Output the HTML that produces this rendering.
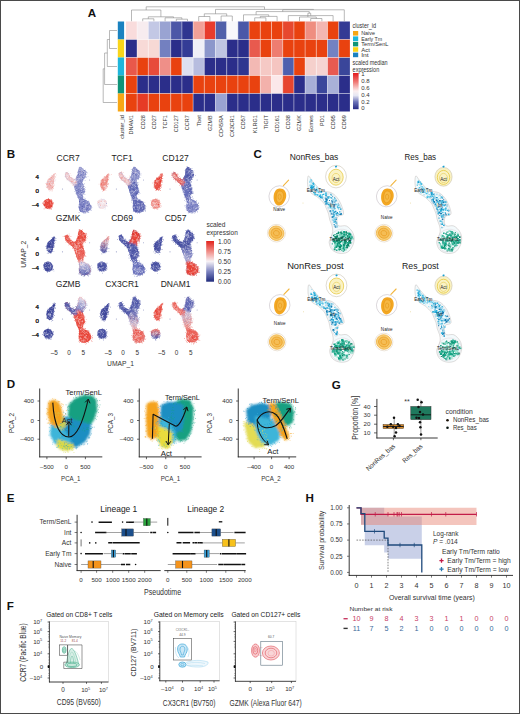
<!DOCTYPE html>
<html><head><meta charset="utf-8"><style>html,body{margin:0;padding:0;background:#fff;overflow:hidden}svg{display:block}</style></head>
<body><svg width="520" height="714" viewBox="0 0 520 714" font-family='"Liberation Sans", sans-serif'>
<rect x="0" y="0" width="520" height="714" fill="#fff"/>
<rect x="117.80" y="21.50" width="6.30" height="18.00" fill="#1a82c0"/>
<rect x="117.80" y="39.50" width="6.30" height="18.00" fill="#f9d51a"/>
<rect x="117.80" y="57.50" width="6.30" height="18.00" fill="#1fb6db"/>
<rect x="117.80" y="75.50" width="6.30" height="18.00" fill="#0f9478"/>
<rect x="117.80" y="93.50" width="6.30" height="18.00" fill="#f7a614"/>
<rect x="125.90" y="21.50" width="11.20" height="18.00" fill="#f9dcdc"/>
<rect x="137.10" y="21.50" width="11.20" height="18.00" fill="#f7ecef"/>
<rect x="148.30" y="21.50" width="11.20" height="18.00" fill="#c3c8e5"/>
<rect x="159.50" y="21.50" width="11.20" height="18.00" fill="#99a3d2"/>
<rect x="170.70" y="21.50" width="11.20" height="18.00" fill="#4c57a7"/>
<rect x="181.90" y="21.50" width="11.20" height="18.00" fill="#2f3590"/>
<rect x="193.10" y="21.50" width="11.20" height="18.00" fill="#f2a097"/>
<rect x="204.30" y="21.50" width="11.20" height="18.00" fill="#e83c2c"/>
<rect x="215.50" y="21.50" width="11.20" height="18.00" fill="#5060aa"/>
<rect x="226.70" y="21.50" width="11.20" height="18.00" fill="#f8f8fb"/>
<rect x="237.90" y="21.50" width="11.20" height="18.00" fill="#4a58a8"/>
<rect x="249.10" y="21.50" width="11.20" height="18.00" fill="#e9420f"/>
<rect x="260.30" y="21.50" width="11.20" height="18.00" fill="#e9420f"/>
<rect x="271.50" y="21.50" width="11.20" height="18.00" fill="#e9420f"/>
<rect x="282.70" y="21.50" width="11.20" height="18.00" fill="#e7482e"/>
<rect x="293.90" y="21.50" width="11.20" height="18.00" fill="#e9420f"/>
<rect x="305.10" y="21.50" width="11.20" height="18.00" fill="#ef8e80"/>
<rect x="316.30" y="21.50" width="11.20" height="18.00" fill="#f3b6b1"/>
<rect x="327.50" y="21.50" width="11.20" height="18.00" fill="#e9420f"/>
<rect x="338.70" y="21.50" width="11.20" height="18.00" fill="#333a94"/>
<rect x="125.90" y="39.50" width="11.20" height="18.00" fill="#2b2e8a"/>
<rect x="137.10" y="39.50" width="11.20" height="18.00" fill="#f8dad7"/>
<rect x="148.30" y="39.50" width="11.20" height="18.00" fill="#f7d9d5"/>
<rect x="159.50" y="39.50" width="11.20" height="18.00" fill="#7380c0"/>
<rect x="170.70" y="39.50" width="11.20" height="18.00" fill="#2b2e8a"/>
<rect x="181.90" y="39.50" width="11.20" height="18.00" fill="#343c96"/>
<rect x="193.10" y="39.50" width="11.20" height="18.00" fill="#f0f0f7"/>
<rect x="204.30" y="39.50" width="11.20" height="18.00" fill="#8c97cb"/>
<rect x="215.50" y="39.50" width="11.20" height="18.00" fill="#bfc5e2"/>
<rect x="226.70" y="39.50" width="11.20" height="18.00" fill="#2b2e8a"/>
<rect x="237.90" y="39.50" width="11.20" height="18.00" fill="#2b2e8a"/>
<rect x="249.10" y="39.50" width="11.20" height="18.00" fill="#e85a4e"/>
<rect x="260.30" y="39.50" width="11.20" height="18.00" fill="#e9420f"/>
<rect x="271.50" y="39.50" width="11.20" height="18.00" fill="#ee7d70"/>
<rect x="282.70" y="39.50" width="11.20" height="18.00" fill="#e9420f"/>
<rect x="293.90" y="39.50" width="11.20" height="18.00" fill="#e9420f"/>
<rect x="305.10" y="39.50" width="11.20" height="18.00" fill="#e9420f"/>
<rect x="316.30" y="39.50" width="11.20" height="18.00" fill="#e9420f"/>
<rect x="327.50" y="39.50" width="11.20" height="18.00" fill="#7282c2"/>
<rect x="338.70" y="39.50" width="11.20" height="18.00" fill="#e9420f"/>
<rect x="125.90" y="57.50" width="11.20" height="18.00" fill="#e9584a"/>
<rect x="137.10" y="57.50" width="11.20" height="18.00" fill="#e9420f"/>
<rect x="148.30" y="57.50" width="11.20" height="18.00" fill="#e74b3b"/>
<rect x="159.50" y="57.50" width="11.20" height="18.00" fill="#ef8f88"/>
<rect x="170.70" y="57.50" width="11.20" height="18.00" fill="#e9420f"/>
<rect x="181.90" y="57.50" width="11.20" height="18.00" fill="#dde0f0"/>
<rect x="193.10" y="57.50" width="11.20" height="18.00" fill="#b7bddf"/>
<rect x="204.30" y="57.50" width="11.20" height="18.00" fill="#2b2e8a"/>
<rect x="215.50" y="57.50" width="11.20" height="18.00" fill="#2b2e8a"/>
<rect x="226.70" y="57.50" width="11.20" height="18.00" fill="#2b2e8a"/>
<rect x="237.90" y="57.50" width="11.20" height="18.00" fill="#2e3690"/>
<rect x="249.10" y="57.50" width="11.20" height="18.00" fill="#f3b9b4"/>
<rect x="260.30" y="57.50" width="11.20" height="18.00" fill="#f5c9c5"/>
<rect x="271.50" y="57.50" width="11.20" height="18.00" fill="#f5c5c1"/>
<rect x="282.70" y="57.50" width="11.20" height="18.00" fill="#4f5fae"/>
<rect x="293.90" y="57.50" width="11.20" height="18.00" fill="#e9420f"/>
<rect x="305.10" y="57.50" width="11.20" height="18.00" fill="#f5d0cc"/>
<rect x="316.30" y="57.50" width="11.20" height="18.00" fill="#f6d4d2"/>
<rect x="327.50" y="57.50" width="11.20" height="18.00" fill="#e85a50"/>
<rect x="338.70" y="57.50" width="11.20" height="18.00" fill="#3a469a"/>
<rect x="125.90" y="75.50" width="11.20" height="18.00" fill="#e9420f"/>
<rect x="137.10" y="75.50" width="11.20" height="18.00" fill="#2b2e8a"/>
<rect x="148.30" y="75.50" width="11.20" height="18.00" fill="#2b2e8a"/>
<rect x="159.50" y="75.50" width="11.20" height="18.00" fill="#2b2e8a"/>
<rect x="170.70" y="75.50" width="11.20" height="18.00" fill="#2b2e8a"/>
<rect x="181.90" y="75.50" width="11.20" height="18.00" fill="#2b2e8a"/>
<rect x="193.10" y="75.50" width="11.20" height="18.00" fill="#e9420f"/>
<rect x="204.30" y="75.50" width="11.20" height="18.00" fill="#e9420f"/>
<rect x="215.50" y="75.50" width="11.20" height="18.00" fill="#e9420f"/>
<rect x="226.70" y="75.50" width="11.20" height="18.00" fill="#e9420f"/>
<rect x="237.90" y="75.50" width="11.20" height="18.00" fill="#e9420f"/>
<rect x="249.10" y="75.50" width="11.20" height="18.00" fill="#e9420f"/>
<rect x="260.30" y="75.50" width="11.20" height="18.00" fill="#f3b1ab"/>
<rect x="271.50" y="75.50" width="11.20" height="18.00" fill="#fbe8ea"/>
<rect x="282.70" y="75.50" width="11.20" height="18.00" fill="#e7452f"/>
<rect x="293.90" y="75.50" width="11.20" height="18.00" fill="#2b2e8a"/>
<rect x="305.10" y="75.50" width="11.20" height="18.00" fill="#a7afd7"/>
<rect x="316.30" y="75.50" width="11.20" height="18.00" fill="#3b479b"/>
<rect x="327.50" y="75.50" width="11.20" height="18.00" fill="#a9b1d8"/>
<rect x="338.70" y="75.50" width="11.20" height="18.00" fill="#2b2e8a"/>
<rect x="125.90" y="93.50" width="11.20" height="18.00" fill="#e9420f"/>
<rect x="137.10" y="93.50" width="11.20" height="18.00" fill="#e63b25"/>
<rect x="148.30" y="93.50" width="11.20" height="18.00" fill="#e9420f"/>
<rect x="159.50" y="93.50" width="11.20" height="18.00" fill="#e9420f"/>
<rect x="170.70" y="93.50" width="11.20" height="18.00" fill="#e9420f"/>
<rect x="181.90" y="93.50" width="11.20" height="18.00" fill="#e9420f"/>
<rect x="193.10" y="93.50" width="11.20" height="18.00" fill="#2b2e8a"/>
<rect x="204.30" y="93.50" width="11.20" height="18.00" fill="#2b2e8a"/>
<rect x="215.50" y="93.50" width="11.20" height="18.00" fill="#9aa3d2"/>
<rect x="226.70" y="93.50" width="11.20" height="18.00" fill="#2b2e8a"/>
<rect x="237.90" y="93.50" width="11.20" height="18.00" fill="#2b2e8a"/>
<rect x="249.10" y="93.50" width="11.20" height="18.00" fill="#2b2e8a"/>
<rect x="260.30" y="93.50" width="11.20" height="18.00" fill="#2b2e8a"/>
<rect x="271.50" y="93.50" width="11.20" height="18.00" fill="#2b2e8a"/>
<rect x="282.70" y="93.50" width="11.20" height="18.00" fill="#2b2e8a"/>
<rect x="293.90" y="93.50" width="11.20" height="18.00" fill="#2b2e8a"/>
<rect x="305.10" y="93.50" width="11.20" height="18.00" fill="#2b2e8a"/>
<rect x="316.30" y="93.50" width="11.20" height="18.00" fill="#2b2e8a"/>
<rect x="327.50" y="93.50" width="11.20" height="18.00" fill="#2b2e8a"/>
<rect x="338.70" y="93.50" width="11.20" height="18.00" fill="#2b2e8a"/>
<line x1="137.10" y1="21.50" x2="137.10" y2="111.50" stroke="#ffffff" stroke-width="0.7" stroke-opacity="0.6"/>
<line x1="148.30" y1="21.50" x2="148.30" y2="111.50" stroke="#ffffff" stroke-width="0.7" stroke-opacity="0.6"/>
<line x1="159.50" y1="21.50" x2="159.50" y2="111.50" stroke="#ffffff" stroke-width="0.7" stroke-opacity="0.6"/>
<line x1="170.70" y1="21.50" x2="170.70" y2="111.50" stroke="#ffffff" stroke-width="0.7" stroke-opacity="0.6"/>
<line x1="181.90" y1="21.50" x2="181.90" y2="111.50" stroke="#ffffff" stroke-width="0.7" stroke-opacity="0.6"/>
<line x1="193.10" y1="21.50" x2="193.10" y2="111.50" stroke="#ffffff" stroke-width="0.7" stroke-opacity="0.6"/>
<line x1="204.30" y1="21.50" x2="204.30" y2="111.50" stroke="#ffffff" stroke-width="0.7" stroke-opacity="0.6"/>
<line x1="215.50" y1="21.50" x2="215.50" y2="111.50" stroke="#ffffff" stroke-width="0.7" stroke-opacity="0.6"/>
<line x1="226.70" y1="21.50" x2="226.70" y2="111.50" stroke="#ffffff" stroke-width="0.7" stroke-opacity="0.6"/>
<line x1="237.90" y1="21.50" x2="237.90" y2="111.50" stroke="#ffffff" stroke-width="0.7" stroke-opacity="0.6"/>
<line x1="249.10" y1="21.50" x2="249.10" y2="111.50" stroke="#ffffff" stroke-width="0.7" stroke-opacity="0.6"/>
<line x1="260.30" y1="21.50" x2="260.30" y2="111.50" stroke="#ffffff" stroke-width="0.7" stroke-opacity="0.6"/>
<line x1="271.50" y1="21.50" x2="271.50" y2="111.50" stroke="#ffffff" stroke-width="0.7" stroke-opacity="0.6"/>
<line x1="282.70" y1="21.50" x2="282.70" y2="111.50" stroke="#ffffff" stroke-width="0.7" stroke-opacity="0.6"/>
<line x1="293.90" y1="21.50" x2="293.90" y2="111.50" stroke="#ffffff" stroke-width="0.7" stroke-opacity="0.6"/>
<line x1="305.10" y1="21.50" x2="305.10" y2="111.50" stroke="#ffffff" stroke-width="0.7" stroke-opacity="0.6"/>
<line x1="316.30" y1="21.50" x2="316.30" y2="111.50" stroke="#ffffff" stroke-width="0.7" stroke-opacity="0.6"/>
<line x1="327.50" y1="21.50" x2="327.50" y2="111.50" stroke="#ffffff" stroke-width="0.7" stroke-opacity="0.6"/>
<line x1="338.70" y1="21.50" x2="338.70" y2="111.50" stroke="#ffffff" stroke-width="0.7" stroke-opacity="0.6"/>
<line x1="125.90" y1="39.50" x2="349.90" y2="39.50" stroke="#ffffff" stroke-width="0.7" stroke-opacity="0.6"/>
<line x1="125.90" y1="57.50" x2="349.90" y2="57.50" stroke="#ffffff" stroke-width="0.7" stroke-opacity="0.6"/>
<line x1="125.90" y1="75.50" x2="349.90" y2="75.50" stroke="#ffffff" stroke-width="0.7" stroke-opacity="0.6"/>
<line x1="125.90" y1="93.50" x2="349.90" y2="93.50" stroke="#ffffff" stroke-width="0.7" stroke-opacity="0.6"/>
<text x="123.70" y="115.20" font-size="5.5" text-anchor="end" fill="#333" transform="rotate(-90 123.7 115.2)">cluster_id</text>
<text x="133.50" y="115.20" font-size="5.5" text-anchor="end" fill="#333" transform="rotate(-90 133.5 115.2)">DNAM1</text>
<text x="144.70" y="115.20" font-size="5.5" text-anchor="end" fill="#333" transform="rotate(-90 144.7 115.2)">CD28</text>
<text x="155.90" y="115.20" font-size="5.5" text-anchor="end" fill="#333" transform="rotate(-90 155.9 115.2)">CD27</text>
<text x="167.10" y="115.20" font-size="5.5" text-anchor="end" fill="#333" transform="rotate(-90 167.1 115.2)">TCF1</text>
<text x="178.30" y="115.20" font-size="5.5" text-anchor="end" fill="#333" transform="rotate(-90 178.3 115.2)">CD127</text>
<text x="189.50" y="115.20" font-size="5.5" text-anchor="end" fill="#333" transform="rotate(-90 189.5 115.2)">CCR7</text>
<text x="200.70" y="115.20" font-size="5.5" text-anchor="end" fill="#333" transform="rotate(-90 200.7 115.2)">Tbet</text>
<text x="211.90" y="115.20" font-size="5.5" text-anchor="end" fill="#333" transform="rotate(-90 211.9 115.2)">GZMB</text>
<text x="223.10" y="115.20" font-size="5.5" text-anchor="end" fill="#333" transform="rotate(-90 223.1 115.2)">CD45RA</text>
<text x="234.30" y="115.20" font-size="5.5" text-anchor="end" fill="#333" transform="rotate(-90 234.3 115.2)">CX3CR1</text>
<text x="245.50" y="115.20" font-size="5.5" text-anchor="end" fill="#333" transform="rotate(-90 245.5 115.2)">CD57</text>
<text x="256.70" y="115.20" font-size="5.5" text-anchor="end" fill="#333" transform="rotate(-90 256.7 115.2)">KLRG1</text>
<text x="267.90" y="115.20" font-size="5.5" text-anchor="end" fill="#333" transform="rotate(-90 267.9 115.2)">TIGIT</text>
<text x="279.10" y="115.20" font-size="5.5" text-anchor="end" fill="#333" transform="rotate(-90 279.1 115.2)">CD161</text>
<text x="290.30" y="115.20" font-size="5.5" text-anchor="end" fill="#333" transform="rotate(-90 290.29999999999995 115.2)">CD38</text>
<text x="301.50" y="115.20" font-size="5.5" text-anchor="end" fill="#333" transform="rotate(-90 301.5 115.2)">GZMK</text>
<text x="312.70" y="115.20" font-size="5.5" text-anchor="end" fill="#333" transform="rotate(-90 312.7 115.2)">Eomes</text>
<text x="323.90" y="115.20" font-size="5.5" text-anchor="end" fill="#333" transform="rotate(-90 323.9 115.2)">PD1</text>
<text x="335.10" y="115.20" font-size="5.5" text-anchor="end" fill="#333" transform="rotate(-90 335.1 115.2)">CD95</text>
<text x="346.30" y="115.20" font-size="5.5" text-anchor="end" fill="#333" transform="rotate(-90 346.29999999999995 115.2)">CD69</text>
<path d="M117,30.5 H109.5 V48.5 H117 M109.5,39.5 H107.3 V66.5 H117 M107.3,53.0 H104.6 V84.5 H117 M104.6,68.8 H103.2 V102.5 H117" stroke="#8a8a8a" stroke-width="0.6" fill="none"/>
<path d="M142.7,21.2 V18.8 H153.9 V21.2" stroke="#8a8a8a" stroke-width="0.6" fill="none"/>
<path d="M176.3,21.2 V19.2 H187.5 V21.2" stroke="#8a8a8a" stroke-width="0.6" fill="none"/>
<path d="M165.1,21.2 V17.8 H181.9 V19.2" stroke="#8a8a8a" stroke-width="0.6" fill="none"/>
<path d="M148.3,18.8 V16.8 H173.5 V17.8" stroke="#8a8a8a" stroke-width="0.6" fill="none"/>
<path d="M131.5,21.2 V10.0 H160.9 V16.8" stroke="#8a8a8a" stroke-width="0.6" fill="none"/>
<path d="M198.7,21.2 V16.5 H209.9 V21.2" stroke="#8a8a8a" stroke-width="0.6" fill="none"/>
<path d="M221.1,21.2 V16.0 H232.3 V21.2" stroke="#8a8a8a" stroke-width="0.6" fill="none"/>
<path d="M204.3,16.5 V13.8 H226.7 V16.0" stroke="#8a8a8a" stroke-width="0.6" fill="none"/>
<path d="M254.7,21.2 V17.8 H265.9 V21.2" stroke="#8a8a8a" stroke-width="0.6" fill="none"/>
<path d="M260.3,17.8 V16.4 H277.1 V21.2" stroke="#8a8a8a" stroke-width="0.6" fill="none"/>
<path d="M243.5,21.2 V14.8 H268.7 V16.4" stroke="#8a8a8a" stroke-width="0.6" fill="none"/>
<path d="M310.7,21.2 V18.5 H321.9 V21.2" stroke="#8a8a8a" stroke-width="0.6" fill="none"/>
<path d="M299.5,21.2 V17.0 H316.3 V18.5" stroke="#8a8a8a" stroke-width="0.6" fill="none"/>
<path d="M288.3,21.2 V15.6 H333.1 V21.2" stroke="#8a8a8a" stroke-width="0.6" fill="none"/>
<path d="M307.9,17.0 V13.2 H310.7 V15.6" stroke="#8a8a8a" stroke-width="0.6" fill="none"/>
<path d="M256.1,14.8 V11.6 H309.3 V13.2" stroke="#8a8a8a" stroke-width="0.6" fill="none"/>
<path d="M282.7,11.6 V9.8 H344.3 V21.2" stroke="#8a8a8a" stroke-width="0.6" fill="none"/>
<path d="M215.5,13.8 V9.4 H313.5 V9.8" stroke="#8a8a8a" stroke-width="0.6" fill="none"/>
<path d="M146.2,10.0 V6.8 H264.5 V9.4" stroke="#8a8a8a" stroke-width="0.6" fill="none"/>
<text x="352.60" y="28.20" font-size="6.4" fill="#333" textLength="23.5" lengthAdjust="spacingAndGlyphs">cluster_id</text>
<rect x="353.00" y="31.00" width="5.20" height="4.60" fill="#f7a614"/>
<text x="361.20" y="35.30" font-size="6.0" fill="#333" textLength="13.8" lengthAdjust="spacingAndGlyphs">Naive</text>
<rect x="353.00" y="36.40" width="5.20" height="4.60" fill="#1fb6db"/>
<text x="361.20" y="40.70" font-size="6.0" fill="#333" textLength="21.0" lengthAdjust="spacingAndGlyphs">Early Tm</text>
<rect x="353.00" y="41.80" width="5.20" height="4.60" fill="#0f9478"/>
<text x="361.20" y="46.10" font-size="6.0" fill="#333" textLength="27.2" lengthAdjust="spacingAndGlyphs">Term/SenL</text>
<rect x="353.00" y="47.20" width="5.20" height="4.60" fill="#f9d51a"/>
<text x="361.20" y="51.50" font-size="6.0" fill="#333" textLength="8.6" lengthAdjust="spacingAndGlyphs">Act</text>
<rect x="353.00" y="52.60" width="5.20" height="4.60" fill="#1a82c0"/>
<text x="361.20" y="56.90" font-size="6.0" fill="#333" textLength="7.5" lengthAdjust="spacingAndGlyphs">Int</text>
<text x="352.60" y="65.20" font-size="6.4" fill="#333" textLength="35" lengthAdjust="spacingAndGlyphs">scaled median</text>
<text x="352.60" y="71.80" font-size="6.4" fill="#333" textLength="26.6" lengthAdjust="spacingAndGlyphs">expression</text>
<defs><linearGradient id="hmg" x1="0" y1="0" x2="0" y2="1"><stop offset="0" stop-color="#e31a1c"/><stop offset="0.25" stop-color="#f07a76"/><stop offset="0.5" stop-color="#fbeff0"/><stop offset="0.62" stop-color="#e6e7f3"/><stop offset="0.8" stop-color="#6c73b8"/><stop offset="1" stop-color="#262a85"/></linearGradient></defs>
<rect x="353.00" y="73.00" width="5.60" height="36.20" fill="url(#hmg)"/>
<text x="361.20" y="76.40" font-size="6.0" fill="#333">1</text>
<text x="361.20" y="83.20" font-size="6.0" fill="#333">0.8</text>
<text x="361.20" y="90.00" font-size="6.0" fill="#333">0.6</text>
<text x="361.20" y="96.80" font-size="6.0" fill="#333">0.4</text>
<text x="361.20" y="103.60" font-size="6.0" fill="#333">0.2</text>
<text x="361.20" y="110.40" font-size="6.0" fill="#333">0</text>
<defs><filter id="bb" x="-20%" y="-20%" width="140%" height="140%"><feGaussianBlur stdDeviation="0.9"/></filter><clipPath id="mclip"><polygon points="-3.8,-17.8 -1.5,-19.0 0.2,-17.3 1.4,-14.4 3.7,-12.6 6.4,-11.4 9.0,-16.3 9.7,-21.6 11.2,-24.2 12.9,-23.6 14.7,-21.3 17.0,-20.1 17.6,-16.1 16.4,-12.6 14.7,-11.5 14.1,-8.6 14.7,-5.7 15.8,-2.3 16.4,1.8 15.2,2.9 14.1,4.7 14.7,8.1 17.6,9.3 20.4,11.0 22.2,14.5 22.2,18.5 19.9,20.8 16.4,22.0 12.9,21.4 10.6,19.7 10.1,16.2 10.6,11.6 10.1,8.1 8.3,4.7 7.2,1.2 6.0,-2.3 4.9,-5.7 2.6,-8.0 -0.3,-10.3 -2.6,-12.6 -3.8,-15.0"/></clipPath></defs>
<g transform="translate(68.6,190.8)"><polygon points="-13.6,-17.3 -14.2,-12.6 -15.0,-8.6 -15.7,-4.0 -17.1,-1.1 -19.4,-0.5 -21.7,-3.4 -22.3,-6.9 -21.4,-10.3 -19.4,-12.6 -17.1,-14.4 -15.0,-16.7" fill="#f1b7b6" stroke="none" stroke-width="0.5"/><polygon points="-24.0,9.3 -20.5,7.9 -17.1,9.3 -15.7,12.7 -16.5,16.2 -19.4,17.9 -22.8,17.4 -24.9,14.5 -25.1,11.0" fill="#e8483d" stroke="none" stroke-width="0.5"/><g clip-path="url(#mclip)"><polygon points="-3.8,-17.8 -1.5,-19.0 0.2,-17.3 1.4,-14.4 3.7,-12.6 6.4,-11.4 9.0,-16.3 9.7,-21.6 11.2,-24.2 12.9,-23.6 14.7,-21.3 17.0,-20.1 17.6,-16.1 16.4,-12.6 14.7,-11.5 14.1,-8.6 14.7,-5.7 15.8,-2.3 16.4,1.8 15.2,2.9 14.1,4.7 14.7,8.1 17.6,9.3 20.4,11.0 22.2,14.5 22.2,18.5 19.9,20.8 16.4,22.0 12.9,21.4 10.6,19.7 10.1,16.2 10.6,11.6 10.1,8.1 8.3,4.7 7.2,1.2 6.0,-2.3 4.9,-5.7 2.6,-8.0 -0.3,-10.3 -2.6,-12.6 -3.8,-15.0" fill="#858bc8" stroke="none" stroke-width="0.5"/><g filter="url(#bb)"><polygon points="-3.8,-17.8 -1.5,-19.0 0.2,-17.3 1.4,-14.4 3.7,-12.6 6.4,-11.4 8.9,-10.3 7.9,-4.8 4.9,-5.7 2.6,-8.0 -0.3,-10.3 -2.6,-12.6 -3.8,-15.0" fill="#f2ccce" stroke="#f2ccce" stroke-width="1.2"/><polygon points="6.4,-11.4 9.0,-16.3 9.7,-21.6 11.2,-24.2 12.9,-23.6 14.7,-21.3 17.0,-20.1 17.6,-16.1 16.4,-12.6 14.7,-11.5 14.1,-8.6 8.9,-10.3" fill="#9094cc" stroke="#9094cc" stroke-width="1.2"/><polygon points="8.9,-10.3 14.1,-8.6 14.7,-5.7 15.8,-2.3 16.4,1.8 15.2,2.9 14.1,4.7 14.7,8.1 10.4,8.7 10.1,8.1 8.3,4.7 7.2,1.2 6.0,-2.3 4.9,-5.7 7.9,-4.8" fill="#858bc8" stroke="#858bc8" stroke-width="1.2"/><polygon points="14.7,8.1 17.6,9.3 20.4,11.0 22.2,14.5 22.2,18.5 19.9,20.8 16.4,22.0 12.9,21.4 10.6,19.7 10.1,16.2 10.6,11.6 10.4,8.7" fill="#7b81c4" stroke="#7b81c4" stroke-width="1.2"/></g></g><path d="M-17.6 -11.3h.65v.65h-.65zM-14.7 -15.7h.65v.65h-.65zM-16.6 -11.2h.65v.65h-.65zM-19.3 -2.0h.65v.65h-.65zM-16.8 -5.7h.65v.65h-.65zM-19.0 -10.7h.65v.65h-.65zM-19.5 -11.3h.65v.65h-.65zM-20.3 -3.0h.65v.65h-.65zM-15.2 -12.0h.65v.65h-.65zM-20.7 -8.6h.65v.65h-.65zM-18.9 -0.9h.65v.65h-.65zM-18.6 -2.2h.65v.65h-.65zM-17.6 -8.5h.65v.65h-.65zM-14.6 -15.4h.65v.65h-.65zM-18.7 -1.5h.65v.65h-.65zM-21.6 -8.4h.65v.65h-.65zM-18.2 -1.1h.65v.65h-.65zM-15.6 -13.3h.65v.65h-.65zM-16.0 -13.8h.65v.65h-.65zM-16.8 -6.3h.65v.65h-.65zM-20.9 10.3h.65v.65h-.65zM-17.0 13.0h.65v.65h-.65zM-16.2 12.7h.65v.65h-.65zM-17.7 16.7h.65v.65h-.65zM-21.2 10.4h.65v.65h-.65zM-24.7 11.1h.65v.65h-.65zM-20.7 13.9h.65v.65h-.65zM-18.6 12.0h.65v.65h-.65zM-17.9 13.0h.65v.65h-.65zM-24.1 11.7h.65v.65h-.65zM-18.7 11.5h.65v.65h-.65zM-21.8 17.3h.65v.65h-.65zM-21.3 16.4h.65v.65h-.65zM-23.6 15.7h.65v.65h-.65zM-24.7 12.9h.65v.65h-.65zM-17.9 9.5h.65v.65h-.65zM-1.4 -13.9h.65v.65h-.65zM3.9 -9.6h.65v.65h-.65zM-0.1 -16.5h.65v.65h-.65zM4.2 -6.9h.65v.65h-.65zM-1.4 -13.4h.65v.65h-.65zM3.4 -7.9h.65v.65h-.65zM4.2 -12.1h.65v.65h-.65zM5.0 -5.8h.65v.65h-.65zM3.7 -9.4h.65v.65h-.65zM-2.6 -16.1h.65v.65h-.65zM4.3 -12.3h.65v.65h-.65zM7.7 -7.6h.65v.65h-.65zM5.2 -9.8h.65v.65h-.65zM6.1 -9.6h.65v.65h-.65zM-2.0 -12.8h.65v.65h-.65zM5.4 -6.6h.65v.65h-.65zM0.1 -11.6h.65v.65h-.65zM0.2 -16.7h.65v.65h-.65zM5.5 -9.9h.65v.65h-.65zM15.8 -14.1h.65v.65h-.65zM10.5 -20.5h.65v.65h-.65zM14.8 -20.1h.65v.65h-.65zM16.1 -14.2h.65v.65h-.65zM13.9 -20.6h.65v.65h-.65zM15.4 -19.0h.65v.65h-.65zM11.2 -10.0h.65v.65h-.65zM10.3 -16.8h.65v.65h-.65zM16.8 -15.6h.65v.65h-.65zM13.8 -9.1h.65v.65h-.65zM11.7 -17.9h.65v.65h-.65zM13.8 -21.2h.65v.65h-.65zM8.8 -12.5h.65v.65h-.65zM13.6 -12.9h.65v.65h-.65zM13.9 -11.1h.65v.65h-.65zM17.1 -19.0h.65v.65h-.65zM12.2 -22.3h.65v.65h-.65zM13.2 -19.0h.65v.65h-.65zM13.2 -18.1h.65v.65h-.65zM14.2 -19.8h.65v.65h-.65zM9.8 -20.5h.65v.65h-.65zM11.7 -14.2h.65v.65h-.65zM11.9 -20.2h.65v.65h-.65zM13.4 -12.9h.65v.65h-.65zM10.9 -12.7h.65v.65h-.65zM12.9 -12.3h.65v.65h-.65zM14.5 7.5h.65v.65h-.65zM16.0 1.6h.65v.65h-.65zM7.7 -1.5h.65v.65h-.65zM15.0 1.4h.65v.65h-.65zM12.1 -1.4h.65v.65h-.65zM14.1 -7.7h.65v.65h-.65zM13.6 -8.7h.65v.65h-.65zM14.8 -0.5h.65v.65h-.65zM10.7 -7.1h.65v.65h-.65zM14.1 -4.4h.65v.65h-.65zM12.2 -5.9h.65v.65h-.65zM9.3 3.6h.65v.65h-.65zM8.0 0.4h.65v.65h-.65zM11.1 -3.1h.65v.65h-.65zM14.8 -3.8h.65v.65h-.65zM12.7 -4.0h.65v.65h-.65zM11.8 -3.5h.65v.65h-.65zM15.1 1.4h.65v.65h-.65zM10.8 7.8h.65v.65h-.65zM12.4 0.1h.65v.65h-.65zM12.8 -6.1h.65v.65h-.65zM5.8 -5.1h.65v.65h-.65zM13.2 -1.9h.65v.65h-.65zM8.4 -1.4h.65v.65h-.65zM12.6 -5.8h.65v.65h-.65zM12.2 5.5h.65v.65h-.65zM11.0 -5.8h.65v.65h-.65zM13.9 -8.6h.65v.65h-.65zM14.8 -3.0h.65v.65h-.65zM14.1 -8.1h.65v.65h-.65zM8.6 4.5h.65v.65h-.65zM20.6 16.3h.65v.65h-.65zM21.1 16.7h.65v.65h-.65zM21.4 16.4h.65v.65h-.65zM17.2 12.5h.65v.65h-.65zM14.4 11.2h.65v.65h-.65zM10.4 14.8h.65v.65h-.65zM13.1 18.1h.65v.65h-.65zM18.0 21.4h.65v.65h-.65zM12.5 18.9h.65v.65h-.65zM14.4 9.8h.65v.65h-.65zM13.8 21.1h.65v.65h-.65zM17.8 10.9h.65v.65h-.65zM13.3 12.5h.65v.65h-.65zM19.9 20.5h.65v.65h-.65zM19.0 20.8h.65v.65h-.65zM20.0 17.9h.65v.65h-.65zM16.2 11.0h.65v.65h-.65zM17.6 13.2h.65v.65h-.65zM20.9 15.2h.65v.65h-.65zM16.5 19.8h.65v.65h-.65zM20.6 19.8h.65v.65h-.65zM16.4 14.3h.65v.65h-.65zM11.1 10.8h.65v.65h-.65zM21.0 19.6h.65v.65h-.65zM15.5 21.6h.65v.65h-.65zM15.3 17.2h.65v.65h-.65z" fill="#ffffff" fill-opacity="0.8"/><path d="M-17.2 -10.8h.65v.65h-.65zM-16.0 -13.5h.65v.65h-.65zM-15.3 -7.6h.65v.65h-.65zM-20.1 -11.0h.65v.65h-.65zM-14.3 -12.9h.65v.65h-.65zM-18.3 -9.2h.65v.65h-.65zM-17.8 -11.8h.65v.65h-.65zM-20.0 -9.6h.65v.65h-.65zM-15.6 -13.4h.65v.65h-.65zM-20.9 -4.6h.65v.65h-.65zM-23.2 10.2h.65v.65h-.65zM3.3 -9.7h.65v.65h-.65zM0.7 -14.7h.65v.65h-.65zM7.3 -9.4h.65v.65h-.65z" fill="#f09e9a"/><path d="M-14.8 -14.6h.65v.65h-.65zM-20.9 -5.7h.65v.65h-.65zM-17.7 -2.1h.65v.65h-.65zM-18.1 -7.3h.65v.65h-.65zM-18.5 -1.0h.65v.65h-.65zM-19.4 -8.0h.65v.65h-.65zM-16.5 -8.4h.65v.65h-.65zM-21.2 -9.4h.65v.65h-.65zM-21.8 -7.8h.65v.65h-.65zM-17.6 -9.3h.65v.65h-.65zM-21.4 -5.0h.65v.65h-.65zM-17.9 -5.5h.65v.65h-.65zM-20.6 -7.4h.65v.65h-.65zM0.8 -11.8h.65v.65h-.65zM-2.9 -17.6h.65v.65h-.65zM4.6 -10.9h.65v.65h-.65zM2.6 -9.7h.65v.65h-.65zM6.0 -8.9h.65v.65h-.65zM3.3 -12.9h.65v.65h-.65zM-2.9 -16.4h.65v.65h-.65zM6.9 -9.8h.65v.65h-.65zM1.2 -13.5h.65v.65h-.65zM6.6 -8.9h.65v.65h-.65zM7.8 -7.7h.65v.65h-.65zM0.5 -15.5h.65v.65h-.65zM12.8 -19.9h.65v.65h-.65zM14.3 -4.7h.65v.65h-.65z" fill="#f1b9b8"/><path d="M-19.8 -7.4h.65v.65h-.65zM-15.4 -15.2h.65v.65h-.65zM-17.0 -7.5h.65v.65h-.65zM-14.9 -15.3h.65v.65h-.65zM-17.1 -13.2h.65v.65h-.65zM-14.7 -15.0h.65v.65h-.65zM-15.0 -16.4h.65v.65h-.65zM-15.4 -12.7h.65v.65h-.65zM-19.5 -2.9h.65v.65h-.65zM-15.5 -6.1h.65v.65h-.65zM5.8 -7.6h.65v.65h-.65zM-0.7 -11.8h.65v.65h-.65zM1.6 -11.7h.65v.65h-.65zM0.6 -16.1h.65v.65h-.65zM-1.3 -18.0h.65v.65h-.65zM-3.0 -18.1h.65v.65h-.65zM1.3 -12.9h.65v.65h-.65zM2.0 -11.4h.65v.65h-.65zM6.6 -8.3h.65v.65h-.65zM-2.9 -16.4h.65v.65h-.65zM-3.6 -15.4h.65v.65h-.65zM19.1 15.4h.65v.65h-.65z" fill="#f2d4d6"/><path d="M-18.2 -5.9h.65v.65h-.65zM-19.2 -7.7h.65v.65h-.65zM-16.4 -3.5h.65v.65h-.65zM-22.9 14.8h.65v.65h-.65zM-18.5 10.6h.65v.65h-.65zM-21.3 11.9h.65v.65h-.65zM-22.8 10.1h.65v.65h-.65zM-21.3 14.2h.65v.65h-.65zM-2.3 -18.1h.65v.65h-.65z" fill="#ec6f66"/><path d="M-19.0 -2.2h.65v.65h-.65zM-20.3 -11.3h.65v.65h-.65zM-15.1 -11.9h.65v.65h-.65zM-17.9 -7.8h.65v.65h-.65zM-16.3 -3.8h.65v.65h-.65zM-19.6 -6.7h.65v.65h-.65zM-17.5 -13.5h.65v.65h-.65zM-19.8 -11.5h.65v.65h-.65zM-24.4 12.6h.65v.65h-.65zM-22.2 10.9h.65v.65h-.65zM-24.6 12.6h.65v.65h-.65zM3.0 -9.8h.65v.65h-.65zM6.6 -8.9h.65v.65h-.65zM-1.5 -17.6h.65v.65h-.65z" fill="#ee847c"/><path d="M-19.4 -9.7h.65v.65h-.65zM-18.4 -11.8h.65v.65h-.65zM-14.8 -10.1h.65v.65h-.65zM-21.4 -4.9h.65v.65h-.65zM-21.5 -8.5h.65v.65h-.65zM7.0 -7.0h.65v.65h-.65zM16.1 -19.9h.65v.65h-.65zM13.1 -14.1h.65v.65h-.65zM13.9 -18.6h.65v.65h-.65zM7.3 -11.2h.65v.65h-.65zM15.8 -20.0h.65v.65h-.65zM12.7 -11.4h.65v.65h-.65zM11.3 -23.2h.65v.65h-.65zM16.2 -19.2h.65v.65h-.65zM12.9 -22.5h.65v.65h-.65zM12.2 -17.3h.65v.65h-.65zM10.6 -17.7h.65v.65h-.65zM10.9 -2.1h.65v.65h-.65zM10.8 -3.2h.65v.65h-.65zM15.4 -2.0h.65v.65h-.65zM15.1 -0.8h.65v.65h-.65zM6.6 -4.8h.65v.65h-.65zM15.6 -2.4h.65v.65h-.65zM13.2 -5.9h.65v.65h-.65zM12.4 -7.3h.65v.65h-.65zM10.8 -1.9h.65v.65h-.65zM11.3 4.5h.65v.65h-.65zM11.5 -8.7h.65v.65h-.65zM14.1 6.1h.65v.65h-.65zM11.5 1.8h.65v.65h-.65zM6.4 -4.9h.65v.65h-.65zM11.7 -2.5h.65v.65h-.65zM11.5 -2.9h.65v.65h-.65zM14.6 9.7h.65v.65h-.65zM16.8 13.6h.65v.65h-.65zM18.1 13.6h.65v.65h-.65zM18.0 12.0h.65v.65h-.65zM12.4 16.1h.65v.65h-.65zM11.9 17.8h.65v.65h-.65zM16.3 13.7h.65v.65h-.65zM12.1 9.3h.65v.65h-.65zM12.4 9.6h.65v.65h-.65zM11.5 11.3h.65v.65h-.65zM11.9 18.3h.65v.65h-.65zM19.0 13.1h.65v.65h-.65zM10.7 18.9h.65v.65h-.65zM16.9 15.2h.65v.65h-.65zM17.4 10.2h.65v.65h-.65z" fill="#b2b3da"/><path d="M-17.8 -7.9h.65v.65h-.65zM-17.4 -6.6h.65v.65h-.65zM-15.5 -8.8h.65v.65h-.65zM-0.1 -10.9h.65v.65h-.65zM3.9 -11.1h.65v.65h-.65zM6.2 -7.6h.65v.65h-.65zM8.0 -7.5h.65v.65h-.65zM-0.8 -15.2h.65v.65h-.65zM3.6 -8.1h.65v.65h-.65zM7.4 -9.1h.65v.65h-.65zM1.5 -12.6h.65v.65h-.65zM4.7 -7.6h.65v.65h-.65zM12.9 -17.4h.65v.65h-.65zM8.7 -14.6h.65v.65h-.65zM11.5 -23.3h.65v.65h-.65zM15.5 -17.6h.65v.65h-.65zM12.8 -14.0h.65v.65h-.65zM10.9 -22.2h.65v.65h-.65zM11.5 -0.9h.65v.65h-.65zM11.0 -8.9h.65v.65h-.65zM10.0 -3.1h.65v.65h-.65zM16.8 19.6h.65v.65h-.65zM14.1 9.5h.65v.65h-.65zM13.1 18.8h.65v.65h-.65zM19.0 19.6h.65v.65h-.65z" fill="#f4eef4"/><path d="M-16.8 -8.8h.65v.65h-.65zM-18.0 -11.0h.65v.65h-.65zM-3.0 -13.5h.65v.65h-.65zM0.2 -15.9h.65v.65h-.65zM4.4 -8.9h.65v.65h-.65zM-1.8 -12.0h.65v.65h-.65zM-1.1 -16.6h.65v.65h-.65zM3.1 -8.6h.65v.65h-.65zM17.2 -17.3h.65v.65h-.65zM9.7 -12.5h.65v.65h-.65zM11.0 -18.3h.65v.65h-.65zM16.1 -19.2h.65v.65h-.65zM14.3 -14.7h.65v.65h-.65zM12.9 -20.2h.65v.65h-.65zM14.7 -15.5h.65v.65h-.65zM12.3 -21.7h.65v.65h-.65zM15.9 -19.2h.65v.65h-.65zM7.3 -12.8h.65v.65h-.65zM10.9 4.0h.65v.65h-.65zM6.9 -2.3h.65v.65h-.65zM6.3 -3.8h.65v.65h-.65zM6.0 -5.3h.65v.65h-.65zM12.3 -1.8h.65v.65h-.65zM10.2 4.6h.65v.65h-.65zM10.4 2.2h.65v.65h-.65zM12.9 -1.9h.65v.65h-.65zM13.3 -2.3h.65v.65h-.65zM12.9 10.4h.65v.65h-.65zM17.1 15.5h.65v.65h-.65zM17.0 19.1h.65v.65h-.65zM16.3 17.1h.65v.65h-.65zM19.8 11.2h.65v.65h-.65zM11.0 12.8h.65v.65h-.65zM19.0 14.8h.65v.65h-.65z" fill="#d3d0e7"/><path d="M-24.1 10.1h.65v.65h-.65zM-20.8 16.5h.65v.65h-.65zM-17.1 14.4h.65v.65h-.65zM-17.9 12.3h.65v.65h-.65zM-22.5 13.5h.65v.65h-.65zM-24.4 12.9h.65v.65h-.65zM-21.6 9.8h.65v.65h-.65zM-18.9 17.2h.65v.65h-.65zM-17.0 9.9h.65v.65h-.65zM-16.5 12.3h.65v.65h-.65z" fill="#e8453a"/><path d="M-19.5 8.9h.65v.65h-.65zM-20.9 10.7h.65v.65h-.65zM-21.8 11.7h.65v.65h-.65zM-22.5 15.6h.65v.65h-.65zM-20.4 9.8h.65v.65h-.65zM-21.7 11.1h.65v.65h-.65zM-20.2 14.9h.65v.65h-.65zM-18.9 10.7h.65v.65h-.65zM-25.0 13.2h.65v.65h-.65zM-23.2 10.1h.65v.65h-.65zM-23.7 9.8h.65v.65h-.65zM-21.5 17.4h.65v.65h-.65zM-23.5 11.3h.65v.65h-.65zM-17.0 12.1h.65v.65h-.65zM-22.1 10.3h.65v.65h-.65zM-23.2 12.6h.65v.65h-.65zM-17.2 15.6h.65v.65h-.65zM-19.8 10.9h.65v.65h-.65zM-16.3 13.8h.65v.65h-.65zM-20.3 9.9h.65v.65h-.65zM-24.6 14.0h.65v.65h-.65z" fill="#e63024"/><path d="M-23.1 10.3h.65v.65h-.65zM-17.6 12.4h.65v.65h-.65zM-22.1 12.0h.65v.65h-.65zM-23.0 15.7h.65v.65h-.65zM-18.1 10.8h.65v.65h-.65zM-23.0 12.1h.65v.65h-.65zM-17.8 16.8h.65v.65h-.65zM-22.6 13.6h.65v.65h-.65z" fill="#ea5a50"/><path d="M7.3 -8.9h.65v.65h-.65zM13.7 -11.0h.65v.65h-.65zM10.2 -10.5h.65v.65h-.65zM12.1 -16.7h.65v.65h-.65zM13.6 -19.1h.65v.65h-.65zM13.3 -13.7h.65v.65h-.65zM13.1 -11.1h.65v.65h-.65zM11.6 -21.3h.65v.65h-.65zM11.8 -15.3h.65v.65h-.65zM14.6 -13.9h.65v.65h-.65zM11.8 -22.0h.65v.65h-.65zM12.2 -15.9h.65v.65h-.65zM13.2 -15.1h.65v.65h-.65zM11.9 -16.4h.65v.65h-.65zM13.9 -1.3h.65v.65h-.65zM11.6 -2.5h.65v.65h-.65zM11.0 5.6h.65v.65h-.65zM11.6 -2.6h.65v.65h-.65zM14.8 1.5h.65v.65h-.65zM10.5 5.1h.65v.65h-.65zM12.0 -6.6h.65v.65h-.65zM13.4 -5.2h.65v.65h-.65zM8.8 -2.6h.65v.65h-.65zM14.4 -6.7h.65v.65h-.65zM13.1 -2.9h.65v.65h-.65zM12.5 1.8h.65v.65h-.65zM8.4 -7.2h.65v.65h-.65zM11.5 -3.9h.65v.65h-.65zM11.3 -8.6h.65v.65h-.65zM11.6 -8.6h.65v.65h-.65zM15.3 0.2h.65v.65h-.65zM16.9 11.9h.65v.65h-.65zM14.0 9.6h.65v.65h-.65zM13.9 8.9h.65v.65h-.65zM15.1 15.6h.65v.65h-.65zM19.8 12.2h.65v.65h-.65zM15.8 17.4h.65v.65h-.65zM18.6 16.5h.65v.65h-.65zM17.2 20.8h.65v.65h-.65zM11.5 18.6h.65v.65h-.65zM10.7 12.6h.65v.65h-.65zM16.0 9.6h.65v.65h-.65zM11.5 17.8h.65v.65h-.65zM13.8 11.2h.65v.65h-.65zM13.4 13.7h.65v.65h-.65zM15.7 14.5h.65v.65h-.65zM11.4 12.5h.65v.65h-.65z" fill="#9196cd"/><path d="M11.6 -19.9h.65v.65h-.65zM12.0 -15.7h.65v.65h-.65zM11.2 -17.7h.65v.65h-.65zM13.9 -11.5h.65v.65h-.65zM13.4 -14.3h.65v.65h-.65zM16.6 -17.1h.65v.65h-.65zM14.1 -18.2h.65v.65h-.65zM8.1 -10.8h.65v.65h-.65zM12.4 -5.5h.65v.65h-.65zM12.5 -8.5h.65v.65h-.65zM6.0 -5.0h.65v.65h-.65zM15.0 0.9h.65v.65h-.65zM11.3 -5.5h.65v.65h-.65zM10.7 -6.3h.65v.65h-.65zM11.2 -5.4h.65v.65h-.65zM15.1 -4.4h.65v.65h-.65zM8.9 -0.8h.65v.65h-.65zM13.2 5.4h.65v.65h-.65zM9.5 -6.8h.65v.65h-.65zM11.5 -4.2h.65v.65h-.65zM9.8 -7.1h.65v.65h-.65zM11.7 -9.3h.65v.65h-.65zM9.7 -5.2h.65v.65h-.65zM10.8 -2.4h.65v.65h-.65zM12.9 1.4h.65v.65h-.65zM11.8 -9.3h.65v.65h-.65zM11.8 -6.6h.65v.65h-.65zM18.4 11.6h.65v.65h-.65zM15.4 16.1h.65v.65h-.65zM13.5 12.2h.65v.65h-.65zM14.1 19.6h.65v.65h-.65zM13.0 14.1h.65v.65h-.65zM21.2 18.5h.65v.65h-.65zM19.0 13.5h.65v.65h-.65zM13.8 17.0h.65v.65h-.65zM12.5 16.7h.65v.65h-.65zM15.1 19.5h.65v.65h-.65zM13.9 8.6h.65v.65h-.65zM13.2 11.5h.65v.65h-.65zM17.0 12.4h.65v.65h-.65z" fill="#7078c0"/><path d="M9.5 -16.7h.65v.65h-.65zM13.4 -13.3h.65v.65h-.65zM11.0 -19.4h.65v.65h-.65zM11.7 -10.2h.65v.65h-.65zM11.7 -0.8h.65v.65h-.65zM8.8 1.1h.65v.65h-.65zM10.6 -7.7h.65v.65h-.65zM11.8 13.0h.65v.65h-.65zM17.9 13.0h.65v.65h-.65zM14.0 21.4h.65v.65h-.65zM19.8 14.0h.65v.65h-.65zM12.1 18.6h.65v.65h-.65zM18.7 17.4h.65v.65h-.65zM13.8 17.3h.65v.65h-.65zM19.0 13.4h.65v.65h-.65zM11.8 19.9h.65v.65h-.65zM20.3 12.8h.65v.65h-.65zM16.1 21.1h.65v.65h-.65zM16.9 19.1h.65v.65h-.65z" fill="#5058a7"/><path d="M13.3 -11.7h.65v.65h-.65zM11.6 -15.3h.65v.65h-.65zM9.2 -16.3h.65v.65h-.65zM8.4 -13.6h.65v.65h-.65zM7.6 -11.4h.65v.65h-.65zM12.3 -16.8h.65v.65h-.65zM8.0 -13.0h.65v.65h-.65zM16.2 -14.2h.65v.65h-.65zM10.0 -20.8h.65v.65h-.65zM7.5 -2.4h.65v.65h-.65zM14.2 8.0h.65v.65h-.65zM13.3 -1.6h.65v.65h-.65zM11.4 -1.0h.65v.65h-.65zM6.3 -4.1h.65v.65h-.65zM13.5 -5.0h.65v.65h-.65zM10.9 2.9h.65v.65h-.65zM10.5 -2.0h.65v.65h-.65zM15.8 0.9h.65v.65h-.65zM9.2 2.4h.65v.65h-.65zM6.8 -4.8h.65v.65h-.65zM7.5 -2.1h.65v.65h-.65zM11.3 -3.4h.65v.65h-.65zM11.4 7.6h.65v.65h-.65zM11.5 15.1h.65v.65h-.65zM11.9 19.9h.65v.65h-.65zM11.6 20.3h.65v.65h-.65zM22.0 17.8h.65v.65h-.65zM13.8 18.8h.65v.65h-.65zM14.0 8.4h.65v.65h-.65zM13.9 15.0h.65v.65h-.65zM10.2 16.8h.65v.65h-.65zM16.9 17.4h.65v.65h-.65zM12.9 18.2h.65v.65h-.65zM10.3 15.1h.65v.65h-.65zM14.6 13.3h.65v.65h-.65zM16.4 11.1h.65v.65h-.65zM14.4 8.2h.65v.65h-.65zM21.3 14.1h.65v.65h-.65zM16.3 20.0h.65v.65h-.65zM10.2 15.6h.65v.65h-.65zM15.7 14.9h.65v.65h-.65zM13.7 15.5h.65v.65h-.65zM16.1 17.7h.65v.65h-.65z" fill="#6068b4"/><path d="M14.4 -15.9h.65v.65h-.65zM13.3 -19.6h.65v.65h-.65zM15.4 -20.9h.65v.65h-.65zM14.6 -18.4h.65v.65h-.65zM10.9 8.4h.65v.65h-.65zM9.1 -1.8h.65v.65h-.65zM9.4 0.4h.65v.65h-.65zM12.3 1.3h.65v.65h-.65zM14.7 -4.8h.65v.65h-.65zM13.1 4.0h.65v.65h-.65zM14.5 18.6h.65v.65h-.65zM14.8 10.5h.65v.65h-.65zM10.3 16.0h.65v.65h-.65zM17.9 18.7h.65v.65h-.65zM18.7 14.3h.65v.65h-.65z" fill="#40489a"/><path d="M10.6 10.2h.65v.65h-.65zM13.2 15.4h.65v.65h-.65z" fill="#30388e"/><path d="M-13.5 -14.6h.6v.6h-.6zM-15.7 -9.2h.6v.6h-.6zM-15.4 -3.1h.6v.6h-.6zM-15.4 -4.7h.6v.6h-.6zM-22.4 -3.8h.6v.6h-.6zM-21.3 -11.1h.6v.6h-.6zM-13.4 -17.9h.6v.6h-.6zM-17.9 8.3h.6v.6h-.6zM-16.9 10.4h.6v.6h-.6zM2.8 -13.4h.6v.6h-.6z" fill="#ee847c" fill-opacity="0.85"/><path d="M-12.5 -16.1h.6v.6h-.6zM-13.4 -13.8h.6v.6h-.6zM-14.2 -16.7h.6v.6h-.6zM-13.8 -10.9h.6v.6h-.6zM-14.4 -6.0h.6v.6h-.6zM-14.7 -7.1h.6v.6h-.6zM-16.1 -3.9h.6v.6h-.6zM-20.6 -1.2h.6v.6h-.6zM-19.4 -1.8h.6v.6h-.6zM-21.6 -4.5h.6v.6h-.6zM-20.9 -2.6h.6v.6h-.6zM-22.3 -3.6h.6v.6h-.6zM-21.9 -6.3h.6v.6h-.6zM-21.5 -8.0h.6v.6h-.6zM-20.2 -12.9h.6v.6h-.6zM-18.9 -12.7h.6v.6h-.6zM-16.1 -14.7h.6v.6h-.6zM-14.3 -15.3h.6v.6h-.6zM-17.1 -15.4h.6v.6h-.6zM-15.2 -16.1h.6v.6h-.6zM-0.1 -17.0h.6v.6h-.6zM-2.1 -18.5h.6v.6h-.6zM-1.4 -18.8h.6v.6h-.6zM1.2 -17.5h.6v.6h-.6zM2.2 -15.4h.6v.6h-.6zM3.7 -13.0h.6v.6h-.6zM4.2 -11.6h.6v.6h-.6zM5.3 -12.1h.6v.6h-.6zM4.1 -12.4h.6v.6h-.6zM7.1 -13.1h.6v.6h-.6zM4.6 -5.3h.6v.6h-.6zM5.1 -5.1h.6v.6h-.6zM4.0 -5.9h.6v.6h-.6zM3.2 -7.1h.6v.6h-.6zM3.8 -8.3h.6v.6h-.6zM-1.0 -11.3h.6v.6h-.6zM-3.2 -16.1h.6v.6h-.6z" fill="#f1b9b8" fill-opacity="0.85"/><path d="M-14.6 -13.2h.6v.6h-.6zM-13.1 -13.4h.6v.6h-.6zM-15.5 -8.9h.6v.6h-.6zM-14.9 -5.4h.6v.6h-.6zM-16.3 -2.4h.6v.6h-.6zM-19.3 -0.0h.6v.6h-.6zM-21.4 -5.2h.6v.6h-.6zM-22.9 -4.3h.6v.6h-.6zM-16.3 -13.8h.6v.6h-.6zM-18.9 -14.7h.6v.6h-.6zM-17.2 -15.5h.6v.6h-.6zM-3.3 -17.7h.6v.6h-.6zM2.0 -13.8h.6v.6h-.6zM3.3 -12.8h.6v.6h-.6zM7.2 -13.8h.6v.6h-.6zM3.8 -5.3h.6v.6h-.6zM3.3 -6.8h.6v.6h-.6zM2.8 -7.5h.6v.6h-.6zM2.2 -8.3h.6v.6h-.6zM3.0 -7.8h.6v.6h-.6zM1.8 -7.6h.6v.6h-.6zM-1.8 -10.7h.6v.6h-.6zM-2.5 -13.4h.6v.6h-.6zM-2.6 -14.7h.6v.6h-.6zM-2.7 -13.2h.6v.6h-.6zM-4.2 -14.6h.6v.6h-.6zM-2.6 -17.3h.6v.6h-.6z" fill="#f2d4d6" fill-opacity="0.85"/><path d="M-13.7 -17.2h.6v.6h-.6zM-15.0 -9.8h.6v.6h-.6zM-15.3 -2.8h.6v.6h-.6zM-16.8 -2.7h.6v.6h-.6zM-16.4 -1.7h.6v.6h-.6zM-16.2 -0.2h.6v.6h-.6zM-17.8 -0.2h.6v.6h-.6zM-20.0 -1.6h.6v.6h-.6zM-23.2 -7.6h.6v.6h-.6zM-14.9 -17.1h.6v.6h-.6zM0.3 -14.0h.6v.6h-.6zM0.6 -15.6h.6v.6h-.6zM-1.9 -11.3h.6v.6h-.6zM-2.0 -12.6h.6v.6h-.6z" fill="#f09e9a" fill-opacity="0.85"/><path d="M-13.1 -11.4h.6v.6h-.6zM-21.6 -5.7h.6v.6h-.6zM-22.3 -8.6h.6v.6h-.6zM-2.8 -18.6h.6v.6h-.6zM9.9 -17.4h.6v.6h-.6zM9.7 -23.2h.6v.6h-.6zM8.8 -17.7h.6v.6h-.6zM15.6 -10.3h.6v.6h-.6zM14.7 -6.0h.6v.6h-.6zM16.9 0.5h.6v.6h-.6zM18.5 10.9h.6v.6h-.6zM18.2 21.5h.6v.6h-.6zM5.5 -5.4h.6v.6h-.6zM-2.5 -15.4h.6v.6h-.6zM-3.4 -15.5h.6v.6h-.6z" fill="#d3d0e7" fill-opacity="0.85"/><path d="M-13.4 -10.0h.6v.6h-.6zM-20.5 -11.0h.6v.6h-.6zM-14.6 -16.9h.6v.6h-.6zM-0.6 -19.7h.6v.6h-.6zM-3.5 -18.0h.6v.6h-.6zM0.7 -15.3h.6v.6h-.6zM4.0 -12.8h.6v.6h-.6zM6.5 -11.7h.6v.6h-.6zM6.5 -12.5h.6v.6h-.6zM12.2 -24.8h.6v.6h-.6zM14.6 -22.5h.6v.6h-.6zM17.4 -15.8h.6v.6h-.6zM1.0 -8.9h.6v.6h-.6zM-0.2 -9.9h.6v.6h-.6zM-0.7 -10.9h.6v.6h-.6z" fill="#f4eef4" fill-opacity="0.85"/><path d="M-15.2 -8.2h.6v.6h-.6zM-15.5 -5.1h.6v.6h-.6zM-23.8 10.3h.6v.6h-.6zM-23.7 14.8h.6v.6h-.6zM-24.2 10.1h.6v.6h-.6z" fill="#ec6f66" fill-opacity="0.85"/><path d="M-22.0 -7.0h.6v.6h-.6zM-23.6 9.4h.6v.6h-.6zM-20.4 7.7h.6v.6h-.6zM-20.2 7.6h.6v.6h-.6zM-16.0 12.1h.6v.6h-.6zM-16.8 15.5h.6v.6h-.6zM-15.2 12.0h.6v.6h-.6zM-16.6 16.2h.6v.6h-.6zM-18.3 16.7h.6v.6h-.6zM-19.8 18.1h.6v.6h-.6zM-21.4 17.7h.6v.6h-.6zM-25.9 12.0h.6v.6h-.6zM-24.5 10.0h.6v.6h-.6z" fill="#ea5a50" fill-opacity="0.85"/><path d="M-20.5 7.6h.6v.6h-.6zM-17.4 9.8h.6v.6h-.6zM-17.5 8.6h.6v.6h-.6zM-15.5 12.9h.6v.6h-.6zM-15.8 11.3h.6v.6h-.6zM-16.8 9.9h.6v.6h-.6zM-17.0 15.4h.6v.6h-.6zM-17.5 13.2h.6v.6h-.6zM-18.1 17.6h.6v.6h-.6zM-17.8 18.3h.6v.6h-.6zM-22.7 16.2h.6v.6h-.6zM-22.0 17.0h.6v.6h-.6zM-21.3 17.7h.6v.6h-.6zM-24.8 17.8h.6v.6h-.6zM-22.6 16.4h.6v.6h-.6zM-25.9 11.6h.6v.6h-.6zM-26.0 12.5h.6v.6h-.6z" fill="#e63024" fill-opacity="0.85"/><path d="M-21.1 8.1h.6v.6h-.6zM-22.5 8.6h.6v.6h-.6zM-18.8 9.1h.6v.6h-.6zM-17.5 17.4h.6v.6h-.6zM-19.0 17.7h.6v.6h-.6zM-23.6 16.9h.6v.6h-.6zM-23.8 16.6h.6v.6h-.6zM-22.9 16.8h.6v.6h-.6zM-25.2 13.6h.6v.6h-.6zM-24.2 10.2h.6v.6h-.6z" fill="#e8453a" fill-opacity="0.85"/><path d="M8.1 -15.2h.6v.6h-.6zM18.1 -18.5h.6v.6h-.6zM17.5 -19.0h.6v.6h-.6zM17.6 -19.2h.6v.6h-.6zM17.4 -14.0h.6v.6h-.6zM16.6 -16.8h.6v.6h-.6zM14.8 -5.6h.6v.6h-.6zM14.6 -3.7h.6v.6h-.6zM14.0 -1.2h.6v.6h-.6zM16.2 3.2h.6v.6h-.6zM15.2 10.2h.6v.6h-.6zM15.9 8.0h.6v.6h-.6zM22.6 15.0h.6v.6h-.6zM21.4 15.1h.6v.6h-.6zM21.7 16.1h.6v.6h-.6zM22.3 16.0h.6v.6h-.6zM19.0 21.0h.6v.6h-.6zM14.7 21.7h.6v.6h-.6zM10.6 15.6h.6v.6h-.6zM10.8 15.0h.6v.6h-.6zM9.6 6.8h.6v.6h-.6zM7.7 2.6h.6v.6h-.6zM7.9 -0.7h.6v.6h-.6z" fill="#6068b4" fill-opacity="0.85"/><path d="M8.4 -14.4h.6v.6h-.6zM7.6 -14.7h.6v.6h-.6zM8.9 -18.9h.6v.6h-.6zM9.0 -19.7h.6v.6h-.6zM10.2 -21.6h.6v.6h-.6zM14.0 -22.3h.6v.6h-.6zM16.3 -20.1h.6v.6h-.6zM14.6 -21.4h.6v.6h-.6zM17.6 -16.7h.6v.6h-.6zM19.1 -14.9h.6v.6h-.6zM16.1 -15.1h.6v.6h-.6zM16.6 -10.6h.6v.6h-.6zM16.6 -13.9h.6v.6h-.6zM13.7 -10.7h.6v.6h-.6zM14.4 -11.9h.6v.6h-.6zM14.8 -6.6h.6v.6h-.6zM15.7 -7.2h.6v.6h-.6zM16.6 -3.8h.6v.6h-.6zM14.1 8.4h.6v.6h-.6zM14.4 5.6h.6v.6h-.6zM14.9 9.5h.6v.6h-.6zM18.1 10.2h.6v.6h-.6zM22.1 15.3h.6v.6h-.6zM20.2 11.8h.6v.6h-.6zM20.3 12.6h.6v.6h-.6zM22.6 16.9h.6v.6h-.6zM22.1 17.7h.6v.6h-.6zM22.6 19.3h.6v.6h-.6zM21.6 19.7h.6v.6h-.6zM19.1 21.5h.6v.6h-.6zM9.9 21.1h.6v.6h-.6zM13.1 21.2h.6v.6h-.6zM10.4 18.2h.6v.6h-.6zM11.3 17.9h.6v.6h-.6zM10.2 15.9h.6v.6h-.6zM11.0 12.3h.6v.6h-.6zM12.1 11.6h.6v.6h-.6zM11.9 7.8h.6v.6h-.6zM10.1 4.3h.6v.6h-.6zM6.6 2.7h.6v.6h-.6zM8.3 4.0h.6v.6h-.6zM9.3 2.9h.6v.6h-.6zM7.1 1.2h.6v.6h-.6zM7.2 0.1h.6v.6h-.6zM6.0 -1.7h.6v.6h-.6zM6.5 -3.8h.6v.6h-.6z" fill="#9196cd" fill-opacity="0.85"/><path d="M7.9 -14.3h.6v.6h-.6zM9.6 -21.4h.6v.6h-.6zM10.6 -23.2h.6v.6h-.6zM12.6 -23.8h.6v.6h-.6zM14.6 -22.0h.6v.6h-.6zM18.3 -17.9h.6v.6h-.6zM14.6 -11.3h.6v.6h-.6zM15.3 -7.6h.6v.6h-.6zM16.5 -0.1h.6v.6h-.6zM15.5 -1.4h.6v.6h-.6zM15.0 2.3h.6v.6h-.6zM13.8 4.9h.6v.6h-.6zM15.1 6.3h.6v.6h-.6zM15.8 8.4h.6v.6h-.6zM15.8 8.6h.6v.6h-.6zM17.4 9.2h.6v.6h-.6zM21.8 17.6h.6v.6h-.6zM20.9 19.6h.6v.6h-.6zM11.2 8.8h.6v.6h-.6zM9.5 6.8h.6v.6h-.6z" fill="#b2b3da" fill-opacity="0.85"/><path d="M8.7 -18.7h.6v.6h-.6zM9.7 -17.2h.6v.6h-.6zM11.6 -23.7h.6v.6h-.6zM10.4 -23.1h.6v.6h-.6zM13.0 -22.7h.6v.6h-.6zM16.7 -21.1h.6v.6h-.6zM14.9 -20.4h.6v.6h-.6zM16.5 -20.0h.6v.6h-.6zM14.2 -10.3h.6v.6h-.6zM15.4 -4.6h.6v.6h-.6zM16.6 -1.8h.6v.6h-.6zM15.4 3.2h.6v.6h-.6zM13.8 4.3h.6v.6h-.6zM16.3 7.8h.6v.6h-.6zM20.1 10.4h.6v.6h-.6zM19.5 10.0h.6v.6h-.6zM19.9 12.4h.6v.6h-.6zM22.8 14.9h.6v.6h-.6zM23.0 16.5h.6v.6h-.6zM19.8 19.6h.6v.6h-.6zM16.9 22.1h.6v.6h-.6zM19.9 21.3h.6v.6h-.6zM14.6 22.2h.6v.6h-.6zM15.4 22.7h.6v.6h-.6zM16.8 22.0h.6v.6h-.6zM14.6 21.9h.6v.6h-.6zM10.7 21.1h.6v.6h-.6zM12.0 20.6h.6v.6h-.6zM10.2 16.3h.6v.6h-.6zM11.8 19.8h.6v.6h-.6zM10.8 13.8h.6v.6h-.6zM10.2 15.4h.6v.6h-.6zM10.0 13.1h.6v.6h-.6zM10.1 14.7h.6v.6h-.6zM11.4 7.9h.6v.6h-.6zM11.1 11.3h.6v.6h-.6zM8.9 4.3h.6v.6h-.6zM8.7 4.6h.6v.6h-.6zM8.8 6.3h.6v.6h-.6zM7.3 3.7h.6v.6h-.6zM5.7 0.1h.6v.6h-.6z" fill="#7078c0" fill-opacity="0.85"/><path d="M15.1 -2.7h.6v.6h-.6z" fill="#5058a7" fill-opacity="0.85"/><path d="M14.9 2.0h.6v.6h-.6zM14.4 3.0h.6v.6h-.6z" fill="#40489a" fill-opacity="0.85"/><path d="M-21.3 -8.8L-22.3 -8.0L-23.5 -8.3L-24.1 -7.2M-18.9 -9.2L-18.6 -7.9L-18.0 -6.8L-16.9 -6.1M-19.5 -9.3L-19.7 -10.6L-20.7 -11.4L-21.4 -10.2M-21.4 -9.6L-21.5 -10.9L-21.7 -12.2L-21.6 -13.5M-23.9 12.6L-24.9 11.8L-25.7 10.7L-26.4 9.7M-21.0 8.8L-20.4 9.9L-21.6 10.3L-22.5 9.4M-24.6 10.8L-24.2 9.6L-23.4 8.5L-22.2 7.9M-1.7 -16.5L-1.3 -17.8L-1.7 -19.0L-1.7 -20.3M-2.2 -15.6L-1.0 -15.2L0.0 -14.4L1.1 -13.6M8.3 -10.4L9.6 -10.3L10.2 -11.4L11.1 -12.4M7.6 -11.5L6.9 -10.4L5.7 -9.9L6.9 -9.5M8.1 -10.9L7.0 -10.1L5.7 -10.0L5.2 -11.2M10.2 -21.3L8.9 -21.5L8.5 -20.3L8.3 -19.0M15.0 -14.7L16.0 -15.6L17.3 -15.6L18.5 -15.8M9.4 -18.5L9.0 -17.3L7.9 -16.5L6.7 -16.2M15.4 -2.5L14.9 -3.7L15.7 -4.7L15.5 -6.0M13.3 4.0L13.7 2.8L15.0 2.8L15.6 1.6M8.8 5.3L7.5 5.2L6.7 4.2L5.5 4.6M12.7 2.1L13.4 3.2L14.7 3.5L15.8 3.0M13.9 4.6L15.0 3.8L16.1 3.2L17.4 3.6M14.1 -6.0L14.0 -4.7L13.2 -3.6L12.2 -2.8M15.0 19.3L16.1 19.9L17.4 20.1L17.8 21.3M20.9 14.6L21.9 13.8L22.2 12.5L23.2 11.7M11.4 16.3L11.1 15.0L9.9 14.5L8.6 14.1M15.1 20.3L14.7 19.1L15.2 17.9L14.2 17.1M17.2 14.1L18.5 13.8L19.6 13.1L20.8 12.6M16.4 19.5L16.3 18.2L16.7 17.0L17.1 15.7" fill="none" stroke="#fff" stroke-width="0.45" stroke-opacity="0.75"/><circle cx="-6.1" cy="-1.8" r="0.6" fill="#9aa0c8"/><circle cx="21.0" cy="-10.8" r="0.5" fill="#9aa0c8"/></g>
<text x="68.10" y="160.50" font-size="8.5" text-anchor="middle" fill="#222">CCR7</text>
<text x="38.90" y="178.60" font-size="6.2" text-anchor="end" fill="#333">4</text>
<text x="38.90" y="193.00" font-size="6.2" text-anchor="end" fill="#333">0</text>
<text x="38.90" y="207.40" font-size="6.2" text-anchor="end" fill="#333">–4</text>
<g transform="translate(122.5,190.8)"><polygon points="-13.6,-17.3 -14.2,-12.6 -15.0,-8.6 -15.7,-4.0 -17.1,-1.1 -19.4,-0.5 -21.7,-3.4 -22.3,-6.9 -21.4,-10.3 -19.4,-12.6 -17.1,-14.4 -15.0,-16.7" fill="#ef918a" stroke="none" stroke-width="0.5"/><polygon points="-24.0,9.3 -20.5,7.9 -17.1,9.3 -15.7,12.7 -16.5,16.2 -19.4,17.9 -22.8,17.4 -24.9,14.5 -25.1,11.0" fill="#f4e6ea" stroke="none" stroke-width="0.5"/><g clip-path="url(#mclip)"><polygon points="-3.8,-17.8 -1.5,-19.0 0.2,-17.3 1.4,-14.4 3.7,-12.6 6.4,-11.4 9.0,-16.3 9.7,-21.6 11.2,-24.2 12.9,-23.6 14.7,-21.3 17.0,-20.1 17.6,-16.1 16.4,-12.6 14.7,-11.5 14.1,-8.6 14.7,-5.7 15.8,-2.3 16.4,1.8 15.2,2.9 14.1,4.7 14.7,8.1 17.6,9.3 20.4,11.0 22.2,14.5 22.2,18.5 19.9,20.8 16.4,22.0 12.9,21.4 10.6,19.7 10.1,16.2 10.6,11.6 10.1,8.1 8.3,4.7 7.2,1.2 6.0,-2.3 4.9,-5.7 2.6,-8.0 -0.3,-10.3 -2.6,-12.6 -3.8,-15.0" fill="#6870ba" stroke="none" stroke-width="0.5"/><g filter="url(#bb)"><polygon points="-3.8,-17.8 -1.5,-19.0 0.2,-17.3 1.4,-14.4 3.7,-12.6 6.4,-11.4 8.9,-10.3 7.9,-4.8 4.9,-5.7 2.6,-8.0 -0.3,-10.3 -2.6,-12.6 -3.8,-15.0" fill="#f2c4c4" stroke="#f2c4c4" stroke-width="1.2"/><polygon points="6.4,-11.4 9.0,-16.3 9.7,-21.6 11.2,-24.2 12.9,-23.6 14.7,-21.3 17.0,-20.1 17.6,-16.1 16.4,-12.6 14.7,-11.5 14.1,-8.6 8.9,-10.3" fill="#8a90ca" stroke="#8a90ca" stroke-width="1.2"/><polygon points="8.9,-10.3 14.1,-8.6 14.7,-5.7 15.8,-2.3 16.4,1.8 15.2,2.9 14.1,4.7 14.7,8.1 10.4,8.7 10.1,8.1 8.3,4.7 7.2,1.2 6.0,-2.3 4.9,-5.7 7.9,-4.8" fill="#6870ba" stroke="#6870ba" stroke-width="1.2"/><polygon points="14.7,8.1 17.6,9.3 20.4,11.0 22.2,14.5 22.2,18.5 19.9,20.8 16.4,22.0 12.9,21.4 10.6,19.7 10.1,16.2 10.6,11.6 10.4,8.7" fill="#636bb6" stroke="#636bb6" stroke-width="1.2"/></g></g><path d="M-19.1 -5.1h.65v.65h-.65zM-15.9 -13.0h.65v.65h-.65zM-18.4 -2.4h.65v.65h-.65zM-15.5 -13.7h.65v.65h-.65zM-23.1 9.0h.65v.65h-.65zM-19.7 9.5h.65v.65h-.65zM-20.4 12.0h.65v.65h-.65zM-17.4 13.1h.65v.65h-.65zM-19.0 15.1h.65v.65h-.65zM-17.2 9.9h.65v.65h-.65zM-19.5 13.7h.65v.65h-.65zM-17.3 16.4h.65v.65h-.65zM-17.7 12.2h.65v.65h-.65zM-24.7 11.4h.65v.65h-.65zM-20.3 10.5h.65v.65h-.65zM3.5 -8.0h.65v.65h-.65zM0.6 -16.4h.65v.65h-.65zM-3.1 -15.4h.65v.65h-.65zM7.6 -7.5h.65v.65h-.65zM-1.8 -12.3h.65v.65h-.65zM-0.9 -18.3h.65v.65h-.65zM3.4 -12.5h.65v.65h-.65zM-0.6 -17.2h.65v.65h-.65zM-1.8 -12.9h.65v.65h-.65zM2.6 -8.5h.65v.65h-.65zM5.3 -8.2h.65v.65h-.65zM7.2 -6.1h.65v.65h-.65zM-3.0 -14.5h.65v.65h-.65zM9.8 -14.9h.65v.65h-.65zM11.3 -16.9h.65v.65h-.65zM10.9 -21.5h.65v.65h-.65zM15.2 -15.2h.65v.65h-.65zM11.1 -9.7h.65v.65h-.65zM12.9 -4.8h.65v.65h-.65zM11.0 8.5h.65v.65h-.65zM10.1 5.2h.65v.65h-.65zM8.6 -3.9h.65v.65h-.65z" fill="#f4eef4"/><path d="M-19.6 -4.7h.65v.65h-.65zM-19.3 -1.3h.65v.65h-.65zM-21.5 -6.5h.65v.65h-.65zM-15.8 -4.4h.65v.65h-.65zM-19.8 -8.8h.65v.65h-.65zM-15.7 -11.5h.65v.65h-.65zM-19.1 -6.9h.65v.65h-.65zM-16.9 -5.8h.65v.65h-.65zM-15.0 -10.4h.65v.65h-.65zM-19.5 -1.1h.65v.65h-.65zM-16.1 -7.9h.65v.65h-.65zM-24.5 11.6h.65v.65h-.65zM-21.7 9.9h.65v.65h-.65zM-22.1 14.2h.65v.65h-.65zM-1.6 -12.8h.65v.65h-.65zM6.4 -9.9h.65v.65h-.65z" fill="#ee847c"/><path d="M-17.3 -3.6h.65v.65h-.65zM-17.8 -9.5h.65v.65h-.65zM-13.7 -17.0h.65v.65h-.65zM-19.6 -4.1h.65v.65h-.65zM-20.9 -7.2h.65v.65h-.65zM-17.6 -12.9h.65v.65h-.65zM-14.9 -15.3h.65v.65h-.65zM-15.9 -6.6h.65v.65h-.65zM-17.7 -5.6h.65v.65h-.65zM-19.7 -4.3h.65v.65h-.65zM-18.5 -4.8h.65v.65h-.65zM-21.7 -4.4h.65v.65h-.65zM-15.6 -15.5h.65v.65h-.65zM-17.9 -11.8h.65v.65h-.65zM-15.4 -7.3h.65v.65h-.65zM-18.8 -1.7h.65v.65h-.65zM-18.9 -5.3h.65v.65h-.65zM-16.7 -6.1h.65v.65h-.65zM-15.7 -8.0h.65v.65h-.65zM-23.2 15.8h.65v.65h-.65zM-22.1 15.9h.65v.65h-.65zM-19.3 9.3h.65v.65h-.65zM-18.2 12.1h.65v.65h-.65zM-16.7 14.6h.65v.65h-.65zM-20.3 11.1h.65v.65h-.65zM-21.1 14.7h.65v.65h-.65zM-22.9 14.8h.65v.65h-.65zM-21.5 15.0h.65v.65h-.65zM-20.4 12.8h.65v.65h-.65zM-17.1 12.6h.65v.65h-.65zM-18.1 16.3h.65v.65h-.65zM-18.2 16.5h.65v.65h-.65zM-21.9 15.8h.65v.65h-.65zM-21.0 11.8h.65v.65h-.65zM-21.6 11.5h.65v.65h-.65zM-22.4 12.0h.65v.65h-.65zM-19.5 11.5h.65v.65h-.65zM-24.7 12.5h.65v.65h-.65zM0.6 -13.4h.65v.65h-.65zM4.8 -9.4h.65v.65h-.65zM7.0 -9.5h.65v.65h-.65zM6.0 -6.8h.65v.65h-.65zM1.2 -11.5h.65v.65h-.65zM4.0 -10.0h.65v.65h-.65zM3.5 -11.3h.65v.65h-.65zM3.6 -9.6h.65v.65h-.65zM4.5 -9.0h.65v.65h-.65zM-3.7 -15.8h.65v.65h-.65zM5.3 -7.6h.65v.65h-.65zM-2.6 -15.0h.65v.65h-.65zM0.9 -12.9h.65v.65h-.65zM3.7 -8.7h.65v.65h-.65zM6.9 -10.2h.65v.65h-.65zM6.9 -11.0h.65v.65h-.65zM-1.5 -14.4h.65v.65h-.65zM-1.2 -15.7h.65v.65h-.65zM4.2 -7.1h.65v.65h-.65zM15.6 -14.2h.65v.65h-.65zM10.9 -10.5h.65v.65h-.65zM9.0 -14.4h.65v.65h-.65zM12.5 -18.5h.65v.65h-.65zM13.8 -11.4h.65v.65h-.65zM12.8 -20.2h.65v.65h-.65zM7.3 -11.7h.65v.65h-.65zM14.0 -10.1h.65v.65h-.65zM14.7 -11.6h.65v.65h-.65zM12.8 -10.3h.65v.65h-.65zM13.7 -18.7h.65v.65h-.65zM12.6 -18.3h.65v.65h-.65zM14.9 -13.6h.65v.65h-.65zM7.9 -12.5h.65v.65h-.65zM9.9 -19.4h.65v.65h-.65zM8.1 -12.9h.65v.65h-.65zM8.0 -11.4h.65v.65h-.65zM9.7 -13.3h.65v.65h-.65zM9.5 -15.6h.65v.65h-.65zM13.0 -22.6h.65v.65h-.65zM9.6 -5.5h.65v.65h-.65zM8.5 -4.6h.65v.65h-.65zM13.6 4.4h.65v.65h-.65zM9.7 -3.4h.65v.65h-.65zM10.2 -4.4h.65v.65h-.65zM13.2 5.2h.65v.65h-.65zM13.4 -1.6h.65v.65h-.65zM9.9 7.4h.65v.65h-.65zM11.0 2.9h.65v.65h-.65zM9.8 -9.5h.65v.65h-.65zM13.2 7.0h.65v.65h-.65zM8.7 -7.1h.65v.65h-.65zM12.6 -0.6h.65v.65h-.65zM11.9 4.9h.65v.65h-.65zM6.4 -2.8h.65v.65h-.65zM14.0 -0.1h.65v.65h-.65zM9.5 -0.0h.65v.65h-.65zM9.5 0.4h.65v.65h-.65zM14.2 -7.8h.65v.65h-.65zM10.5 6.3h.65v.65h-.65zM14.7 -1.0h.65v.65h-.65zM11.6 8.0h.65v.65h-.65zM8.7 -8.0h.65v.65h-.65zM11.1 0.7h.65v.65h-.65zM6.7 -2.6h.65v.65h-.65zM11.9 -3.5h.65v.65h-.65zM9.8 -6.1h.65v.65h-.65zM11.4 -4.3h.65v.65h-.65zM12.2 18.4h.65v.65h-.65zM12.9 13.3h.65v.65h-.65zM17.1 17.7h.65v.65h-.65zM14.6 9.0h.65v.65h-.65zM11.8 11.2h.65v.65h-.65zM10.5 12.8h.65v.65h-.65zM17.0 16.6h.65v.65h-.65zM19.6 10.8h.65v.65h-.65zM16.6 12.2h.65v.65h-.65zM14.7 9.5h.65v.65h-.65zM17.6 20.5h.65v.65h-.65zM15.4 12.4h.65v.65h-.65zM17.5 9.3h.65v.65h-.65zM11.2 16.7h.65v.65h-.65zM11.0 10.9h.65v.65h-.65zM20.4 14.6h.65v.65h-.65zM16.3 15.5h.65v.65h-.65zM18.5 12.6h.65v.65h-.65zM16.3 14.7h.65v.65h-.65zM10.9 16.2h.65v.65h-.65zM15.1 18.3h.65v.65h-.65zM19.8 12.1h.65v.65h-.65zM18.9 14.9h.65v.65h-.65zM14.3 17.9h.65v.65h-.65zM19.9 17.3h.65v.65h-.65zM12.1 17.1h.65v.65h-.65z" fill="#ffffff" fill-opacity="0.8"/><path d="M-18.7 -7.1h.65v.65h-.65zM-20.9 -7.4h.65v.65h-.65zM-16.2 -15.3h.65v.65h-.65zM-19.3 -2.6h.65v.65h-.65zM-18.6 -10.9h.65v.65h-.65zM-16.9 -11.8h.65v.65h-.65zM-17.6 -2.5h.65v.65h-.65zM-18.2 -9.0h.65v.65h-.65zM-20.1 -6.6h.65v.65h-.65zM-21.8 -4.5h.65v.65h-.65zM-24.8 11.0h.65v.65h-.65zM-18.2 10.4h.65v.65h-.65zM-16.5 14.4h.65v.65h-.65zM-16.7 11.0h.65v.65h-.65zM-18.6 14.1h.65v.65h-.65zM2.3 -10.1h.65v.65h-.65zM3.2 -10.1h.65v.65h-.65zM-1.3 -16.3h.65v.65h-.65zM-1.9 -13.3h.65v.65h-.65zM-1.3 -18.3h.65v.65h-.65zM-1.7 -12.5h.65v.65h-.65zM4.6 -9.0h.65v.65h-.65zM-0.1 -13.9h.65v.65h-.65zM5.5 -7.1h.65v.65h-.65zM-0.7 -13.5h.65v.65h-.65z" fill="#f09e9a"/><path d="M-21.2 -7.0h.65v.65h-.65zM-18.8 -6.8h.65v.65h-.65zM-16.6 -9.3h.65v.65h-.65zM-15.7 -6.2h.65v.65h-.65zM-20.8 -6.1h.65v.65h-.65zM-15.1 -13.4h.65v.65h-.65zM-21.5 -7.4h.65v.65h-.65zM-21.7 10.6h.65v.65h-.65zM3.3 -8.3h.65v.65h-.65z" fill="#ec6f66"/><path d="M-18.9 -11.5h.65v.65h-.65zM-19.3 -1.8h.65v.65h-.65zM-19.1 -11.4h.65v.65h-.65zM-18.5 -3.7h.65v.65h-.65zM-17.2 -1.6h.65v.65h-.65zM-18.3 -5.0h.65v.65h-.65zM-19.3 -0.8h.65v.65h-.65zM-16.3 -11.4h.65v.65h-.65zM-14.7 -16.1h.65v.65h-.65zM-20.3 -2.1h.65v.65h-.65zM-17.0 10.0h.65v.65h-.65zM-22.4 13.0h.65v.65h-.65zM-22.0 17.1h.65v.65h-.65zM-23.3 10.4h.65v.65h-.65zM5.1 -9.2h.65v.65h-.65zM5.2 -11.4h.65v.65h-.65zM3.3 -10.2h.65v.65h-.65zM2.0 -13.9h.65v.65h-.65zM1.7 -12.9h.65v.65h-.65zM-1.0 -11.0h.65v.65h-.65zM-0.2 -11.2h.65v.65h-.65zM1.3 -10.4h.65v.65h-.65zM1.0 -13.1h.65v.65h-.65zM3.7 -11.8h.65v.65h-.65zM5.1 -5.9h.65v.65h-.65z" fill="#f1b9b8"/><path d="M-18.6 -12.5h.65v.65h-.65zM-17.1 -5.7h.65v.65h-.65zM-13.8 -16.3h.65v.65h-.65zM-17.2 -3.3h.65v.65h-.65zM-21.3 -8.8h.65v.65h-.65zM-23.3 11.8h.65v.65h-.65zM-18.6 12.9h.65v.65h-.65zM-20.9 11.3h.65v.65h-.65zM-20.1 14.8h.65v.65h-.65zM-17.9 12.8h.65v.65h-.65zM-18.9 14.0h.65v.65h-.65zM-21.8 16.9h.65v.65h-.65zM-2.7 -17.1h.65v.65h-.65zM6.1 -8.1h.65v.65h-.65zM4.4 -6.6h.65v.65h-.65zM0.1 -10.4h.65v.65h-.65zM1.1 -11.9h.65v.65h-.65zM5.2 -10.6h.65v.65h-.65zM-0.2 -15.5h.65v.65h-.65zM13.0 -18.4h.65v.65h-.65z" fill="#f2d4d6"/><path d="M-19.7 -9.3h.65v.65h-.65zM-15.6 -4.9h.65v.65h-.65zM-19.1 -5.5h.65v.65h-.65zM-21.4 -7.3h.65v.65h-.65z" fill="#e8453a"/><path d="M-17.3 -4.8h.65v.65h-.65zM-17.8 15.3h.65v.65h-.65zM-20.6 8.7h.65v.65h-.65zM-19.5 15.4h.65v.65h-.65zM-20.6 11.1h.65v.65h-.65zM-22.8 15.9h.65v.65h-.65zM-17.4 14.6h.65v.65h-.65zM-22.8 12.8h.65v.65h-.65zM-21.8 15.8h.65v.65h-.65zM-17.5 16.7h.65v.65h-.65zM-24.5 14.7h.65v.65h-.65zM4.5 -9.5h.65v.65h-.65zM4.6 -6.8h.65v.65h-.65zM16.2 -13.1h.65v.65h-.65zM12.8 -9.5h.65v.65h-.65zM14.5 -15.9h.65v.65h-.65zM13.7 -10.8h.65v.65h-.65zM8.8 -13.1h.65v.65h-.65zM9.8 -20.1h.65v.65h-.65zM11.8 -18.4h.65v.65h-.65zM16.9 -18.5h.65v.65h-.65zM9.6 -16.1h.65v.65h-.65zM13.0 -17.3h.65v.65h-.65zM16.0 -19.7h.65v.65h-.65zM8.7 -10.6h.65v.65h-.65zM12.2 -20.3h.65v.65h-.65zM15.8 -16.9h.65v.65h-.65zM12.8 -1.3h.65v.65h-.65zM9.8 -6.0h.65v.65h-.65zM10.0 0.5h.65v.65h-.65zM10.0 -9.3h.65v.65h-.65zM14.3 12.4h.65v.65h-.65z" fill="#d3d0e7"/><path d="M-19.8 -11.1h.65v.65h-.65zM-15.4 -15.2h.65v.65h-.65z" fill="#ea5a50"/><path d="M-19.2 -1.3h.65v.65h-.65z" fill="#e63024"/><path d="M-18.6 16.6h.65v.65h-.65zM-23.9 13.0h.65v.65h-.65zM-1.8 -18.0h.65v.65h-.65zM10.0 -20.7h.65v.65h-.65zM12.0 -11.9h.65v.65h-.65zM10.4 -10.9h.65v.65h-.65zM12.8 -21.3h.65v.65h-.65zM14.9 -14.3h.65v.65h-.65zM11.4 -12.8h.65v.65h-.65zM8.8 -15.8h.65v.65h-.65zM13.5 -10.3h.65v.65h-.65zM10.0 -18.1h.65v.65h-.65zM9.6 -9.7h.65v.65h-.65zM11.3 1.1h.65v.65h-.65zM10.9 0.5h.65v.65h-.65zM14.2 -7.7h.65v.65h-.65zM13.1 -2.7h.65v.65h-.65zM12.4 5.4h.65v.65h-.65zM12.1 -7.1h.65v.65h-.65zM8.7 1.2h.65v.65h-.65zM11.2 3.9h.65v.65h-.65zM9.8 2.3h.65v.65h-.65zM9.6 -8.6h.65v.65h-.65zM9.8 -8.3h.65v.65h-.65zM15.1 15.7h.65v.65h-.65zM11.3 10.6h.65v.65h-.65zM16.6 16.3h.65v.65h-.65zM11.3 15.1h.65v.65h-.65zM12.4 11.4h.65v.65h-.65zM10.3 15.9h.65v.65h-.65z" fill="#b2b3da"/><path d="M-16.5 12.2h.65v.65h-.65zM13.8 -16.3h.65v.65h-.65zM16.7 -13.6h.65v.65h-.65zM15.2 -14.4h.65v.65h-.65zM11.5 -15.5h.65v.65h-.65zM10.6 -19.0h.65v.65h-.65zM9.6 -13.0h.65v.65h-.65zM7.3 -11.3h.65v.65h-.65zM10.6 -19.9h.65v.65h-.65zM15.8 -14.8h.65v.65h-.65zM8.7 -13.0h.65v.65h-.65zM10.1 -12.5h.65v.65h-.65zM15.4 -12.2h.65v.65h-.65zM7.1 -11.6h.65v.65h-.65zM11.4 -3.6h.65v.65h-.65zM11.8 -3.5h.65v.65h-.65zM13.6 -8.4h.65v.65h-.65zM15.8 -2.3h.65v.65h-.65zM11.3 -4.3h.65v.65h-.65zM11.0 0.3h.65v.65h-.65zM8.6 3.5h.65v.65h-.65zM11.1 8.4h.65v.65h-.65zM7.7 0.4h.65v.65h-.65zM12.6 -9.0h.65v.65h-.65zM12.0 -2.3h.65v.65h-.65zM12.3 4.0h.65v.65h-.65zM6.9 -3.9h.65v.65h-.65zM8.1 1.4h.65v.65h-.65zM13.6 3.2h.65v.65h-.65zM12.8 1.8h.65v.65h-.65zM10.9 -6.2h.65v.65h-.65zM14.1 7.8h.65v.65h-.65zM14.9 16.1h.65v.65h-.65zM19.0 18.5h.65v.65h-.65zM12.6 21.1h.65v.65h-.65zM12.2 19.9h.65v.65h-.65zM18.1 11.8h.65v.65h-.65zM14.4 11.7h.65v.65h-.65zM10.5 13.8h.65v.65h-.65zM21.1 16.2h.65v.65h-.65zM10.8 18.8h.65v.65h-.65zM12.8 8.6h.65v.65h-.65zM14.4 19.4h.65v.65h-.65zM21.8 15.9h.65v.65h-.65zM20.6 16.6h.65v.65h-.65zM14.0 9.7h.65v.65h-.65zM14.3 11.7h.65v.65h-.65zM16.5 20.6h.65v.65h-.65z" fill="#7078c0"/><path d="M-23.7 16.0h.65v.65h-.65zM16.2 -15.0h.65v.65h-.65zM13.2 -22.9h.65v.65h-.65zM10.7 -15.6h.65v.65h-.65zM7.0 -11.9h.65v.65h-.65zM14.3 -13.3h.65v.65h-.65zM11.0 -21.9h.65v.65h-.65zM11.9 -17.3h.65v.65h-.65zM8.7 -11.7h.65v.65h-.65zM12.5 -15.8h.65v.65h-.65zM14.3 -18.4h.65v.65h-.65zM11.3 -20.9h.65v.65h-.65zM15.5 -12.7h.65v.65h-.65zM9.0 -13.6h.65v.65h-.65zM12.4 -14.8h.65v.65h-.65zM8.9 -15.1h.65v.65h-.65zM9.6 -16.0h.65v.65h-.65zM16.5 -13.4h.65v.65h-.65zM14.5 -12.6h.65v.65h-.65zM11.2 -14.8h.65v.65h-.65zM10.6 -1.0h.65v.65h-.65zM6.4 -3.9h.65v.65h-.65zM8.4 -2.0h.65v.65h-.65zM6.5 -4.7h.65v.65h-.65zM7.0 -4.2h.65v.65h-.65zM13.2 -1.6h.65v.65h-.65zM8.7 5.1h.65v.65h-.65zM13.3 5.2h.65v.65h-.65zM13.8 6.9h.65v.65h-.65zM14.5 -4.7h.65v.65h-.65zM5.9 -3.9h.65v.65h-.65zM8.1 2.7h.65v.65h-.65zM13.6 2.6h.65v.65h-.65zM12.8 -3.4h.65v.65h-.65zM10.3 -1.4h.65v.65h-.65zM12.3 -6.8h.65v.65h-.65zM17.3 15.5h.65v.65h-.65zM14.8 13.3h.65v.65h-.65zM21.3 14.3h.65v.65h-.65zM10.5 13.4h.65v.65h-.65zM11.0 19.5h.65v.65h-.65zM14.2 10.5h.65v.65h-.65zM18.1 19.7h.65v.65h-.65zM18.2 9.9h.65v.65h-.65zM18.6 14.9h.65v.65h-.65zM17.0 18.7h.65v.65h-.65z" fill="#9196cd"/><path d="M9.6 -16.5h.65v.65h-.65zM12.8 -16.8h.65v.65h-.65zM11.8 -0.9h.65v.65h-.65zM11.6 -8.3h.65v.65h-.65zM13.9 -2.7h.65v.65h-.65zM13.1 -8.7h.65v.65h-.65zM9.2 0.2h.65v.65h-.65zM11.5 -4.4h.65v.65h-.65zM9.9 -4.7h.65v.65h-.65zM7.5 -3.5h.65v.65h-.65zM12.3 -1.8h.65v.65h-.65zM8.8 1.6h.65v.65h-.65zM15.0 18.7h.65v.65h-.65zM13.2 17.2h.65v.65h-.65zM19.9 10.8h.65v.65h-.65zM16.0 13.9h.65v.65h-.65zM11.8 14.2h.65v.65h-.65zM13.2 12.8h.65v.65h-.65zM11.0 10.7h.65v.65h-.65zM11.5 14.8h.65v.65h-.65zM12.7 9.6h.65v.65h-.65zM17.2 14.4h.65v.65h-.65zM17.7 19.1h.65v.65h-.65zM15.3 16.2h.65v.65h-.65zM18.0 10.2h.65v.65h-.65zM16.3 12.2h.65v.65h-.65zM19.7 15.0h.65v.65h-.65zM17.4 17.4h.65v.65h-.65zM16.7 21.6h.65v.65h-.65zM20.8 16.1h.65v.65h-.65zM13.3 19.7h.65v.65h-.65zM22.1 17.3h.65v.65h-.65z" fill="#5058a7"/><path d="M11.7 -14.1h.65v.65h-.65zM10.1 2.2h.65v.65h-.65zM13.8 2.2h.65v.65h-.65zM13.1 -3.4h.65v.65h-.65zM20.8 18.6h.65v.65h-.65zM17.2 17.1h.65v.65h-.65zM20.4 20.1h.65v.65h-.65zM16.7 18.3h.65v.65h-.65zM13.0 17.6h.65v.65h-.65zM14.2 19.8h.65v.65h-.65zM17.2 11.1h.65v.65h-.65z" fill="#30388e"/><path d="M9.3 -11.8h.65v.65h-.65zM13.7 -10.1h.65v.65h-.65zM13.1 -15.7h.65v.65h-.65zM14.1 -15.9h.65v.65h-.65zM15.5 -15.6h.65v.65h-.65zM15.1 -13.1h.65v.65h-.65zM14.0 -21.6h.65v.65h-.65zM13.5 -2.9h.65v.65h-.65zM15.7 -0.5h.65v.65h-.65zM8.6 2.9h.65v.65h-.65zM11.0 5.7h.65v.65h-.65zM13.0 -5.2h.65v.65h-.65zM5.4 -4.2h.65v.65h-.65zM10.2 5.5h.65v.65h-.65zM11.0 7.3h.65v.65h-.65zM9.4 -1.2h.65v.65h-.65zM11.9 -4.8h.65v.65h-.65zM7.8 -0.4h.65v.65h-.65zM6.4 -2.8h.65v.65h-.65zM10.4 4.1h.65v.65h-.65zM9.3 -0.3h.65v.65h-.65zM9.6 4.7h.65v.65h-.65zM7.2 -4.3h.65v.65h-.65zM10.9 4.6h.65v.65h-.65zM11.8 11.5h.65v.65h-.65zM16.7 14.8h.65v.65h-.65zM12.7 12.4h.65v.65h-.65zM17.0 9.3h.65v.65h-.65zM16.5 20.4h.65v.65h-.65zM22.0 14.3h.65v.65h-.65zM17.4 20.0h.65v.65h-.65zM21.4 14.7h.65v.65h-.65zM21.8 18.4h.65v.65h-.65zM16.6 12.2h.65v.65h-.65zM14.7 14.3h.65v.65h-.65zM16.7 9.0h.65v.65h-.65zM11.2 19.5h.65v.65h-.65zM12.8 19.5h.65v.65h-.65zM15.7 15.3h.65v.65h-.65zM16.7 10.0h.65v.65h-.65zM13.9 9.8h.65v.65h-.65zM18.1 21.2h.65v.65h-.65zM16.7 21.1h.65v.65h-.65zM13.8 17.5h.65v.65h-.65zM11.6 14.8h.65v.65h-.65zM16.0 20.6h.65v.65h-.65zM17.8 14.8h.65v.65h-.65zM16.4 10.3h.65v.65h-.65zM19.6 20.2h.65v.65h-.65zM12.5 17.6h.65v.65h-.65zM16.3 9.1h.65v.65h-.65z" fill="#6068b4"/><path d="M10.5 -17.8h.65v.65h-.65zM9.6 -5.9h.65v.65h-.65zM12.0 -8.7h.65v.65h-.65zM10.8 -1.3h.65v.65h-.65zM8.9 -5.4h.65v.65h-.65zM10.5 5.2h.65v.65h-.65zM10.3 -1.5h.65v.65h-.65zM8.4 -4.5h.65v.65h-.65zM17.0 13.5h.65v.65h-.65zM11.0 10.9h.65v.65h-.65zM17.7 17.7h.65v.65h-.65zM14.1 10.5h.65v.65h-.65zM12.4 16.4h.65v.65h-.65zM13.0 17.1h.65v.65h-.65zM13.0 11.5h.65v.65h-.65zM13.1 20.1h.65v.65h-.65z" fill="#40489a"/><path d="M-13.1 -13.0h.6v.6h-.6zM-20.8 -9.5h.6v.6h-.6zM-15.4 -15.6h.6v.6h-.6zM-15.6 -16.9h.6v.6h-.6zM-24.3 9.4h.6v.6h-.6zM-21.2 8.1h.6v.6h-.6zM-19.1 9.2h.6v.6h-.6zM-16.3 11.6h.6v.6h-.6zM-16.9 9.9h.6v.6h-.6zM-16.0 15.4h.6v.6h-.6zM-18.9 16.7h.6v.6h-.6zM-18.3 16.7h.6v.6h-.6zM-20.5 17.7h.6v.6h-.6zM-23.4 17.4h.6v.6h-.6zM-25.0 12.9h.6v.6h-.6zM-2.6 -17.1h.6v.6h-.6zM-2.1 -18.3h.6v.6h-.6zM0.7 -15.5h.6v.6h-.6zM3.2 -13.6h.6v.6h-.6zM3.1 -12.9h.6v.6h-.6zM6.4 -12.6h.6v.6h-.6zM5.0 -11.7h.6v.6h-.6zM5.1 -13.5h.6v.6h-.6zM10.4 -19.0h.6v.6h-.6zM5.4 -6.2h.6v.6h-.6zM3.3 -8.3h.6v.6h-.6zM-2.8 -10.8h.6v.6h-.6zM-2.1 -12.1h.6v.6h-.6z" fill="#f2d4d6" fill-opacity="0.85"/><path d="M-15.3 -14.3h.6v.6h-.6zM-11.5 -16.4h.6v.6h-.6zM-15.1 -9.3h.6v.6h-.6zM-15.1 -8.1h.6v.6h-.6zM-14.4 -11.3h.6v.6h-.6zM-15.3 -11.6h.6v.6h-.6zM-15.0 -6.5h.6v.6h-.6zM-16.9 -0.8h.6v.6h-.6zM-17.0 -2.2h.6v.6h-.6zM-18.5 -1.1h.6v.6h-.6zM-20.2 -3.5h.6v.6h-.6zM-22.1 -6.1h.6v.6h-.6zM-21.4 -8.5h.6v.6h-.6zM-14.6 -17.0h.6v.6h-.6zM-1.2 -19.8h.6v.6h-.6zM5.3 -11.0h.6v.6h-.6zM4.9 -5.8h.6v.6h-.6z" fill="#ee847c" fill-opacity="0.85"/><path d="M-14.9 -13.9h.6v.6h-.6zM-14.4 -11.5h.6v.6h-.6zM-14.8 -7.4h.6v.6h-.6zM-20.0 0.2h.6v.6h-.6zM-18.3 -0.3h.6v.6h-.6zM-21.5 -2.0h.6v.6h-.6zM-19.3 -0.3h.6v.6h-.6zM-22.5 -6.1h.6v.6h-.6zM-18.0 -13.3h.6v.6h-.6zM-15.0 -16.0h.6v.6h-.6zM0.3 -18.9h.6v.6h-.6zM7.0 -13.9h.6v.6h-.6z" fill="#ec6f66" fill-opacity="0.85"/><path d="M-13.0 -16.7h.6v.6h-.6zM-13.0 -17.1h.6v.6h-.6zM-14.0 -10.9h.6v.6h-.6zM-14.6 -6.2h.6v.6h-.6zM-17.2 -2.3h.6v.6h-.6zM-21.6 -2.7h.6v.6h-.6zM-22.2 -5.1h.6v.6h-.6zM-22.4 -7.4h.6v.6h-.6zM-23.8 -7.0h.6v.6h-.6zM-21.0 -9.7h.6v.6h-.6zM-18.2 -14.7h.6v.6h-.6zM-14.5 -16.2h.6v.6h-.6zM-23.3 9.2h.6v.6h-.6zM-17.9 9.6h.6v.6h-.6zM-17.7 9.3h.6v.6h-.6zM-17.9 16.7h.6v.6h-.6zM-20.8 17.0h.6v.6h-.6zM-19.8 17.4h.6v.6h-.6zM-24.9 10.5h.6v.6h-.6zM-1.7 -18.3h.6v.6h-.6zM0.1 -15.4h.6v.6h-.6zM1.2 -15.7h.6v.6h-.6zM1.4 -14.1h.6v.6h-.6zM3.3 -6.7h.6v.6h-.6zM-0.9 -11.2h.6v.6h-.6zM-1.2 -11.8h.6v.6h-.6zM-1.2 -14.1h.6v.6h-.6zM-2.4 -13.5h.6v.6h-.6zM-3.2 -14.4h.6v.6h-.6z" fill="#f1b9b8" fill-opacity="0.85"/><path d="M-13.0 -15.3h.6v.6h-.6zM-14.6 -7.0h.6v.6h-.6zM-16.5 -4.3h.6v.6h-.6zM-14.5 -7.7h.6v.6h-.6zM-16.4 -4.9h.6v.6h-.6zM-15.6 -3.8h.6v.6h-.6zM-16.3 -2.5h.6v.6h-.6zM-19.8 -0.3h.6v.6h-.6zM-21.6 -5.8h.6v.6h-.6zM-21.7 -5.0h.6v.6h-.6zM-22.1 -10.2h.6v.6h-.6zM-20.8 -10.8h.6v.6h-.6zM-21.5 -11.9h.6v.6h-.6zM-19.7 -13.0h.6v.6h-.6zM-15.2 -16.9h.6v.6h-.6zM3.2 -12.4h.6v.6h-.6zM7.2 -11.3h.6v.6h-.6zM6.9 -15.0h.6v.6h-.6zM3.8 -7.2h.6v.6h-.6zM1.8 -8.7h.6v.6h-.6zM1.9 -9.1h.6v.6h-.6zM-1.3 -13.5h.6v.6h-.6zM-3.7 -15.4h.6v.6h-.6zM-4.1 -17.8h.6v.6h-.6zM-3.9 -16.2h.6v.6h-.6zM-3.5 -17.7h.6v.6h-.6z" fill="#f09e9a" fill-opacity="0.85"/><path d="M-20.6 -11.8h.6v.6h-.6zM-18.6 -14.2h.6v.6h-.6z" fill="#ea5a50" fill-opacity="0.85"/><path d="M-21.7 7.6h.6v.6h-.6zM-20.1 8.1h.6v.6h-.6zM-18.2 8.5h.6v.6h-.6zM-16.2 10.8h.6v.6h-.6zM-16.4 14.7h.6v.6h-.6zM-15.1 15.7h.6v.6h-.6zM-22.6 16.6h.6v.6h-.6zM-23.4 15.7h.6v.6h-.6zM-23.3 16.5h.6v.6h-.6zM-23.8 13.8h.6v.6h-.6zM-23.2 11.2h.6v.6h-.6zM1.0 -14.6h.6v.6h-.6zM2.6 -14.2h.6v.6h-.6zM7.8 -12.0h.6v.6h-.6zM18.4 -17.3h.6v.6h-.6zM3.3 -7.2h.6v.6h-.6z" fill="#d3d0e7" fill-opacity="0.85"/><path d="M-21.2 7.1h.6v.6h-.6zM-19.0 7.8h.6v.6h-.6zM-16.5 11.6h.6v.6h-.6zM-15.5 15.4h.6v.6h-.6zM-15.4 14.3h.6v.6h-.6zM-20.1 17.3h.6v.6h-.6zM-19.6 17.9h.6v.6h-.6zM-21.6 17.5h.6v.6h-.6zM-23.3 14.0h.6v.6h-.6zM-25.4 11.8h.6v.6h-.6zM-24.7 13.7h.6v.6h-.6zM-25.4 10.0h.6v.6h-.6zM-2.7 -17.8h.6v.6h-.6zM-0.6 -18.1h.6v.6h-.6zM1.7 -14.2h.6v.6h-.6zM8.5 -16.3h.6v.6h-.6zM6.7 -12.6h.6v.6h-.6zM11.2 -23.8h.6v.6h-.6zM3.5 -7.6h.6v.6h-.6zM1.5 -8.3h.6v.6h-.6zM0.7 -9.2h.6v.6h-.6zM-0.5 -11.7h.6v.6h-.6z" fill="#f4eef4" fill-opacity="0.85"/><path d="M-19.0 8.6h.6v.6h-.6zM-25.4 12.7h.6v.6h-.6zM9.3 -16.7h.6v.6h-.6zM10.1 -21.6h.6v.6h-.6zM13.2 -20.8h.6v.6h-.6zM13.9 -22.5h.6v.6h-.6zM16.0 -21.0h.6v.6h-.6zM16.7 -20.1h.6v.6h-.6zM18.2 -15.9h.6v.6h-.6zM18.2 -17.0h.6v.6h-.6zM14.3 -12.3h.6v.6h-.6zM13.0 -9.1h.6v.6h-.6zM14.5 6.1h.6v.6h-.6zM20.0 12.5h.6v.6h-.6z" fill="#b2b3da" fill-opacity="0.85"/><path d="M-17.8 17.9h.6v.6h-.6zM9.5 -20.5h.6v.6h-.6zM8.9 -17.4h.6v.6h-.6zM10.3 -22.1h.6v.6h-.6zM14.4 -22.0h.6v.6h-.6zM17.8 -17.8h.6v.6h-.6zM17.3 -16.5h.6v.6h-.6zM16.5 -19.8h.6v.6h-.6zM17.6 -13.6h.6v.6h-.6zM15.9 -11.7h.6v.6h-.6zM16.0 -8.9h.6v.6h-.6zM14.4 -11.5h.6v.6h-.6zM14.5 -6.1h.6v.6h-.6zM16.2 -1.0h.6v.6h-.6zM16.2 -1.0h.6v.6h-.6zM15.5 -0.3h.6v.6h-.6zM15.8 1.8h.6v.6h-.6zM16.4 0.1h.6v.6h-.6zM15.6 1.6h.6v.6h-.6zM13.5 4.1h.6v.6h-.6zM14.4 8.9h.6v.6h-.6zM14.6 8.2h.6v.6h-.6zM16.0 8.0h.6v.6h-.6zM20.8 11.1h.6v.6h-.6zM22.1 17.6h.6v.6h-.6zM22.2 19.7h.6v.6h-.6zM21.1 19.3h.6v.6h-.6zM10.9 19.1h.6v.6h-.6zM11.8 11.9h.6v.6h-.6zM8.3 1.3h.6v.6h-.6zM7.7 1.7h.6v.6h-.6zM7.6 3.1h.6v.6h-.6zM5.6 -2.3h.6v.6h-.6zM8.6 0.7h.6v.6h-.6z" fill="#9196cd" fill-opacity="0.85"/><path d="M9.0 -15.1h.6v.6h-.6zM9.9 -18.9h.6v.6h-.6zM14.1 -21.1h.6v.6h-.6zM13.4 -21.9h.6v.6h-.6zM14.5 -20.5h.6v.6h-.6zM15.0 -8.1h.6v.6h-.6zM15.1 -7.1h.6v.6h-.6zM15.3 -3.4h.6v.6h-.6zM15.1 -5.9h.6v.6h-.6zM15.5 -6.9h.6v.6h-.6zM16.8 1.3h.6v.6h-.6zM17.2 2.1h.6v.6h-.6zM13.7 3.2h.6v.6h-.6zM16.0 3.1h.6v.6h-.6zM14.5 7.8h.6v.6h-.6zM14.8 7.2h.6v.6h-.6zM19.4 10.3h.6v.6h-.6zM17.2 8.8h.6v.6h-.6zM20.7 11.0h.6v.6h-.6zM17.9 11.7h.6v.6h-.6zM22.1 11.2h.6v.6h-.6zM21.8 13.2h.6v.6h-.6zM21.1 13.6h.6v.6h-.6zM16.9 22.6h.6v.6h-.6zM17.0 20.6h.6v.6h-.6zM15.9 21.2h.6v.6h-.6zM12.7 21.7h.6v.6h-.6zM14.3 21.6h.6v.6h-.6zM13.8 21.6h.6v.6h-.6zM13.2 20.6h.6v.6h-.6zM10.8 16.1h.6v.6h-.6zM10.2 16.6h.6v.6h-.6zM10.6 18.5h.6v.6h-.6zM10.1 12.7h.6v.6h-.6zM11.1 11.7h.6v.6h-.6zM9.1 11.0h.6v.6h-.6zM8.3 5.9h.6v.6h-.6zM7.5 4.2h.6v.6h-.6zM9.4 7.5h.6v.6h-.6zM5.9 -5.3h.6v.6h-.6z" fill="#6068b4" fill-opacity="0.85"/><path d="M8.5 -16.6h.6v.6h-.6zM8.9 -19.6h.6v.6h-.6zM9.9 -20.5h.6v.6h-.6zM12.8 -23.7h.6v.6h-.6zM12.0 -24.0h.6v.6h-.6zM15.2 -20.4h.6v.6h-.6zM17.0 -19.0h.6v.6h-.6zM17.0 -15.4h.6v.6h-.6zM16.7 -15.5h.6v.6h-.6zM15.5 -12.4h.6v.6h-.6zM14.5 -8.7h.6v.6h-.6zM15.1 -2.5h.6v.6h-.6zM13.7 8.8h.6v.6h-.6zM14.7 8.6h.6v.6h-.6zM17.1 8.3h.6v.6h-.6zM19.9 11.1h.6v.6h-.6zM20.9 18.8h.6v.6h-.6zM22.4 19.0h.6v.6h-.6zM14.7 22.1h.6v.6h-.6zM14.4 21.7h.6v.6h-.6zM11.5 20.7h.6v.6h-.6zM10.4 20.6h.6v.6h-.6zM11.1 13.1h.6v.6h-.6zM10.5 15.6h.6v.6h-.6zM10.0 9.1h.6v.6h-.6zM9.1 4.0h.6v.6h-.6zM6.6 0.3h.6v.6h-.6zM6.3 -4.9h.6v.6h-.6zM5.7 -4.1h.6v.6h-.6z" fill="#7078c0" fill-opacity="0.85"/><path d="M8.4 -21.3h.6v.6h-.6zM14.9 -5.5h.6v.6h-.6zM14.3 -6.2h.6v.6h-.6zM14.8 2.8h.6v.6h-.6zM22.4 16.5h.6v.6h-.6zM22.7 20.0h.6v.6h-.6zM21.0 19.9h.6v.6h-.6zM19.3 20.4h.6v.6h-.6zM17.4 21.7h.6v.6h-.6zM10.8 12.0h.6v.6h-.6zM10.9 12.6h.6v.6h-.6zM9.6 8.8h.6v.6h-.6zM9.0 9.5h.6v.6h-.6zM8.8 8.0h.6v.6h-.6zM9.7 7.8h.6v.6h-.6zM8.6 6.8h.6v.6h-.6zM6.6 1.1h.6v.6h-.6zM6.5 -0.4h.6v.6h-.6zM7.3 1.2h.6v.6h-.6zM6.3 -5.2h.6v.6h-.6z" fill="#5058a7" fill-opacity="0.85"/><path d="M20.8 12.2h.6v.6h-.6zM10.6 16.8h.6v.6h-.6z" fill="#30388e" fill-opacity="0.85"/><path d="M23.1 15.6h.6v.6h-.6zM22.6 14.8h.6v.6h-.6zM22.4 17.8h.6v.6h-.6zM10.9 20.4h.6v.6h-.6zM10.4 6.0h.6v.6h-.6z" fill="#40489a" fill-opacity="0.85"/><path d="M-16.2 -4.5L-16.7 -3.3L-16.9 -2.0L-17.1 -0.7M-15.9 -3.9L-17.2 -4.2L-18.4 -4.4L-18.8 -5.7M-19.1 -11.8L-18.6 -13.0L-17.5 -13.5L-16.4 -14.3M-18.6 -9.9L-18.6 -8.6L-17.6 -9.4L-18.3 -10.4M-21.3 12.1L-20.6 11.1L-19.4 11.6L-18.1 11.7M-18.5 16.2L-17.3 16.7L-16.0 16.9L-14.7 17.0M-20.1 11.5L-18.8 11.5L-17.9 12.4L-16.9 13.3M4.7 -9.4L4.3 -10.7L4.8 -11.8L5.5 -13.0M3.3 -7.6L2.6 -6.5L2.9 -5.3L3.1 -4.0M5.5 -8.6L4.8 -7.5L4.9 -6.2L5.5 -5.1M15.1 -18.3L15.2 -17.0L16.3 -16.3L17.1 -15.2M16.4 -15.3L17.6 -15.6L17.8 -16.9L17.9 -18.2M7.7 -10.9L7.7 -12.2L7.5 -13.5L6.7 -14.5M12.0 -16.2L12.2 -14.9L12.3 -13.6L11.3 -12.9M8.4 -12.2L7.6 -11.2L7.8 -9.9L8.6 -8.9M13.4 -4.6L12.1 -4.8L11.6 -6.0L10.3 -6.0M10.9 2.0L11.6 0.9L12.8 0.4L13.6 -0.7M13.3 5.5L13.2 6.8L12.7 8.0L12.7 9.3M11.3 1.9L10.2 2.6L9.1 3.1L9.6 4.3M9.3 -0.8L9.6 0.5L8.3 0.7L7.3 1.6M12.3 -6.8L13.3 -7.6L13.6 -8.8L14.8 -9.4M12.3 15.6L11.9 16.8L10.6 16.7L9.6 17.6M19.2 13.3L19.6 14.5L19.4 15.8L20.2 16.8M17.1 17.6L15.9 17.1L14.7 16.7L14.5 15.4M15.0 20.7L15.9 19.7L16.6 18.6L17.3 17.5M17.6 13.8L16.6 13.0L15.4 12.6L14.4 11.8M13.1 8.6L14.4 8.7L15.7 8.7L16.5 9.8" fill="none" stroke="#fff" stroke-width="0.45" stroke-opacity="0.75"/><circle cx="-6.1" cy="-1.8" r="0.6" fill="#9aa0c8"/><circle cx="21.0" cy="-10.8" r="0.5" fill="#9aa0c8"/></g>
<text x="122.00" y="160.50" font-size="8.5" text-anchor="middle" fill="#222">TCF1</text>
<text x="38.90" y="178.60" font-size="6.2" text-anchor="end" fill="#333">4</text>
<text x="38.90" y="193.00" font-size="6.2" text-anchor="end" fill="#333">0</text>
<text x="38.90" y="207.40" font-size="6.2" text-anchor="end" fill="#333">–4</text>
<g transform="translate(176.1,190.8)"><polygon points="-13.6,-17.3 -14.2,-12.6 -15.0,-8.6 -15.7,-4.0 -17.1,-1.1 -19.4,-0.5 -21.7,-3.4 -22.3,-6.9 -21.4,-10.3 -19.4,-12.6 -17.1,-14.4 -15.0,-16.7" fill="#e95247" stroke="none" stroke-width="0.5"/><polygon points="-24.0,9.3 -20.5,7.9 -17.1,9.3 -15.7,12.7 -16.5,16.2 -19.4,17.9 -22.8,17.4 -24.9,14.5 -25.1,11.0" fill="#ef918a" stroke="none" stroke-width="0.5"/><g clip-path="url(#mclip)"><polygon points="-3.8,-17.8 -1.5,-19.0 0.2,-17.3 1.4,-14.4 3.7,-12.6 6.4,-11.4 9.0,-16.3 9.7,-21.6 11.2,-24.2 12.9,-23.6 14.7,-21.3 17.0,-20.1 17.6,-16.1 16.4,-12.6 14.7,-11.5 14.1,-8.6 14.7,-5.7 15.8,-2.3 16.4,1.8 15.2,2.9 14.1,4.7 14.7,8.1 17.6,9.3 20.4,11.0 22.2,14.5 22.2,18.5 19.9,20.8 16.4,22.0 12.9,21.4 10.6,19.7 10.1,16.2 10.6,11.6 10.1,8.1 8.3,4.7 7.2,1.2 6.0,-2.3 4.9,-5.7 2.6,-8.0 -0.3,-10.3 -2.6,-12.6 -3.8,-15.0" fill="#6870ba" stroke="none" stroke-width="0.5"/><g filter="url(#bb)"><polygon points="-3.8,-17.8 -1.5,-19.0 0.2,-17.3 1.4,-14.4 3.7,-12.6 6.4,-11.4 8.9,-10.3 7.9,-4.8 4.9,-5.7 2.6,-8.0 -0.3,-10.3 -2.6,-12.6 -3.8,-15.0" fill="#ec736a" stroke="#ec736a" stroke-width="1.2"/><polygon points="6.4,-11.4 9.0,-16.3 9.7,-21.6 11.2,-24.2 12.9,-23.6 14.7,-21.3 17.0,-20.1 17.6,-16.1 16.4,-12.6 14.7,-11.5 14.1,-8.6 8.9,-10.3" fill="#5961ae" stroke="#5961ae" stroke-width="1.2"/><polygon points="8.9,-10.3 14.1,-8.6 14.7,-5.7 15.8,-2.3 16.4,1.8 15.2,2.9 14.1,4.7 14.7,8.1 10.4,8.7 10.1,8.1 8.3,4.7 7.2,1.2 6.0,-2.3 4.9,-5.7 7.9,-4.8" fill="#6870ba" stroke="#6870ba" stroke-width="1.2"/><polygon points="14.7,8.1 17.6,9.3 20.4,11.0 22.2,14.5 22.2,18.5 19.9,20.8 16.4,22.0 12.9,21.4 10.6,19.7 10.1,16.2 10.6,11.6 10.4,8.7" fill="#8086c6" stroke="#8086c6" stroke-width="1.2"/></g></g><path d="M-20.0 -11.2h.65v.65h-.65zM-18.0 -10.7h.65v.65h-.65zM-15.1 -10.8h.65v.65h-.65zM-22.0 -7.1h.65v.65h-.65zM-19.2 -9.7h.65v.65h-.65zM-17.0 -10.6h.65v.65h-.65zM-17.3 -13.7h.65v.65h-.65zM-19.5 10.3h.65v.65h-.65zM-20.8 10.5h.65v.65h-.65zM-20.6 8.1h.65v.65h-.65zM-20.8 11.4h.65v.65h-.65zM-17.5 14.9h.65v.65h-.65zM-23.1 16.5h.65v.65h-.65zM-18.0 13.7h.65v.65h-.65zM-17.5 13.2h.65v.65h-.65zM-20.8 15.4h.65v.65h-.65zM8.4 -9.3h.65v.65h-.65zM0.7 -15.1h.65v.65h-.65zM-1.5 -15.6h.65v.65h-.65zM5.5 -11.0h.65v.65h-.65zM3.8 -10.0h.65v.65h-.65zM7.0 -9.1h.65v.65h-.65zM-2.9 -16.8h.65v.65h-.65zM3.8 -10.3h.65v.65h-.65zM8.5 -8.7h.65v.65h-.65zM7.6 -9.3h.65v.65h-.65z" fill="#ec6f66"/><path d="M-17.2 -4.9h.65v.65h-.65zM-16.1 -15.0h.65v.65h-.65zM-18.6 -10.7h.65v.65h-.65zM-17.2 -4.0h.65v.65h-.65zM-20.4 -7.1h.65v.65h-.65zM-21.3 -6.4h.65v.65h-.65zM-17.7 -13.3h.65v.65h-.65zM-15.4 -14.4h.65v.65h-.65zM-20.7 -6.2h.65v.65h-.65zM-14.0 -17.1h.65v.65h-.65zM-21.5 -9.4h.65v.65h-.65zM-20.0 -9.8h.65v.65h-.65zM-21.6 -5.8h.65v.65h-.65zM-19.2 -4.6h.65v.65h-.65zM-18.3 -1.4h.65v.65h-.65zM-17.7 -2.7h.65v.65h-.65zM-15.9 -12.8h.65v.65h-.65zM-21.4 14.3h.65v.65h-.65zM-22.3 15.0h.65v.65h-.65zM-18.3 10.6h.65v.65h-.65zM-17.0 12.2h.65v.65h-.65zM-18.8 15.0h.65v.65h-.65zM-19.7 14.2h.65v.65h-.65zM-16.9 14.0h.65v.65h-.65zM-21.9 14.1h.65v.65h-.65zM-20.7 12.2h.65v.65h-.65zM-24.7 10.6h.65v.65h-.65zM-20.8 15.3h.65v.65h-.65zM-24.4 13.9h.65v.65h-.65zM-22.9 11.8h.65v.65h-.65zM-16.2 14.5h.65v.65h-.65zM-21.6 9.0h.65v.65h-.65zM4.1 -9.6h.65v.65h-.65zM6.2 -9.1h.65v.65h-.65zM-1.7 -15.8h.65v.65h-.65zM0.8 -10.9h.65v.65h-.65zM-2.3 -16.1h.65v.65h-.65zM7.2 -5.4h.65v.65h-.65zM3.1 -7.7h.65v.65h-.65zM5.2 -10.9h.65v.65h-.65zM0.3 -11.1h.65v.65h-.65zM7.0 -6.2h.65v.65h-.65zM1.6 -12.7h.65v.65h-.65zM6.8 -10.8h.65v.65h-.65zM0.7 -11.2h.65v.65h-.65zM2.9 -11.7h.65v.65h-.65zM-3.2 -15.2h.65v.65h-.65zM6.6 -9.1h.65v.65h-.65zM-3.2 -16.3h.65v.65h-.65zM-1.9 -13.2h.65v.65h-.65zM2.3 -10.8h.65v.65h-.65zM4.8 -8.7h.65v.65h-.65zM-0.1 -10.6h.65v.65h-.65zM11.6 -10.1h.65v.65h-.65zM12.3 -19.0h.65v.65h-.65zM15.8 -14.0h.65v.65h-.65zM10.7 -21.0h.65v.65h-.65zM11.7 -14.0h.65v.65h-.65zM15.5 -18.0h.65v.65h-.65zM13.5 -11.2h.65v.65h-.65zM12.8 -22.8h.65v.65h-.65zM12.0 -13.5h.65v.65h-.65zM12.8 -17.1h.65v.65h-.65zM14.6 -18.3h.65v.65h-.65zM9.6 -20.2h.65v.65h-.65zM12.0 -17.4h.65v.65h-.65zM13.7 -22.4h.65v.65h-.65zM14.7 -16.5h.65v.65h-.65zM13.1 -14.7h.65v.65h-.65zM12.8 -20.3h.65v.65h-.65zM14.9 -14.6h.65v.65h-.65zM8.6 -11.3h.65v.65h-.65zM16.7 -19.2h.65v.65h-.65zM15.3 -17.8h.65v.65h-.65zM16.6 -17.6h.65v.65h-.65zM16.2 -14.9h.65v.65h-.65zM15.4 -19.2h.65v.65h-.65zM16.3 -18.3h.65v.65h-.65zM9.9 6.1h.65v.65h-.65zM7.9 -3.0h.65v.65h-.65zM6.7 -0.4h.65v.65h-.65zM8.5 2.6h.65v.65h-.65zM16.2 1.9h.65v.65h-.65zM13.7 -3.2h.65v.65h-.65zM16.0 -0.2h.65v.65h-.65zM7.9 -2.4h.65v.65h-.65zM9.4 -9.9h.65v.65h-.65zM11.0 -7.6h.65v.65h-.65zM13.3 7.4h.65v.65h-.65zM9.6 5.5h.65v.65h-.65zM8.8 -8.2h.65v.65h-.65zM10.4 -2.3h.65v.65h-.65zM10.4 -4.7h.65v.65h-.65zM14.1 -3.8h.65v.65h-.65zM13.3 1.4h.65v.65h-.65zM13.2 6.6h.65v.65h-.65zM5.9 -4.2h.65v.65h-.65zM10.8 -2.8h.65v.65h-.65zM9.8 -2.5h.65v.65h-.65zM15.0 -4.2h.65v.65h-.65zM12.4 7.9h.65v.65h-.65zM13.3 7.8h.65v.65h-.65zM9.6 -7.5h.65v.65h-.65zM8.2 -2.8h.65v.65h-.65zM6.9 -4.2h.65v.65h-.65zM13.1 -3.5h.65v.65h-.65zM14.1 -4.0h.65v.65h-.65zM12.8 6.5h.65v.65h-.65zM11.6 -0.8h.65v.65h-.65zM9.9 5.9h.65v.65h-.65zM11.2 6.2h.65v.65h-.65zM12.8 1.3h.65v.65h-.65zM8.7 -6.8h.65v.65h-.65zM6.8 -0.8h.65v.65h-.65zM17.5 20.8h.65v.65h-.65zM13.5 8.3h.65v.65h-.65zM12.4 13.9h.65v.65h-.65zM17.1 16.3h.65v.65h-.65zM19.4 17.3h.65v.65h-.65zM11.9 17.6h.65v.65h-.65zM13.0 18.1h.65v.65h-.65zM10.8 12.2h.65v.65h-.65zM20.4 17.8h.65v.65h-.65zM22.2 15.6h.65v.65h-.65zM21.3 19.1h.65v.65h-.65zM11.5 15.4h.65v.65h-.65zM16.7 13.4h.65v.65h-.65zM16.9 17.1h.65v.65h-.65zM12.4 10.3h.65v.65h-.65zM16.5 10.9h.65v.65h-.65zM13.4 13.0h.65v.65h-.65zM15.4 14.1h.65v.65h-.65zM17.1 12.9h.65v.65h-.65zM13.7 8.9h.65v.65h-.65zM14.7 18.9h.65v.65h-.65zM10.5 16.5h.65v.65h-.65zM13.3 9.7h.65v.65h-.65zM14.5 10.0h.65v.65h-.65zM20.9 12.1h.65v.65h-.65zM19.9 12.0h.65v.65h-.65zM16.8 12.4h.65v.65h-.65z" fill="#ffffff" fill-opacity="0.8"/><path d="M-19.4 -2.1h.65v.65h-.65zM-19.4 -3.7h.65v.65h-.65zM-16.5 -5.7h.65v.65h-.65zM-14.5 -12.5h.65v.65h-.65zM-14.8 -13.3h.65v.65h-.65zM-17.4 -4.6h.65v.65h-.65zM-21.2 -8.2h.65v.65h-.65zM-16.5 -4.3h.65v.65h-.65zM-15.6 -10.2h.65v.65h-.65zM-15.7 -14.1h.65v.65h-.65zM-17.5 -6.8h.65v.65h-.65zM-17.7 -4.4h.65v.65h-.65zM-19.4 -6.8h.65v.65h-.65zM-20.5 -5.5h.65v.65h-.65zM-14.9 -10.4h.65v.65h-.65zM-20.4 -10.6h.65v.65h-.65zM-22.6 9.7h.65v.65h-.65zM-18.1 13.4h.65v.65h-.65zM3.5 -11.0h.65v.65h-.65zM-0.1 -15.8h.65v.65h-.65zM3.8 -6.9h.65v.65h-.65zM-1.3 -12.7h.65v.65h-.65zM1.4 -10.8h.65v.65h-.65z" fill="#e8453a"/><path d="M-15.4 -6.4h.65v.65h-.65zM-19.9 -10.6h.65v.65h-.65zM-16.5 -11.7h.65v.65h-.65zM-14.2 -16.9h.65v.65h-.65zM-21.6 -7.2h.65v.65h-.65zM-21.5 10.1h.65v.65h-.65zM-17.8 16.4h.65v.65h-.65zM-23.5 10.5h.65v.65h-.65zM-21.1 9.9h.65v.65h-.65zM-3.4 -16.0h.65v.65h-.65zM-1.2 -18.1h.65v.65h-.65zM-0.3 -13.9h.65v.65h-.65z" fill="#ee847c"/><path d="M-19.6 -1.8h.65v.65h-.65zM-18.0 -11.4h.65v.65h-.65zM-16.1 -9.4h.65v.65h-.65zM-17.5 -7.4h.65v.65h-.65zM-16.1 -10.1h.65v.65h-.65zM-17.0 -12.8h.65v.65h-.65zM-16.3 -5.5h.65v.65h-.65zM-16.7 -3.1h.65v.65h-.65zM-16.6 -12.4h.65v.65h-.65zM-15.5 -9.9h.65v.65h-.65zM-18.2 -3.1h.65v.65h-.65zM-16.8 -13.5h.65v.65h-.65zM-18.9 -7.9h.65v.65h-.65zM-17.3 -4.5h.65v.65h-.65zM-18.5 -5.1h.65v.65h-.65zM-18.7 -4.4h.65v.65h-.65zM-22.0 -7.9h.65v.65h-.65zM-17.9 13.4h.65v.65h-.65zM3.4 -7.6h.65v.65h-.65zM4.1 -7.7h.65v.65h-.65zM-0.2 -16.6h.65v.65h-.65zM6.9 -5.2h.65v.65h-.65z" fill="#e63024"/><path d="M-17.8 -3.5h.65v.65h-.65zM-14.1 -15.2h.65v.65h-.65zM-16.1 -4.8h.65v.65h-.65zM-19.2 -5.2h.65v.65h-.65zM-16.5 -14.3h.65v.65h-.65zM-15.4 -14.4h.65v.65h-.65zM-18.3 -8.4h.65v.65h-.65zM-17.3 -6.7h.65v.65h-.65zM-14.8 -10.6h.65v.65h-.65zM-20.8 16.1h.65v.65h-.65zM-22.7 11.4h.65v.65h-.65zM-19.8 11.7h.65v.65h-.65zM-22.1 13.5h.65v.65h-.65zM-18.0 15.6h.65v.65h-.65zM-1.0 -14.9h.65v.65h-.65zM0.7 -11.3h.65v.65h-.65zM7.1 -7.0h.65v.65h-.65zM2.1 -10.7h.65v.65h-.65zM4.0 -11.3h.65v.65h-.65zM2.3 -8.6h.65v.65h-.65zM-1.3 -13.0h.65v.65h-.65zM-0.0 -16.3h.65v.65h-.65zM4.2 -11.3h.65v.65h-.65zM2.8 -10.4h.65v.65h-.65zM1.6 -9.1h.65v.65h-.65zM2.2 -9.2h.65v.65h-.65zM8.0 -8.7h.65v.65h-.65zM5.6 -6.4h.65v.65h-.65z" fill="#ea5a50"/><path d="M-17.6 -7.3h.65v.65h-.65zM-22.8 15.4h.65v.65h-.65zM-19.6 14.3h.65v.65h-.65zM-21.3 16.9h.65v.65h-.65zM-16.9 14.5h.65v.65h-.65zM-21.7 8.9h.65v.65h-.65zM-23.2 15.4h.65v.65h-.65zM-21.5 15.7h.65v.65h-.65zM0.5 -13.5h.65v.65h-.65zM4.6 -8.4h.65v.65h-.65zM3.7 -9.3h.65v.65h-.65zM-0.8 -17.6h.65v.65h-.65z" fill="#f09e9a"/><path d="M-17.8 -2.6h.65v.65h-.65zM-20.1 -9.2h.65v.65h-.65zM-19.4 15.7h.65v.65h-.65zM-22.1 15.0h.65v.65h-.65zM-23.8 13.4h.65v.65h-.65zM-20.1 10.9h.65v.65h-.65zM-22.3 12.6h.65v.65h-.65zM-16.7 14.4h.65v.65h-.65zM-20.0 11.2h.65v.65h-.65zM-20.7 9.4h.65v.65h-.65zM-18.2 9.2h.65v.65h-.65zM-23.7 15.4h.65v.65h-.65zM-16.9 13.0h.65v.65h-.65zM-24.1 12.8h.65v.65h-.65zM-22.5 13.3h.65v.65h-.65zM-16.6 11.9h.65v.65h-.65zM-3.6 -17.3h.65v.65h-.65zM-0.4 -13.2h.65v.65h-.65zM-3.2 -15.3h.65v.65h-.65z" fill="#f1b9b8"/><path d="M-23.0 15.3h.65v.65h-.65zM2.4 -9.4h.65v.65h-.65zM14.9 -15.9h.65v.65h-.65zM8.1 2.5h.65v.65h-.65zM7.9 -0.3h.65v.65h-.65zM12.3 -5.7h.65v.65h-.65zM11.3 9.3h.65v.65h-.65zM16.1 17.1h.65v.65h-.65zM18.0 12.0h.65v.65h-.65zM12.3 19.4h.65v.65h-.65zM15.7 14.3h.65v.65h-.65zM18.4 15.7h.65v.65h-.65zM21.7 17.4h.65v.65h-.65zM19.2 19.4h.65v.65h-.65zM21.7 16.1h.65v.65h-.65zM14.8 18.2h.65v.65h-.65zM15.9 12.5h.65v.65h-.65z" fill="#d3d0e7"/><path d="M-23.3 15.7h.65v.65h-.65zM-20.3 15.0h.65v.65h-.65zM-18.3 15.1h.65v.65h-.65zM-22.2 14.3h.65v.65h-.65zM10.9 12.8h.65v.65h-.65zM12.9 9.5h.65v.65h-.65zM16.6 12.0h.65v.65h-.65z" fill="#f4eef4"/><path d="M-18.6 12.2h.65v.65h-.65zM-18.6 14.4h.65v.65h-.65zM6.9 -11.1h.65v.65h-.65zM9.6 6.7h.65v.65h-.65zM11.7 17.6h.65v.65h-.65z" fill="#f2d4d6"/><path d="M12.1 -19.4h.65v.65h-.65zM11.1 -18.2h.65v.65h-.65zM13.5 -19.1h.65v.65h-.65zM14.4 -18.4h.65v.65h-.65zM13.0 -23.0h.65v.65h-.65zM15.2 -15.5h.65v.65h-.65zM11.9 -20.2h.65v.65h-.65zM9.1 -10.1h.65v.65h-.65zM11.9 2.0h.65v.65h-.65zM10.5 -9.7h.65v.65h-.65zM9.5 5.3h.65v.65h-.65zM7.3 -4.8h.65v.65h-.65zM9.2 -1.6h.65v.65h-.65zM9.6 -6.1h.65v.65h-.65zM10.4 5.7h.65v.65h-.65zM14.3 -7.2h.65v.65h-.65zM12.8 -6.7h.65v.65h-.65zM8.0 -4.7h.65v.65h-.65zM13.9 10.2h.65v.65h-.65zM15.6 10.9h.65v.65h-.65zM19.6 14.9h.65v.65h-.65zM11.7 15.0h.65v.65h-.65zM21.9 15.2h.65v.65h-.65zM15.6 9.3h.65v.65h-.65zM14.5 19.5h.65v.65h-.65zM10.5 14.4h.65v.65h-.65zM17.2 11.5h.65v.65h-.65zM17.6 18.2h.65v.65h-.65zM12.4 21.0h.65v.65h-.65zM10.5 15.7h.65v.65h-.65zM20.8 13.2h.65v.65h-.65zM16.6 13.9h.65v.65h-.65zM13.4 17.0h.65v.65h-.65zM17.4 10.9h.65v.65h-.65zM20.2 18.3h.65v.65h-.65zM17.7 17.3h.65v.65h-.65zM12.5 15.0h.65v.65h-.65z" fill="#9196cd"/><path d="M11.9 -13.7h.65v.65h-.65zM14.4 -11.2h.65v.65h-.65zM10.6 -17.2h.65v.65h-.65zM13.3 -19.0h.65v.65h-.65zM10.1 -20.7h.65v.65h-.65zM11.4 -9.9h.65v.65h-.65zM9.0 -16.0h.65v.65h-.65zM17.0 -16.2h.65v.65h-.65zM10.1 -16.4h.65v.65h-.65zM7.6 -13.5h.65v.65h-.65zM6.8 -4.0h.65v.65h-.65zM13.8 -5.5h.65v.65h-.65zM14.0 -6.6h.65v.65h-.65zM10.0 4.9h.65v.65h-.65zM11.9 -5.6h.65v.65h-.65zM9.3 -5.0h.65v.65h-.65zM10.7 5.9h.65v.65h-.65zM12.4 3.0h.65v.65h-.65zM12.5 -2.7h.65v.65h-.65zM15.8 2.3h.65v.65h-.65zM15.2 -0.9h.65v.65h-.65zM11.6 3.5h.65v.65h-.65zM10.4 7.1h.65v.65h-.65zM15.6 -1.4h.65v.65h-.65zM12.1 6.7h.65v.65h-.65zM9.1 3.5h.65v.65h-.65zM6.5 -2.1h.65v.65h-.65zM15.0 13.3h.65v.65h-.65zM19.1 19.6h.65v.65h-.65zM15.1 14.0h.65v.65h-.65zM11.5 15.0h.65v.65h-.65zM14.3 15.7h.65v.65h-.65zM16.7 9.4h.65v.65h-.65zM17.1 16.8h.65v.65h-.65zM12.2 9.4h.65v.65h-.65zM14.9 18.7h.65v.65h-.65zM16.5 21.7h.65v.65h-.65zM19.0 13.5h.65v.65h-.65zM12.5 17.0h.65v.65h-.65zM22.0 18.1h.65v.65h-.65zM11.5 10.6h.65v.65h-.65zM21.8 17.0h.65v.65h-.65zM17.5 17.9h.65v.65h-.65zM11.2 14.7h.65v.65h-.65zM15.7 16.3h.65v.65h-.65zM15.3 9.3h.65v.65h-.65zM11.0 16.4h.65v.65h-.65zM10.4 16.8h.65v.65h-.65zM17.7 15.4h.65v.65h-.65zM14.3 15.4h.65v.65h-.65zM21.1 15.8h.65v.65h-.65zM16.3 9.9h.65v.65h-.65zM12.2 12.3h.65v.65h-.65z" fill="#7078c0"/><path d="M15.7 -20.0h.65v.65h-.65zM10.1 -18.8h.65v.65h-.65zM9.6 -11.4h.65v.65h-.65zM8.7 -11.3h.65v.65h-.65zM14.7 -16.7h.65v.65h-.65zM9.9 -10.9h.65v.65h-.65zM10.5 -21.1h.65v.65h-.65zM9.4 -11.3h.65v.65h-.65zM11.4 -15.0h.65v.65h-.65zM13.9 -2.0h.65v.65h-.65zM15.1 2.4h.65v.65h-.65zM15.0 1.9h.65v.65h-.65zM8.9 5.1h.65v.65h-.65zM15.0 1.6h.65v.65h-.65zM7.5 -2.8h.65v.65h-.65zM12.4 3.7h.65v.65h-.65zM12.1 -6.9h.65v.65h-.65zM11.8 8.2h.65v.65h-.65zM19.8 18.5h.65v.65h-.65z" fill="#40489a"/><path d="M12.0 -12.3h.65v.65h-.65zM8.8 -12.3h.65v.65h-.65zM11.4 -11.7h.65v.65h-.65zM10.0 -18.5h.65v.65h-.65zM12.1 -18.2h.65v.65h-.65zM10.3 -15.7h.65v.65h-.65zM12.2 -17.2h.65v.65h-.65zM13.0 -13.8h.65v.65h-.65zM9.8 -14.8h.65v.65h-.65zM11.1 -18.5h.65v.65h-.65zM10.9 -22.4h.65v.65h-.65zM7.5 -12.4h.65v.65h-.65zM12.4 -21.8h.65v.65h-.65zM13.9 -14.2h.65v.65h-.65zM13.4 -13.9h.65v.65h-.65zM12.6 5.7h.65v.65h-.65zM11.1 5.5h.65v.65h-.65zM14.4 -1.7h.65v.65h-.65zM7.6 -3.3h.65v.65h-.65zM8.4 -2.5h.65v.65h-.65zM12.9 0.2h.65v.65h-.65zM11.7 1.5h.65v.65h-.65zM10.0 6.3h.65v.65h-.65zM8.8 -9.4h.65v.65h-.65zM17.3 13.6h.65v.65h-.65zM22.0 14.4h.65v.65h-.65zM11.4 10.6h.65v.65h-.65zM12.0 16.2h.65v.65h-.65zM12.1 17.3h.65v.65h-.65zM12.2 9.5h.65v.65h-.65zM16.3 17.3h.65v.65h-.65z" fill="#5058a7"/><path d="M15.0 -11.8h.65v.65h-.65zM14.4 -17.0h.65v.65h-.65zM15.1 -18.4h.65v.65h-.65zM16.6 -18.4h.65v.65h-.65zM11.4 -15.6h.65v.65h-.65zM14.7 -20.7h.65v.65h-.65zM17.1 -15.5h.65v.65h-.65zM14.6 -15.0h.65v.65h-.65zM14.0 2.7h.65v.65h-.65zM14.2 6.0h.65v.65h-.65zM7.3 -0.5h.65v.65h-.65zM18.8 19.5h.65v.65h-.65z" fill="#30388e"/><path d="M15.7 -14.6h.65v.65h-.65zM10.6 -18.0h.65v.65h-.65zM14.5 -15.7h.65v.65h-.65zM13.9 -12.5h.65v.65h-.65zM10.8 -6.9h.65v.65h-.65zM11.2 8.4h.65v.65h-.65zM9.2 -9.9h.65v.65h-.65zM7.3 1.2h.65v.65h-.65zM11.5 5.1h.65v.65h-.65zM10.2 -2.9h.65v.65h-.65zM15.0 17.4h.65v.65h-.65zM17.5 10.8h.65v.65h-.65zM16.1 13.4h.65v.65h-.65zM13.7 11.8h.65v.65h-.65zM16.4 12.7h.65v.65h-.65zM14.2 18.6h.65v.65h-.65zM12.0 15.5h.65v.65h-.65zM17.3 16.6h.65v.65h-.65zM13.5 12.3h.65v.65h-.65zM13.9 10.1h.65v.65h-.65zM10.7 13.3h.65v.65h-.65zM20.1 16.1h.65v.65h-.65z" fill="#b2b3da"/><path d="M9.2 -12.3h.65v.65h-.65zM14.0 -14.8h.65v.65h-.65zM16.8 -17.0h.65v.65h-.65zM10.7 -18.3h.65v.65h-.65zM12.3 -13.0h.65v.65h-.65zM13.7 -11.6h.65v.65h-.65zM10.6 -13.6h.65v.65h-.65zM9.1 -14.0h.65v.65h-.65zM9.4 -16.3h.65v.65h-.65zM12.1 -12.2h.65v.65h-.65zM13.8 -22.5h.65v.65h-.65zM10.4 -10.6h.65v.65h-.65zM15.1 -14.1h.65v.65h-.65zM9.5 -7.0h.65v.65h-.65zM11.5 -0.6h.65v.65h-.65zM8.2 -6.1h.65v.65h-.65zM15.6 2.5h.65v.65h-.65zM13.6 2.1h.65v.65h-.65zM14.6 -6.2h.65v.65h-.65zM7.0 -2.0h.65v.65h-.65zM9.1 -3.9h.65v.65h-.65zM7.1 -0.3h.65v.65h-.65zM8.1 -1.1h.65v.65h-.65zM9.6 -2.7h.65v.65h-.65zM7.9 0.6h.65v.65h-.65zM9.8 5.1h.65v.65h-.65zM8.7 -4.9h.65v.65h-.65zM6.5 -4.8h.65v.65h-.65zM13.9 -0.0h.65v.65h-.65zM13.7 4.9h.65v.65h-.65zM11.2 6.9h.65v.65h-.65zM9.9 3.0h.65v.65h-.65zM7.4 -1.5h.65v.65h-.65zM9.2 3.6h.65v.65h-.65zM11.8 -8.0h.65v.65h-.65zM12.3 1.3h.65v.65h-.65zM12.6 2.7h.65v.65h-.65zM12.0 11.2h.65v.65h-.65zM18.3 10.9h.65v.65h-.65zM12.8 16.4h.65v.65h-.65zM13.7 21.0h.65v.65h-.65zM12.0 13.3h.65v.65h-.65zM16.5 16.6h.65v.65h-.65zM17.0 19.1h.65v.65h-.65zM16.1 15.5h.65v.65h-.65zM15.5 18.2h.65v.65h-.65zM14.2 17.4h.65v.65h-.65zM21.8 17.4h.65v.65h-.65zM16.0 14.3h.65v.65h-.65zM15.7 15.8h.65v.65h-.65z" fill="#6068b4"/><path d="M-13.7 -14.9h.6v.6h-.6zM-13.4 -15.3h.6v.6h-.6zM-13.8 -10.6h.6v.6h-.6zM-14.8 -9.8h.6v.6h-.6zM-14.2 -9.4h.6v.6h-.6zM-17.2 -3.9h.6v.6h-.6zM-15.3 -5.0h.6v.6h-.6zM-14.7 -3.4h.6v.6h-.6zM-16.1 -2.5h.6v.6h-.6zM-16.9 -1.7h.6v.6h-.6zM-17.2 -1.8h.6v.6h-.6zM-16.2 -0.9h.6v.6h-.6zM-21.4 -2.5h.6v.6h-.6zM-20.7 -0.6h.6v.6h-.6zM-21.8 -5.3h.6v.6h-.6zM-23.7 -8.1h.6v.6h-.6zM-22.2 -7.9h.6v.6h-.6zM-21.5 -10.9h.6v.6h-.6zM-18.4 -12.5h.6v.6h-.6zM-17.5 -14.3h.6v.6h-.6zM-15.5 -17.2h.6v.6h-.6z" fill="#e63024" fill-opacity="0.85"/><path d="M-14.9 -17.2h.6v.6h-.6zM-14.7 -13.7h.6v.6h-.6zM-13.5 -12.4h.6v.6h-.6zM-14.6 -8.5h.6v.6h-.6zM-15.5 -6.8h.6v.6h-.6zM-16.1 -0.8h.6v.6h-.6zM-20.1 -2.6h.6v.6h-.6zM-22.5 -3.9h.6v.6h-.6zM-22.7 -5.1h.6v.6h-.6zM-21.8 -9.3h.6v.6h-.6zM-21.7 -10.8h.6v.6h-.6zM-19.9 -12.5h.6v.6h-.6zM-19.3 -13.0h.6v.6h-.6zM-16.5 -16.0h.6v.6h-.6zM-23.5 8.1h.6v.6h-.6zM-18.6 18.4h.6v.6h-.6zM-23.2 17.2h.6v.6h-.6zM1.2 -16.5h.6v.6h-.6zM1.4 -17.6h.6v.6h-.6zM0.7 -15.2h.6v.6h-.6zM3.2 -14.3h.6v.6h-.6zM3.3 -12.7h.6v.6h-.6zM4.3 -12.5h.6v.6h-.6zM7.7 -13.0h.6v.6h-.6zM3.2 -5.8h.6v.6h-.6zM1.8 -10.0h.6v.6h-.6zM-0.8 -10.2h.6v.6h-.6zM-0.4 -11.4h.6v.6h-.6zM-0.0 -11.6h.6v.6h-.6zM1.2 -10.5h.6v.6h-.6zM-4.8 -15.7h.6v.6h-.6z" fill="#ea5a50" fill-opacity="0.85"/><path d="M-14.5 -16.6h.6v.6h-.6zM-14.0 -12.4h.6v.6h-.6zM-14.1 -17.3h.6v.6h-.6zM-14.9 -5.9h.6v.6h-.6zM-14.5 -6.8h.6v.6h-.6zM-17.6 -0.7h.6v.6h-.6zM-19.8 -0.9h.6v.6h-.6zM-19.8 -13.0h.6v.6h-.6zM-15.8 -16.5h.6v.6h-.6zM-14.1 -16.7h.6v.6h-.6zM-15.5 -16.8h.6v.6h-.6zM4.1 -13.0h.6v.6h-.6z" fill="#e8453a" fill-opacity="0.85"/><path d="M-14.7 -14.1h.6v.6h-.6zM-13.8 -8.8h.6v.6h-.6zM-17.7 -0.3h.6v.6h-.6zM-22.1 -4.5h.6v.6h-.6zM-21.6 -4.1h.6v.6h-.6zM-22.5 -8.4h.6v.6h-.6zM-21.0 -7.9h.6v.6h-.6zM-17.2 -13.7h.6v.6h-.6zM-19.6 -13.3h.6v.6h-.6zM-22.6 10.9h.6v.6h-.6zM-16.2 16.1h.6v.6h-.6zM-15.3 15.0h.6v.6h-.6zM-16.7 15.5h.6v.6h-.6zM-18.4 17.4h.6v.6h-.6zM-18.6 17.0h.6v.6h-.6zM-21.7 17.8h.6v.6h-.6zM-2.8 -19.8h.6v.6h-.6zM-1.1 -18.6h.6v.6h-.6zM2.4 -15.1h.6v.6h-.6zM2.2 -12.7h.6v.6h-.6zM7.1 -12.6h.6v.6h-.6zM4.9 -6.2h.6v.6h-.6zM5.6 -6.0h.6v.6h-.6zM4.5 -7.1h.6v.6h-.6zM3.9 -9.8h.6v.6h-.6zM4.9 -6.5h.6v.6h-.6zM1.7 -8.9h.6v.6h-.6zM3.0 -8.5h.6v.6h-.6zM-0.3 -10.8h.6v.6h-.6zM-2.9 -11.7h.6v.6h-.6zM-2.8 -13.3h.6v.6h-.6zM-3.7 -14.1h.6v.6h-.6zM-2.4 -14.7h.6v.6h-.6zM-3.5 -15.4h.6v.6h-.6zM-4.7 -17.0h.6v.6h-.6z" fill="#ec6f66" fill-opacity="0.85"/><path d="M-18.7 -1.7h.6v.6h-.6zM-22.5 8.1h.6v.6h-.6zM-22.3 8.4h.6v.6h-.6zM-20.8 7.6h.6v.6h-.6zM-19.3 7.4h.6v.6h-.6zM-17.0 9.1h.6v.6h-.6zM-15.6 12.2h.6v.6h-.6zM-16.9 16.5h.6v.6h-.6zM-21.3 16.7h.6v.6h-.6zM-22.0 16.3h.6v.6h-.6zM-23.2 17.2h.6v.6h-.6zM-24.3 10.4h.6v.6h-.6zM-25.5 9.6h.6v.6h-.6zM-4.5 -18.0h.6v.6h-.6zM-3.1 -16.9h.6v.6h-.6zM-0.7 -17.3h.6v.6h-.6zM1.2 -15.7h.6v.6h-.6zM1.8 -16.4h.6v.6h-.6zM4.1 -11.2h.6v.6h-.6zM6.5 -11.0h.6v.6h-.6zM7.4 -12.0h.6v.6h-.6zM-4.5 -13.4h.6v.6h-.6zM-3.7 -16.1h.6v.6h-.6z" fill="#ee847c" fill-opacity="0.85"/><path d="M-22.4 -9.8h.6v.6h-.6zM-16.7 8.9h.6v.6h-.6zM-18.4 9.0h.6v.6h-.6zM-17.0 9.5h.6v.6h-.6zM-16.5 10.1h.6v.6h-.6zM-15.6 14.5h.6v.6h-.6zM-21.9 17.0h.6v.6h-.6zM-25.3 16.1h.6v.6h-.6zM-24.8 13.8h.6v.6h-.6zM-24.8 12.9h.6v.6h-.6zM-24.1 12.9h.6v.6h-.6zM-23.9 9.2h.6v.6h-.6zM-3.2 -16.9h.6v.6h-.6zM2.8 -12.4h.6v.6h-.6zM4.6 -6.6h.6v.6h-.6zM-0.5 -9.0h.6v.6h-.6z" fill="#f09e9a" fill-opacity="0.85"/><path d="M-23.3 9.4h.6v.6h-.6zM-20.3 7.3h.6v.6h-.6zM-17.0 9.2h.6v.6h-.6zM-15.5 15.9h.6v.6h-.6z" fill="#f2d4d6" fill-opacity="0.85"/><path d="M-20.9 9.3h.6v.6h-.6zM-18.7 18.1h.6v.6h-.6zM-19.8 18.7h.6v.6h-.6zM-23.5 16.8h.6v.6h-.6zM-23.0 16.6h.6v.6h-.6zM-25.7 13.1h.6v.6h-.6zM-25.2 10.6h.6v.6h-.6z" fill="#f1b9b8" fill-opacity="0.85"/><path d="M9.1 -15.1h.6v.6h-.6zM8.4 -13.4h.6v.6h-.6zM10.3 -15.9h.6v.6h-.6zM8.7 -20.5h.6v.6h-.6zM9.5 -20.6h.6v.6h-.6zM9.2 -19.5h.6v.6h-.6zM14.0 -22.9h.6v.6h-.6zM13.1 -22.6h.6v.6h-.6zM14.9 -22.2h.6v.6h-.6zM16.8 -19.9h.6v.6h-.6zM16.8 -17.0h.6v.6h-.6zM17.4 -18.9h.6v.6h-.6zM17.4 -16.5h.6v.6h-.6zM16.9 -14.3h.6v.6h-.6zM15.2 -11.3h.6v.6h-.6zM16.0 -11.9h.6v.6h-.6zM15.8 -2.8h.6v.6h-.6zM16.0 -2.9h.6v.6h-.6zM16.2 -1.1h.6v.6h-.6zM13.4 3.7h.6v.6h-.6zM15.6 6.3h.6v.6h-.6zM14.1 7.8h.6v.6h-.6zM16.7 7.8h.6v.6h-.6zM20.9 13.3h.6v.6h-.6zM22.0 14.4h.6v.6h-.6zM13.3 21.7h.6v.6h-.6zM15.4 20.3h.6v.6h-.6zM7.8 6.4h.6v.6h-.6zM8.8 7.2h.6v.6h-.6zM8.7 3.3h.6v.6h-.6zM7.6 3.1h.6v.6h-.6zM8.1 1.8h.6v.6h-.6zM6.3 0.9h.6v.6h-.6zM4.9 -4.0h.6v.6h-.6zM4.7 -4.0h.6v.6h-.6z" fill="#6068b4" fill-opacity="0.85"/><path d="M8.2 -14.3h.6v.6h-.6zM11.2 -21.9h.6v.6h-.6zM9.6 -22.3h.6v.6h-.6zM10.9 -23.7h.6v.6h-.6zM13.4 -9.8h.6v.6h-.6zM13.7 -8.7h.6v.6h-.6zM15.4 -5.6h.6v.6h-.6zM15.0 -1.9h.6v.6h-.6zM14.6 -5.2h.6v.6h-.6zM16.6 0.1h.6v.6h-.6zM16.6 1.9h.6v.6h-.6zM14.0 4.2h.6v.6h-.6zM15.2 3.8h.6v.6h-.6zM15.1 8.1h.6v.6h-.6zM14.4 6.0h.6v.6h-.6zM17.0 10.2h.6v.6h-.6zM20.3 10.9h.6v.6h-.6zM20.1 9.4h.6v.6h-.6zM19.6 13.5h.6v.6h-.6zM22.3 11.1h.6v.6h-.6zM23.1 16.2h.6v.6h-.6zM21.5 17.6h.6v.6h-.6zM19.0 21.4h.6v.6h-.6zM14.7 22.7h.6v.6h-.6zM12.3 17.5h.6v.6h-.6zM9.5 16.1h.6v.6h-.6zM10.2 13.5h.6v.6h-.6zM8.9 14.8h.6v.6h-.6zM8.2 5.7h.6v.6h-.6zM7.8 3.0h.6v.6h-.6zM6.7 0.9h.6v.6h-.6zM5.4 -2.3h.6v.6h-.6zM7.4 -0.5h.6v.6h-.6zM6.5 -0.8h.6v.6h-.6zM5.5 -4.3h.6v.6h-.6z" fill="#7078c0" fill-opacity="0.85"/><path d="M8.5 -13.1h.6v.6h-.6zM15.9 -22.6h.6v.6h-.6zM17.5 -20.3h.6v.6h-.6zM15.8 -19.2h.6v.6h-.6zM15.8 0.1h.6v.6h-.6zM16.5 1.0h.6v.6h-.6zM14.3 8.3h.6v.6h-.6zM17.4 9.2h.6v.6h-.6zM17.5 9.1h.6v.6h-.6zM20.8 14.0h.6v.6h-.6zM22.5 16.6h.6v.6h-.6zM21.6 16.3h.6v.6h-.6zM22.7 14.9h.6v.6h-.6zM21.3 21.7h.6v.6h-.6zM20.9 20.5h.6v.6h-.6zM22.2 18.0h.6v.6h-.6zM20.8 20.0h.6v.6h-.6zM21.0 18.4h.6v.6h-.6zM18.6 21.7h.6v.6h-.6zM17.9 21.9h.6v.6h-.6zM15.6 21.9h.6v.6h-.6zM15.6 22.0h.6v.6h-.6zM12.0 11.1h.6v.6h-.6zM8.3 14.8h.6v.6h-.6zM9.6 10.3h.6v.6h-.6zM9.8 9.1h.6v.6h-.6zM8.7 6.4h.6v.6h-.6zM6.3 -0.3h.6v.6h-.6z" fill="#9196cd" fill-opacity="0.85"/><path d="M8.9 -20.2h.6v.6h-.6zM9.2 -18.1h.6v.6h-.6zM14.2 -22.1h.6v.6h-.6zM17.1 -16.7h.6v.6h-.6zM14.2 -5.4h.6v.6h-.6zM9.7 8.5h.6v.6h-.6z" fill="#30388e" fill-opacity="0.85"/><path d="M9.2 -18.4h.6v.6h-.6zM10.5 -24.4h.6v.6h-.6zM12.6 -23.7h.6v.6h-.6zM12.7 -21.7h.6v.6h-.6zM16.8 -13.4h.6v.6h-.6zM16.3 -14.6h.6v.6h-.6zM15.7 -11.6h.6v.6h-.6zM15.2 -9.5h.6v.6h-.6zM14.3 -6.8h.6v.6h-.6zM13.7 -5.6h.6v.6h-.6zM15.6 -3.5h.6v.6h-.6zM16.5 1.8h.6v.6h-.6zM16.6 2.3h.6v.6h-.6zM15.9 5.4h.6v.6h-.6zM13.3 6.6h.6v.6h-.6zM22.0 12.5h.6v.6h-.6zM12.4 21.8h.6v.6h-.6zM12.9 21.7h.6v.6h-.6zM8.0 9.1h.6v.6h-.6zM8.8 4.9h.6v.6h-.6zM9.1 6.7h.6v.6h-.6z" fill="#5058a7" fill-opacity="0.85"/><path d="M9.0 -21.3h.6v.6h-.6zM9.8 -19.4h.6v.6h-.6zM9.5 -21.9h.6v.6h-.6zM16.3 -20.2h.6v.6h-.6zM18.9 -15.9h.6v.6h-.6zM16.9 -14.3h.6v.6h-.6zM14.8 -8.6h.6v.6h-.6zM14.3 -10.5h.6v.6h-.6zM19.7 9.9h.6v.6h-.6z" fill="#40489a" fill-opacity="0.85"/><path d="M17.7 9.1h.6v.6h-.6zM20.2 11.9h.6v.6h-.6zM18.4 22.6h.6v.6h-.6zM16.4 21.8h.6v.6h-.6zM11.6 21.0h.6v.6h-.6zM11.6 18.9h.6v.6h-.6zM9.7 16.9h.6v.6h-.6zM10.2 19.3h.6v.6h-.6zM9.7 18.5h.6v.6h-.6zM10.5 16.7h.6v.6h-.6z" fill="#b2b3da" fill-opacity="0.85"/><path d="M11.0 18.7h.6v.6h-.6zM10.3 13.7h.6v.6h-.6z" fill="#d3d0e7" fill-opacity="0.85"/><path d="M10.8 9.7h.6v.6h-.6z" fill="#f4eef4" fill-opacity="0.85"/><path d="M-21.0 -7.0L-22.3 -7.4L-23.4 -8.0L-24.5 -7.3M-18.8 -9.4L-19.4 -10.5L-20.4 -11.3L-21.5 -10.7M-14.7 -16.6L-14.9 -15.3L-16.0 -14.8L-17.0 -13.9M-17.8 -7.6L-18.6 -8.7L-18.0 -9.8L-16.8 -10.4M-22.6 11.7L-22.3 13.0L-21.2 13.6L-20.3 14.6M-24.1 11.9L-22.9 11.4L-21.9 12.3L-22.0 13.6M-22.7 11.0L-21.7 11.8L-20.4 12.1L-19.2 11.5M1.4 -13.6L0.3 -12.9L-0.2 -14.1L-0.4 -15.4M-1.3 -13.6L-2.6 -13.9L-2.0 -15.1L-1.5 -16.3M-0.9 -15.0L-1.3 -13.7L-0.6 -12.6L0.7 -12.7M17.1 -17.1L17.4 -18.3L16.7 -19.4L15.4 -19.5M11.8 -10.6L12.2 -11.9L11.0 -12.4L9.7 -12.1M11.9 -11.4L12.3 -10.2L13.1 -9.2L14.3 -8.7M14.4 -16.0L15.7 -16.3L16.8 -17.0L17.2 -18.2M12.2 -18.1L13.0 -19.2L14.1 -19.8L15.3 -20.4M14.2 2.7L13.5 3.8L14.5 4.6L14.6 5.9M12.8 7.3L12.8 6.0L12.6 4.7L12.6 3.4M8.9 1.4L7.8 0.5L7.2 -0.6L8.3 -1.2M9.6 -1.4L10.4 -2.3L9.6 -3.4L10.6 -4.3M14.9 -0.1L16.0 -0.7L17.3 -0.8L18.5 -0.4M7.5 0.5L6.3 1.1L5.9 2.3L6.2 3.6M18.5 13.1L19.6 12.4L20.7 11.7L21.9 12.0M12.4 12.9L11.1 12.8L9.9 12.2L8.6 12.2M16.2 20.6L17.4 20.1L18.6 19.5L19.9 19.4M19.3 18.4L20.0 17.3L21.0 16.5L22.3 16.4M15.4 9.2L15.1 10.5L16.1 11.3L17.4 11.7M12.9 9.0L13.4 10.2L13.8 11.4L13.3 12.6" fill="none" stroke="#fff" stroke-width="0.45" stroke-opacity="0.75"/><circle cx="-6.1" cy="-1.8" r="0.6" fill="#9aa0c8"/><circle cx="21.0" cy="-10.8" r="0.5" fill="#9aa0c8"/></g>
<text x="175.60" y="160.50" font-size="8.5" text-anchor="middle" fill="#222">CD127</text>
<text x="38.90" y="178.60" font-size="6.2" text-anchor="end" fill="#333">4</text>
<text x="38.90" y="193.00" font-size="6.2" text-anchor="end" fill="#333">0</text>
<text x="38.90" y="207.40" font-size="6.2" text-anchor="end" fill="#333">–4</text>
<g transform="translate(68.6,253.6)"><polygon points="-13.6,-17.3 -14.2,-12.6 -15.0,-8.6 -15.7,-4.0 -17.1,-1.1 -19.4,-0.5 -21.7,-3.4 -22.3,-6.9 -21.4,-10.3 -19.4,-12.6 -17.1,-14.4 -15.0,-16.7" fill="#444c9e" stroke="none" stroke-width="0.5"/><polygon points="-24.0,9.3 -20.5,7.9 -17.1,9.3 -15.7,12.7 -16.5,16.2 -19.4,17.9 -22.8,17.4 -24.9,14.5 -25.1,11.0" fill="#444c9e" stroke="none" stroke-width="0.5"/><g clip-path="url(#mclip)"><polygon points="-3.8,-17.8 -1.5,-19.0 0.2,-17.3 1.4,-14.4 3.7,-12.6 6.4,-11.4 9.0,-16.3 9.7,-21.6 11.2,-24.2 12.9,-23.6 14.7,-21.3 17.0,-20.1 17.6,-16.1 16.4,-12.6 14.7,-11.5 14.1,-8.6 14.7,-5.7 15.8,-2.3 16.4,1.8 15.2,2.9 14.1,4.7 14.7,8.1 17.6,9.3 20.4,11.0 22.2,14.5 22.2,18.5 19.9,20.8 16.4,22.0 12.9,21.4 10.6,19.7 10.1,16.2 10.6,11.6 10.1,8.1 8.3,4.7 7.2,1.2 6.0,-2.3 4.9,-5.7 2.6,-8.0 -0.3,-10.3 -2.6,-12.6 -3.8,-15.0" fill="#eb665c" stroke="none" stroke-width="0.5"/><defs><linearGradient id="g3TRUNK" x1="0" y1="0" x2="0" y2="1"><stop offset="0" stop-color="#ea584e"/><stop offset="1" stop-color="#ec736a"/></linearGradient></defs><defs><linearGradient id="g3BOT" x1="0" y1="0" x2="0" y2="1"><stop offset="0" stop-color="#dad6ea"/><stop offset="1" stop-color="#565eac"/></linearGradient></defs><g filter="url(#bb)"><polygon points="-3.8,-17.8 -1.5,-19.0 0.2,-17.3 1.4,-14.4 3.7,-12.6 6.4,-11.4 8.9,-10.3 7.9,-4.8 4.9,-5.7 2.6,-8.0 -0.3,-10.3 -2.6,-12.6 -3.8,-15.0" fill="#ea5f55" stroke="#ea5f55" stroke-width="1.2"/><polygon points="6.4,-11.4 9.0,-16.3 9.7,-21.6 11.2,-24.2 12.9,-23.6 14.7,-21.3 17.0,-20.1 17.6,-16.1 16.4,-12.6 14.7,-11.5 14.1,-8.6 8.9,-10.3" fill="#e95247" stroke="#e95247" stroke-width="1.2"/><polygon points="8.9,-10.3 14.1,-8.6 14.7,-5.7 15.8,-2.3 16.4,1.8 15.2,2.9 14.1,4.7 14.7,8.1 10.4,8.7 10.1,8.1 8.3,4.7 7.2,1.2 6.0,-2.3 4.9,-5.7 7.9,-4.8" fill="url(#g3TRUNK)" stroke="url(#g3TRUNK)" stroke-width="1.2"/><polygon points="14.7,8.1 17.6,9.3 20.4,11.0 22.2,14.5 22.2,18.5 19.9,20.8 16.4,22.0 12.9,21.4 10.6,19.7 10.1,16.2 10.6,11.6 10.4,8.7" fill="url(#g3BOT)" stroke="url(#g3BOT)" stroke-width="1.2"/></g></g><path d="M-18.4 -1.6h.65v.65h-.65zM-18.1 -12.6h.65v.65h-.65zM-14.9 -12.5h.65v.65h-.65zM-18.4 -5.4h.65v.65h-.65zM-18.9 -3.6h.65v.65h-.65zM-19.1 -5.6h.65v.65h-.65zM-15.7 -12.3h.65v.65h-.65zM-21.2 -10.4h.65v.65h-.65zM-23.3 15.9h.65v.65h-.65zM-16.3 13.2h.65v.65h-.65zM-22.5 13.7h.65v.65h-.65zM-21.4 12.0h.65v.65h-.65zM20.2 19.9h.65v.65h-.65zM18.5 19.6h.65v.65h-.65zM12.7 20.4h.65v.65h-.65zM20.5 11.3h.65v.65h-.65zM17.4 10.9h.65v.65h-.65zM16.7 16.0h.65v.65h-.65zM16.2 19.4h.65v.65h-.65zM10.5 10.2h.65v.65h-.65zM19.2 18.7h.65v.65h-.65zM13.4 18.5h.65v.65h-.65zM13.9 15.3h.65v.65h-.65zM15.2 21.7h.65v.65h-.65zM20.5 14.3h.65v.65h-.65zM19.7 15.6h.65v.65h-.65z" fill="#6068b4"/><path d="M-15.5 -13.7h.65v.65h-.65zM-19.6 -3.5h.65v.65h-.65zM-16.1 -4.2h.65v.65h-.65zM-20.3 -7.1h.65v.65h-.65zM-17.0 -13.9h.65v.65h-.65zM-18.8 -9.8h.65v.65h-.65zM-16.8 -9.4h.65v.65h-.65zM-16.1 -15.5h.65v.65h-.65zM-17.2 -3.3h.65v.65h-.65zM-16.0 -14.6h.65v.65h-.65zM-18.6 -6.5h.65v.65h-.65zM-21.3 -8.4h.65v.65h-.65zM-18.9 -0.9h.65v.65h-.65zM-15.8 -15.1h.65v.65h-.65zM-19.0 -8.1h.65v.65h-.65zM-18.6 -6.7h.65v.65h-.65zM-17.1 -4.6h.65v.65h-.65zM-19.1 -7.8h.65v.65h-.65zM-19.5 -7.3h.65v.65h-.65zM-18.9 -0.9h.65v.65h-.65zM-15.3 -9.4h.65v.65h-.65zM-17.5 10.6h.65v.65h-.65zM-23.1 9.4h.65v.65h-.65zM-18.2 16.8h.65v.65h-.65zM-22.7 11.4h.65v.65h-.65zM-19.8 17.4h.65v.65h-.65zM-17.3 15.5h.65v.65h-.65zM-17.2 10.0h.65v.65h-.65zM-21.9 13.0h.65v.65h-.65zM-22.4 9.0h.65v.65h-.65zM-22.2 9.5h.65v.65h-.65zM-21.6 16.0h.65v.65h-.65zM-19.8 12.9h.65v.65h-.65zM-17.5 12.9h.65v.65h-.65zM-21.8 17.3h.65v.65h-.65zM13.5 19.5h.65v.65h-.65zM15.9 21.2h.65v.65h-.65z" fill="#30388e"/><path d="M-19.1 -5.5h.65v.65h-.65zM-16.0 -9.9h.65v.65h-.65zM-18.1 -6.9h.65v.65h-.65zM-18.1 -3.6h.65v.65h-.65zM-19.1 -5.1h.65v.65h-.65zM-18.3 -8.3h.65v.65h-.65zM-18.0 -5.4h.65v.65h-.65zM-17.0 -8.9h.65v.65h-.65zM-18.8 -0.7h.65v.65h-.65zM-18.8 -12.9h.65v.65h-.65zM-14.7 -14.9h.65v.65h-.65zM-19.7 -1.3h.65v.65h-.65zM-16.0 -5.4h.65v.65h-.65zM-19.6 -11.7h.65v.65h-.65zM-18.9 -3.9h.65v.65h-.65zM-21.2 -9.9h.65v.65h-.65zM-17.6 -11.0h.65v.65h-.65zM-17.5 -5.3h.65v.65h-.65zM-22.1 -6.3h.65v.65h-.65zM-20.0 8.3h.65v.65h-.65zM-19.8 17.0h.65v.65h-.65zM-17.6 16.5h.65v.65h-.65zM-22.1 10.3h.65v.65h-.65zM-24.4 13.9h.65v.65h-.65zM-23.4 11.3h.65v.65h-.65zM-20.9 8.5h.65v.65h-.65zM-18.0 12.6h.65v.65h-.65zM-23.6 13.7h.65v.65h-.65zM-23.1 11.3h.65v.65h-.65zM-19.3 8.6h.65v.65h-.65zM-17.1 9.4h.65v.65h-.65zM-19.1 9.3h.65v.65h-.65zM-22.6 13.6h.65v.65h-.65zM-23.3 9.4h.65v.65h-.65zM-18.8 15.1h.65v.65h-.65zM-20.7 10.4h.65v.65h-.65zM-17.6 9.2h.65v.65h-.65zM-21.1 8.7h.65v.65h-.65zM6.3 -9.3h.65v.65h-.65zM7.1 -7.2h.65v.65h-.65zM6.7 -7.9h.65v.65h-.65zM2.7 -12.6h.65v.65h-.65zM5.2 -10.1h.65v.65h-.65zM1.5 -14.3h.65v.65h-.65zM-1.5 -14.8h.65v.65h-.65zM1.9 -12.5h.65v.65h-.65zM5.4 -6.8h.65v.65h-.65zM8.1 -6.4h.65v.65h-.65zM6.4 -8.9h.65v.65h-.65zM3.5 -10.0h.65v.65h-.65zM5.5 -10.0h.65v.65h-.65zM-2.2 -15.4h.65v.65h-.65zM3.2 -9.9h.65v.65h-.65zM0.2 -14.6h.65v.65h-.65zM9.9 -14.1h.65v.65h-.65zM9.8 -18.6h.65v.65h-.65zM14.3 -17.0h.65v.65h-.65zM11.5 -19.5h.65v.65h-.65zM13.8 -21.1h.65v.65h-.65zM12.0 -10.6h.65v.65h-.65zM15.3 -15.5h.65v.65h-.65zM10.0 -10.3h.65v.65h-.65zM11.3 -14.6h.65v.65h-.65zM10.4 -11.1h.65v.65h-.65zM16.3 -19.2h.65v.65h-.65zM15.1 -12.9h.65v.65h-.65zM16.2 -15.5h.65v.65h-.65zM9.4 -12.3h.65v.65h-.65zM9.6 -10.5h.65v.65h-.65zM11.0 -20.0h.65v.65h-.65zM11.0 -11.7h.65v.65h-.65zM12.2 5.5h.65v.65h-.65zM12.8 5.1h.65v.65h-.65zM9.6 -4.9h.65v.65h-.65zM13.4 -4.5h.65v.65h-.65zM7.6 -0.2h.65v.65h-.65zM7.2 -2.6h.65v.65h-.65zM14.7 0.4h.65v.65h-.65zM10.6 -3.9h.65v.65h-.65zM10.2 -1.2h.65v.65h-.65zM10.2 -7.9h.65v.65h-.65zM7.7 -3.1h.65v.65h-.65zM10.7 -8.2h.65v.65h-.65zM9.2 -3.5h.65v.65h-.65zM7.4 -0.3h.65v.65h-.65zM12.7 5.7h.65v.65h-.65zM10.9 -8.0h.65v.65h-.65zM8.8 1.0h.65v.65h-.65zM10.7 -0.4h.65v.65h-.65zM6.5 -4.6h.65v.65h-.65zM14.4 8.1h.65v.65h-.65zM5.9 -4.7h.65v.65h-.65zM15.5 0.1h.65v.65h-.65zM10.4 -7.6h.65v.65h-.65zM14.2 18.9h.65v.65h-.65zM11.9 9.4h.65v.65h-.65zM14.2 14.4h.65v.65h-.65zM12.5 10.1h.65v.65h-.65zM19.0 12.3h.65v.65h-.65zM18.8 14.4h.65v.65h-.65zM11.9 10.7h.65v.65h-.65zM14.4 11.1h.65v.65h-.65zM20.4 11.8h.65v.65h-.65zM16.9 15.5h.65v.65h-.65zM16.6 18.5h.65v.65h-.65zM12.0 19.7h.65v.65h-.65zM12.5 11.7h.65v.65h-.65zM13.1 17.9h.65v.65h-.65zM14.8 19.9h.65v.65h-.65zM21.9 14.0h.65v.65h-.65zM16.0 21.3h.65v.65h-.65zM15.9 15.7h.65v.65h-.65zM14.4 17.8h.65v.65h-.65zM16.7 12.9h.65v.65h-.65zM14.8 13.0h.65v.65h-.65zM20.2 18.8h.65v.65h-.65zM12.1 10.5h.65v.65h-.65zM13.6 19.2h.65v.65h-.65zM17.7 17.5h.65v.65h-.65zM12.2 15.0h.65v.65h-.65zM16.4 13.9h.65v.65h-.65zM13.3 11.2h.65v.65h-.65zM13.5 9.4h.65v.65h-.65zM18.5 10.4h.65v.65h-.65z" fill="#ffffff" fill-opacity="0.8"/><path d="M-18.5 -1.2h.65v.65h-.65zM-16.4 -7.1h.65v.65h-.65zM-18.0 -2.6h.65v.65h-.65zM-19.8 -7.1h.65v.65h-.65zM-18.7 -9.0h.65v.65h-.65zM-19.9 -4.3h.65v.65h-.65zM-15.4 -8.8h.65v.65h-.65zM-15.1 -10.8h.65v.65h-.65zM-21.3 -4.8h.65v.65h-.65zM-18.5 -7.0h.65v.65h-.65zM-16.2 -6.3h.65v.65h-.65zM-21.1 10.2h.65v.65h-.65zM-19.1 8.8h.65v.65h-.65zM-21.3 9.5h.65v.65h-.65zM-20.7 16.6h.65v.65h-.65zM-22.2 16.2h.65v.65h-.65zM-23.4 16.1h.65v.65h-.65zM-22.8 11.5h.65v.65h-.65zM-19.6 9.4h.65v.65h-.65zM-21.1 15.6h.65v.65h-.65zM-25.0 11.3h.65v.65h-.65zM-18.9 11.2h.65v.65h-.65zM-24.1 12.7h.65v.65h-.65zM-20.2 9.9h.65v.65h-.65zM14.7 20.0h.65v.65h-.65zM16.1 11.8h.65v.65h-.65zM12.4 19.9h.65v.65h-.65zM12.1 20.6h.65v.65h-.65zM13.5 19.7h.65v.65h-.65z" fill="#40489a"/><path d="M-17.0 -8.7h.65v.65h-.65zM-17.9 -2.8h.65v.65h-.65zM-16.9 13.4h.65v.65h-.65zM14.9 19.1h.65v.65h-.65zM20.4 15.8h.65v.65h-.65zM18.2 20.6h.65v.65h-.65zM14.4 20.8h.65v.65h-.65zM12.6 8.7h.65v.65h-.65zM12.1 17.0h.65v.65h-.65zM10.4 15.8h.65v.65h-.65zM15.2 12.8h.65v.65h-.65zM19.0 13.2h.65v.65h-.65zM21.2 12.6h.65v.65h-.65zM12.7 9.9h.65v.65h-.65zM16.2 13.6h.65v.65h-.65zM15.4 19.2h.65v.65h-.65zM14.7 16.2h.65v.65h-.65zM15.3 20.2h.65v.65h-.65z" fill="#7078c0"/><path d="M-15.4 -8.7h.65v.65h-.65zM-16.3 -13.5h.65v.65h-.65zM-19.1 -1.2h.65v.65h-.65zM-18.4 -13.3h.65v.65h-.65zM-19.4 -2.7h.65v.65h-.65zM-17.5 -6.1h.65v.65h-.65zM-17.7 -6.5h.65v.65h-.65zM-14.6 -13.4h.65v.65h-.65zM-17.8 -13.8h.65v.65h-.65zM-20.1 -5.5h.65v.65h-.65zM-18.3 -7.9h.65v.65h-.65zM-20.7 13.1h.65v.65h-.65zM-17.5 15.7h.65v.65h-.65zM-19.0 11.9h.65v.65h-.65zM-22.5 12.2h.65v.65h-.65zM-19.5 12.7h.65v.65h-.65zM-21.1 9.3h.65v.65h-.65zM-23.3 13.0h.65v.65h-.65zM-21.2 8.8h.65v.65h-.65zM-17.3 13.9h.65v.65h-.65zM11.0 18.4h.65v.65h-.65zM18.0 15.9h.65v.65h-.65zM11.2 17.7h.65v.65h-.65zM13.7 19.0h.65v.65h-.65zM14.7 17.8h.65v.65h-.65zM21.2 14.4h.65v.65h-.65zM18.5 11.0h.65v.65h-.65zM14.1 19.1h.65v.65h-.65zM16.4 19.9h.65v.65h-.65z" fill="#5058a7"/><path d="M-21.7 -9.0h.65v.65h-.65zM-18.0 -12.5h.65v.65h-.65zM-16.9 11.7h.65v.65h-.65zM18.5 14.2h.65v.65h-.65zM19.8 15.1h.65v.65h-.65zM14.7 19.1h.65v.65h-.65zM16.7 14.0h.65v.65h-.65zM19.3 19.1h.65v.65h-.65zM20.0 15.0h.65v.65h-.65z" fill="#9196cd"/><path d="M-19.6 9.0h.65v.65h-.65zM-19.3 10.0h.65v.65h-.65zM19.2 12.7h.65v.65h-.65zM20.3 14.7h.65v.65h-.65zM18.6 17.9h.65v.65h-.65zM17.0 13.8h.65v.65h-.65zM20.1 12.9h.65v.65h-.65zM16.4 12.8h.65v.65h-.65zM13.7 9.6h.65v.65h-.65zM12.6 12.8h.65v.65h-.65zM19.6 20.7h.65v.65h-.65zM20.9 14.5h.65v.65h-.65zM13.8 11.3h.65v.65h-.65zM19.0 12.3h.65v.65h-.65zM14.4 14.4h.65v.65h-.65zM13.3 12.8h.65v.65h-.65z" fill="#b2b3da"/><path d="M-18.7 12.2h.65v.65h-.65zM15.6 10.3h.65v.65h-.65zM14.2 8.6h.65v.65h-.65zM18.1 11.1h.65v.65h-.65zM15.2 9.1h.65v.65h-.65zM12.3 10.2h.65v.65h-.65zM17.5 11.2h.65v.65h-.65zM12.6 8.9h.65v.65h-.65zM11.6 11.6h.65v.65h-.65zM13.3 10.0h.65v.65h-.65z" fill="#d3d0e7"/><path d="M1.7 -8.8h.65v.65h-.65zM4.9 -5.9h.65v.65h-.65zM7.5 -6.4h.65v.65h-.65zM0.7 -11.8h.65v.65h-.65zM1.9 -12.5h.65v.65h-.65zM-1.4 -12.1h.65v.65h-.65zM6.1 -8.5h.65v.65h-.65zM7.8 -5.8h.65v.65h-.65zM0.4 -14.3h.65v.65h-.65zM3.9 -9.2h.65v.65h-.65zM11.7 -21.0h.65v.65h-.65zM12.2 -12.2h.65v.65h-.65zM8.0 -11.3h.65v.65h-.65zM17.0 -16.7h.65v.65h-.65zM12.8 -20.5h.65v.65h-.65zM9.9 -16.2h.65v.65h-.65zM10.0 -20.1h.65v.65h-.65zM11.1 -16.8h.65v.65h-.65zM7.0 -12.5h.65v.65h-.65zM14.6 -18.7h.65v.65h-.65zM12.1 -22.7h.65v.65h-.65zM15.6 -12.6h.65v.65h-.65zM8.9 -10.8h.65v.65h-.65zM10.0 5.7h.65v.65h-.65zM9.8 -2.5h.65v.65h-.65zM11.2 -2.7h.65v.65h-.65zM6.4 -2.1h.65v.65h-.65zM10.5 -3.7h.65v.65h-.65zM13.2 1.6h.65v.65h-.65zM7.1 -1.4h.65v.65h-.65zM9.3 -8.2h.65v.65h-.65zM12.7 2.6h.65v.65h-.65zM15.2 -2.1h.65v.65h-.65zM10.1 0.9h.65v.65h-.65zM9.4 4.6h.65v.65h-.65zM10.8 -2.6h.65v.65h-.65zM16.3 1.6h.65v.65h-.65zM11.0 -5.1h.65v.65h-.65zM13.4 -3.6h.65v.65h-.65zM6.5 -4.4h.65v.65h-.65z" fill="#ec6f66"/><path d="M1.7 -11.2h.65v.65h-.65zM4.3 -10.8h.65v.65h-.65zM0.0 -10.2h.65v.65h-.65zM6.6 -6.3h.65v.65h-.65zM-0.8 -18.2h.65v.65h-.65zM0.9 -14.0h.65v.65h-.65zM6.6 -7.9h.65v.65h-.65zM1.0 -15.3h.65v.65h-.65zM2.6 -9.9h.65v.65h-.65zM-0.2 -15.8h.65v.65h-.65zM13.2 -21.9h.65v.65h-.65zM13.0 -21.5h.65v.65h-.65zM9.5 -12.7h.65v.65h-.65zM11.5 -22.7h.65v.65h-.65zM15.6 -13.1h.65v.65h-.65zM10.9 -11.2h.65v.65h-.65zM11.3 -18.3h.65v.65h-.65zM7.9 -12.3h.65v.65h-.65zM15.7 -18.1h.65v.65h-.65zM13.6 -10.8h.65v.65h-.65zM16.5 -13.5h.65v.65h-.65zM15.4 -20.2h.65v.65h-.65zM8.2 -14.2h.65v.65h-.65zM14.6 -19.4h.65v.65h-.65zM12.9 -18.2h.65v.65h-.65zM15.6 0.2h.65v.65h-.65zM12.0 5.2h.65v.65h-.65zM6.8 -3.7h.65v.65h-.65zM11.2 4.6h.65v.65h-.65zM13.1 -8.5h.65v.65h-.65zM14.2 3.3h.65v.65h-.65zM10.2 7.2h.65v.65h-.65zM6.5 -1.8h.65v.65h-.65zM11.4 1.0h.65v.65h-.65zM10.3 -6.8h.65v.65h-.65zM14.7 -4.8h.65v.65h-.65zM9.3 4.4h.65v.65h-.65zM14.9 -1.0h.65v.65h-.65zM8.4 0.8h.65v.65h-.65zM9.3 -6.6h.65v.65h-.65zM10.9 -6.8h.65v.65h-.65zM11.0 5.6h.65v.65h-.65zM10.0 0.8h.65v.65h-.65zM7.6 2.4h.65v.65h-.65zM15.5 2.1h.65v.65h-.65zM7.1 -0.6h.65v.65h-.65zM10.6 1.4h.65v.65h-.65z" fill="#ea5a50"/><path d="M0.7 -11.4h.65v.65h-.65zM11.2 -23.0h.65v.65h-.65zM15.5 2.0h.65v.65h-.65zM19.3 17.2h.65v.65h-.65zM15.6 12.0h.65v.65h-.65zM17.6 10.1h.65v.65h-.65zM11.5 10.3h.65v.65h-.65z" fill="#f2d4d6"/><path d="M0.6 -15.6h.65v.65h-.65zM5.9 -8.4h.65v.65h-.65zM0.4 -14.9h.65v.65h-.65zM8.3 -9.8h.65v.65h-.65zM-1.6 -13.5h.65v.65h-.65zM7.7 -9.5h.65v.65h-.65zM4.7 -6.3h.65v.65h-.65zM1.9 -11.1h.65v.65h-.65zM16.8 -17.2h.65v.65h-.65zM13.0 -22.3h.65v.65h-.65zM12.1 -21.5h.65v.65h-.65zM15.9 -14.6h.65v.65h-.65zM12.8 -11.6h.65v.65h-.65zM11.8 -10.6h.65v.65h-.65zM15.4 -15.2h.65v.65h-.65zM10.1 -15.8h.65v.65h-.65zM11.5 -20.9h.65v.65h-.65zM14.8 -20.3h.65v.65h-.65zM8.6 -11.9h.65v.65h-.65zM9.5 -16.6h.65v.65h-.65zM9.6 -19.2h.65v.65h-.65zM11.6 -15.7h.65v.65h-.65zM14.1 -14.7h.65v.65h-.65zM13.6 -16.2h.65v.65h-.65zM14.6 -20.8h.65v.65h-.65zM9.4 -4.9h.65v.65h-.65zM11.4 -3.2h.65v.65h-.65zM8.9 -2.1h.65v.65h-.65zM6.1 -3.4h.65v.65h-.65zM14.2 -0.6h.65v.65h-.65zM8.6 -7.3h.65v.65h-.65zM11.7 -5.6h.65v.65h-.65zM10.3 2.5h.65v.65h-.65zM12.4 -7.0h.65v.65h-.65zM9.9 2.9h.65v.65h-.65zM8.9 -3.8h.65v.65h-.65zM11.9 -6.4h.65v.65h-.65zM7.3 -0.5h.65v.65h-.65zM11.4 -9.1h.65v.65h-.65z" fill="#e63024"/><path d="M5.0 -9.0h.65v.65h-.65zM2.4 -8.5h.65v.65h-.65zM-2.2 -14.5h.65v.65h-.65zM-0.6 -13.2h.65v.65h-.65zM7.3 -9.0h.65v.65h-.65zM0.4 -15.6h.65v.65h-.65zM-2.7 -14.4h.65v.65h-.65zM-0.5 -14.8h.65v.65h-.65zM13.6 -11.0h.65v.65h-.65zM9.6 -17.6h.65v.65h-.65zM10.7 -20.3h.65v.65h-.65zM7.6 -11.2h.65v.65h-.65zM12.7 -16.5h.65v.65h-.65zM13.2 -17.8h.65v.65h-.65zM14.0 -11.2h.65v.65h-.65zM11.2 -11.0h.65v.65h-.65zM11.1 -17.5h.65v.65h-.65zM15.8 -17.1h.65v.65h-.65zM8.9 -10.6h.65v.65h-.65zM11.0 -16.4h.65v.65h-.65zM13.0 -12.3h.65v.65h-.65zM11.5 -19.9h.65v.65h-.65zM11.3 -12.6h.65v.65h-.65zM11.2 -19.0h.65v.65h-.65zM12.0 -23.2h.65v.65h-.65zM8.8 -4.2h.65v.65h-.65zM11.2 4.5h.65v.65h-.65zM14.0 0.7h.65v.65h-.65zM12.6 -8.4h.65v.65h-.65zM12.4 -2.6h.65v.65h-.65zM13.5 6.4h.65v.65h-.65zM7.6 -0.1h.65v.65h-.65zM14.6 3.8h.65v.65h-.65zM11.3 -4.4h.65v.65h-.65zM8.6 -0.4h.65v.65h-.65zM12.5 -8.7h.65v.65h-.65zM14.5 -0.9h.65v.65h-.65zM9.2 4.8h.65v.65h-.65zM14.4 -0.1h.65v.65h-.65zM9.9 1.4h.65v.65h-.65z" fill="#e8453a"/><path d="M-1.6 -12.1h.65v.65h-.65zM2.9 -10.1h.65v.65h-.65zM0.3 -10.7h.65v.65h-.65zM7.0 -7.8h.65v.65h-.65zM8.0 -7.6h.65v.65h-.65zM8.4 -14.5h.65v.65h-.65zM10.5 1.5h.65v.65h-.65zM9.0 -8.3h.65v.65h-.65zM10.1 6.4h.65v.65h-.65zM10.1 2.3h.65v.65h-.65zM9.3 -6.5h.65v.65h-.65zM8.4 2.8h.65v.65h-.65zM9.7 -0.3h.65v.65h-.65zM7.4 0.1h.65v.65h-.65zM10.8 6.6h.65v.65h-.65zM12.3 10.7h.65v.65h-.65z" fill="#f09e9a"/><path d="M-0.1 -14.5h.65v.65h-.65zM-0.1 -11.9h.65v.65h-.65zM0.4 -16.3h.65v.65h-.65zM-2.4 -13.5h.65v.65h-.65zM-2.9 -15.9h.65v.65h-.65zM4.4 -7.4h.65v.65h-.65zM6.0 -5.7h.65v.65h-.65zM15.0 -21.0h.65v.65h-.65zM12.1 -15.3h.65v.65h-.65zM10.0 -11.8h.65v.65h-.65zM10.4 -10.7h.65v.65h-.65zM11.1 -20.0h.65v.65h-.65zM10.7 -21.3h.65v.65h-.65zM14.7 -13.2h.65v.65h-.65zM11.2 -21.5h.65v.65h-.65zM8.4 -12.0h.65v.65h-.65zM13.8 -17.4h.65v.65h-.65zM15.0 0.2h.65v.65h-.65zM12.4 -3.8h.65v.65h-.65zM13.0 4.7h.65v.65h-.65zM7.2 -1.6h.65v.65h-.65zM8.0 3.1h.65v.65h-.65zM13.2 6.6h.65v.65h-.65zM10.7 6.5h.65v.65h-.65zM9.6 4.5h.65v.65h-.65zM9.8 -6.6h.65v.65h-.65zM14.4 1.9h.65v.65h-.65zM13.8 8.2h.65v.65h-.65zM9.4 5.4h.65v.65h-.65zM14.3 -7.5h.65v.65h-.65zM14.0 4.7h.65v.65h-.65z" fill="#ee847c"/><path d="M4.5 -11.9h.65v.65h-.65zM13.8 -10.1h.65v.65h-.65zM12.2 3.2h.65v.65h-.65zM6.0 -4.6h.65v.65h-.65zM11.8 -4.1h.65v.65h-.65zM9.1 -1.1h.65v.65h-.65zM15.3 14.9h.65v.65h-.65z" fill="#f1b9b8"/><path d="M12.9 10.9h.65v.65h-.65zM21.4 15.2h.65v.65h-.65zM18.4 11.0h.65v.65h-.65zM15.1 9.5h.65v.65h-.65zM10.8 13.3h.65v.65h-.65zM11.7 16.3h.65v.65h-.65zM13.5 10.2h.65v.65h-.65zM13.5 15.0h.65v.65h-.65zM14.3 9.6h.65v.65h-.65zM19.0 13.4h.65v.65h-.65zM13.6 8.9h.65v.65h-.65z" fill="#f4eef4"/><path d="M-12.8 -13.6h.6v.6h-.6zM-15.6 -11.2h.6v.6h-.6zM-13.8 -11.2h.6v.6h-.6zM-15.6 -7.8h.6v.6h-.6zM-16.2 -4.0h.6v.6h-.6zM-16.2 -2.8h.6v.6h-.6zM-22.1 -3.1h.6v.6h-.6zM-21.7 -0.8h.6v.6h-.6zM-20.8 -8.6h.6v.6h-.6zM-20.2 -11.4h.6v.6h-.6zM-20.4 -12.1h.6v.6h-.6zM-16.7 -14.5h.6v.6h-.6zM-16.0 -16.0h.6v.6h-.6zM-15.1 -16.8h.6v.6h-.6zM-19.2 8.5h.6v.6h-.6zM-17.0 12.7h.6v.6h-.6zM-16.2 11.1h.6v.6h-.6zM-17.4 14.0h.6v.6h-.6zM-15.8 15.1h.6v.6h-.6zM-17.6 16.8h.6v.6h-.6zM-16.8 16.5h.6v.6h-.6zM-15.0 17.1h.6v.6h-.6zM-21.6 18.1h.6v.6h-.6zM-23.2 16.7h.6v.6h-.6zM-24.7 11.5h.6v.6h-.6zM-24.1 11.5h.6v.6h-.6zM-25.2 11.6h.6v.6h-.6zM13.8 21.0h.6v.6h-.6zM10.9 16.7h.6v.6h-.6z" fill="#5058a7" fill-opacity="0.85"/><path d="M-14.1 -13.4h.6v.6h-.6zM-14.6 -13.6h.6v.6h-.6zM-13.8 -14.9h.6v.6h-.6zM-13.7 -13.7h.6v.6h-.6zM-15.1 -7.9h.6v.6h-.6zM-15.0 -10.5h.6v.6h-.6zM-15.3 -6.8h.6v.6h-.6zM-15.3 -6.4h.6v.6h-.6zM-17.7 -1.6h.6v.6h-.6zM-18.1 -0.8h.6v.6h-.6zM-20.3 -0.2h.6v.6h-.6zM-21.2 -6.9h.6v.6h-.6zM-19.5 -12.5h.6v.6h-.6zM-17.6 -14.6h.6v.6h-.6zM-14.4 -16.2h.6v.6h-.6zM-20.6 8.5h.6v.6h-.6zM-21.8 7.5h.6v.6h-.6zM-17.5 9.9h.6v.6h-.6zM-19.9 8.0h.6v.6h-.6zM-16.0 12.0h.6v.6h-.6zM-15.6 15.5h.6v.6h-.6zM-21.9 17.6h.6v.6h-.6zM-24.3 13.2h.6v.6h-.6zM-25.0 11.6h.6v.6h-.6zM-24.3 12.8h.6v.6h-.6zM15.4 22.0h.6v.6h-.6zM12.3 21.2h.6v.6h-.6z" fill="#30388e" fill-opacity="0.85"/><path d="M-13.3 -15.9h.6v.6h-.6zM-14.5 -10.3h.6v.6h-.6zM-14.2 -7.0h.6v.6h-.6zM-15.5 -6.6h.6v.6h-.6zM-16.4 -2.1h.6v.6h-.6zM-16.5 -4.7h.6v.6h-.6zM-15.0 -2.7h.6v.6h-.6zM-18.6 -2.1h.6v.6h-.6zM-23.4 -7.6h.6v.6h-.6zM-21.4 -7.2h.6v.6h-.6zM-22.7 -5.4h.6v.6h-.6zM-20.9 -8.9h.6v.6h-.6zM-21.7 -8.2h.6v.6h-.6zM-21.0 -11.0h.6v.6h-.6zM-18.6 -12.2h.6v.6h-.6zM-15.8 -16.6h.6v.6h-.6zM-16.8 -16.5h.6v.6h-.6zM-15.0 -17.2h.6v.6h-.6zM-23.6 8.3h.6v.6h-.6zM-24.1 9.0h.6v.6h-.6zM-21.1 9.2h.6v.6h-.6zM-18.2 8.7h.6v.6h-.6zM-16.4 15.0h.6v.6h-.6zM-16.7 13.2h.6v.6h-.6zM-16.1 15.8h.6v.6h-.6zM-18.9 16.0h.6v.6h-.6zM-21.1 17.4h.6v.6h-.6zM-23.6 15.1h.6v.6h-.6zM-24.5 15.1h.6v.6h-.6zM21.3 20.3h.6v.6h-.6zM20.6 20.4h.6v.6h-.6zM19.0 21.7h.6v.6h-.6zM14.3 22.3h.6v.6h-.6zM12.8 21.6h.6v.6h-.6z" fill="#40489a" fill-opacity="0.85"/><path d="M-12.9 -15.3h.6v.6h-.6zM-15.0 -8.9h.6v.6h-.6zM-14.4 -8.8h.6v.6h-.6zM-17.1 -0.9h.6v.6h-.6zM-22.6 -5.1h.6v.6h-.6zM-22.2 -6.6h.6v.6h-.6zM-16.3 -13.9h.6v.6h-.6zM-18.4 10.0h.6v.6h-.6zM-16.3 12.9h.6v.6h-.6zM-18.9 17.7h.6v.6h-.6zM-19.8 17.7h.6v.6h-.6zM-21.6 18.2h.6v.6h-.6zM-23.7 16.3h.6v.6h-.6zM-24.6 10.5h.6v.6h-.6zM21.7 18.9h.6v.6h-.6zM19.0 21.3h.6v.6h-.6zM15.6 22.0h.6v.6h-.6zM12.8 20.4h.6v.6h-.6zM12.8 21.1h.6v.6h-.6zM9.9 20.0h.6v.6h-.6z" fill="#6068b4" fill-opacity="0.85"/><path d="M-17.2 -4.0h.6v.6h-.6zM-20.0 -2.0h.6v.6h-.6zM-21.5 -9.3h.6v.6h-.6zM-23.9 8.8h.6v.6h-.6zM-25.6 15.3h.6v.6h-.6zM-24.3 12.4h.6v.6h-.6zM21.9 16.9h.6v.6h-.6zM21.3 19.9h.6v.6h-.6zM20.3 19.8h.6v.6h-.6zM19.4 22.2h.6v.6h-.6zM18.1 20.8h.6v.6h-.6zM10.7 20.6h.6v.6h-.6zM10.6 12.3h.6v.6h-.6z" fill="#7078c0" fill-opacity="0.85"/><path d="M-2.0 -18.1h.6v.6h-.6zM-0.5 -16.3h.6v.6h-.6zM1.4 -14.4h.6v.6h-.6zM2.2 -17.1h.6v.6h-.6zM8.9 -14.9h.6v.6h-.6zM9.6 -22.1h.6v.6h-.6zM17.1 -20.8h.6v.6h-.6zM12.8 -5.8h.6v.6h-.6zM16.0 -1.7h.6v.6h-.6zM9.9 7.6h.6v.6h-.6zM8.6 2.9h.6v.6h-.6zM7.6 -1.4h.6v.6h-.6zM5.2 -3.4h.6v.6h-.6zM-3.0 -11.1h.6v.6h-.6zM-0.0 -10.3h.6v.6h-.6zM-3.8 -17.1h.6v.6h-.6z" fill="#ee847c" fill-opacity="0.85"/><path d="M-3.6 -17.0h.6v.6h-.6zM0.2 -19.9h.6v.6h-.6zM0.5 -15.9h.6v.6h-.6zM1.1 -17.3h.6v.6h-.6zM2.1 -14.4h.6v.6h-.6zM9.0 -15.4h.6v.6h-.6zM9.1 -14.6h.6v.6h-.6zM12.8 -23.1h.6v.6h-.6zM15.5 -20.6h.6v.6h-.6zM17.4 -13.9h.6v.6h-.6zM16.3 -13.8h.6v.6h-.6zM14.8 -12.4h.6v.6h-.6zM14.9 -10.1h.6v.6h-.6zM14.2 -5.3h.6v.6h-.6zM15.4 -2.0h.6v.6h-.6zM15.1 0.8h.6v.6h-.6zM16.8 -0.9h.6v.6h-.6zM14.8 3.4h.6v.6h-.6zM13.7 5.0h.6v.6h-.6zM14.6 6.4h.6v.6h-.6zM8.4 5.8h.6v.6h-.6zM9.9 5.8h.6v.6h-.6zM7.6 2.4h.6v.6h-.6zM4.1 -5.2h.6v.6h-.6zM6.6 -4.6h.6v.6h-.6zM6.2 -6.3h.6v.6h-.6zM4.2 -8.0h.6v.6h-.6zM4.1 -5.2h.6v.6h-.6zM-2.1 -12.2h.6v.6h-.6zM-2.6 -15.2h.6v.6h-.6zM-2.7 -13.6h.6v.6h-.6zM-3.5 -13.5h.6v.6h-.6zM-3.0 -16.0h.6v.6h-.6zM-3.7 -15.3h.6v.6h-.6z" fill="#ea5a50" fill-opacity="0.85"/><path d="M-4.5 -17.8h.6v.6h-.6zM0.2 -18.4h.6v.6h-.6zM3.0 -13.1h.6v.6h-.6zM4.8 -11.4h.6v.6h-.6zM6.3 -12.3h.6v.6h-.6zM8.1 -15.3h.6v.6h-.6zM7.4 -12.0h.6v.6h-.6zM8.4 -17.9h.6v.6h-.6zM9.2 -20.0h.6v.6h-.6zM10.7 -22.1h.6v.6h-.6zM8.9 -16.8h.6v.6h-.6zM12.1 -23.7h.6v.6h-.6zM10.4 -24.7h.6v.6h-.6zM10.9 -21.9h.6v.6h-.6zM13.4 -24.0h.6v.6h-.6zM13.7 -22.4h.6v.6h-.6zM12.8 -22.1h.6v.6h-.6zM17.4 -18.7h.6v.6h-.6zM17.3 -19.6h.6v.6h-.6zM16.4 -17.3h.6v.6h-.6zM18.1 -15.6h.6v.6h-.6zM15.0 -11.5h.6v.6h-.6zM14.9 -11.8h.6v.6h-.6zM14.2 -8.0h.6v.6h-.6zM15.5 -3.3h.6v.6h-.6zM14.4 -5.6h.6v.6h-.6zM14.9 4.3h.6v.6h-.6zM14.1 5.5h.6v.6h-.6zM8.2 3.7h.6v.6h-.6zM9.7 4.6h.6v.6h-.6zM6.7 -1.5h.6v.6h-.6zM2.0 -10.5h.6v.6h-.6zM-0.1 -8.9h.6v.6h-.6z" fill="#e8453a" fill-opacity="0.85"/><path d="M-4.1 -17.2h.6v.6h-.6zM9.2 -16.0h.6v.6h-.6zM10.3 -24.1h.6v.6h-.6zM14.9 -19.3h.6v.6h-.6zM17.3 -20.5h.6v.6h-.6zM16.5 -15.7h.6v.6h-.6zM16.5 -11.8h.6v.6h-.6zM14.0 -5.9h.6v.6h-.6zM10.0 8.3h.6v.6h-.6zM0.8 -9.3h.6v.6h-.6zM-1.7 -11.8h.6v.6h-.6zM-5.8 -17.6h.6v.6h-.6z" fill="#e63024" fill-opacity="0.85"/><path d="M-1.6 -19.0h.6v.6h-.6zM3.2 -12.1h.6v.6h-.6zM3.2 -12.1h.6v.6h-.6zM5.5 -12.5h.6v.6h-.6zM7.3 -12.3h.6v.6h-.6zM8.1 -15.4h.6v.6h-.6zM7.0 -12.7h.6v.6h-.6zM8.6 -16.2h.6v.6h-.6zM11.5 -20.9h.6v.6h-.6zM10.8 -18.9h.6v.6h-.6zM10.0 -23.8h.6v.6h-.6zM12.0 -21.0h.6v.6h-.6zM17.3 -16.3h.6v.6h-.6zM18.7 -17.2h.6v.6h-.6zM17.9 -19.6h.6v.6h-.6zM16.5 -13.6h.6v.6h-.6zM14.0 -10.4h.6v.6h-.6zM14.1 -9.7h.6v.6h-.6zM14.2 -6.8h.6v.6h-.6zM14.1 -5.1h.6v.6h-.6zM15.2 -0.1h.6v.6h-.6zM16.1 2.2h.6v.6h-.6zM16.0 -1.9h.6v.6h-.6zM17.0 2.7h.6v.6h-.6zM14.4 5.3h.6v.6h-.6zM9.0 7.3h.6v.6h-.6zM7.2 2.8h.6v.6h-.6zM6.3 -0.0h.6v.6h-.6zM6.8 -2.1h.6v.6h-.6zM6.2 -1.8h.6v.6h-.6zM5.0 -4.9h.6v.6h-.6zM4.0 -5.5h.6v.6h-.6zM3.8 -6.8h.6v.6h-.6zM2.0 -9.1h.6v.6h-.6zM0.0 -12.0h.6v.6h-.6z" fill="#ec6f66" fill-opacity="0.85"/><path d="M14.1 7.3h.6v.6h-.6zM8.2 3.3h.6v.6h-.6zM9.2 7.0h.6v.6h-.6zM1.1 -9.5h.6v.6h-.6zM-2.6 -12.9h.6v.6h-.6z" fill="#f09e9a" fill-opacity="0.85"/><path d="M15.0 8.6h.6v.6h-.6zM19.1 9.4h.6v.6h-.6zM20.0 10.9h.6v.6h-.6zM21.9 12.4h.6v.6h-.6zM20.5 16.2h.6v.6h-.6zM22.2 17.2h.6v.6h-.6zM15.4 20.6h.6v.6h-.6zM10.6 18.3h.6v.6h-.6zM10.9 11.4h.6v.6h-.6zM11.4 13.0h.6v.6h-.6zM11.0 11.9h.6v.6h-.6z" fill="#9196cd" fill-opacity="0.85"/><path d="M15.7 7.6h.6v.6h-.6zM16.9 8.7h.6v.6h-.6zM21.2 12.0h.6v.6h-.6zM4.8 -5.5h.6v.6h-.6z" fill="#f2d4d6" fill-opacity="0.85"/><path d="M17.6 9.5h.6v.6h-.6zM16.0 9.0h.6v.6h-.6zM19.4 9.3h.6v.6h-.6zM10.2 10.6h.6v.6h-.6z" fill="#f4eef4" fill-opacity="0.85"/><path d="M17.7 10.2h.6v.6h-.6zM15.8 8.7h.6v.6h-.6zM22.5 11.7h.6v.6h-.6zM22.8 15.2h.6v.6h-.6zM23.3 13.9h.6v.6h-.6zM22.6 15.3h.6v.6h-.6zM10.1 17.6h.6v.6h-.6zM11.0 14.5h.6v.6h-.6zM9.6 14.8h.6v.6h-.6zM9.5 9.1h.6v.6h-.6zM9.9 10.4h.6v.6h-.6z" fill="#b2b3da" fill-opacity="0.85"/><path d="M18.3 9.7h.6v.6h-.6zM19.3 11.0h.6v.6h-.6zM19.3 10.9h.6v.6h-.6zM19.6 11.0h.6v.6h-.6zM21.6 18.1h.6v.6h-.6zM10.5 17.4h.6v.6h-.6zM11.3 13.3h.6v.6h-.6zM10.8 9.4h.6v.6h-.6z" fill="#d3d0e7" fill-opacity="0.85"/><path d="M-13.9 -16.4L-14.4 -17.6L-14.9 -18.8L-15.8 -19.7M-17.6 -3.6L-18.9 -3.6L-19.7 -4.6L-19.8 -5.9M-20.1 -3.5L-20.5 -4.8L-21.3 -3.7L-22.5 -3.9M-20.3 -2.8L-20.7 -4.0L-20.7 -5.3L-19.4 -5.3M-17.9 14.7L-19.1 14.2L-20.3 13.8L-20.7 12.5M-25.1 11.1L-25.8 12.2L-27.1 12.4L-28.0 13.4M-17.8 14.3L-18.0 13.0L-17.8 11.8L-17.9 10.5M5.5 -8.3L6.8 -8.3L8.1 -7.9L9.0 -7.1M8.0 -6.6L8.2 -5.3L7.5 -4.2L6.6 -3.3M0.2 -14.9L1.4 -15.5L0.5 -16.5L-0.1 -15.3M9.6 -11.4L9.0 -10.3L9.6 -9.1L8.7 -8.2M13.2 -18.0L14.4 -18.6L15.7 -18.7L16.6 -19.6M14.1 -11.5L12.9 -12.2L12.4 -13.3L13.2 -14.3M9.7 -18.2L8.9 -19.2L9.0 -20.5L7.7 -20.3M11.8 -11.2L12.9 -10.7L14.1 -11.3L14.5 -12.5M8.5 -7.0L7.5 -6.2L6.2 -6.1L5.0 -6.7M11.5 6.1L12.1 7.2L13.4 7.5L14.5 6.8M7.9 -0.5L7.7 -1.7L7.6 -3.0L8.9 -3.1M10.6 -4.2L11.9 -4.2L12.6 -5.3L13.2 -4.1M13.6 -7.5L13.8 -8.8L14.6 -9.8L15.5 -10.7M10.7 8.1L11.8 8.8L12.7 7.8L13.9 7.4M20.3 15.5L19.3 16.3L18.5 17.4L17.3 17.2M12.8 11.3L11.5 11.6L10.8 12.6L11.5 13.7M13.4 10.7L14.5 11.5L15.7 11.9L16.1 13.2M13.3 13.0L14.3 13.9L14.9 15.0L15.0 16.3M19.7 18.0L19.4 16.7L18.5 15.8L18.8 14.5M13.3 19.3L13.6 20.6L12.4 21.1L11.1 21.5" fill="none" stroke="#fff" stroke-width="0.45" stroke-opacity="0.75"/><circle cx="-6.1" cy="-1.8" r="0.6" fill="#9aa0c8"/><circle cx="21.0" cy="-10.8" r="0.5" fill="#9aa0c8"/></g>
<text x="68.10" y="221.20" font-size="8.5" text-anchor="middle" fill="#222">GZMK</text>
<text x="38.90" y="241.40" font-size="6.2" text-anchor="end" fill="#333">4</text>
<text x="38.90" y="255.80" font-size="6.2" text-anchor="end" fill="#333">0</text>
<text x="38.90" y="270.20" font-size="6.2" text-anchor="end" fill="#333">–4</text>
<g transform="translate(122.5,253.6)"><defs><linearGradient id="g4U1" x1="0" y1="0" x2="0" y2="1"><stop offset="0" stop-color="#ef9994"/><stop offset="1" stop-color="#4f57a6"/></linearGradient></defs><polygon points="-13.6,-17.3 -14.2,-12.6 -15.0,-8.6 -15.7,-4.0 -17.1,-1.1 -19.4,-0.5 -21.7,-3.4 -22.3,-6.9 -21.4,-10.3 -19.4,-12.6 -17.1,-14.4 -15.0,-16.7" fill="url(#g4U1)" stroke="none" stroke-width="0.5"/><polygon points="-24.0,9.3 -20.5,7.9 -17.1,9.3 -15.7,12.7 -16.5,16.2 -19.4,17.9 -22.8,17.4 -24.9,14.5 -25.1,11.0" fill="#4f57a6" stroke="none" stroke-width="0.5"/><g clip-path="url(#mclip)"><polygon points="-3.8,-17.8 -1.5,-19.0 0.2,-17.3 1.4,-14.4 3.7,-12.6 6.4,-11.4 9.0,-16.3 9.7,-21.6 11.2,-24.2 12.9,-23.6 14.7,-21.3 17.0,-20.1 17.6,-16.1 16.4,-12.6 14.7,-11.5 14.1,-8.6 14.7,-5.7 15.8,-2.3 16.4,1.8 15.2,2.9 14.1,4.7 14.7,8.1 17.6,9.3 20.4,11.0 22.2,14.5 22.2,18.5 19.9,20.8 16.4,22.0 12.9,21.4 10.6,19.7 10.1,16.2 10.6,11.6 10.1,8.1 8.3,4.7 7.2,1.2 6.0,-2.3 4.9,-5.7 2.6,-8.0 -0.3,-10.3 -2.6,-12.6 -3.8,-15.0" fill="#565eac" stroke="none" stroke-width="0.5"/><defs><linearGradient id="g4LOBE" x1="0" y1="0" x2="0" y2="1"><stop offset="0" stop-color="#e73a2f"/><stop offset="1" stop-color="#e95247"/></linearGradient></defs><g filter="url(#bb)"><polygon points="-3.8,-17.8 -1.5,-19.0 0.2,-17.3 1.4,-14.4 3.7,-12.6 6.4,-11.4 8.9,-10.3 7.9,-4.8 4.9,-5.7 2.6,-8.0 -0.3,-10.3 -2.6,-12.6 -3.8,-15.0" fill="#545caa" stroke="#545caa" stroke-width="1.2"/><polygon points="6.4,-11.4 9.0,-16.3 9.7,-21.6 11.2,-24.2 12.9,-23.6 14.7,-21.3 17.0,-20.1 17.6,-16.1 16.4,-12.6 14.7,-11.5 14.1,-8.6 8.9,-10.3" fill="url(#g4LOBE)" stroke="url(#g4LOBE)" stroke-width="1.2"/><polygon points="8.9,-10.3 14.1,-8.6 14.7,-5.7 15.8,-2.3 16.4,1.8 15.2,2.9 14.1,4.7 14.7,8.1 10.4,8.7 10.1,8.1 8.3,4.7 7.2,1.2 6.0,-2.3 4.9,-5.7 7.9,-4.8" fill="#565eac" stroke="#565eac" stroke-width="1.2"/><polygon points="14.7,8.1 17.6,9.3 20.4,11.0 22.2,14.5 22.2,18.5 19.9,20.8 16.4,22.0 12.9,21.4 10.6,19.7 10.1,16.2 10.6,11.6 10.4,8.7" fill="#7078c0" stroke="#7078c0" stroke-width="1.2"/></g></g><path d="M-14.6 -11.9h.65v.65h-.65zM-14.6 -14.3h.65v.65h-.65zM-14.2 -14.8h.65v.65h-.65zM-20.0 -8.7h.65v.65h-.65zM12.2 -22.7h.65v.65h-.65zM15.4 -16.8h.65v.65h-.65z" fill="#f09e9a"/><path d="M-20.1 -1.7h.65v.65h-.65zM-16.5 -2.6h.65v.65h-.65zM-16.2 -3.0h.65v.65h-.65zM-16.3 -5.8h.65v.65h-.65zM-22.4 14.3h.65v.65h-.65zM-20.0 16.3h.65v.65h-.65zM-21.3 8.6h.65v.65h-.65zM-19.5 9.1h.65v.65h-.65zM-18.0 13.5h.65v.65h-.65zM-23.3 12.1h.65v.65h-.65zM-20.6 9.8h.65v.65h-.65zM-20.3 12.8h.65v.65h-.65zM-20.5 9.0h.65v.65h-.65zM-21.2 11.5h.65v.65h-.65zM-20.4 10.0h.65v.65h-.65zM5.1 -10.6h.65v.65h-.65zM-1.5 -12.1h.65v.65h-.65zM7.1 -7.1h.65v.65h-.65zM3.1 -10.6h.65v.65h-.65zM-0.1 -10.9h.65v.65h-.65zM8.3 -7.2h.65v.65h-.65zM2.5 -12.8h.65v.65h-.65zM7.5 -7.3h.65v.65h-.65zM-0.3 -10.8h.65v.65h-.65zM-0.3 -11.5h.65v.65h-.65zM-1.6 -13.3h.65v.65h-.65zM3.4 -9.0h.65v.65h-.65zM7.1 -10.3h.65v.65h-.65zM10.5 -8.6h.65v.65h-.65zM11.2 2.6h.65v.65h-.65zM8.2 -0.6h.65v.65h-.65zM8.5 4.9h.65v.65h-.65zM14.3 3.7h.65v.65h-.65zM7.2 0.1h.65v.65h-.65zM14.4 -1.2h.65v.65h-.65zM9.6 -6.3h.65v.65h-.65zM9.4 -2.8h.65v.65h-.65zM12.1 1.3h.65v.65h-.65zM11.7 8.4h.65v.65h-.65zM11.6 1.1h.65v.65h-.65zM14.8 -2.0h.65v.65h-.65zM13.4 -0.5h.65v.65h-.65zM6.3 -4.2h.65v.65h-.65zM14.8 -0.4h.65v.65h-.65zM12.4 -4.5h.65v.65h-.65zM9.8 1.6h.65v.65h-.65zM11.6 6.8h.65v.65h-.65zM13.3 -6.3h.65v.65h-.65zM17.3 21.4h.65v.65h-.65zM12.8 12.7h.65v.65h-.65zM16.3 12.1h.65v.65h-.65zM17.3 19.6h.65v.65h-.65zM16.8 13.9h.65v.65h-.65zM20.3 13.9h.65v.65h-.65zM15.0 21.0h.65v.65h-.65zM17.5 16.2h.65v.65h-.65zM21.1 17.9h.65v.65h-.65z" fill="#5058a7"/><path d="M-16.7 -4.5h.65v.65h-.65zM-20.9 -9.9h.65v.65h-.65zM-16.8 -7.8h.65v.65h-.65zM-18.3 -5.4h.65v.65h-.65zM-20.9 -2.4h.65v.65h-.65zM-16.9 -11.8h.65v.65h-.65zM-16.3 -5.9h.65v.65h-.65zM-19.7 -2.4h.65v.65h-.65zM-16.2 -8.8h.65v.65h-.65zM13.9 -7.0h.65v.65h-.65zM9.6 0.4h.65v.65h-.65zM14.7 8.7h.65v.65h-.65zM12.1 14.6h.65v.65h-.65zM12.5 19.2h.65v.65h-.65zM12.6 10.5h.65v.65h-.65zM21.3 17.3h.65v.65h-.65zM15.0 20.3h.65v.65h-.65z" fill="#d3d0e7"/><path d="M-18.0 -12.5h.65v.65h-.65zM-19.7 -11.0h.65v.65h-.65zM-15.2 -12.0h.65v.65h-.65zM12.9 -20.2h.65v.65h-.65zM17.0 19.0h.65v.65h-.65z" fill="#f1b9b8"/><path d="M-19.3 -9.3h.65v.65h-.65zM-15.7 -4.9h.65v.65h-.65zM-19.0 -4.6h.65v.65h-.65zM-18.2 -4.0h.65v.65h-.65zM-22.1 14.6h.65v.65h-.65zM-20.3 9.2h.65v.65h-.65zM-17.2 16.1h.65v.65h-.65zM-22.5 14.7h.65v.65h-.65zM-20.9 9.3h.65v.65h-.65zM-17.5 12.2h.65v.65h-.65zM-21.1 17.6h.65v.65h-.65zM-2.1 -16.3h.65v.65h-.65zM-1.7 -17.8h.65v.65h-.65zM7.4 -7.2h.65v.65h-.65zM0.0 -11.4h.65v.65h-.65zM15.4 0.4h.65v.65h-.65zM14.2 4.3h.65v.65h-.65zM12.1 3.0h.65v.65h-.65zM6.5 -1.8h.65v.65h-.65zM8.5 -3.8h.65v.65h-.65zM14.8 1.4h.65v.65h-.65zM11.3 -4.6h.65v.65h-.65zM14.2 -3.7h.65v.65h-.65zM14.5 -2.7h.65v.65h-.65zM10.9 6.8h.65v.65h-.65zM6.9 -0.0h.65v.65h-.65zM13.4 5.1h.65v.65h-.65zM8.5 -0.6h.65v.65h-.65zM12.6 6.3h.65v.65h-.65zM11.4 13.7h.65v.65h-.65zM13.2 18.5h.65v.65h-.65zM15.0 8.8h.65v.65h-.65zM11.5 18.3h.65v.65h-.65zM19.3 18.4h.65v.65h-.65zM16.5 12.3h.65v.65h-.65zM11.1 18.6h.65v.65h-.65zM17.5 19.7h.65v.65h-.65zM14.1 15.4h.65v.65h-.65zM18.4 18.7h.65v.65h-.65zM19.9 15.2h.65v.65h-.65zM17.5 17.6h.65v.65h-.65zM18.8 15.0h.65v.65h-.65zM13.2 19.9h.65v.65h-.65zM14.5 16.5h.65v.65h-.65zM16.3 14.7h.65v.65h-.65zM11.5 12.6h.65v.65h-.65zM17.8 9.8h.65v.65h-.65zM14.6 8.4h.65v.65h-.65zM21.5 15.6h.65v.65h-.65zM16.7 21.1h.65v.65h-.65z" fill="#7078c0"/><path d="M-19.1 -2.2h.65v.65h-.65zM-22.0 -5.4h.65v.65h-.65zM-19.5 -4.2h.65v.65h-.65zM-20.1 -5.7h.65v.65h-.65zM-14.4 -12.1h.65v.65h-.65zM-16.9 -8.4h.65v.65h-.65zM-21.8 -4.5h.65v.65h-.65zM-16.1 -13.7h.65v.65h-.65zM-15.9 13.4h.65v.65h-.65zM5.4 -7.6h.65v.65h-.65zM-0.9 -11.3h.65v.65h-.65zM1.8 -11.6h.65v.65h-.65zM-0.9 -13.1h.65v.65h-.65zM11.2 7.4h.65v.65h-.65zM9.9 -7.1h.65v.65h-.65zM15.6 -2.4h.65v.65h-.65zM7.4 -0.0h.65v.65h-.65zM13.6 4.2h.65v.65h-.65zM11.9 -5.1h.65v.65h-.65zM11.1 -2.4h.65v.65h-.65zM14.6 0.7h.65v.65h-.65zM16.4 20.7h.65v.65h-.65zM10.4 16.3h.65v.65h-.65zM19.7 20.6h.65v.65h-.65zM16.6 9.1h.65v.65h-.65zM15.0 20.0h.65v.65h-.65zM16.0 11.7h.65v.65h-.65zM10.7 9.6h.65v.65h-.65zM10.7 15.6h.65v.65h-.65zM18.2 10.5h.65v.65h-.65zM19.4 19.2h.65v.65h-.65zM10.4 13.7h.65v.65h-.65zM12.5 14.4h.65v.65h-.65z" fill="#9196cd"/><path d="M-17.2 -11.1h.65v.65h-.65zM-20.8 -11.0h.65v.65h-.65zM-17.0 -11.3h.65v.65h-.65zM-17.1 -11.1h.65v.65h-.65zM-20.6 -9.3h.65v.65h-.65zM11.8 15.3h.65v.65h-.65zM12.5 20.4h.65v.65h-.65z" fill="#f4eef4"/><path d="M-18.9 -5.3h.65v.65h-.65zM-19.5 -9.6h.65v.65h-.65zM-17.3 -6.2h.65v.65h-.65zM-17.8 -9.8h.65v.65h-.65zM-15.5 -11.8h.65v.65h-.65zM-18.5 -11.8h.65v.65h-.65zM-14.3 -12.7h.65v.65h-.65zM-17.0 -7.1h.65v.65h-.65zM-17.3 -12.6h.65v.65h-.65zM-21.8 -7.9h.65v.65h-.65zM-16.3 -14.9h.65v.65h-.65zM-21.6 -5.3h.65v.65h-.65zM-16.9 -12.1h.65v.65h-.65zM-15.3 -9.4h.65v.65h-.65zM-17.2 -13.5h.65v.65h-.65zM-17.1 -10.2h.65v.65h-.65zM-19.1 -1.2h.65v.65h-.65zM-15.8 -7.3h.65v.65h-.65zM-18.8 -3.5h.65v.65h-.65zM-21.3 10.1h.65v.65h-.65zM-19.8 13.7h.65v.65h-.65zM-23.3 13.9h.65v.65h-.65zM-24.2 14.5h.65v.65h-.65zM-17.4 14.9h.65v.65h-.65zM-24.4 14.3h.65v.65h-.65zM-20.4 17.6h.65v.65h-.65zM-21.5 10.9h.65v.65h-.65zM-23.8 13.6h.65v.65h-.65zM-16.0 12.1h.65v.65h-.65zM-21.3 15.1h.65v.65h-.65zM-18.9 17.5h.65v.65h-.65zM-20.3 17.1h.65v.65h-.65zM-19.0 12.6h.65v.65h-.65zM-16.1 13.4h.65v.65h-.65zM-21.9 9.3h.65v.65h-.65zM-21.3 9.2h.65v.65h-.65zM-20.7 10.6h.65v.65h-.65zM7.7 -5.3h.65v.65h-.65zM0.2 -14.6h.65v.65h-.65zM3.4 -9.7h.65v.65h-.65zM3.9 -7.0h.65v.65h-.65zM2.7 -11.3h.65v.65h-.65zM7.0 -7.9h.65v.65h-.65zM-1.7 -12.1h.65v.65h-.65zM3.5 -8.8h.65v.65h-.65zM-3.7 -15.9h.65v.65h-.65zM2.9 -13.0h.65v.65h-.65zM-0.4 -12.9h.65v.65h-.65zM-2.4 -16.8h.65v.65h-.65zM-2.7 -14.7h.65v.65h-.65zM-0.5 -17.3h.65v.65h-.65zM15.2 -13.7h.65v.65h-.65zM13.3 -18.7h.65v.65h-.65zM15.1 -12.8h.65v.65h-.65zM13.3 -17.3h.65v.65h-.65zM10.0 -14.4h.65v.65h-.65zM12.1 -10.7h.65v.65h-.65zM11.9 -20.8h.65v.65h-.65zM17.3 -17.2h.65v.65h-.65zM17.3 -15.4h.65v.65h-.65zM10.0 -13.0h.65v.65h-.65zM11.8 -23.0h.65v.65h-.65zM15.2 -12.9h.65v.65h-.65zM12.4 -23.0h.65v.65h-.65zM11.0 -13.3h.65v.65h-.65zM15.1 -14.1h.65v.65h-.65zM15.3 -16.5h.65v.65h-.65zM9.3 -14.1h.65v.65h-.65zM14.2 -14.9h.65v.65h-.65zM13.9 -13.9h.65v.65h-.65zM10.1 -18.5h.65v.65h-.65zM15.0 -20.2h.65v.65h-.65zM9.3 -11.0h.65v.65h-.65zM12.4 -19.6h.65v.65h-.65zM15.8 -17.0h.65v.65h-.65zM11.4 -24.1h.65v.65h-.65zM14.2 -14.2h.65v.65h-.65zM15.0 -1.7h.65v.65h-.65zM12.5 -8.8h.65v.65h-.65zM12.2 -7.2h.65v.65h-.65zM8.1 -5.1h.65v.65h-.65zM15.5 -1.9h.65v.65h-.65zM12.9 5.5h.65v.65h-.65zM15.3 2.8h.65v.65h-.65zM6.0 -5.2h.65v.65h-.65zM10.5 6.5h.65v.65h-.65zM14.3 4.1h.65v.65h-.65zM14.0 -3.7h.65v.65h-.65zM11.2 1.9h.65v.65h-.65zM13.9 2.8h.65v.65h-.65zM7.0 -4.4h.65v.65h-.65zM12.4 7.5h.65v.65h-.65zM11.0 6.0h.65v.65h-.65zM7.6 -2.8h.65v.65h-.65zM11.5 6.8h.65v.65h-.65zM9.8 5.5h.65v.65h-.65zM12.5 -4.1h.65v.65h-.65zM12.9 1.2h.65v.65h-.65zM13.7 1.4h.65v.65h-.65zM15.9 1.0h.65v.65h-.65zM6.3 -4.9h.65v.65h-.65zM14.3 -1.3h.65v.65h-.65zM11.8 1.5h.65v.65h-.65zM8.0 -1.9h.65v.65h-.65zM13.5 -1.7h.65v.65h-.65zM13.3 7.6h.65v.65h-.65zM12.4 -4.7h.65v.65h-.65zM11.1 19.1h.65v.65h-.65zM16.6 13.3h.65v.65h-.65zM11.7 10.5h.65v.65h-.65zM19.4 17.5h.65v.65h-.65zM15.9 18.8h.65v.65h-.65zM16.6 13.6h.65v.65h-.65zM19.2 18.7h.65v.65h-.65zM17.7 18.5h.65v.65h-.65zM19.1 17.4h.65v.65h-.65zM14.9 17.1h.65v.65h-.65zM10.5 15.3h.65v.65h-.65zM11.1 15.8h.65v.65h-.65zM19.9 11.0h.65v.65h-.65zM21.1 16.0h.65v.65h-.65zM14.8 14.4h.65v.65h-.65zM13.6 9.1h.65v.65h-.65zM13.8 20.6h.65v.65h-.65zM16.1 16.8h.65v.65h-.65zM16.7 21.6h.65v.65h-.65zM16.1 17.0h.65v.65h-.65zM14.4 20.7h.65v.65h-.65zM13.2 15.6h.65v.65h-.65zM18.6 20.8h.65v.65h-.65zM22.0 16.5h.65v.65h-.65zM17.6 15.9h.65v.65h-.65zM13.1 10.0h.65v.65h-.65zM14.2 17.4h.65v.65h-.65zM14.2 10.0h.65v.65h-.65zM19.7 17.3h.65v.65h-.65zM18.2 16.6h.65v.65h-.65zM13.2 9.5h.65v.65h-.65zM18.8 13.4h.65v.65h-.65zM15.3 15.8h.65v.65h-.65zM18.7 11.2h.65v.65h-.65z" fill="#ffffff" fill-opacity="0.8"/><path d="M-19.5 -8.8h.65v.65h-.65zM-18.8 -3.7h.65v.65h-.65zM-15.4 -6.9h.65v.65h-.65zM-19.5 -3.7h.65v.65h-.65zM-18.3 -1.3h.65v.65h-.65zM-18.1 -3.1h.65v.65h-.65zM-17.2 -5.2h.65v.65h-.65zM-17.4 15.9h.65v.65h-.65zM-19.5 17.2h.65v.65h-.65zM-22.3 11.9h.65v.65h-.65zM-18.8 11.6h.65v.65h-.65zM-24.1 13.2h.65v.65h-.65zM-18.5 10.8h.65v.65h-.65zM-21.8 8.8h.65v.65h-.65zM-24.3 12.7h.65v.65h-.65zM-23.1 15.1h.65v.65h-.65zM-20.0 16.2h.65v.65h-.65zM-22.0 11.2h.65v.65h-.65zM5.0 -11.9h.65v.65h-.65zM6.1 -11.4h.65v.65h-.65zM-2.6 -15.9h.65v.65h-.65zM-0.0 -14.6h.65v.65h-.65zM0.4 -11.9h.65v.65h-.65zM0.5 -10.0h.65v.65h-.65zM6.8 -6.3h.65v.65h-.65zM4.6 -9.4h.65v.65h-.65zM12.8 0.5h.65v.65h-.65zM8.8 1.0h.65v.65h-.65zM15.6 -2.0h.65v.65h-.65zM9.0 5.5h.65v.65h-.65zM8.4 4.2h.65v.65h-.65zM9.5 -0.6h.65v.65h-.65zM10.8 -5.4h.65v.65h-.65zM14.3 1.9h.65v.65h-.65zM11.4 -2.4h.65v.65h-.65zM9.2 -4.4h.65v.65h-.65zM13.1 4.9h.65v.65h-.65zM8.9 5.8h.65v.65h-.65zM11.3 6.5h.65v.65h-.65zM14.0 -5.7h.65v.65h-.65zM7.8 -2.3h.65v.65h-.65zM10.7 -2.6h.65v.65h-.65zM15.1 20.9h.65v.65h-.65zM18.9 11.5h.65v.65h-.65zM16.3 11.5h.65v.65h-.65zM21.3 18.5h.65v.65h-.65zM19.1 14.3h.65v.65h-.65zM13.9 13.1h.65v.65h-.65zM10.6 13.7h.65v.65h-.65zM12.6 17.0h.65v.65h-.65zM13.1 17.1h.65v.65h-.65zM16.7 14.1h.65v.65h-.65zM13.3 16.2h.65v.65h-.65zM19.7 16.0h.65v.65h-.65z" fill="#6068b4"/><path d="M-18.4 -4.7h.65v.65h-.65zM-21.8 -7.6h.65v.65h-.65zM-20.1 -6.6h.65v.65h-.65zM-20.7 -10.9h.65v.65h-.65zM-20.7 14.9h.65v.65h-.65zM-1.2 -14.2h.65v.65h-.65zM7.4 -9.3h.65v.65h-.65zM2.6 -9.3h.65v.65h-.65zM14.4 19.9h.65v.65h-.65zM19.3 16.7h.65v.65h-.65zM21.6 13.3h.65v.65h-.65zM16.4 14.9h.65v.65h-.65zM11.4 8.8h.65v.65h-.65zM18.8 10.6h.65v.65h-.65zM16.6 17.9h.65v.65h-.65zM10.7 13.9h.65v.65h-.65zM17.3 14.0h.65v.65h-.65zM14.6 15.9h.65v.65h-.65zM15.8 9.5h.65v.65h-.65zM11.2 9.8h.65v.65h-.65zM13.8 15.1h.65v.65h-.65zM12.8 14.7h.65v.65h-.65z" fill="#b2b3da"/><path d="M-19.4 -1.1h.65v.65h-.65zM-20.5 14.4h.65v.65h-.65zM-22.3 15.5h.65v.65h-.65zM-20.2 10.6h.65v.65h-.65zM-19.2 16.7h.65v.65h-.65zM-16.4 12.0h.65v.65h-.65zM-23.1 11.1h.65v.65h-.65zM-18.7 15.6h.65v.65h-.65zM-21.1 13.2h.65v.65h-.65zM-18.1 12.3h.65v.65h-.65zM-24.9 13.1h.65v.65h-.65zM6.8 -8.9h.65v.65h-.65zM6.9 -6.3h.65v.65h-.65zM3.4 -10.2h.65v.65h-.65zM-1.9 -18.0h.65v.65h-.65zM0.0 -13.7h.65v.65h-.65zM7.1 -8.6h.65v.65h-.65zM10.3 -8.9h.65v.65h-.65zM8.9 2.7h.65v.65h-.65zM8.7 -8.2h.65v.65h-.65zM10.5 -3.9h.65v.65h-.65zM9.3 -0.5h.65v.65h-.65zM7.5 -3.3h.65v.65h-.65zM14.6 -1.0h.65v.65h-.65zM14.6 -4.8h.65v.65h-.65zM11.4 3.3h.65v.65h-.65zM14.2 -6.7h.65v.65h-.65zM10.2 -3.0h.65v.65h-.65zM18.7 13.9h.65v.65h-.65zM14.8 14.6h.65v.65h-.65zM15.7 12.7h.65v.65h-.65zM13.9 17.8h.65v.65h-.65zM17.1 14.5h.65v.65h-.65z" fill="#40489a"/><path d="M-15.0 -13.6h.65v.65h-.65zM-18.2 -12.2h.65v.65h-.65zM10.3 -12.0h.65v.65h-.65zM9.8 -12.6h.65v.65h-.65zM10.1 -13.1h.65v.65h-.65z" fill="#ee847c"/><path d="M-13.7 -16.5h.65v.65h-.65zM-15.8 -12.1h.65v.65h-.65zM-19.4 -8.1h.65v.65h-.65zM15.8 15.0h.65v.65h-.65z" fill="#f2d4d6"/><path d="M-14.8 -14.7h.65v.65h-.65zM16.7 -13.8h.65v.65h-.65zM11.0 -11.7h.65v.65h-.65zM12.4 -11.7h.65v.65h-.65zM10.7 -16.4h.65v.65h-.65zM10.9 -11.0h.65v.65h-.65zM16.3 -14.5h.65v.65h-.65zM13.9 -20.7h.65v.65h-.65zM11.3 -19.2h.65v.65h-.65zM7.1 -12.5h.65v.65h-.65zM14.9 -14.3h.65v.65h-.65zM17.0 -18.5h.65v.65h-.65z" fill="#e8453a"/><path d="M-22.4 12.5h.65v.65h-.65zM-24.5 13.9h.65v.65h-.65zM-17.7 9.6h.65v.65h-.65zM-21.8 12.7h.65v.65h-.65zM-19.7 12.0h.65v.65h-.65zM-1.1 -12.4h.65v.65h-.65zM0.1 -13.3h.65v.65h-.65zM-0.0 -15.4h.65v.65h-.65zM-2.9 -14.7h.65v.65h-.65zM-1.0 -18.0h.65v.65h-.65zM5.9 -9.3h.65v.65h-.65zM-0.3 -12.2h.65v.65h-.65zM-0.5 -12.4h.65v.65h-.65zM2.4 -8.3h.65v.65h-.65zM-3.0 -14.1h.65v.65h-.65zM5.4 -10.4h.65v.65h-.65zM7.8 -6.7h.65v.65h-.65zM6.9 -7.2h.65v.65h-.65zM5.8 -7.1h.65v.65h-.65zM8.1 -3.2h.65v.65h-.65zM13.7 -0.6h.65v.65h-.65zM8.9 -9.0h.65v.65h-.65zM11.6 1.1h.65v.65h-.65zM13.7 1.0h.65v.65h-.65zM5.6 -3.9h.65v.65h-.65zM15.6 -1.5h.65v.65h-.65zM10.2 -2.5h.65v.65h-.65zM14.8 -2.8h.65v.65h-.65zM8.6 1.5h.65v.65h-.65zM11.8 -3.6h.65v.65h-.65zM10.7 4.3h.65v.65h-.65zM12.1 -4.0h.65v.65h-.65zM9.2 -10.0h.65v.65h-.65zM14.8 -3.9h.65v.65h-.65zM10.4 -5.9h.65v.65h-.65zM12.7 -5.1h.65v.65h-.65zM14.0 4.1h.65v.65h-.65zM14.6 10.0h.65v.65h-.65zM18.8 12.5h.65v.65h-.65zM16.8 18.9h.65v.65h-.65zM12.8 20.1h.65v.65h-.65z" fill="#30388e"/><path d="M13.2 -20.4h.65v.65h-.65zM15.3 -15.0h.65v.65h-.65zM11.5 -18.1h.65v.65h-.65zM11.7 -14.5h.65v.65h-.65zM10.9 -20.6h.65v.65h-.65zM13.0 -22.1h.65v.65h-.65zM11.5 -14.4h.65v.65h-.65zM11.4 -10.4h.65v.65h-.65zM13.9 -15.5h.65v.65h-.65zM11.0 -19.8h.65v.65h-.65zM12.2 -14.5h.65v.65h-.65zM13.6 -20.8h.65v.65h-.65zM11.2 -21.1h.65v.65h-.65zM16.1 -13.0h.65v.65h-.65zM14.2 -11.7h.65v.65h-.65zM13.8 -16.7h.65v.65h-.65zM17.0 -17.3h.65v.65h-.65zM9.2 -12.1h.65v.65h-.65zM13.9 -9.1h.65v.65h-.65zM11.3 -11.4h.65v.65h-.65zM8.5 -12.9h.65v.65h-.65zM13.2 -19.8h.65v.65h-.65zM12.0 -12.2h.65v.65h-.65zM11.2 -14.7h.65v.65h-.65zM7.7 -13.7h.65v.65h-.65zM13.8 -19.6h.65v.65h-.65z" fill="#e63024"/><path d="M10.9 -17.7h.65v.65h-.65zM13.7 -10.3h.65v.65h-.65zM10.8 -16.5h.65v.65h-.65zM14.8 -20.0h.65v.65h-.65zM16.7 -15.5h.65v.65h-.65zM13.7 -18.5h.65v.65h-.65zM11.3 -12.5h.65v.65h-.65zM14.3 -20.9h.65v.65h-.65zM9.7 -11.9h.65v.65h-.65zM16.8 -16.5h.65v.65h-.65zM11.6 -16.0h.65v.65h-.65zM10.2 -22.4h.65v.65h-.65zM13.7 -14.6h.65v.65h-.65zM10.2 -17.6h.65v.65h-.65zM10.8 -13.1h.65v.65h-.65zM7.0 -12.0h.65v.65h-.65zM14.4 -17.7h.65v.65h-.65zM15.6 -15.7h.65v.65h-.65zM14.1 -9.1h.65v.65h-.65zM9.8 -18.2h.65v.65h-.65z" fill="#ea5a50"/><path d="M12.3 -11.2h.65v.65h-.65zM8.7 -14.4h.65v.65h-.65zM11.1 -18.4h.65v.65h-.65z" fill="#ec6f66"/><path d="M-14.4 -14.6h.6v.6h-.6zM-13.4 -15.1h.6v.6h-.6zM-13.4 -17.6h.6v.6h-.6z" fill="#f09e9a" fill-opacity="0.85"/><path d="M-14.4 -15.5h.6v.6h-.6zM-13.6 -15.1h.6v.6h-.6zM-14.9 -11.0h.6v.6h-.6zM-19.5 -12.3h.6v.6h-.6zM-16.1 -18.0h.6v.6h-.6zM-15.8 -13.6h.6v.6h-.6zM-14.9 -14.5h.6v.6h-.6z" fill="#f2d4d6" fill-opacity="0.85"/><path d="M-13.4 -13.0h.6v.6h-.6zM-14.7 -11.8h.6v.6h-.6zM-14.6 -8.4h.6v.6h-.6zM-14.3 -9.3h.6v.6h-.6zM-15.6 -5.5h.6v.6h-.6zM-15.7 -7.6h.6v.6h-.6zM-22.8 -8.6h.6v.6h-.6zM-18.9 -14.0h.6v.6h-.6zM-15.5 -13.8h.6v.6h-.6z" fill="#f4eef4" fill-opacity="0.85"/><path d="M-14.2 -15.4h.6v.6h-.6zM-14.8 -17.6h.6v.6h-.6zM-14.2 -17.2h.6v.6h-.6z" fill="#ee847c" fill-opacity="0.85"/><path d="M-14.6 -11.1h.6v.6h-.6zM-14.0 -10.2h.6v.6h-.6zM-20.7 -10.2h.6v.6h-.6zM-20.9 -9.0h.6v.6h-.6zM-21.9 -6.7h.6v.6h-.6zM-19.5 -11.3h.6v.6h-.6zM-20.2 -12.4h.6v.6h-.6zM18.6 10.6h.6v.6h-.6zM22.4 12.1h.6v.6h-.6z" fill="#d3d0e7" fill-opacity="0.85"/><path d="M-14.4 -9.4h.6v.6h-.6zM-15.2 -6.5h.6v.6h-.6zM-17.2 -1.9h.6v.6h-.6zM-23.5 -4.7h.6v.6h-.6zM16.1 -0.4h.6v.6h-.6zM14.0 6.8h.6v.6h-.6zM16.5 8.7h.6v.6h-.6zM17.4 9.1h.6v.6h-.6zM21.9 19.6h.6v.6h-.6zM18.1 21.0h.6v.6h-.6zM18.3 20.6h.6v.6h-.6zM14.2 22.3h.6v.6h-.6zM14.5 21.3h.6v.6h-.6zM13.4 22.7h.6v.6h-.6zM10.4 14.1h.6v.6h-.6zM9.8 12.2h.6v.6h-.6zM11.4 13.1h.6v.6h-.6zM10.8 9.8h.6v.6h-.6zM9.9 10.2h.6v.6h-.6zM5.1 -4.6h.6v.6h-.6z" fill="#9196cd" fill-opacity="0.85"/><path d="M-15.4 -5.6h.6v.6h-.6zM-20.8 -2.4h.6v.6h-.6zM-19.9 -3.0h.6v.6h-.6zM-22.0 7.4h.6v.6h-.6zM-20.8 8.4h.6v.6h-.6zM-20.6 7.6h.6v.6h-.6zM-18.5 9.2h.6v.6h-.6zM-16.6 10.5h.6v.6h-.6zM-16.3 11.7h.6v.6h-.6zM-17.1 11.0h.6v.6h-.6zM-16.5 14.7h.6v.6h-.6zM-16.5 14.7h.6v.6h-.6zM-15.9 13.0h.6v.6h-.6zM-16.0 15.0h.6v.6h-.6zM-16.9 16.2h.6v.6h-.6zM-17.4 16.7h.6v.6h-.6zM-20.4 19.2h.6v.6h-.6zM-25.4 14.2h.6v.6h-.6zM-24.7 13.4h.6v.6h-.6zM-1.8 -18.9h.6v.6h-.6zM0.3 -17.4h.6v.6h-.6zM-1.4 -18.8h.6v.6h-.6zM2.0 -14.4h.6v.6h-.6zM4.9 -12.4h.6v.6h-.6zM15.2 -4.0h.6v.6h-.6zM14.9 -4.6h.6v.6h-.6zM16.6 2.4h.6v.6h-.6zM15.1 3.5h.6v.6h-.6zM15.8 2.6h.6v.6h-.6zM14.9 6.9h.6v.6h-.6zM15.1 7.0h.6v.6h-.6zM19.6 11.4h.6v.6h-.6zM20.5 13.6h.6v.6h-.6zM19.7 21.2h.6v.6h-.6zM21.3 18.8h.6v.6h-.6zM18.6 20.4h.6v.6h-.6zM10.4 18.6h.6v.6h-.6zM10.3 15.8h.6v.6h-.6zM9.1 5.6h.6v.6h-.6zM9.6 5.9h.6v.6h-.6zM6.1 4.1h.6v.6h-.6zM6.0 1.6h.6v.6h-.6zM6.7 0.3h.6v.6h-.6zM5.2 -6.6h.6v.6h-.6zM4.5 -6.2h.6v.6h-.6zM3.7 -6.4h.6v.6h-.6zM2.3 -8.0h.6v.6h-.6zM2.2 -7.5h.6v.6h-.6zM-1.1 -11.2h.6v.6h-.6zM-5.1 -14.3h.6v.6h-.6zM-3.3 -16.4h.6v.6h-.6z" fill="#5058a7" fill-opacity="0.85"/><path d="M-15.2 -4.9h.6v.6h-.6zM-13.9 -5.6h.6v.6h-.6zM-13.9 -2.7h.6v.6h-.6zM-17.0 -1.0h.6v.6h-.6zM-16.1 -1.9h.6v.6h-.6zM-20.9 -3.4h.6v.6h-.6zM-22.7 -7.2h.6v.6h-.6zM-21.7 -4.1h.6v.6h-.6zM-22.5 -4.7h.6v.6h-.6zM-21.7 7.7h.6v.6h-.6zM-23.0 9.2h.6v.6h-.6zM-23.3 17.2h.6v.6h-.6zM-0.3 -16.6h.6v.6h-.6zM0.5 -16.3h.6v.6h-.6zM2.4 -14.0h.6v.6h-.6zM2.6 -14.3h.6v.6h-.6zM7.0 -13.6h.6v.6h-.6zM16.7 -0.8h.6v.6h-.6zM16.4 7.0h.6v.6h-.6zM14.7 6.7h.6v.6h-.6zM20.1 10.2h.6v.6h-.6zM22.5 17.6h.6v.6h-.6zM20.9 15.2h.6v.6h-.6zM21.9 15.8h.6v.6h-.6zM23.6 16.6h.6v.6h-.6zM21.5 19.0h.6v.6h-.6zM19.7 20.6h.6v.6h-.6zM17.0 22.0h.6v.6h-.6zM16.0 21.7h.6v.6h-.6zM11.7 22.2h.6v.6h-.6zM11.2 19.9h.6v.6h-.6zM9.7 15.5h.6v.6h-.6zM9.8 14.0h.6v.6h-.6zM10.2 7.6h.6v.6h-.6zM10.7 8.7h.6v.6h-.6zM9.7 6.3h.6v.6h-.6zM8.8 7.2h.6v.6h-.6zM8.0 3.8h.6v.6h-.6zM5.9 -3.4h.6v.6h-.6zM1.4 -10.2h.6v.6h-.6zM-0.6 -10.8h.6v.6h-.6zM-3.5 -15.7h.6v.6h-.6z" fill="#7078c0" fill-opacity="0.85"/><path d="M-13.9 -5.3h.6v.6h-.6zM-16.7 -4.1h.6v.6h-.6zM-20.9 -2.5h.6v.6h-.6zM-17.9 9.2h.6v.6h-.6zM-17.5 16.3h.6v.6h-.6zM-16.3 16.6h.6v.6h-.6zM-20.3 16.6h.6v.6h-.6zM-21.6 17.9h.6v.6h-.6zM-24.2 15.3h.6v.6h-.6zM-25.4 11.4h.6v.6h-.6zM-24.9 11.4h.6v.6h-.6zM-23.9 10.7h.6v.6h-.6zM-24.6 9.2h.6v.6h-.6zM-1.3 -18.8h.6v.6h-.6zM-4.2 -17.5h.6v.6h-.6zM2.3 -15.0h.6v.6h-.6zM4.0 -12.9h.6v.6h-.6zM6.4 -14.4h.6v.6h-.6zM6.0 -13.1h.6v.6h-.6zM13.4 -8.0h.6v.6h-.6zM14.5 -7.9h.6v.6h-.6zM15.4 -4.8h.6v.6h-.6zM15.6 -2.0h.6v.6h-.6zM15.7 1.9h.6v.6h-.6zM14.5 3.2h.6v.6h-.6zM16.5 7.8h.6v.6h-.6zM14.6 8.4h.6v.6h-.6zM18.1 9.2h.6v.6h-.6zM22.7 14.4h.6v.6h-.6zM20.0 12.1h.6v.6h-.6zM21.4 13.3h.6v.6h-.6zM22.3 15.5h.6v.6h-.6zM20.0 20.4h.6v.6h-.6zM10.3 20.5h.6v.6h-.6zM10.5 19.9h.6v.6h-.6zM11.2 18.8h.6v.6h-.6zM10.3 15.3h.6v.6h-.6zM9.5 14.8h.6v.6h-.6zM11.7 8.8h.6v.6h-.6zM7.3 2.7h.6v.6h-.6zM7.3 4.2h.6v.6h-.6zM5.4 -2.4h.6v.6h-.6zM6.5 -3.2h.6v.6h-.6zM0.7 -10.6h.6v.6h-.6zM-0.6 -11.1h.6v.6h-.6zM-1.3 -11.2h.6v.6h-.6zM-3.1 -14.4h.6v.6h-.6zM-3.1 -15.8h.6v.6h-.6zM-2.7 -18.5h.6v.6h-.6zM-3.7 -18.0h.6v.6h-.6z" fill="#6068b4" fill-opacity="0.85"/><path d="M-15.9 -2.1h.6v.6h-.6zM-20.9 0.0h.6v.6h-.6zM-22.3 -3.5h.6v.6h-.6zM-23.3 8.5h.6v.6h-.6zM-16.2 9.3h.6v.6h-.6zM-18.1 11.6h.6v.6h-.6zM-15.8 9.2h.6v.6h-.6zM-15.8 15.2h.6v.6h-.6zM-19.3 17.0h.6v.6h-.6zM-19.8 17.0h.6v.6h-.6zM-24.7 15.3h.6v.6h-.6zM-23.5 17.0h.6v.6h-.6zM-24.7 16.8h.6v.6h-.6zM-23.4 11.6h.6v.6h-.6zM-25.4 9.6h.6v.6h-.6zM-0.2 -17.5h.6v.6h-.6zM-0.0 -16.4h.6v.6h-.6zM0.0 -16.8h.6v.6h-.6zM3.2 -13.8h.6v.6h-.6zM6.1 -11.9h.6v.6h-.6zM5.6 -11.5h.6v.6h-.6zM6.8 -13.8h.6v.6h-.6zM6.3 -9.5h.6v.6h-.6zM16.6 1.8h.6v.6h-.6zM15.6 1.9h.6v.6h-.6zM21.3 13.4h.6v.6h-.6zM14.4 22.4h.6v.6h-.6zM7.7 6.7h.6v.6h-.6zM8.1 6.8h.6v.6h-.6zM8.8 5.8h.6v.6h-.6zM5.8 -2.3h.6v.6h-.6zM6.3 -3.4h.6v.6h-.6zM4.3 -5.7h.6v.6h-.6zM4.6 -6.3h.6v.6h-.6zM1.2 -10.2h.6v.6h-.6zM-3.2 -13.9h.6v.6h-.6z" fill="#40489a" fill-opacity="0.85"/><path d="M-18.7 -2.1h.6v.6h-.6zM-18.8 8.6h.6v.6h-.6zM-16.3 11.0h.6v.6h-.6zM-18.2 17.8h.6v.6h-.6zM-1.1 -19.1h.6v.6h-.6zM15.1 -6.5h.6v.6h-.6zM16.2 -2.0h.6v.6h-.6zM15.6 2.6h.6v.6h-.6zM13.8 7.5h.6v.6h-.6zM11.0 18.8h.6v.6h-.6zM2.4 -8.4h.6v.6h-.6z" fill="#30388e" fill-opacity="0.85"/><path d="M-18.4 -0.2h.6v.6h-.6zM-21.7 -9.5h.6v.6h-.6zM-21.5 -11.3h.6v.6h-.6zM17.0 10.9h.6v.6h-.6zM22.7 14.6h.6v.6h-.6zM10.6 18.3h.6v.6h-.6zM6.1 0.3h.6v.6h-.6zM8.2 0.1h.6v.6h-.6z" fill="#b2b3da" fill-opacity="0.85"/><path d="M-18.3 -14.2h.6v.6h-.6zM-19.6 -12.3h.6v.6h-.6z" fill="#f1b9b8" fill-opacity="0.85"/><path d="M8.6 -14.3h.6v.6h-.6zM10.8 -19.7h.6v.6h-.6zM9.5 -18.8h.6v.6h-.6zM9.4 -18.6h.6v.6h-.6zM8.2 -17.3h.6v.6h-.6zM10.4 -22.9h.6v.6h-.6zM9.5 -20.8h.6v.6h-.6zM10.8 -23.2h.6v.6h-.6zM13.9 -21.7h.6v.6h-.6zM15.1 -22.0h.6v.6h-.6zM15.2 -19.6h.6v.6h-.6zM15.9 -20.0h.6v.6h-.6zM18.0 -17.1h.6v.6h-.6zM17.4 -17.0h.6v.6h-.6zM17.6 -15.3h.6v.6h-.6zM16.3 -11.2h.6v.6h-.6zM16.8 -12.7h.6v.6h-.6zM14.0 -8.2h.6v.6h-.6z" fill="#e63024" fill-opacity="0.85"/><path d="M8.1 -16.4h.6v.6h-.6zM8.8 -16.9h.6v.6h-.6zM10.4 -23.9h.6v.6h-.6zM13.9 -23.6h.6v.6h-.6zM18.2 -18.0h.6v.6h-.6zM17.5 -20.0h.6v.6h-.6zM17.1 -20.0h.6v.6h-.6zM17.4 -19.6h.6v.6h-.6zM15.4 -13.3h.6v.6h-.6zM14.6 -10.0h.6v.6h-.6zM14.4 -10.3h.6v.6h-.6zM13.8 -9.8h.6v.6h-.6z" fill="#e8453a" fill-opacity="0.85"/><path d="M7.9 -13.7h.6v.6h-.6zM8.5 -19.3h.6v.6h-.6zM9.6 -18.3h.6v.6h-.6zM8.6 -19.2h.6v.6h-.6zM10.5 -21.5h.6v.6h-.6zM16.6 -13.1h.6v.6h-.6zM15.5 -12.9h.6v.6h-.6zM15.8 -13.2h.6v.6h-.6zM16.2 -10.1h.6v.6h-.6zM15.1 -8.0h.6v.6h-.6z" fill="#ea5a50" fill-opacity="0.85"/><path d="M11.3 -23.3h.6v.6h-.6zM14.6 -21.6h.6v.6h-.6zM15.0 -20.4h.6v.6h-.6zM14.6 -21.7h.6v.6h-.6zM16.5 -12.2h.6v.6h-.6z" fill="#ec6f66" fill-opacity="0.85"/><path d="M-21.8 -8.3L-22.9 -9.0L-24.1 -8.5L-25.3 -8.1M-15.1 -13.7L-15.2 -12.4L-15.0 -11.2L-14.4 -10.0M-16.1 -11.8L-15.8 -10.5L-16.2 -9.3L-16.1 -8.0M-17.4 -4.4L-16.9 -5.6L-16.4 -6.8L-16.8 -8.0M-19.0 8.7L-20.3 8.6L-21.6 8.5L-22.8 8.9M-20.7 17.1L-19.6 17.9L-18.4 17.4L-17.1 17.1M-23.4 14.4L-22.1 14.5L-20.8 14.2L-19.7 13.5M7.9 -6.3L7.2 -7.4L7.0 -8.7L7.8 -9.7M-1.6 -15.7L-0.4 -15.4L0.3 -14.2L1.5 -13.7M1.0 -12.5L0.9 -11.2L0.0 -10.2L-0.2 -8.9M14.8 -15.6L14.7 -14.3L15.6 -13.3L16.9 -13.7M9.6 -13.7L9.5 -12.4L9.9 -11.1L8.6 -11.0M14.2 -14.2L14.5 -13.0L15.3 -11.9L15.7 -10.7M13.8 -18.6L12.5 -18.8L11.8 -17.7L12.6 -16.7M13.7 -22.2L12.4 -22.1L11.4 -21.3L10.1 -21.2M5.8 -4.6L4.6 -4.8L3.4 -4.2L2.2 -3.9M13.4 7.4L12.6 8.4L11.5 9.1L11.3 10.4M7.8 0.3L6.7 -0.3L6.2 -1.5L6.8 -2.7M11.8 0.5L13.1 0.3L13.8 -0.7L15.0 -0.3M13.2 -0.3L12.3 0.7L12.2 2.0L11.4 3.1M9.6 -6.5L8.3 -6.6L7.5 -5.5L8.8 -5.4M16.5 16.8L17.5 16.0L17.1 14.8L17.5 13.5M13.1 13.0L12.6 14.2L12.4 15.5L12.2 16.8M12.1 20.2L13.1 19.3L13.7 18.1L14.9 17.8M15.0 15.9L13.9 16.7L12.7 17.2L12.1 16.1M17.5 9.8L16.7 10.8L18.0 10.6L19.3 10.6M17.6 18.0L16.3 18.3L15.3 19.1L14.9 17.9" fill="none" stroke="#fff" stroke-width="0.45" stroke-opacity="0.75"/><circle cx="-6.1" cy="-1.8" r="0.6" fill="#9aa0c8"/><circle cx="21.0" cy="-10.8" r="0.5" fill="#9aa0c8"/></g>
<text x="122.00" y="221.20" font-size="8.5" text-anchor="middle" fill="#222">CD69</text>
<text x="38.90" y="241.40" font-size="6.2" text-anchor="end" fill="#333">4</text>
<text x="38.90" y="255.80" font-size="6.2" text-anchor="end" fill="#333">0</text>
<text x="38.90" y="270.20" font-size="6.2" text-anchor="end" fill="#333">–4</text>
<g transform="translate(176.1,253.6)"><polygon points="-13.6,-17.3 -14.2,-12.6 -15.0,-8.6 -15.7,-4.0 -17.1,-1.1 -19.4,-0.5 -21.7,-3.4 -22.3,-6.9 -21.4,-10.3 -19.4,-12.6 -17.1,-14.4 -15.0,-16.7" fill="#4a52a2" stroke="none" stroke-width="0.5"/><polygon points="-24.0,9.3 -20.5,7.9 -17.1,9.3 -15.7,12.7 -16.5,16.2 -19.4,17.9 -22.8,17.4 -24.9,14.5 -25.1,11.0" fill="#4f57a6" stroke="none" stroke-width="0.5"/><g clip-path="url(#mclip)"><polygon points="-3.8,-17.8 -1.5,-19.0 0.2,-17.3 1.4,-14.4 3.7,-12.6 6.4,-11.4 9.0,-16.3 9.7,-21.6 11.2,-24.2 12.9,-23.6 14.7,-21.3 17.0,-20.1 17.6,-16.1 16.4,-12.6 14.7,-11.5 14.1,-8.6 14.7,-5.7 15.8,-2.3 16.4,1.8 15.2,2.9 14.1,4.7 14.7,8.1 17.6,9.3 20.4,11.0 22.2,14.5 22.2,18.5 19.9,20.8 16.4,22.0 12.9,21.4 10.6,19.7 10.1,16.2 10.6,11.6 10.1,8.1 8.3,4.7 7.2,1.2 6.0,-2.3 4.9,-5.7 2.6,-8.0 -0.3,-10.3 -2.6,-12.6 -3.8,-15.0" fill="#757dc2" stroke="none" stroke-width="0.5"/><defs><linearGradient id="g5TRUNK" x1="0" y1="0" x2="0" y2="1"><stop offset="0" stop-color="#4f57a6"/><stop offset="1" stop-color="#bfbfdf"/></linearGradient></defs><g filter="url(#bb)"><polygon points="-3.8,-17.8 -1.5,-19.0 0.2,-17.3 1.4,-14.4 3.7,-12.6 6.4,-11.4 8.9,-10.3 7.9,-4.8 4.9,-5.7 2.6,-8.0 -0.3,-10.3 -2.6,-12.6 -3.8,-15.0" fill="#4a52a2" stroke="#4a52a2" stroke-width="1.2"/><polygon points="6.4,-11.4 9.0,-16.3 9.7,-21.6 11.2,-24.2 12.9,-23.6 14.7,-21.3 17.0,-20.1 17.6,-16.1 16.4,-12.6 14.7,-11.5 14.1,-8.6 8.9,-10.3" fill="#4f57a6" stroke="#4f57a6" stroke-width="1.2"/><polygon points="8.9,-10.3 14.1,-8.6 14.7,-5.7 15.8,-2.3 16.4,1.8 15.2,2.9 14.1,4.7 14.7,8.1 10.4,8.7 10.1,8.1 8.3,4.7 7.2,1.2 6.0,-2.3 4.9,-5.7 7.9,-4.8" fill="url(#g5TRUNK)" stroke="url(#g5TRUNK)" stroke-width="1.2"/><polygon points="14.7,8.1 17.6,9.3 20.4,11.0 22.2,14.5 22.2,18.5 19.9,20.8 16.4,22.0 12.9,21.4 10.6,19.7 10.1,16.2 10.6,11.6 10.4,8.7" fill="#e8483d" stroke="#e8483d" stroke-width="1.2"/></g></g><path d="M-16.2 -10.5h.65v.65h-.65zM-16.8 -3.1h.65v.65h-.65zM-20.6 -8.0h.65v.65h-.65zM-15.5 -8.9h.65v.65h-.65zM-16.5 -5.3h.65v.65h-.65zM-19.3 -11.0h.65v.65h-.65zM-20.3 -4.0h.65v.65h-.65zM-17.9 -4.2h.65v.65h-.65zM-16.5 -13.3h.65v.65h-.65zM-15.5 -15.6h.65v.65h-.65zM-20.1 -4.8h.65v.65h-.65zM-19.3 -9.5h.65v.65h-.65zM-16.5 -14.8h.65v.65h-.65zM-19.1 -11.5h.65v.65h-.65zM-18.2 -9.6h.65v.65h-.65zM-20.5 -9.2h.65v.65h-.65zM-16.2 -7.1h.65v.65h-.65zM-20.4 9.6h.65v.65h-.65zM-19.0 12.9h.65v.65h-.65zM-19.3 14.1h.65v.65h-.65zM-21.1 11.7h.65v.65h-.65zM-19.9 9.1h.65v.65h-.65zM-19.8 15.6h.65v.65h-.65zM-23.0 15.6h.65v.65h-.65zM-17.2 12.2h.65v.65h-.65zM-19.7 13.8h.65v.65h-.65zM-16.9 13.4h.65v.65h-.65zM-22.9 10.1h.65v.65h-.65zM-17.0 14.3h.65v.65h-.65zM-21.3 11.4h.65v.65h-.65zM7.2 -6.7h.65v.65h-.65zM-0.6 -14.6h.65v.65h-.65zM8.7 -9.5h.65v.65h-.65zM3.2 -8.8h.65v.65h-.65zM7.8 -7.5h.65v.65h-.65zM5.3 -5.7h.65v.65h-.65zM12.1 -10.6h.65v.65h-.65zM12.4 -23.0h.65v.65h-.65zM12.6 -21.8h.65v.65h-.65zM11.8 -9.4h.65v.65h-.65zM14.0 -8.8h.65v.65h-.65zM13.6 -16.7h.65v.65h-.65zM14.6 -17.9h.65v.65h-.65zM16.2 -20.5h.65v.65h-.65zM11.6 -17.5h.65v.65h-.65zM11.6 -6.1h.65v.65h-.65zM9.0 -9.0h.65v.65h-.65zM13.2 -8.4h.65v.65h-.65zM12.1 2.7h.65v.65h-.65zM7.3 -3.7h.65v.65h-.65zM12.5 2.6h.65v.65h-.65z" fill="#40489a"/><path d="M-15.0 -8.7h.65v.65h-.65zM-21.8 13.1h.65v.65h-.65zM-23.1 13.6h.65v.65h-.65zM-18.0 13.8h.65v.65h-.65zM-23.1 15.4h.65v.65h-.65zM-3.1 -17.5h.65v.65h-.65zM8.4 -11.4h.65v.65h-.65zM14.1 -20.3h.65v.65h-.65zM12.5 -19.0h.65v.65h-.65zM11.6 -20.6h.65v.65h-.65zM13.2 -8.1h.65v.65h-.65zM9.5 6.2h.65v.65h-.65zM8.9 2.7h.65v.65h-.65zM14.2 3.1h.65v.65h-.65zM10.7 -1.9h.65v.65h-.65zM12.2 -1.3h.65v.65h-.65zM15.0 -3.7h.65v.65h-.65zM14.6 3.0h.65v.65h-.65zM10.1 4.0h.65v.65h-.65zM7.4 -4.3h.65v.65h-.65zM15.1 0.2h.65v.65h-.65zM14.4 0.7h.65v.65h-.65zM13.8 1.3h.65v.65h-.65zM13.2 4.8h.65v.65h-.65zM15.0 -3.0h.65v.65h-.65zM11.7 4.6h.65v.65h-.65z" fill="#9196cd"/><path d="M-19.2 -0.7h.65v.65h-.65zM-17.8 -11.8h.65v.65h-.65zM-17.4 -2.0h.65v.65h-.65zM-20.8 -3.5h.65v.65h-.65zM-17.1 -11.4h.65v.65h-.65zM-18.2 -1.4h.65v.65h-.65zM-21.9 -6.6h.65v.65h-.65zM-17.6 -1.0h.65v.65h-.65zM-18.8 -2.3h.65v.65h-.65zM-16.3 -13.1h.65v.65h-.65zM-17.7 -7.8h.65v.65h-.65zM-16.2 -12.2h.65v.65h-.65zM-16.9 -9.3h.65v.65h-.65zM-17.5 -9.8h.65v.65h-.65zM-14.2 -14.0h.65v.65h-.65zM-16.9 -9.4h.65v.65h-.65zM-18.4 -6.2h.65v.65h-.65zM-21.8 -4.0h.65v.65h-.65zM-23.0 14.0h.65v.65h-.65zM-19.5 12.3h.65v.65h-.65zM-16.9 13.9h.65v.65h-.65zM-23.0 11.7h.65v.65h-.65zM-22.9 17.1h.65v.65h-.65zM-24.1 9.8h.65v.65h-.65zM-22.6 14.6h.65v.65h-.65zM-19.4 16.6h.65v.65h-.65zM-20.0 12.6h.65v.65h-.65zM-24.4 13.8h.65v.65h-.65zM-18.2 12.0h.65v.65h-.65zM-20.3 11.9h.65v.65h-.65zM-23.8 9.4h.65v.65h-.65zM-18.8 13.8h.65v.65h-.65zM-18.3 14.4h.65v.65h-.65zM-18.2 12.5h.65v.65h-.65zM-20.5 8.5h.65v.65h-.65zM7.8 -10.2h.65v.65h-.65zM7.5 -9.8h.65v.65h-.65zM6.6 -9.0h.65v.65h-.65zM0.5 -14.1h.65v.65h-.65zM-2.5 -14.9h.65v.65h-.65zM-0.5 -16.0h.65v.65h-.65zM2.5 -12.3h.65v.65h-.65zM-0.4 -11.0h.65v.65h-.65zM0.7 -14.3h.65v.65h-.65zM8.1 -9.8h.65v.65h-.65zM4.5 -10.5h.65v.65h-.65zM4.7 -10.5h.65v.65h-.65zM-1.2 -12.0h.65v.65h-.65zM0.6 -13.0h.65v.65h-.65zM0.3 -15.7h.65v.65h-.65zM6.7 -5.6h.65v.65h-.65zM-2.6 -17.8h.65v.65h-.65zM6.2 -10.8h.65v.65h-.65zM10.5 -15.3h.65v.65h-.65zM8.4 -10.8h.65v.65h-.65zM12.5 -18.9h.65v.65h-.65zM9.5 -10.9h.65v.65h-.65zM10.3 -13.3h.65v.65h-.65zM14.8 -17.8h.65v.65h-.65zM16.9 -18.8h.65v.65h-.65zM9.6 -18.3h.65v.65h-.65zM9.9 -14.0h.65v.65h-.65zM13.7 -17.2h.65v.65h-.65zM10.1 -11.8h.65v.65h-.65zM12.0 -20.8h.65v.65h-.65zM15.5 -19.3h.65v.65h-.65zM9.7 -11.2h.65v.65h-.65zM14.2 -17.2h.65v.65h-.65zM12.8 -19.9h.65v.65h-.65zM9.9 -18.7h.65v.65h-.65zM15.0 -12.8h.65v.65h-.65zM10.9 -16.6h.65v.65h-.65zM10.5 -14.7h.65v.65h-.65zM11.5 -19.2h.65v.65h-.65zM11.8 -18.8h.65v.65h-.65zM8.9 -15.2h.65v.65h-.65zM10.7 -19.7h.65v.65h-.65zM11.9 -21.3h.65v.65h-.65zM12.3 -21.4h.65v.65h-.65zM13.1 -16.4h.65v.65h-.65zM12.4 -11.7h.65v.65h-.65zM7.0 -1.8h.65v.65h-.65zM14.1 -1.4h.65v.65h-.65zM8.0 0.0h.65v.65h-.65zM13.9 -7.4h.65v.65h-.65zM12.1 3.9h.65v.65h-.65zM12.4 -3.5h.65v.65h-.65zM7.7 -4.3h.65v.65h-.65zM10.8 -5.9h.65v.65h-.65zM11.4 -5.2h.65v.65h-.65zM10.0 -3.1h.65v.65h-.65zM10.5 2.8h.65v.65h-.65zM13.7 1.9h.65v.65h-.65zM8.3 -0.8h.65v.65h-.65zM8.3 3.0h.65v.65h-.65zM15.4 -2.0h.65v.65h-.65zM10.5 -0.1h.65v.65h-.65zM8.9 -6.1h.65v.65h-.65zM9.7 -9.6h.65v.65h-.65zM12.4 -5.6h.65v.65h-.65zM9.3 -7.2h.65v.65h-.65zM9.1 1.6h.65v.65h-.65zM10.1 -3.5h.65v.65h-.65zM10.8 3.9h.65v.65h-.65zM12.9 6.1h.65v.65h-.65zM13.3 -7.5h.65v.65h-.65zM15.2 14.7h.65v.65h-.65zM18.0 16.9h.65v.65h-.65zM19.2 11.7h.65v.65h-.65zM18.8 12.9h.65v.65h-.65zM16.0 12.2h.65v.65h-.65zM17.2 12.8h.65v.65h-.65zM18.4 20.2h.65v.65h-.65zM14.9 11.0h.65v.65h-.65zM20.3 15.2h.65v.65h-.65zM22.2 14.8h.65v.65h-.65zM15.2 20.7h.65v.65h-.65zM15.3 15.5h.65v.65h-.65zM19.9 11.4h.65v.65h-.65zM19.0 20.9h.65v.65h-.65zM20.1 11.2h.65v.65h-.65zM20.1 14.7h.65v.65h-.65zM11.8 8.6h.65v.65h-.65zM16.9 9.3h.65v.65h-.65zM14.0 8.5h.65v.65h-.65zM20.5 13.1h.65v.65h-.65zM18.9 11.0h.65v.65h-.65zM11.8 20.2h.65v.65h-.65zM20.3 14.2h.65v.65h-.65zM13.5 18.4h.65v.65h-.65zM20.7 13.2h.65v.65h-.65zM13.9 10.7h.65v.65h-.65zM18.6 10.3h.65v.65h-.65zM16.5 9.8h.65v.65h-.65zM15.2 18.9h.65v.65h-.65z" fill="#ffffff" fill-opacity="0.8"/><path d="M-18.7 -4.2h.65v.65h-.65zM-18.6 -8.3h.65v.65h-.65zM-16.1 -4.8h.65v.65h-.65zM-17.0 -9.3h.65v.65h-.65zM-18.6 -7.7h.65v.65h-.65zM-17.4 -5.5h.65v.65h-.65zM-20.3 -2.1h.65v.65h-.65zM-17.0 -1.8h.65v.65h-.65zM-20.9 -4.9h.65v.65h-.65zM-15.3 -13.2h.65v.65h-.65zM-24.8 11.2h.65v.65h-.65zM-20.8 8.1h.65v.65h-.65zM-21.7 15.9h.65v.65h-.65zM-22.2 14.2h.65v.65h-.65zM-21.2 16.7h.65v.65h-.65zM-20.2 10.2h.65v.65h-.65zM-19.5 13.4h.65v.65h-.65zM-19.1 11.0h.65v.65h-.65zM-21.8 8.6h.65v.65h-.65zM-19.4 14.9h.65v.65h-.65zM-20.8 9.3h.65v.65h-.65zM8.1 -6.6h.65v.65h-.65zM2.8 -9.6h.65v.65h-.65zM3.6 -10.2h.65v.65h-.65zM-1.5 -14.5h.65v.65h-.65zM1.0 -14.3h.65v.65h-.65zM2.5 -12.1h.65v.65h-.65zM6.5 -6.6h.65v.65h-.65zM8.0 -9.6h.65v.65h-.65zM0.6 -12.4h.65v.65h-.65zM0.0 -13.8h.65v.65h-.65zM1.3 -13.9h.65v.65h-.65zM-1.6 -14.2h.65v.65h-.65zM0.8 -9.5h.65v.65h-.65zM-0.2 -14.0h.65v.65h-.65zM4.8 -8.2h.65v.65h-.65zM13.5 -15.0h.65v.65h-.65zM17.1 -15.9h.65v.65h-.65zM13.1 -15.9h.65v.65h-.65zM13.1 -22.7h.65v.65h-.65zM8.5 -14.9h.65v.65h-.65zM15.3 -14.8h.65v.65h-.65zM14.9 -15.9h.65v.65h-.65zM10.5 -11.8h.65v.65h-.65zM13.7 -11.2h.65v.65h-.65zM11.9 -14.8h.65v.65h-.65zM16.8 -19.3h.65v.65h-.65zM17.1 -14.9h.65v.65h-.65zM12.5 3.2h.65v.65h-.65zM11.9 1.1h.65v.65h-.65zM9.1 -1.1h.65v.65h-.65zM9.9 -4.0h.65v.65h-.65zM11.3 3.6h.65v.65h-.65zM9.6 -0.9h.65v.65h-.65zM7.7 -4.1h.65v.65h-.65zM11.8 -9.2h.65v.65h-.65zM11.9 -5.4h.65v.65h-.65z" fill="#5058a7"/><path d="M-19.5 -12.2h.65v.65h-.65zM-15.2 -11.1h.65v.65h-.65zM-18.8 -1.1h.65v.65h-.65zM-19.5 -8.5h.65v.65h-.65zM-16.1 -12.7h.65v.65h-.65zM-19.2 -9.4h.65v.65h-.65zM-18.0 -10.0h.65v.65h-.65zM-18.4 -1.1h.65v.65h-.65zM-16.6 -10.4h.65v.65h-.65zM-17.7 -4.2h.65v.65h-.65zM-16.5 13.5h.65v.65h-.65zM-18.4 11.2h.65v.65h-.65zM-20.7 10.1h.65v.65h-.65zM-19.3 9.8h.65v.65h-.65zM-22.6 15.7h.65v.65h-.65zM-19.9 12.3h.65v.65h-.65zM-3.7 -17.3h.65v.65h-.65zM1.9 -11.8h.65v.65h-.65zM5.9 -7.6h.65v.65h-.65zM6.1 -9.2h.65v.65h-.65zM6.0 -9.2h.65v.65h-.65zM-3.4 -16.5h.65v.65h-.65zM-2.4 -13.3h.65v.65h-.65zM7.4 -7.3h.65v.65h-.65zM13.5 -15.9h.65v.65h-.65zM12.4 -16.3h.65v.65h-.65zM15.1 -13.7h.65v.65h-.65zM10.3 -15.0h.65v.65h-.65zM8.7 -14.1h.65v.65h-.65zM12.0 -23.8h.65v.65h-.65zM13.7 -19.1h.65v.65h-.65zM13.0 -16.0h.65v.65h-.65zM9.3 -11.5h.65v.65h-.65zM16.4 -13.0h.65v.65h-.65zM12.8 -20.9h.65v.65h-.65zM13.8 -20.2h.65v.65h-.65zM7.1 0.5h.65v.65h-.65zM9.8 -5.8h.65v.65h-.65zM10.2 -2.9h.65v.65h-.65zM10.7 -1.8h.65v.65h-.65zM10.3 -5.5h.65v.65h-.65zM14.8 3.6h.65v.65h-.65zM9.9 -8.1h.65v.65h-.65zM12.6 4.7h.65v.65h-.65zM15.1 0.1h.65v.65h-.65zM11.8 3.4h.65v.65h-.65zM14.0 -0.4h.65v.65h-.65zM13.9 2.4h.65v.65h-.65zM10.3 -2.1h.65v.65h-.65zM10.6 -1.0h.65v.65h-.65zM12.6 -0.7h.65v.65h-.65z" fill="#6068b4"/><path d="M-15.3 -12.6h.65v.65h-.65zM-18.7 -10.5h.65v.65h-.65zM-16.9 -8.1h.65v.65h-.65zM-18.6 -10.5h.65v.65h-.65zM-17.3 -4.0h.65v.65h-.65zM-20.1 -10.6h.65v.65h-.65zM-17.0 -5.1h.65v.65h-.65zM-16.8 -14.5h.65v.65h-.65zM-18.7 -6.6h.65v.65h-.65zM-24.7 13.1h.65v.65h-.65zM-18.4 13.0h.65v.65h-.65zM-22.2 12.7h.65v.65h-.65zM-22.3 15.1h.65v.65h-.65zM-17.8 10.6h.65v.65h-.65zM-16.0 13.6h.65v.65h-.65zM7.9 -10.6h.65v.65h-.65zM7.3 -10.8h.65v.65h-.65zM6.6 -10.6h.65v.65h-.65zM5.3 -10.4h.65v.65h-.65zM-1.0 -18.2h.65v.65h-.65zM-2.1 -12.8h.65v.65h-.65zM12.0 -12.3h.65v.65h-.65zM15.2 -15.1h.65v.65h-.65zM9.4 -15.2h.65v.65h-.65zM15.3 -14.5h.65v.65h-.65zM16.5 -13.2h.65v.65h-.65zM12.8 -12.8h.65v.65h-.65zM15.9 -13.2h.65v.65h-.65zM11.9 -13.4h.65v.65h-.65zM12.2 -19.9h.65v.65h-.65zM13.3 3.9h.65v.65h-.65zM13.6 1.1h.65v.65h-.65zM11.9 -1.7h.65v.65h-.65zM7.2 -0.5h.65v.65h-.65zM13.0 -7.3h.65v.65h-.65zM13.1 -2.0h.65v.65h-.65zM11.9 -4.8h.65v.65h-.65zM10.4 -4.8h.65v.65h-.65zM10.7 1.5h.65v.65h-.65zM10.0 -1.9h.65v.65h-.65zM11.7 2.5h.65v.65h-.65zM14.2 3.2h.65v.65h-.65zM10.8 -2.2h.65v.65h-.65zM12.5 1.8h.65v.65h-.65zM11.1 0.8h.65v.65h-.65zM15.1 2.7h.65v.65h-.65zM9.4 -5.3h.65v.65h-.65zM7.3 -1.3h.65v.65h-.65z" fill="#7078c0"/><path d="M-16.4 -7.8h.65v.65h-.65zM-14.9 -15.6h.65v.65h-.65zM-17.8 -9.9h.65v.65h-.65zM-17.2 -8.0h.65v.65h-.65zM-17.4 -12.1h.65v.65h-.65zM-15.3 -11.7h.65v.65h-.65zM-21.0 -10.0h.65v.65h-.65zM-21.1 -6.3h.65v.65h-.65zM-21.6 -4.4h.65v.65h-.65zM-17.3 12.0h.65v.65h-.65zM-20.2 10.8h.65v.65h-.65zM-23.6 12.2h.65v.65h-.65zM-24.2 14.1h.65v.65h-.65zM-20.9 9.9h.65v.65h-.65zM-20.0 11.1h.65v.65h-.65zM-20.0 11.1h.65v.65h-.65zM-0.9 -13.7h.65v.65h-.65zM-2.9 -16.4h.65v.65h-.65zM3.0 -7.7h.65v.65h-.65zM-3.7 -17.6h.65v.65h-.65zM-0.7 -12.2h.65v.65h-.65zM8.1 -9.2h.65v.65h-.65zM2.0 -11.4h.65v.65h-.65zM-0.8 -11.6h.65v.65h-.65zM3.2 -8.9h.65v.65h-.65zM2.4 -11.3h.65v.65h-.65zM-0.7 -13.3h.65v.65h-.65zM-1.5 -17.6h.65v.65h-.65zM9.3 -11.5h.65v.65h-.65zM11.5 -15.3h.65v.65h-.65zM15.6 -14.9h.65v.65h-.65zM9.6 -15.9h.65v.65h-.65zM14.8 -15.3h.65v.65h-.65zM11.4 -17.1h.65v.65h-.65zM17.3 -16.6h.65v.65h-.65zM11.5 -13.8h.65v.65h-.65zM13.6 -22.1h.65v.65h-.65zM12.2 -9.2h.65v.65h-.65zM16.2 -14.1h.65v.65h-.65zM7.6 -12.2h.65v.65h-.65zM13.1 -19.3h.65v.65h-.65zM9.1 -16.1h.65v.65h-.65zM16.3 -13.4h.65v.65h-.65zM10.3 -8.7h.65v.65h-.65zM9.6 -8.0h.65v.65h-.65zM10.5 -4.5h.65v.65h-.65zM15.2 -3.5h.65v.65h-.65zM5.6 -5.0h.65v.65h-.65z" fill="#30388e"/><path d="M11.0 -23.2h.65v.65h-.65zM10.3 -17.5h.65v.65h-.65zM11.9 -21.3h.65v.65h-.65zM14.3 -3.8h.65v.65h-.65zM9.3 -1.6h.65v.65h-.65zM8.0 2.6h.65v.65h-.65zM12.1 -5.0h.65v.65h-.65zM11.6 2.1h.65v.65h-.65zM11.2 -0.1h.65v.65h-.65zM8.0 0.3h.65v.65h-.65zM9.3 -5.4h.65v.65h-.65zM12.6 2.5h.65v.65h-.65z" fill="#b2b3da"/><path d="M8.4 -0.7h.65v.65h-.65zM11.1 2.2h.65v.65h-.65zM13.9 4.4h.65v.65h-.65zM12.2 4.1h.65v.65h-.65zM12.2 8.3h.65v.65h-.65zM15.6 0.4h.65v.65h-.65zM8.5 0.3h.65v.65h-.65zM9.6 3.1h.65v.65h-.65zM8.7 3.1h.65v.65h-.65z" fill="#d3d0e7"/><path d="M12.1 4.0h.65v.65h-.65zM8.2 0.3h.65v.65h-.65z" fill="#f2d4d6"/><path d="M12.3 4.8h.65v.65h-.65zM8.5 0.0h.65v.65h-.65zM11.8 4.3h.65v.65h-.65zM13.1 4.1h.65v.65h-.65zM13.6 -1.4h.65v.65h-.65z" fill="#f4eef4"/><path d="M13.3 16.7h.65v.65h-.65zM11.4 10.4h.65v.65h-.65zM18.8 12.2h.65v.65h-.65zM11.8 11.1h.65v.65h-.65zM18.1 15.4h.65v.65h-.65zM17.2 21.4h.65v.65h-.65zM14.7 12.2h.65v.65h-.65zM11.6 19.2h.65v.65h-.65zM18.6 15.0h.65v.65h-.65zM14.9 14.6h.65v.65h-.65zM14.4 17.4h.65v.65h-.65zM15.3 8.8h.65v.65h-.65zM12.6 9.2h.65v.65h-.65zM12.3 12.0h.65v.65h-.65zM16.3 11.5h.65v.65h-.65z" fill="#e8453a"/><path d="M11.9 18.0h.65v.65h-.65zM17.7 11.5h.65v.65h-.65zM17.0 19.9h.65v.65h-.65zM14.7 12.6h.65v.65h-.65zM21.1 18.2h.65v.65h-.65zM13.4 12.6h.65v.65h-.65zM20.9 17.3h.65v.65h-.65zM13.4 18.0h.65v.65h-.65zM13.5 8.7h.65v.65h-.65zM11.0 18.8h.65v.65h-.65zM19.5 18.8h.65v.65h-.65zM11.7 17.0h.65v.65h-.65zM17.6 15.1h.65v.65h-.65zM13.7 17.6h.65v.65h-.65zM20.6 12.6h.65v.65h-.65zM14.3 10.0h.65v.65h-.65zM20.2 15.4h.65v.65h-.65zM18.2 13.5h.65v.65h-.65zM18.9 15.4h.65v.65h-.65zM21.3 15.5h.65v.65h-.65zM14.0 15.8h.65v.65h-.65zM14.8 8.3h.65v.65h-.65zM18.2 17.2h.65v.65h-.65zM16.5 9.1h.65v.65h-.65zM19.2 16.5h.65v.65h-.65zM13.7 21.2h.65v.65h-.65zM13.9 14.3h.65v.65h-.65zM11.4 19.3h.65v.65h-.65zM14.4 16.8h.65v.65h-.65zM18.5 18.2h.65v.65h-.65zM13.9 14.7h.65v.65h-.65zM16.7 19.4h.65v.65h-.65zM14.6 10.3h.65v.65h-.65zM15.9 19.0h.65v.65h-.65zM10.7 8.8h.65v.65h-.65zM18.9 11.9h.65v.65h-.65zM12.7 14.9h.65v.65h-.65zM15.8 15.0h.65v.65h-.65z" fill="#e63024"/><path d="M18.5 20.0h.65v.65h-.65zM12.1 20.0h.65v.65h-.65zM22.0 18.2h.65v.65h-.65zM21.2 18.5h.65v.65h-.65zM16.9 12.3h.65v.65h-.65zM20.5 13.0h.65v.65h-.65z" fill="#ee847c"/><path d="M11.6 11.0h.65v.65h-.65zM18.8 18.5h.65v.65h-.65zM17.4 16.5h.65v.65h-.65zM12.3 13.1h.65v.65h-.65zM20.4 18.1h.65v.65h-.65zM10.7 16.9h.65v.65h-.65zM13.8 8.9h.65v.65h-.65zM16.5 11.1h.65v.65h-.65zM12.5 19.6h.65v.65h-.65zM12.2 19.8h.65v.65h-.65zM18.0 14.3h.65v.65h-.65zM11.3 19.1h.65v.65h-.65z" fill="#ea5a50"/><path d="M13.6 16.3h.65v.65h-.65zM19.4 20.1h.65v.65h-.65zM21.0 13.1h.65v.65h-.65zM18.6 11.4h.65v.65h-.65zM17.1 10.1h.65v.65h-.65zM19.4 15.7h.65v.65h-.65zM16.3 21.3h.65v.65h-.65zM11.3 14.7h.65v.65h-.65zM14.2 10.3h.65v.65h-.65zM14.6 18.7h.65v.65h-.65zM18.4 18.5h.65v.65h-.65zM13.7 18.1h.65v.65h-.65zM20.3 11.9h.65v.65h-.65zM14.9 14.7h.65v.65h-.65zM12.2 14.7h.65v.65h-.65zM16.8 15.3h.65v.65h-.65zM13.4 16.4h.65v.65h-.65zM11.7 15.3h.65v.65h-.65zM18.0 14.0h.65v.65h-.65zM14.2 9.6h.65v.65h-.65z" fill="#ec6f66"/><path d="M20.6 15.2h.65v.65h-.65z" fill="#f09e9a"/><path d="M-13.7 -12.4h.6v.6h-.6zM-13.2 -14.0h.6v.6h-.6zM-15.6 -9.6h.6v.6h-.6zM-15.9 -8.3h.6v.6h-.6zM-20.0 -2.1h.6v.6h-.6zM-21.6 -3.3h.6v.6h-.6zM-20.6 -1.6h.6v.6h-.6zM-22.5 -2.0h.6v.6h-.6zM-21.3 -4.8h.6v.6h-.6zM-21.4 -5.3h.6v.6h-.6zM-21.1 -6.1h.6v.6h-.6zM-21.2 -8.5h.6v.6h-.6zM-21.4 -8.7h.6v.6h-.6zM-21.8 -10.5h.6v.6h-.6zM-18.3 -13.4h.6v.6h-.6zM-16.2 -13.0h.6v.6h-.6zM-17.1 -14.8h.6v.6h-.6zM-16.5 -16.4h.6v.6h-.6zM-13.5 -17.7h.6v.6h-.6zM-22.2 8.8h.6v.6h-.6zM-23.7 8.2h.6v.6h-.6zM-18.4 8.1h.6v.6h-.6zM-18.0 8.9h.6v.6h-.6zM-19.0 16.4h.6v.6h-.6zM-17.2 16.4h.6v.6h-.6zM-20.9 17.5h.6v.6h-.6zM-23.7 15.1h.6v.6h-.6zM-21.8 16.0h.6v.6h-.6zM-25.7 14.5h.6v.6h-.6zM-25.4 10.2h.6v.6h-.6zM-3.1 -18.0h.6v.6h-.6zM0.5 -18.2h.6v.6h-.6zM1.1 -16.4h.6v.6h-.6zM0.1 -17.3h.6v.6h-.6zM1.4 -14.8h.6v.6h-.6zM5.0 -11.8h.6v.6h-.6zM5.3 -11.4h.6v.6h-.6zM9.5 -21.4h.6v.6h-.6zM9.7 -16.3h.6v.6h-.6zM10.0 -21.5h.6v.6h-.6zM13.3 -23.4h.6v.6h-.6zM15.6 -21.5h.6v.6h-.6zM16.9 -17.5h.6v.6h-.6zM18.0 -16.4h.6v.6h-.6zM17.4 -18.5h.6v.6h-.6zM17.4 -15.4h.6v.6h-.6zM17.8 -15.2h.6v.6h-.6zM18.3 -15.2h.6v.6h-.6zM15.4 -5.9h.6v.6h-.6zM14.7 -6.9h.6v.6h-.6zM15.3 2.1h.6v.6h-.6zM5.2 -4.5h.6v.6h-.6zM4.8 -6.4h.6v.6h-.6zM6.5 -2.3h.6v.6h-.6zM3.4 -8.2h.6v.6h-.6zM-0.9 -9.3h.6v.6h-.6zM-1.4 -12.5h.6v.6h-.6zM-1.1 -11.7h.6v.6h-.6zM-1.1 -13.0h.6v.6h-.6z" fill="#5058a7" fill-opacity="0.85"/><path d="M-12.9 -14.0h.6v.6h-.6zM-14.5 -8.3h.6v.6h-.6zM-22.8 -8.8h.6v.6h-.6zM-14.5 -15.5h.6v.6h-.6zM-16.1 10.0h.6v.6h-.6zM-25.0 13.9h.6v.6h-.6zM8.2 -16.5h.6v.6h-.6zM9.5 -20.7h.6v.6h-.6zM12.6 -23.4h.6v.6h-.6zM15.5 -11.7h.6v.6h-.6zM15.4 -12.0h.6v.6h-.6zM16.4 -0.1h.6v.6h-.6zM14.7 2.9h.6v.6h-.6zM10.2 7.0h.6v.6h-.6zM-3.5 -17.4h.6v.6h-.6zM-4.7 -15.7h.6v.6h-.6z" fill="#7078c0" fill-opacity="0.85"/><path d="M-13.7 -12.6h.6v.6h-.6zM-15.2 -9.1h.6v.6h-.6zM-15.9 -4.1h.6v.6h-.6zM-15.8 -5.2h.6v.6h-.6zM-16.0 -3.8h.6v.6h-.6zM-22.5 -7.5h.6v.6h-.6zM-21.0 -9.6h.6v.6h-.6zM-22.8 -9.4h.6v.6h-.6zM-21.4 -12.4h.6v.6h-.6zM-17.9 -13.0h.6v.6h-.6zM-19.5 8.3h.6v.6h-.6zM-17.8 9.8h.6v.6h-.6zM-15.9 15.4h.6v.6h-.6zM-19.0 17.3h.6v.6h-.6zM-25.3 13.7h.6v.6h-.6zM-24.9 13.4h.6v.6h-.6zM-1.9 -17.2h.6v.6h-.6zM-0.8 -18.8h.6v.6h-.6zM1.9 -12.9h.6v.6h-.6zM3.0 -14.5h.6v.6h-.6zM9.0 -15.6h.6v.6h-.6zM17.7 -19.4h.6v.6h-.6zM17.5 -15.1h.6v.6h-.6zM4.2 -7.1h.6v.6h-.6zM2.3 -7.3h.6v.6h-.6zM0.4 -11.4h.6v.6h-.6zM-2.8 -11.1h.6v.6h-.6zM-3.3 -18.0h.6v.6h-.6z" fill="#30388e" fill-opacity="0.85"/><path d="M-14.1 -16.5h.6v.6h-.6zM-14.6 -11.6h.6v.6h-.6zM-14.7 -9.4h.6v.6h-.6zM-15.4 -8.2h.6v.6h-.6zM-16.4 -1.8h.6v.6h-.6zM-17.0 0.3h.6v.6h-.6zM-21.7 -4.4h.6v.6h-.6zM-21.3 -11.9h.6v.6h-.6zM-21.5 -10.6h.6v.6h-.6zM-15.1 -16.7h.6v.6h-.6zM-21.6 9.0h.6v.6h-.6zM-23.1 8.4h.6v.6h-.6zM-20.2 8.2h.6v.6h-.6zM-17.1 8.8h.6v.6h-.6zM-15.5 12.8h.6v.6h-.6zM-16.5 14.8h.6v.6h-.6zM-16.6 14.7h.6v.6h-.6zM-18.6 16.4h.6v.6h-.6zM-21.7 17.7h.6v.6h-.6zM-19.0 19.6h.6v.6h-.6zM-24.1 10.6h.6v.6h-.6zM-1.4 -18.8h.6v.6h-.6zM-0.9 -19.2h.6v.6h-.6zM0.0 -19.4h.6v.6h-.6zM5.6 -12.3h.6v.6h-.6zM9.0 -13.1h.6v.6h-.6zM9.4 -20.9h.6v.6h-.6zM9.6 -17.2h.6v.6h-.6zM10.5 -23.4h.6v.6h-.6zM12.0 -24.7h.6v.6h-.6zM14.1 -23.4h.6v.6h-.6zM15.7 -22.0h.6v.6h-.6zM16.3 -20.7h.6v.6h-.6zM15.4 -19.7h.6v.6h-.6zM18.3 -15.0h.6v.6h-.6zM15.1 -11.7h.6v.6h-.6zM14.1 -9.3h.6v.6h-.6zM15.6 -12.2h.6v.6h-.6zM14.9 -8.9h.6v.6h-.6zM15.8 -2.9h.6v.6h-.6zM14.7 -5.5h.6v.6h-.6zM15.2 -5.5h.6v.6h-.6zM16.7 -0.2h.6v.6h-.6zM6.4 -1.1h.6v.6h-.6zM5.8 -5.1h.6v.6h-.6zM5.6 -5.7h.6v.6h-.6zM3.1 -7.9h.6v.6h-.6zM1.2 -9.2h.6v.6h-.6zM-0.9 -10.3h.6v.6h-.6zM-3.8 -13.2h.6v.6h-.6zM-4.4 -16.7h.6v.6h-.6z" fill="#6068b4" fill-opacity="0.85"/><path d="M-13.8 -14.1h.6v.6h-.6zM-15.3 -13.3h.6v.6h-.6zM-13.6 -9.4h.6v.6h-.6zM-14.3 -4.7h.6v.6h-.6zM-15.2 -8.4h.6v.6h-.6zM-14.5 -4.1h.6v.6h-.6zM-16.4 -1.3h.6v.6h-.6zM-16.8 -1.2h.6v.6h-.6zM-16.8 -2.5h.6v.6h-.6zM-17.9 -1.0h.6v.6h-.6zM-18.2 -1.2h.6v.6h-.6zM-21.3 -0.5h.6v.6h-.6zM-15.9 -16.5h.6v.6h-.6zM-20.8 8.1h.6v.6h-.6zM-23.4 10.0h.6v.6h-.6zM-19.9 8.3h.6v.6h-.6zM-16.6 12.2h.6v.6h-.6zM-17.4 12.2h.6v.6h-.6zM-15.9 15.9h.6v.6h-.6zM-22.9 16.6h.6v.6h-.6zM-20.0 17.1h.6v.6h-.6zM-22.9 16.6h.6v.6h-.6zM-24.5 14.2h.6v.6h-.6zM-25.2 15.5h.6v.6h-.6zM-25.0 13.8h.6v.6h-.6zM-24.2 8.5h.6v.6h-.6zM-0.5 -17.7h.6v.6h-.6zM2.1 -17.6h.6v.6h-.6zM0.2 -16.5h.6v.6h-.6zM3.6 -12.9h.6v.6h-.6zM5.2 -11.7h.6v.6h-.6zM5.7 -12.9h.6v.6h-.6zM8.2 -14.8h.6v.6h-.6zM7.9 -15.5h.6v.6h-.6zM8.4 -13.3h.6v.6h-.6zM6.9 -13.5h.6v.6h-.6zM9.0 -18.8h.6v.6h-.6zM9.1 -18.9h.6v.6h-.6zM9.3 -23.7h.6v.6h-.6zM10.0 -22.9h.6v.6h-.6zM13.2 -21.6h.6v.6h-.6zM17.6 -17.3h.6v.6h-.6zM16.1 -17.0h.6v.6h-.6zM14.2 -9.5h.6v.6h-.6zM14.6 -7.3h.6v.6h-.6zM14.4 -6.6h.6v.6h-.6zM4.1 -6.1h.6v.6h-.6zM1.5 -9.3h.6v.6h-.6zM2.2 -8.6h.6v.6h-.6zM-4.6 -13.2h.6v.6h-.6zM-3.7 -12.9h.6v.6h-.6zM-2.7 -12.9h.6v.6h-.6z" fill="#40489a" fill-opacity="0.85"/><path d="M-17.9 -13.4h.6v.6h-.6zM-18.7 17.5h.6v.6h-.6zM7.8 -18.3h.6v.6h-.6zM13.9 -8.7h.6v.6h-.6zM15.3 -5.1h.6v.6h-.6zM15.7 1.8h.6v.6h-.6zM15.9 0.3h.6v.6h-.6zM16.2 0.2h.6v.6h-.6zM14.0 4.9h.6v.6h-.6zM8.3 3.0h.6v.6h-.6zM7.2 -1.7h.6v.6h-.6zM6.1 -1.9h.6v.6h-.6zM6.9 -0.6h.6v.6h-.6z" fill="#9196cd" fill-opacity="0.85"/><path d="M15.1 -20.6h.6v.6h-.6zM15.2 2.4h.6v.6h-.6zM14.6 5.4h.6v.6h-.6zM14.5 6.8h.6v.6h-.6zM13.3 6.5h.6v.6h-.6zM8.7 5.0h.6v.6h-.6zM9.2 7.2h.6v.6h-.6zM7.8 0.4h.6v.6h-.6zM7.1 3.6h.6v.6h-.6z" fill="#b2b3da" fill-opacity="0.85"/><path d="M14.9 0.7h.6v.6h-.6zM15.5 3.9h.6v.6h-.6zM9.6 5.5h.6v.6h-.6zM8.0 4.8h.6v.6h-.6zM7.1 3.6h.6v.6h-.6zM8.3 4.3h.6v.6h-.6zM7.1 0.7h.6v.6h-.6z" fill="#d3d0e7" fill-opacity="0.85"/><path d="M15.4 4.9h.6v.6h-.6z" fill="#f2d4d6" fill-opacity="0.85"/><path d="M14.5 7.8h.6v.6h-.6zM16.0 7.7h.6v.6h-.6zM15.4 8.8h.6v.6h-.6zM18.6 10.2h.6v.6h-.6zM19.8 10.5h.6v.6h-.6zM22.1 14.3h.6v.6h-.6zM22.1 15.8h.6v.6h-.6zM22.7 14.8h.6v.6h-.6zM20.5 18.6h.6v.6h-.6zM18.0 20.6h.6v.6h-.6zM18.0 21.1h.6v.6h-.6zM15.0 21.8h.6v.6h-.6zM15.1 21.6h.6v.6h-.6zM10.2 18.2h.6v.6h-.6zM10.6 18.5h.6v.6h-.6zM9.5 16.2h.6v.6h-.6zM10.3 12.6h.6v.6h-.6zM10.3 12.6h.6v.6h-.6zM9.9 10.4h.6v.6h-.6zM9.3 9.1h.6v.6h-.6z" fill="#e8453a" fill-opacity="0.85"/><path d="M17.3 9.3h.6v.6h-.6zM17.6 10.8h.6v.6h-.6zM19.7 10.3h.6v.6h-.6zM21.5 12.4h.6v.6h-.6zM22.5 16.7h.6v.6h-.6zM22.0 18.4h.6v.6h-.6zM21.6 18.6h.6v.6h-.6zM17.0 21.9h.6v.6h-.6zM20.3 21.3h.6v.6h-.6zM13.6 20.9h.6v.6h-.6zM14.1 21.9h.6v.6h-.6zM11.6 11.2h.6v.6h-.6z" fill="#ea5a50" fill-opacity="0.85"/><path d="M16.3 9.0h.6v.6h-.6zM11.0 20.8h.6v.6h-.6zM12.4 20.7h.6v.6h-.6z" fill="#ee847c" fill-opacity="0.85"/><path d="M16.2 8.8h.6v.6h-.6zM18.1 9.6h.6v.6h-.6zM21.8 13.1h.6v.6h-.6zM22.6 18.4h.6v.6h-.6zM21.3 18.7h.6v.6h-.6zM16.2 22.1h.6v.6h-.6zM9.7 15.4h.6v.6h-.6zM9.8 10.0h.6v.6h-.6z" fill="#ec6f66" fill-opacity="0.85"/><path d="M22.1 13.0h.6v.6h-.6zM21.5 13.3h.6v.6h-.6zM21.8 13.3h.6v.6h-.6zM23.0 18.4h.6v.6h-.6zM23.3 18.1h.6v.6h-.6zM20.1 21.2h.6v.6h-.6zM18.0 21.5h.6v.6h-.6zM10.8 20.1h.6v.6h-.6zM11.5 20.4h.6v.6h-.6zM11.3 17.8h.6v.6h-.6zM9.7 19.1h.6v.6h-.6zM10.5 17.5h.6v.6h-.6zM10.9 13.8h.6v.6h-.6zM11.1 12.1h.6v.6h-.6zM10.7 12.8h.6v.6h-.6zM9.5 10.2h.6v.6h-.6zM10.2 9.0h.6v.6h-.6z" fill="#e63024" fill-opacity="0.85"/><path d="M-16.9 -7.7L-15.8 -7.2L-14.5 -7.5L-13.4 -6.8M-17.3 -1.8L-18.6 -2.2L-19.7 -2.8L-19.6 -4.1M-18.7 -2.5L-19.4 -1.4L-18.5 -0.4L-17.9 0.7M-18.1 -11.7L-17.6 -12.9L-17.4 -14.2L-18.0 -15.3M-22.5 12.6L-23.4 13.6L-24.6 13.2L-25.9 13.0M-20.8 14.9L-19.7 15.5L-19.1 16.7L-18.2 17.6M-17.9 15.0L-16.6 14.7L-15.3 14.6L-14.1 14.9M7.7 -5.5L6.5 -4.9L5.2 -5.2L4.1 -4.7M8.4 -10.2L7.7 -11.3L6.8 -12.3L5.5 -12.4M-2.3 -18.0L-2.1 -19.3L-1.3 -20.3L-0.0 -20.2M12.8 -16.5L11.6 -17.0L11.0 -18.1L11.2 -19.4M9.6 -16.0L8.6 -15.2L8.7 -13.9L8.6 -12.6M13.0 -15.4L12.5 -16.6L12.6 -17.9L11.3 -18.1M11.7 -20.7L10.9 -19.7L10.3 -18.6L9.0 -18.1M11.4 -16.2L10.9 -15.0L11.2 -13.8L12.1 -12.8M8.7 4.5L7.8 3.6L7.8 2.3L7.9 1.0M10.5 2.7L11.7 2.3L13.0 2.2L14.1 1.5M6.5 -4.0L7.8 -3.9L8.5 -2.8L9.5 -2.0M10.7 -8.2L12.0 -7.9L13.2 -8.2L14.5 -8.6M13.8 6.9L14.3 8.1L15.6 7.8L16.7 7.2M13.1 -3.8L13.3 -2.5L14.2 -1.7L15.5 -1.5M19.3 14.6L19.1 13.3L20.2 12.6L21.2 11.8M14.2 19.8L15.1 20.7L15.5 22.0L15.9 23.2M13.5 16.8L12.5 16.1L11.2 15.7L10.0 16.0M13.5 10.8L14.8 10.3L16.0 10.5L16.3 11.8M16.1 18.6L17.3 18.3L18.5 17.7L19.5 16.9M20.1 20.0L20.6 18.8L19.7 17.8L19.2 16.6" fill="none" stroke="#fff" stroke-width="0.45" stroke-opacity="0.75"/><circle cx="-6.1" cy="-1.8" r="0.6" fill="#9aa0c8"/><circle cx="21.0" cy="-10.8" r="0.5" fill="#9aa0c8"/></g>
<text x="175.60" y="221.20" font-size="8.5" text-anchor="middle" fill="#222">CD57</text>
<text x="38.90" y="241.40" font-size="6.2" text-anchor="end" fill="#333">4</text>
<text x="38.90" y="255.80" font-size="6.2" text-anchor="end" fill="#333">0</text>
<text x="38.90" y="270.20" font-size="6.2" text-anchor="end" fill="#333">–4</text>
<g transform="translate(68.6,320.8)"><polygon points="-13.6,-17.3 -14.2,-12.6 -15.0,-8.6 -15.7,-4.0 -17.1,-1.1 -19.4,-0.5 -21.7,-3.4 -22.3,-6.9 -21.4,-10.3 -19.4,-12.6 -17.1,-14.4 -15.0,-16.7" fill="#444c9e" stroke="none" stroke-width="0.5"/><polygon points="-24.0,9.3 -20.5,7.9 -17.1,9.3 -15.7,12.7 -16.5,16.2 -19.4,17.9 -22.8,17.4 -24.9,14.5 -25.1,11.0" fill="#444c9e" stroke="none" stroke-width="0.5"/><g clip-path="url(#mclip)"><polygon points="-3.8,-17.8 -1.5,-19.0 0.2,-17.3 1.4,-14.4 3.7,-12.6 6.4,-11.4 9.0,-16.3 9.7,-21.6 11.2,-24.2 12.9,-23.6 14.7,-21.3 17.0,-20.1 17.6,-16.1 16.4,-12.6 14.7,-11.5 14.1,-8.6 14.7,-5.7 15.8,-2.3 16.4,1.8 15.2,2.9 14.1,4.7 14.7,8.1 17.6,9.3 20.4,11.0 22.2,14.5 22.2,18.5 19.9,20.8 16.4,22.0 12.9,21.4 10.6,19.7 10.1,16.2 10.6,11.6 10.1,8.1 8.3,4.7 7.2,1.2 6.0,-2.3 4.9,-5.7 2.6,-8.0 -0.3,-10.3 -2.6,-12.6 -3.8,-15.0" fill="#e95247" stroke="none" stroke-width="0.5"/><defs><linearGradient id="g6LOBE" x1="0" y1="0" x2="0" y2="1"><stop offset="0" stop-color="#f4eef4"/><stop offset="1" stop-color="#636bb6"/></linearGradient></defs><g filter="url(#bb)"><polygon points="-3.8,-17.8 -1.5,-19.0 0.2,-17.3 1.4,-14.4 3.7,-12.6 6.4,-11.4 8.9,-10.3 7.9,-4.8 4.9,-5.7 2.6,-8.0 -0.3,-10.3 -2.6,-12.6 -3.8,-15.0" fill="#5961ae" stroke="#5961ae" stroke-width="1.2"/><polygon points="6.4,-11.4 9.0,-16.3 9.7,-21.6 11.2,-24.2 12.9,-23.6 14.7,-21.3 17.0,-20.1 17.6,-16.1 16.4,-12.6 14.7,-11.5 14.1,-8.6 8.9,-10.3" fill="url(#g6LOBE)" stroke="url(#g6LOBE)" stroke-width="1.2"/><polygon points="8.9,-10.3 14.1,-8.6 14.7,-5.7 15.8,-2.3 16.4,1.8 15.2,2.9 14.1,4.7 14.7,8.1 10.4,8.7 10.1,8.1 8.3,4.7 7.2,1.2 6.0,-2.3 4.9,-5.7 7.9,-4.8" fill="#e95247" stroke="#e95247" stroke-width="1.2"/><polygon points="14.7,8.1 17.6,9.3 20.4,11.0 22.2,14.5 22.2,18.5 19.9,20.8 16.4,22.0 12.9,21.4 10.6,19.7 10.1,16.2 10.6,11.6 10.4,8.7" fill="#e8483d" stroke="#e8483d" stroke-width="1.2"/></g></g><path d="M-19.5 -12.2h.65v.65h-.65zM-18.0 -8.9h.65v.65h-.65zM-18.1 -11.5h.65v.65h-.65zM-15.8 -12.1h.65v.65h-.65zM-15.8 -14.0h.65v.65h-.65zM-21.7 12.9h.65v.65h-.65zM-17.5 13.1h.65v.65h-.65zM-23.6 10.9h.65v.65h-.65zM-20.6 13.5h.65v.65h-.65zM-23.5 12.5h.65v.65h-.65zM-24.5 12.9h.65v.65h-.65zM-15.9 12.7h.65v.65h-.65zM-18.3 12.5h.65v.65h-.65zM-21.2 15.1h.65v.65h-.65zM-1.6 -16.2h.65v.65h-.65zM7.9 -7.8h.65v.65h-.65zM3.5 -9.6h.65v.65h-.65zM5.3 -10.3h.65v.65h-.65zM7.8 -7.3h.65v.65h-.65zM2.5 -9.1h.65v.65h-.65zM6.4 -8.1h.65v.65h-.65zM13.5 -9.2h.65v.65h-.65zM7.8 -14.0h.65v.65h-.65zM14.2 -9.9h.65v.65h-.65z" fill="#40489a"/><path d="M-21.0 -10.1h.65v.65h-.65zM-21.2 -3.1h.65v.65h-.65zM-17.6 -1.5h.65v.65h-.65zM-14.5 -13.4h.65v.65h-.65zM-19.3 -8.5h.65v.65h-.65zM-19.2 -2.0h.65v.65h-.65zM-15.0 -15.8h.65v.65h-.65zM-15.6 -15.6h.65v.65h-.65zM-15.9 -12.3h.65v.65h-.65zM-21.4 -6.2h.65v.65h-.65zM-20.2 -8.8h.65v.65h-.65zM-16.1 -6.2h.65v.65h-.65zM-15.9 -13.8h.65v.65h-.65zM-21.7 -8.4h.65v.65h-.65zM-17.7 -7.2h.65v.65h-.65zM-15.6 -7.6h.65v.65h-.65zM-14.5 -15.8h.65v.65h-.65zM-20.1 -9.5h.65v.65h-.65zM-13.9 -15.6h.65v.65h-.65zM-21.9 -6.9h.65v.65h-.65zM-17.6 -12.0h.65v.65h-.65zM-19.0 -5.0h.65v.65h-.65zM-24.2 12.2h.65v.65h-.65zM-23.8 10.0h.65v.65h-.65zM-21.8 10.4h.65v.65h-.65zM-16.0 13.7h.65v.65h-.65zM-21.2 8.8h.65v.65h-.65zM-18.4 9.4h.65v.65h-.65zM-18.2 13.3h.65v.65h-.65zM-19.1 13.9h.65v.65h-.65zM-18.3 9.7h.65v.65h-.65zM-24.8 14.5h.65v.65h-.65zM-19.3 9.8h.65v.65h-.65zM-16.9 12.4h.65v.65h-.65zM-24.1 13.1h.65v.65h-.65zM-16.4 14.6h.65v.65h-.65zM-23.0 12.2h.65v.65h-.65zM-20.2 10.1h.65v.65h-.65zM-16.8 12.2h.65v.65h-.65zM5.2 -10.5h.65v.65h-.65zM3.3 -10.4h.65v.65h-.65zM-1.3 -14.4h.65v.65h-.65zM-3.5 -16.3h.65v.65h-.65zM-1.7 -12.4h.65v.65h-.65zM0.7 -11.6h.65v.65h-.65zM-0.6 -17.6h.65v.65h-.65zM6.6 -9.5h.65v.65h-.65z" fill="#30388e"/><path d="M-21.0 -7.5h.65v.65h-.65zM-15.6 -6.2h.65v.65h-.65zM-21.3 -6.9h.65v.65h-.65zM-20.1 -2.9h.65v.65h-.65zM-15.5 -9.3h.65v.65h-.65zM-20.5 -6.8h.65v.65h-.65zM-19.0 -8.2h.65v.65h-.65zM-19.4 -11.6h.65v.65h-.65zM-16.4 -8.0h.65v.65h-.65zM-17.3 -8.4h.65v.65h-.65zM-19.7 12.1h.65v.65h-.65zM-20.7 12.9h.65v.65h-.65zM-21.0 16.1h.65v.65h-.65zM-22.5 10.3h.65v.65h-.65zM-19.5 11.6h.65v.65h-.65zM2.3 -8.8h.65v.65h-.65zM3.7 -11.5h.65v.65h-.65zM-0.4 -16.4h.65v.65h-.65zM4.8 -11.0h.65v.65h-.65zM0.7 -16.1h.65v.65h-.65zM1.6 -13.5h.65v.65h-.65zM5.6 -7.0h.65v.65h-.65zM-0.8 -12.4h.65v.65h-.65zM-0.7 -16.7h.65v.65h-.65zM11.6 -17.1h.65v.65h-.65zM14.0 -11.9h.65v.65h-.65zM11.9 -14.3h.65v.65h-.65zM13.6 -8.9h.65v.65h-.65z" fill="#5058a7"/><path d="M-17.5 -9.2h.65v.65h-.65zM-20.3 -6.4h.65v.65h-.65zM-18.1 -6.2h.65v.65h-.65zM-20.4 -3.4h.65v.65h-.65zM-18.6 -6.8h.65v.65h-.65zM-19.3 -7.0h.65v.65h-.65zM-18.5 -1.4h.65v.65h-.65zM-18.8 -7.7h.65v.65h-.65zM-15.3 -7.5h.65v.65h-.65zM-16.9 -12.8h.65v.65h-.65zM-16.8 -6.0h.65v.65h-.65zM-16.2 -14.6h.65v.65h-.65zM-14.9 -9.1h.65v.65h-.65zM-18.5 -6.3h.65v.65h-.65zM-14.4 -12.7h.65v.65h-.65zM-21.5 -5.1h.65v.65h-.65zM-20.1 -11.3h.65v.65h-.65zM-21.1 -6.7h.65v.65h-.65zM-18.0 -10.9h.65v.65h-.65zM-18.0 -10.6h.65v.65h-.65zM-19.6 -2.5h.65v.65h-.65zM-17.3 -8.4h.65v.65h-.65zM-20.5 -10.7h.65v.65h-.65zM-14.7 -11.8h.65v.65h-.65zM-18.4 -5.0h.65v.65h-.65zM-17.6 13.3h.65v.65h-.65zM-22.7 9.7h.65v.65h-.65zM-18.9 12.1h.65v.65h-.65zM-18.6 16.2h.65v.65h-.65zM-19.7 16.0h.65v.65h-.65zM-17.3 9.5h.65v.65h-.65zM-18.0 14.0h.65v.65h-.65zM-24.7 11.2h.65v.65h-.65zM-20.8 14.9h.65v.65h-.65zM-20.9 17.2h.65v.65h-.65zM-20.9 13.3h.65v.65h-.65zM-21.6 13.2h.65v.65h-.65zM-18.0 11.1h.65v.65h-.65zM-22.0 16.3h.65v.65h-.65zM-22.6 11.1h.65v.65h-.65zM-24.5 11.4h.65v.65h-.65zM-23.3 14.5h.65v.65h-.65zM-19.1 10.0h.65v.65h-.65zM-1.4 -17.9h.65v.65h-.65zM4.0 -11.7h.65v.65h-.65zM3.1 -11.5h.65v.65h-.65zM-2.1 -14.0h.65v.65h-.65zM3.7 -11.8h.65v.65h-.65zM6.7 -10.0h.65v.65h-.65zM6.0 -6.8h.65v.65h-.65zM2.1 -9.3h.65v.65h-.65zM2.8 -13.3h.65v.65h-.65zM1.3 -13.4h.65v.65h-.65zM-0.8 -13.0h.65v.65h-.65zM6.2 -8.2h.65v.65h-.65zM-0.2 -17.2h.65v.65h-.65zM4.2 -10.7h.65v.65h-.65zM4.3 -8.7h.65v.65h-.65zM6.3 -10.0h.65v.65h-.65zM-0.8 -11.6h.65v.65h-.65zM3.5 -10.4h.65v.65h-.65zM4.1 -6.9h.65v.65h-.65zM7.8 -9.1h.65v.65h-.65zM-0.2 -13.8h.65v.65h-.65zM3.4 -9.1h.65v.65h-.65zM10.1 -13.3h.65v.65h-.65zM11.2 -10.0h.65v.65h-.65zM14.5 -20.5h.65v.65h-.65zM9.8 -21.0h.65v.65h-.65zM15.9 -16.2h.65v.65h-.65zM16.4 -15.6h.65v.65h-.65zM12.5 -14.7h.65v.65h-.65zM13.7 -18.3h.65v.65h-.65zM12.3 -14.0h.65v.65h-.65zM11.4 -14.9h.65v.65h-.65zM13.9 -19.0h.65v.65h-.65zM13.9 -9.1h.65v.65h-.65zM15.5 -17.2h.65v.65h-.65zM13.0 -11.3h.65v.65h-.65zM11.7 -13.5h.65v.65h-.65zM10.5 -20.8h.65v.65h-.65zM15.6 -15.7h.65v.65h-.65zM14.1 -11.0h.65v.65h-.65zM9.6 -19.4h.65v.65h-.65zM9.7 -17.6h.65v.65h-.65zM14.0 -13.6h.65v.65h-.65zM9.5 -20.0h.65v.65h-.65zM15.5 -12.3h.65v.65h-.65zM15.1 -1.1h.65v.65h-.65zM7.3 -2.3h.65v.65h-.65zM11.4 8.2h.65v.65h-.65zM13.9 -4.9h.65v.65h-.65zM12.1 5.5h.65v.65h-.65zM13.2 -7.7h.65v.65h-.65zM12.8 3.1h.65v.65h-.65zM15.4 -2.0h.65v.65h-.65zM10.6 2.5h.65v.65h-.65zM13.4 -0.2h.65v.65h-.65zM9.1 -8.6h.65v.65h-.65zM12.0 -4.5h.65v.65h-.65zM13.3 4.6h.65v.65h-.65zM12.2 -2.8h.65v.65h-.65zM13.2 0.9h.65v.65h-.65zM13.8 6.5h.65v.65h-.65zM14.3 -3.8h.65v.65h-.65zM12.6 5.2h.65v.65h-.65zM13.1 -3.0h.65v.65h-.65zM11.3 -1.5h.65v.65h-.65zM12.3 -8.1h.65v.65h-.65zM13.3 -6.3h.65v.65h-.65zM9.9 -7.8h.65v.65h-.65zM11.9 8.4h.65v.65h-.65zM12.3 -7.7h.65v.65h-.65zM7.8 -0.0h.65v.65h-.65zM13.7 0.3h.65v.65h-.65zM10.7 5.6h.65v.65h-.65zM12.2 4.5h.65v.65h-.65zM13.1 3.0h.65v.65h-.65zM10.6 18.2h.65v.65h-.65zM13.0 19.4h.65v.65h-.65zM15.1 9.6h.65v.65h-.65zM14.7 9.4h.65v.65h-.65zM14.4 18.2h.65v.65h-.65zM14.6 13.8h.65v.65h-.65zM14.3 20.3h.65v.65h-.65zM15.9 18.9h.65v.65h-.65zM18.4 18.8h.65v.65h-.65zM14.1 17.1h.65v.65h-.65zM11.2 17.8h.65v.65h-.65zM11.0 17.0h.65v.65h-.65zM22.1 18.5h.65v.65h-.65zM17.9 11.3h.65v.65h-.65zM19.7 16.9h.65v.65h-.65zM12.2 11.4h.65v.65h-.65zM18.7 10.0h.65v.65h-.65zM18.4 12.6h.65v.65h-.65zM11.7 16.6h.65v.65h-.65zM17.0 17.5h.65v.65h-.65zM20.6 12.0h.65v.65h-.65zM16.2 16.5h.65v.65h-.65zM15.1 20.7h.65v.65h-.65zM17.1 14.3h.65v.65h-.65zM16.9 20.5h.65v.65h-.65zM12.1 17.3h.65v.65h-.65zM17.6 9.8h.65v.65h-.65zM14.7 8.7h.65v.65h-.65zM11.2 14.4h.65v.65h-.65zM14.3 19.5h.65v.65h-.65zM12.4 17.4h.65v.65h-.65zM15.7 10.3h.65v.65h-.65zM16.6 20.0h.65v.65h-.65zM13.9 13.8h.65v.65h-.65zM12.4 19.9h.65v.65h-.65zM16.3 11.6h.65v.65h-.65zM18.0 14.5h.65v.65h-.65zM12.1 8.5h.65v.65h-.65zM13.2 8.8h.65v.65h-.65zM15.2 8.4h.65v.65h-.65zM13.0 20.1h.65v.65h-.65z" fill="#ffffff" fill-opacity="0.8"/><path d="M-16.7 -8.4h.65v.65h-.65zM-15.7 -12.7h.65v.65h-.65zM-16.1 -8.2h.65v.65h-.65zM-19.3 -2.8h.65v.65h-.65zM-20.9 -6.9h.65v.65h-.65zM-16.6 -10.5h.65v.65h-.65zM-16.9 -2.8h.65v.65h-.65zM-20.1 -7.3h.65v.65h-.65zM-18.7 12.8h.65v.65h-.65zM-18.2 16.6h.65v.65h-.65zM-17.1 15.8h.65v.65h-.65zM-24.4 13.4h.65v.65h-.65zM-18.0 15.8h.65v.65h-.65zM-18.7 13.4h.65v.65h-.65zM-21.8 12.3h.65v.65h-.65zM-22.9 15.4h.65v.65h-.65zM-20.4 9.2h.65v.65h-.65zM-17.0 14.4h.65v.65h-.65zM0.6 -12.1h.65v.65h-.65zM4.0 -10.1h.65v.65h-.65zM-1.0 -15.7h.65v.65h-.65zM-2.9 -18.1h.65v.65h-.65zM0.1 -11.0h.65v.65h-.65zM-1.4 -17.3h.65v.65h-.65zM0.9 -13.6h.65v.65h-.65zM-0.7 -15.0h.65v.65h-.65zM2.8 -10.7h.65v.65h-.65zM-1.3 -17.0h.65v.65h-.65zM-0.3 -16.5h.65v.65h-.65zM13.3 -17.8h.65v.65h-.65zM12.9 -17.3h.65v.65h-.65zM12.6 -10.6h.65v.65h-.65zM12.9 -9.8h.65v.65h-.65zM9.1 -12.3h.65v.65h-.65zM17.0 -15.6h.65v.65h-.65zM12.6 -10.6h.65v.65h-.65zM11.3 -13.8h.65v.65h-.65z" fill="#6068b4"/><path d="M-20.0 -11.7h.65v.65h-.65zM-17.0 -3.5h.65v.65h-.65zM-21.1 -2.8h.65v.65h-.65zM-18.8 15.3h.65v.65h-.65zM-3.1 -15.6h.65v.65h-.65zM3.5 -12.6h.65v.65h-.65zM7.2 -6.8h.65v.65h-.65zM7.8 -7.8h.65v.65h-.65zM11.4 -11.2h.65v.65h-.65zM15.3 -17.4h.65v.65h-.65zM8.1 -11.9h.65v.65h-.65zM10.7 -13.4h.65v.65h-.65zM8.1 -12.0h.65v.65h-.65zM10.3 -15.2h.65v.65h-.65zM12.6 -9.5h.65v.65h-.65zM9.5 -17.6h.65v.65h-.65z" fill="#7078c0"/><path d="M-19.6 -8.6h.65v.65h-.65zM-22.7 11.0h.65v.65h-.65zM-18.5 15.2h.65v.65h-.65zM-19.8 14.9h.65v.65h-.65zM4.4 -10.8h.65v.65h-.65zM8.0 -7.1h.65v.65h-.65zM13.8 -19.8h.65v.65h-.65zM17.3 -16.4h.65v.65h-.65zM14.9 -15.7h.65v.65h-.65zM16.4 -14.0h.65v.65h-.65zM15.9 -13.8h.65v.65h-.65zM10.4 -20.5h.65v.65h-.65zM8.3 -12.7h.65v.65h-.65zM13.8 -14.8h.65v.65h-.65zM16.9 -19.7h.65v.65h-.65zM13.1 -9.0h.65v.65h-.65zM11.9 -15.8h.65v.65h-.65zM8.8 -11.9h.65v.65h-.65z" fill="#9196cd"/><path d="M-23.6 11.8h.65v.65h-.65zM0.2 -13.3h.65v.65h-.65zM8.2 -10.3h.65v.65h-.65zM15.9 -18.0h.65v.65h-.65zM15.2 -15.3h.65v.65h-.65zM10.3 -12.2h.65v.65h-.65zM11.3 -13.5h.65v.65h-.65zM11.5 -13.6h.65v.65h-.65zM14.8 -18.9h.65v.65h-.65zM8.7 -13.6h.65v.65h-.65zM14.8 -13.6h.65v.65h-.65z" fill="#b2b3da"/><path d="M-1.7 -14.4h.65v.65h-.65zM12.7 -20.3h.65v.65h-.65zM11.4 -15.7h.65v.65h-.65zM14.5 -11.4h.65v.65h-.65zM14.8 -17.4h.65v.65h-.65zM15.6 -18.0h.65v.65h-.65zM15.2 -20.4h.65v.65h-.65zM14.5 -19.5h.65v.65h-.65zM16.1 -16.9h.65v.65h-.65z" fill="#d3d0e7"/><path d="M13.7 -22.0h.65v.65h-.65zM16.1 -20.0h.65v.65h-.65zM13.6 -19.1h.65v.65h-.65zM13.7 10.3h.65v.65h-.65zM21.0 19.1h.65v.65h-.65z" fill="#f1b9b8"/><path d="M13.1 -17.8h.65v.65h-.65zM10.8 -21.2h.65v.65h-.65zM14.6 -21.2h.65v.65h-.65zM13.1 -18.4h.65v.65h-.65zM11.3 5.1h.65v.65h-.65z" fill="#f2d4d6"/><path d="M13.6 -15.2h.65v.65h-.65zM13.5 -20.2h.65v.65h-.65zM16.1 -16.1h.65v.65h-.65zM12.2 -22.1h.65v.65h-.65zM13.5 -21.7h.65v.65h-.65zM11.1 -10.6h.65v.65h-.65zM13.0 -14.9h.65v.65h-.65zM16.5 -20.1h.65v.65h-.65zM16.0 -12.7h.65v.65h-.65zM12.9 -12.2h.65v.65h-.65zM12.7 -14.8h.65v.65h-.65z" fill="#f4eef4"/><path d="M14.3 -0.3h.65v.65h-.65zM11.6 5.1h.65v.65h-.65zM13.7 6.1h.65v.65h-.65zM13.1 2.9h.65v.65h-.65zM14.5 -3.0h.65v.65h-.65zM14.5 -2.1h.65v.65h-.65zM11.9 -6.5h.65v.65h-.65zM11.3 0.8h.65v.65h-.65zM8.2 2.1h.65v.65h-.65zM9.2 0.3h.65v.65h-.65zM9.7 -9.9h.65v.65h-.65zM12.0 5.0h.65v.65h-.65zM13.7 -3.4h.65v.65h-.65zM10.6 7.6h.65v.65h-.65zM7.6 -0.3h.65v.65h-.65zM10.2 5.6h.65v.65h-.65zM9.4 -1.7h.65v.65h-.65zM14.9 -4.7h.65v.65h-.65zM10.3 -3.7h.65v.65h-.65zM12.9 -5.5h.65v.65h-.65zM9.8 1.8h.65v.65h-.65zM12.9 0.5h.65v.65h-.65zM8.9 3.6h.65v.65h-.65zM12.7 -2.0h.65v.65h-.65zM17.1 10.6h.65v.65h-.65zM20.8 14.3h.65v.65h-.65zM19.2 18.4h.65v.65h-.65zM14.9 13.3h.65v.65h-.65zM18.4 17.3h.65v.65h-.65zM14.7 21.2h.65v.65h-.65zM16.5 20.9h.65v.65h-.65zM20.5 16.9h.65v.65h-.65zM17.8 20.2h.65v.65h-.65zM10.8 14.3h.65v.65h-.65zM17.3 15.8h.65v.65h-.65zM15.9 21.3h.65v.65h-.65zM21.4 17.3h.65v.65h-.65zM12.4 10.5h.65v.65h-.65zM16.9 14.3h.65v.65h-.65zM16.4 15.4h.65v.65h-.65zM15.0 19.7h.65v.65h-.65z" fill="#ea5a50"/><path d="M14.0 -0.6h.65v.65h-.65zM10.6 2.2h.65v.65h-.65zM13.6 7.9h.65v.65h-.65zM13.4 -7.0h.65v.65h-.65zM8.9 -1.1h.65v.65h-.65zM8.4 0.6h.65v.65h-.65zM5.5 -4.4h.65v.65h-.65zM12.2 9.7h.65v.65h-.65zM13.7 15.3h.65v.65h-.65zM20.4 15.2h.65v.65h-.65zM15.6 15.8h.65v.65h-.65zM15.2 12.0h.65v.65h-.65zM12.3 14.6h.65v.65h-.65zM18.6 18.3h.65v.65h-.65z" fill="#ee847c"/><path d="M14.5 7.6h.65v.65h-.65zM7.2 -3.4h.65v.65h-.65zM14.3 -4.5h.65v.65h-.65zM10.4 -6.8h.65v.65h-.65zM12.8 3.3h.65v.65h-.65zM12.6 5.9h.65v.65h-.65zM13.5 -3.3h.65v.65h-.65zM8.1 4.2h.65v.65h-.65zM10.1 3.6h.65v.65h-.65zM14.0 3.3h.65v.65h-.65zM11.7 -8.7h.65v.65h-.65zM9.4 -8.4h.65v.65h-.65zM9.4 -8.7h.65v.65h-.65zM12.1 9.2h.65v.65h-.65zM11.5 19.2h.65v.65h-.65zM10.3 17.4h.65v.65h-.65zM15.8 10.8h.65v.65h-.65zM14.5 10.3h.65v.65h-.65zM10.9 17.3h.65v.65h-.65zM19.9 15.2h.65v.65h-.65zM20.7 13.8h.65v.65h-.65zM19.8 14.9h.65v.65h-.65z" fill="#ec6f66"/><path d="M10.2 0.6h.65v.65h-.65zM9.6 -3.9h.65v.65h-.65zM12.1 -9.1h.65v.65h-.65zM11.8 0.8h.65v.65h-.65zM11.4 4.2h.65v.65h-.65zM13.4 -7.0h.65v.65h-.65zM13.0 -1.7h.65v.65h-.65zM14.3 1.1h.65v.65h-.65zM11.2 -0.4h.65v.65h-.65zM13.7 5.9h.65v.65h-.65zM13.3 -2.4h.65v.65h-.65zM14.6 -0.6h.65v.65h-.65zM9.5 5.3h.65v.65h-.65zM9.8 -3.0h.65v.65h-.65zM9.9 2.0h.65v.65h-.65zM14.5 -5.7h.65v.65h-.65zM8.7 -6.1h.65v.65h-.65zM14.2 -3.6h.65v.65h-.65zM13.4 -8.0h.65v.65h-.65zM13.0 3.9h.65v.65h-.65zM13.6 4.1h.65v.65h-.65zM9.8 6.2h.65v.65h-.65zM15.9 20.9h.65v.65h-.65zM12.1 8.5h.65v.65h-.65zM13.4 15.2h.65v.65h-.65zM22.0 17.1h.65v.65h-.65zM21.7 15.0h.65v.65h-.65zM19.4 19.3h.65v.65h-.65zM12.5 12.7h.65v.65h-.65zM14.1 13.3h.65v.65h-.65zM15.6 13.7h.65v.65h-.65zM13.3 19.3h.65v.65h-.65zM14.4 18.2h.65v.65h-.65zM17.9 10.0h.65v.65h-.65zM14.8 12.2h.65v.65h-.65zM12.0 11.6h.65v.65h-.65zM20.7 15.5h.65v.65h-.65zM17.1 20.2h.65v.65h-.65zM17.9 17.4h.65v.65h-.65zM18.7 13.6h.65v.65h-.65zM10.5 14.2h.65v.65h-.65zM16.7 20.6h.65v.65h-.65zM13.2 21.3h.65v.65h-.65zM11.5 19.4h.65v.65h-.65zM14.1 17.0h.65v.65h-.65zM18.4 14.1h.65v.65h-.65zM13.6 17.7h.65v.65h-.65zM14.9 10.3h.65v.65h-.65zM16.9 21.4h.65v.65h-.65zM16.4 14.9h.65v.65h-.65zM21.5 16.4h.65v.65h-.65zM13.5 14.7h.65v.65h-.65zM18.2 14.5h.65v.65h-.65zM19.2 16.7h.65v.65h-.65z" fill="#e63024"/><path d="M9.6 2.4h.65v.65h-.65zM12.9 -1.0h.65v.65h-.65zM11.9 -5.0h.65v.65h-.65zM14.8 -0.1h.65v.65h-.65zM8.9 0.2h.65v.65h-.65zM10.4 -5.2h.65v.65h-.65zM15.3 -3.4h.65v.65h-.65zM12.1 2.0h.65v.65h-.65zM13.6 5.0h.65v.65h-.65zM14.0 -1.8h.65v.65h-.65zM10.7 6.3h.65v.65h-.65zM10.9 6.4h.65v.65h-.65zM7.2 -4.7h.65v.65h-.65zM11.6 5.1h.65v.65h-.65zM12.6 7.2h.65v.65h-.65zM14.0 15.4h.65v.65h-.65zM12.4 19.8h.65v.65h-.65zM21.1 12.9h.65v.65h-.65zM20.3 15.5h.65v.65h-.65zM11.1 11.5h.65v.65h-.65zM15.8 16.6h.65v.65h-.65zM19.6 14.3h.65v.65h-.65zM17.0 9.4h.65v.65h-.65zM14.6 8.5h.65v.65h-.65zM16.9 17.1h.65v.65h-.65zM11.7 10.1h.65v.65h-.65z" fill="#e8453a"/><path d="M8.4 -4.5h.65v.65h-.65zM9.8 -2.4h.65v.65h-.65zM6.5 -5.1h.65v.65h-.65zM11.5 0.0h.65v.65h-.65zM5.2 -4.7h.65v.65h-.65zM12.5 -6.3h.65v.65h-.65zM12.6 0.3h.65v.65h-.65zM15.1 8.3h.65v.65h-.65zM12.0 11.6h.65v.65h-.65z" fill="#f09e9a"/><path d="M-15.4 -14.0h.6v.6h-.6zM-15.0 -12.7h.6v.6h-.6zM-14.7 -18.3h.6v.6h-.6zM-13.5 -13.2h.6v.6h-.6zM-13.9 -16.0h.6v.6h-.6zM-14.3 -9.6h.6v.6h-.6zM-13.5 -12.6h.6v.6h-.6zM-15.7 -9.0h.6v.6h-.6zM-15.4 -8.2h.6v.6h-.6zM-15.8 -3.6h.6v.6h-.6zM-19.7 -1.4h.6v.6h-.6zM-19.2 -1.6h.6v.6h-.6zM-22.2 -3.2h.6v.6h-.6zM-21.4 -5.0h.6v.6h-.6zM-21.7 -7.6h.6v.6h-.6zM-21.6 -7.4h.6v.6h-.6zM-22.3 -9.9h.6v.6h-.6zM-21.1 -10.6h.6v.6h-.6zM-20.9 -12.0h.6v.6h-.6zM-19.0 -13.9h.6v.6h-.6zM-18.6 8.6h.6v.6h-.6zM-15.7 10.5h.6v.6h-.6zM-17.0 11.5h.6v.6h-.6zM-15.6 11.4h.6v.6h-.6zM-16.4 14.2h.6v.6h-.6zM-18.7 17.7h.6v.6h-.6zM-19.7 17.6h.6v.6h-.6zM-20.1 18.1h.6v.6h-.6zM-20.1 17.3h.6v.6h-.6zM-23.3 15.6h.6v.6h-.6zM-26.6 13.3h.6v.6h-.6zM-24.3 12.9h.6v.6h-.6zM-24.6 14.8h.6v.6h-.6zM-1.3 -18.6h.6v.6h-.6zM16.5 -12.7h.6v.6h-.6zM0.3 -10.4h.6v.6h-.6zM2.1 -6.9h.6v.6h-.6z" fill="#40489a" fill-opacity="0.85"/><path d="M-14.0 -16.5h.6v.6h-.6zM-15.2 -12.1h.6v.6h-.6zM-14.8 -9.5h.6v.6h-.6zM-16.9 -5.6h.6v.6h-.6zM-15.7 -6.8h.6v.6h-.6zM-14.9 -8.1h.6v.6h-.6zM-16.6 -5.8h.6v.6h-.6zM-16.3 -2.5h.6v.6h-.6zM-16.7 -1.1h.6v.6h-.6zM-22.0 -2.9h.6v.6h-.6zM-21.8 -6.2h.6v.6h-.6zM-21.8 -2.7h.6v.6h-.6zM-21.4 -10.6h.6v.6h-.6zM-19.0 -11.9h.6v.6h-.6zM-15.4 -17.2h.6v.6h-.6zM-22.8 9.3h.6v.6h-.6zM-22.1 9.2h.6v.6h-.6zM-18.2 9.3h.6v.6h-.6zM-19.9 8.6h.6v.6h-.6zM-16.9 11.4h.6v.6h-.6zM-16.0 10.8h.6v.6h-.6zM-16.2 14.9h.6v.6h-.6zM-15.5 13.5h.6v.6h-.6zM-17.5 16.7h.6v.6h-.6zM-17.9 18.3h.6v.6h-.6zM-19.8 17.5h.6v.6h-.6zM-24.1 16.2h.6v.6h-.6zM-23.7 13.6h.6v.6h-.6zM-25.4 11.6h.6v.6h-.6zM-3.4 -18.3h.6v.6h-.6zM0.6 -18.2h.6v.6h-.6zM0.5 -17.9h.6v.6h-.6zM-0.0 -16.2h.6v.6h-.6zM-0.6 -15.3h.6v.6h-.6zM0.9 -17.5h.6v.6h-.6zM4.6 -13.2h.6v.6h-.6zM2.6 -8.0h.6v.6h-.6zM-1.7 -11.0h.6v.6h-.6zM-1.5 -11.5h.6v.6h-.6zM-4.5 -15.4h.6v.6h-.6z" fill="#5058a7" fill-opacity="0.85"/><path d="M-13.8 -17.4h.6v.6h-.6zM-14.5 -10.1h.6v.6h-.6zM-14.5 -5.7h.6v.6h-.6zM-15.9 -4.5h.6v.6h-.6zM-17.1 -2.8h.6v.6h-.6zM-16.1 -0.7h.6v.6h-.6zM-18.2 -1.4h.6v.6h-.6zM-21.5 -2.8h.6v.6h-.6zM-21.4 -7.6h.6v.6h-.6zM-21.8 -6.4h.6v.6h-.6zM-17.7 -13.7h.6v.6h-.6zM-15.9 -17.2h.6v.6h-.6zM-15.9 -14.7h.6v.6h-.6zM-14.3 -17.1h.6v.6h-.6zM-13.4 -17.8h.6v.6h-.6zM-22.0 8.7h.6v.6h-.6zM-20.7 7.0h.6v.6h-.6zM-21.0 7.1h.6v.6h-.6zM-23.0 9.2h.6v.6h-.6zM-17.4 11.6h.6v.6h-.6zM-16.3 13.4h.6v.6h-.6zM-23.0 17.3h.6v.6h-.6zM-23.3 15.3h.6v.6h-.6zM-23.0 9.8h.6v.6h-.6zM-3.9 -17.7h.6v.6h-.6zM6.9 -14.5h.6v.6h-.6zM6.1 -11.9h.6v.6h-.6zM2.6 -7.2h.6v.6h-.6zM-2.0 -12.2h.6v.6h-.6zM-4.2 -17.5h.6v.6h-.6z" fill="#30388e" fill-opacity="0.85"/><path d="M-15.6 -4.0h.6v.6h-.6zM-21.3 -9.6h.6v.6h-.6zM-19.4 -13.1h.6v.6h-.6zM-18.2 -12.7h.6v.6h-.6zM-14.9 -17.1h.6v.6h-.6zM-18.3 9.8h.6v.6h-.6zM-18.1 8.4h.6v.6h-.6zM-18.9 18.5h.6v.6h-.6zM-22.6 18.1h.6v.6h-.6zM-25.1 11.4h.6v.6h-.6zM-23.1 9.4h.6v.6h-.6zM0.9 -16.8h.6v.6h-.6zM0.6 -15.7h.6v.6h-.6zM1.7 -15.8h.6v.6h-.6zM5.2 -13.4h.6v.6h-.6zM4.3 -12.2h.6v.6h-.6zM4.5 -6.4h.6v.6h-.6zM3.9 -7.6h.6v.6h-.6zM0.4 -10.1h.6v.6h-.6zM0.3 -9.6h.6v.6h-.6zM-3.9 -15.0h.6v.6h-.6zM-3.4 -14.5h.6v.6h-.6zM-2.0 -12.5h.6v.6h-.6zM-3.4 -16.6h.6v.6h-.6zM-4.0 -16.2h.6v.6h-.6zM-3.0 -15.1h.6v.6h-.6z" fill="#6068b4" fill-opacity="0.85"/><path d="M-17.3 0.0h.6v.6h-.6zM-21.0 -11.9h.6v.6h-.6zM-17.7 17.0h.6v.6h-.6zM-23.3 14.7h.6v.6h-.6zM-3.1 -18.3h.6v.6h-.6zM2.9 -12.7h.6v.6h-.6zM3.5 -12.4h.6v.6h-.6zM3.7 -14.1h.6v.6h-.6zM6.2 -12.1h.6v.6h-.6zM9.1 -20.1h.6v.6h-.6zM17.3 -13.9h.6v.6h-.6zM18.1 -15.7h.6v.6h-.6zM15.6 -11.2h.6v.6h-.6zM15.7 -12.6h.6v.6h-.6zM14.0 -10.0h.6v.6h-.6zM14.6 -10.6h.6v.6h-.6zM14.8 -9.4h.6v.6h-.6zM2.9 -7.3h.6v.6h-.6zM3.2 -7.7h.6v.6h-.6zM-3.7 -12.8h.6v.6h-.6z" fill="#7078c0" fill-opacity="0.85"/><path d="M3.6 -11.6h.6v.6h-.6zM9.1 -15.1h.6v.6h-.6zM7.2 -14.8h.6v.6h-.6zM7.4 -14.0h.6v.6h-.6zM17.8 -15.9h.6v.6h-.6zM15.3 -11.5h.6v.6h-.6zM14.7 -11.0h.6v.6h-.6zM-3.2 -12.6h.6v.6h-.6z" fill="#9196cd" fill-opacity="0.85"/><path d="M7.9 -16.3h.6v.6h-.6zM8.6 -14.3h.6v.6h-.6zM9.1 -16.3h.6v.6h-.6zM9.0 -18.1h.6v.6h-.6zM9.2 -18.4h.6v.6h-.6zM8.8 -17.5h.6v.6h-.6zM8.5 -20.3h.6v.6h-.6zM10.1 -22.7h.6v.6h-.6zM15.0 -20.8h.6v.6h-.6zM17.6 -17.7h.6v.6h-.6zM18.3 -17.1h.6v.6h-.6zM17.2 -18.1h.6v.6h-.6zM16.3 -15.5h.6v.6h-.6z" fill="#b2b3da" fill-opacity="0.85"/><path d="M9.7 -15.4h.6v.6h-.6zM8.4 -17.3h.6v.6h-.6zM10.7 -19.6h.6v.6h-.6zM11.0 -23.9h.6v.6h-.6zM12.4 -22.2h.6v.6h-.6zM15.0 -21.1h.6v.6h-.6zM16.9 -19.7h.6v.6h-.6zM16.1 -21.5h.6v.6h-.6zM15.5 -22.0h.6v.6h-.6zM17.8 -17.1h.6v.6h-.6z" fill="#d3d0e7" fill-opacity="0.85"/><path d="M10.6 -24.7h.6v.6h-.6zM11.7 -23.8h.6v.6h-.6zM13.3 -22.3h.6v.6h-.6zM18.2 -16.9h.6v.6h-.6zM17.2 -16.9h.6v.6h-.6z" fill="#f4eef4" fill-opacity="0.85"/><path d="M9.3 -22.5h.6v.6h-.6z" fill="#f1b9b8" fill-opacity="0.85"/><path d="M11.5 -23.3h.6v.6h-.6zM13.2 -24.3h.6v.6h-.6z" fill="#f2d4d6" fill-opacity="0.85"/><path d="M13.7 -7.9h.6v.6h-.6zM14.4 -6.5h.6v.6h-.6zM15.4 -3.9h.6v.6h-.6zM15.7 -0.1h.6v.6h-.6zM16.6 0.6h.6v.6h-.6zM15.9 -2.0h.6v.6h-.6zM14.6 2.8h.6v.6h-.6zM15.1 3.4h.6v.6h-.6zM16.4 9.1h.6v.6h-.6zM21.7 14.6h.6v.6h-.6zM21.1 12.8h.6v.6h-.6zM21.3 17.0h.6v.6h-.6zM22.9 15.1h.6v.6h-.6zM23.1 20.5h.6v.6h-.6zM16.1 21.9h.6v.6h-.6zM14.3 21.6h.6v.6h-.6zM11.8 20.3h.6v.6h-.6zM10.2 18.4h.6v.6h-.6zM11.7 14.7h.6v.6h-.6zM9.6 12.8h.6v.6h-.6zM9.6 15.8h.6v.6h-.6zM10.4 13.0h.6v.6h-.6zM10.0 8.0h.6v.6h-.6zM8.8 5.1h.6v.6h-.6zM9.9 5.8h.6v.6h-.6zM8.8 3.9h.6v.6h-.6zM8.2 1.8h.6v.6h-.6zM5.9 -3.9h.6v.6h-.6z" fill="#e8453a" fill-opacity="0.85"/><path d="M14.5 -7.9h.6v.6h-.6zM14.8 -3.5h.6v.6h-.6zM13.6 4.3h.6v.6h-.6zM14.3 4.3h.6v.6h-.6zM12.5 7.3h.6v.6h-.6zM20.6 12.9h.6v.6h-.6zM23.3 17.8h.6v.6h-.6zM20.1 19.6h.6v.6h-.6zM19.8 20.1h.6v.6h-.6zM19.0 21.7h.6v.6h-.6zM16.9 23.4h.6v.6h-.6zM11.6 12.5h.6v.6h-.6zM10.7 6.9h.6v.6h-.6zM7.9 2.6h.6v.6h-.6zM5.3 -0.9h.6v.6h-.6z" fill="#ec6f66" fill-opacity="0.85"/><path d="M13.3 -7.9h.6v.6h-.6zM15.0 0.6h.6v.6h-.6zM17.0 0.9h.6v.6h-.6zM17.4 -1.4h.6v.6h-.6zM16.1 2.3h.6v.6h-.6zM14.7 1.9h.6v.6h-.6zM13.7 6.0h.6v.6h-.6zM14.5 9.0h.6v.6h-.6zM15.9 8.0h.6v.6h-.6zM18.5 10.8h.6v.6h-.6zM18.9 9.3h.6v.6h-.6zM21.7 15.1h.6v.6h-.6zM20.9 15.0h.6v.6h-.6zM23.4 16.5h.6v.6h-.6zM23.2 16.2h.6v.6h-.6zM18.0 20.1h.6v.6h-.6zM14.9 21.0h.6v.6h-.6zM12.7 21.7h.6v.6h-.6zM11.3 20.4h.6v.6h-.6zM10.4 16.4h.6v.6h-.6zM10.3 19.2h.6v.6h-.6zM10.1 20.3h.6v.6h-.6zM9.8 17.7h.6v.6h-.6zM10.0 14.3h.6v.6h-.6zM10.8 7.4h.6v.6h-.6zM10.6 9.4h.6v.6h-.6zM11.9 10.0h.6v.6h-.6zM8.2 4.5h.6v.6h-.6zM8.9 6.1h.6v.6h-.6zM8.7 2.4h.6v.6h-.6zM5.8 -0.6h.6v.6h-.6zM5.6 -4.6h.6v.6h-.6zM4.2 -4.2h.6v.6h-.6zM5.0 -3.7h.6v.6h-.6z" fill="#ea5a50" fill-opacity="0.85"/><path d="M16.2 -4.1h.6v.6h-.6zM19.7 9.5h.6v.6h-.6zM23.5 14.3h.6v.6h-.6zM6.3 -0.1h.6v.6h-.6z" fill="#ee847c" fill-opacity="0.85"/><path d="M14.6 -1.9h.6v.6h-.6zM15.7 -5.0h.6v.6h-.6zM16.5 7.3h.6v.6h-.6zM14.9 5.9h.6v.6h-.6zM15.1 7.6h.6v.6h-.6zM18.1 9.3h.6v.6h-.6zM19.8 11.1h.6v.6h-.6zM20.2 10.0h.6v.6h-.6zM22.7 15.9h.6v.6h-.6zM22.5 19.7h.6v.6h-.6zM19.8 21.4h.6v.6h-.6zM17.8 22.2h.6v.6h-.6zM18.5 20.7h.6v.6h-.6zM14.1 20.4h.6v.6h-.6zM10.8 21.2h.6v.6h-.6zM13.2 21.7h.6v.6h-.6zM11.1 12.8h.6v.6h-.6zM9.5 6.4h.6v.6h-.6zM7.8 3.6h.6v.6h-.6zM7.0 0.7h.6v.6h-.6zM5.5 -2.6h.6v.6h-.6z" fill="#e63024" fill-opacity="0.85"/><path d="M9.6 10.4h.6v.6h-.6zM4.5 -4.0h.6v.6h-.6z" fill="#f09e9a" fill-opacity="0.85"/><path d="M-20.7 -7.9L-19.8 -7.0L-18.9 -6.0L-18.5 -4.8M-16.8 -14.2L-15.8 -13.4L-14.5 -13.3L-13.2 -13.1M-20.3 -6.9L-19.8 -5.8L-19.3 -4.6L-18.1 -4.0M-16.9 -3.3L-16.6 -2.1L-16.6 -0.8L-17.6 0.0M-18.0 13.6L-17.0 14.3L-16.6 15.5L-15.3 15.4M-21.8 13.3L-23.0 13.9L-23.4 12.7L-24.6 13.3M-20.0 12.4L-20.8 13.4L-22.0 14.0L-22.4 12.8M7.2 -8.2L6.1 -8.8L4.9 -8.2L6.2 -8.5M-0.8 -13.6L-1.1 -12.4L-2.2 -11.6L-1.9 -10.3M0.3 -11.8L-0.0 -10.5L0.4 -9.3L1.5 -8.6M15.0 -14.9L15.3 -16.2L14.5 -17.2L14.7 -18.5M16.4 -12.7L17.5 -13.4L18.2 -14.5L17.8 -15.8M14.0 -15.0L15.2 -15.5L16.4 -14.9L17.0 -13.7M11.0 -14.7L11.8 -15.7L13.1 -16.0L14.3 -16.5M14.2 -10.2L14.4 -11.5L15.4 -12.3L16.7 -12.2M11.7 2.3L10.4 2.2L10.7 0.9L9.9 -0.2M11.3 -1.0L10.1 -1.5L9.2 -2.4L8.0 -3.0M10.6 4.1L10.1 5.3L9.1 6.2L8.5 7.3M8.6 -8.3L8.8 -9.6L10.0 -9.1L9.5 -7.9M11.5 -1.8L10.6 -0.8L9.7 0.1L10.1 1.3M9.1 -4.5L8.8 -3.3L7.7 -2.6L6.4 -2.3M18.0 14.4L17.2 15.5L16.2 16.3L15.1 17.0M18.6 18.1L17.9 17.0L16.7 16.8L15.7 16.0M12.4 19.1L13.6 19.6L14.8 19.3L16.1 19.5M12.3 9.3L12.2 8.0L13.3 7.3L14.5 6.9M10.6 15.2L11.5 14.2L12.8 14.0L13.5 15.1M17.1 13.0L15.8 12.8L15.1 11.7L14.0 11.1" fill="none" stroke="#fff" stroke-width="0.45" stroke-opacity="0.75"/><circle cx="-6.1" cy="-1.8" r="0.6" fill="#9aa0c8"/><circle cx="21.0" cy="-10.8" r="0.5" fill="#9aa0c8"/></g>
<text x="68.10" y="286.80" font-size="8.5" text-anchor="middle" fill="#222">GZMB</text>
<text x="38.90" y="308.60" font-size="6.2" text-anchor="end" fill="#333">4</text>
<text x="38.90" y="323.00" font-size="6.2" text-anchor="end" fill="#333">0</text>
<text x="38.90" y="337.40" font-size="6.2" text-anchor="end" fill="#333">–4</text>
<g transform="translate(122.5,320.8)"><polygon points="-13.6,-17.3 -14.2,-12.6 -15.0,-8.6 -15.7,-4.0 -17.1,-1.1 -19.4,-0.5 -21.7,-3.4 -22.3,-6.9 -21.4,-10.3 -19.4,-12.6 -17.1,-14.4 -15.0,-16.7" fill="#444c9e" stroke="none" stroke-width="0.5"/><polygon points="-24.0,9.3 -20.5,7.9 -17.1,9.3 -15.7,12.7 -16.5,16.2 -19.4,17.9 -22.8,17.4 -24.9,14.5 -25.1,11.0" fill="#4a52a2" stroke="none" stroke-width="0.5"/><g clip-path="url(#mclip)"><polygon points="-3.8,-17.8 -1.5,-19.0 0.2,-17.3 1.4,-14.4 3.7,-12.6 6.4,-11.4 9.0,-16.3 9.7,-21.6 11.2,-24.2 12.9,-23.6 14.7,-21.3 17.0,-20.1 17.6,-16.1 16.4,-12.6 14.7,-11.5 14.1,-8.6 14.7,-5.7 15.8,-2.3 16.4,1.8 15.2,2.9 14.1,4.7 14.7,8.1 17.6,9.3 20.4,11.0 22.2,14.5 22.2,18.5 19.9,20.8 16.4,22.0 12.9,21.4 10.6,19.7 10.1,16.2 10.6,11.6 10.1,8.1 8.3,4.7 7.2,1.2 6.0,-2.3 4.9,-5.7 2.6,-8.0 -0.3,-10.3 -2.6,-12.6 -3.8,-15.0" fill="#c4c4e1" stroke="none" stroke-width="0.5"/><defs><linearGradient id="g7TRUNK" x1="0" y1="0" x2="0" y2="1"><stop offset="0" stop-color="#636bb6"/><stop offset="1" stop-color="#f1bbba"/></linearGradient></defs><g filter="url(#bb)"><polygon points="-3.8,-17.8 -1.5,-19.0 0.2,-17.3 1.4,-14.4 3.7,-12.6 6.4,-11.4 8.9,-10.3 7.9,-4.8 4.9,-5.7 2.6,-8.0 -0.3,-10.3 -2.6,-12.6 -3.8,-15.0" fill="#565eac" stroke="#565eac" stroke-width="1.2"/><polygon points="6.4,-11.4 9.0,-16.3 9.7,-21.6 11.2,-24.2 12.9,-23.6 14.7,-21.3 17.0,-20.1 17.6,-16.1 16.4,-12.6 14.7,-11.5 14.1,-8.6 8.9,-10.3" fill="#565eac" stroke="#565eac" stroke-width="1.2"/><polygon points="8.9,-10.3 14.1,-8.6 14.7,-5.7 15.8,-2.3 16.4,1.8 15.2,2.9 14.1,4.7 14.7,8.1 10.4,8.7 10.1,8.1 8.3,4.7 7.2,1.2 6.0,-2.3 4.9,-5.7 7.9,-4.8" fill="url(#g7TRUNK)" stroke="url(#g7TRUNK)" stroke-width="1.2"/><polygon points="14.7,8.1 17.6,9.3 20.4,11.0 22.2,14.5 22.2,18.5 19.9,20.8 16.4,22.0 12.9,21.4 10.6,19.7 10.1,16.2 10.6,11.6 10.4,8.7" fill="#ec6c63" stroke="#ec6c63" stroke-width="1.2"/></g></g><path d="M-17.2 -10.0h.65v.65h-.65zM-19.6 -11.5h.65v.65h-.65zM-15.0 -16.4h.65v.65h-.65zM-20.9 -9.8h.65v.65h-.65zM-18.5 -9.6h.65v.65h-.65zM-20.5 -10.1h.65v.65h-.65zM-22.0 -6.5h.65v.65h-.65zM-13.8 -17.0h.65v.65h-.65zM-17.2 -2.1h.65v.65h-.65zM-20.7 -3.9h.65v.65h-.65zM-19.0 11.0h.65v.65h-.65zM-19.5 9.0h.65v.65h-.65zM-21.0 8.3h.65v.65h-.65zM-24.3 13.7h.65v.65h-.65zM-23.0 12.3h.65v.65h-.65zM-19.5 12.6h.65v.65h-.65zM-21.3 11.7h.65v.65h-.65zM2.8 -12.6h.65v.65h-.65zM0.9 -9.6h.65v.65h-.65zM1.7 -12.1h.65v.65h-.65zM7.3 -9.0h.65v.65h-.65zM3.0 -10.9h.65v.65h-.65zM-1.6 -15.8h.65v.65h-.65zM5.0 -10.0h.65v.65h-.65zM-2.0 -15.7h.65v.65h-.65zM12.0 -14.1h.65v.65h-.65zM13.0 -17.0h.65v.65h-.65zM10.8 -19.6h.65v.65h-.65zM8.5 -14.0h.65v.65h-.65zM11.3 -13.1h.65v.65h-.65zM9.9 -11.4h.65v.65h-.65zM14.5 -17.8h.65v.65h-.65zM13.1 -20.0h.65v.65h-.65zM11.3 -12.4h.65v.65h-.65zM10.2 -14.0h.65v.65h-.65zM13.2 -18.2h.65v.65h-.65zM14.0 -9.4h.65v.65h-.65zM17.2 -17.1h.65v.65h-.65zM12.4 -23.8h.65v.65h-.65zM12.0 -18.0h.65v.65h-.65zM12.3 -6.6h.65v.65h-.65z" fill="#40489a"/><path d="M-18.5 -10.5h.65v.65h-.65zM-17.9 -5.9h.65v.65h-.65zM-18.8 -10.1h.65v.65h-.65zM-21.6 -8.7h.65v.65h-.65zM-19.9 -7.1h.65v.65h-.65zM-16.8 -14.4h.65v.65h-.65zM-16.6 -11.9h.65v.65h-.65zM-19.8 -1.6h.65v.65h-.65zM-18.0 -13.4h.65v.65h-.65zM-17.8 -13.7h.65v.65h-.65zM-17.1 -7.8h.65v.65h-.65zM-15.4 -8.7h.65v.65h-.65zM-15.0 -15.4h.65v.65h-.65zM-15.7 -12.4h.65v.65h-.65zM-20.9 -4.0h.65v.65h-.65zM-17.8 -8.6h.65v.65h-.65zM-15.1 -9.2h.65v.65h-.65zM-14.2 -12.5h.65v.65h-.65zM-18.3 -8.4h.65v.65h-.65zM-19.0 -7.2h.65v.65h-.65zM-17.5 12.2h.65v.65h-.65zM-17.5 16.4h.65v.65h-.65zM-16.3 12.2h.65v.65h-.65zM-20.8 16.9h.65v.65h-.65zM-21.3 15.0h.65v.65h-.65zM-18.6 13.6h.65v.65h-.65zM-18.7 10.1h.65v.65h-.65zM-21.0 16.9h.65v.65h-.65zM-24.8 14.2h.65v.65h-.65zM-18.0 14.2h.65v.65h-.65zM-23.0 11.1h.65v.65h-.65zM-20.0 16.8h.65v.65h-.65zM-21.9 13.1h.65v.65h-.65zM-19.2 11.3h.65v.65h-.65zM-24.2 12.3h.65v.65h-.65zM2.3 -9.8h.65v.65h-.65zM6.3 -7.1h.65v.65h-.65zM-3.3 -14.2h.65v.65h-.65zM5.8 -6.0h.65v.65h-.65zM4.2 -8.3h.65v.65h-.65zM1.8 -11.8h.65v.65h-.65zM-1.7 -11.9h.65v.65h-.65zM3.4 -7.3h.65v.65h-.65zM-2.7 -15.0h.65v.65h-.65zM1.3 -9.6h.65v.65h-.65zM7.7 -6.6h.65v.65h-.65zM-1.6 -18.9h.65v.65h-.65zM10.9 -10.1h.65v.65h-.65zM8.0 -12.4h.65v.65h-.65zM17.0 -17.7h.65v.65h-.65zM11.6 -10.9h.65v.65h-.65zM9.5 -10.6h.65v.65h-.65zM17.4 -16.6h.65v.65h-.65zM14.8 -13.9h.65v.65h-.65zM10.7 -10.8h.65v.65h-.65zM9.3 -8.9h.65v.65h-.65z" fill="#30388e"/><path d="M-20.6 -8.7h.65v.65h-.65zM-14.5 -12.8h.65v.65h-.65zM-20.3 -5.8h.65v.65h-.65zM-21.2 -6.9h.65v.65h-.65zM-18.2 -11.9h.65v.65h-.65zM-16.2 -9.2h.65v.65h-.65zM-14.4 -16.1h.65v.65h-.65zM-19.5 -5.8h.65v.65h-.65zM-15.6 -11.1h.65v.65h-.65zM-17.2 -11.1h.65v.65h-.65zM-14.4 -16.8h.65v.65h-.65zM-20.0 -8.1h.65v.65h-.65zM-16.5 -5.6h.65v.65h-.65zM-16.4 -5.1h.65v.65h-.65zM-20.4 -4.7h.65v.65h-.65zM-19.6 -9.9h.65v.65h-.65zM-17.5 -13.6h.65v.65h-.65zM-14.5 -16.1h.65v.65h-.65zM-15.0 -9.5h.65v.65h-.65zM-20.3 -8.9h.65v.65h-.65zM-18.1 -13.3h.65v.65h-.65zM-15.9 -13.8h.65v.65h-.65zM-24.0 11.0h.65v.65h-.65zM-22.6 12.9h.65v.65h-.65zM-20.2 17.4h.65v.65h-.65zM-19.6 10.0h.65v.65h-.65zM-22.7 9.2h.65v.65h-.65zM-21.0 9.8h.65v.65h-.65zM-20.7 17.2h.65v.65h-.65zM-17.2 10.6h.65v.65h-.65zM-22.0 12.9h.65v.65h-.65zM-19.3 12.7h.65v.65h-.65zM-21.3 15.4h.65v.65h-.65zM-24.5 14.1h.65v.65h-.65zM-23.0 16.5h.65v.65h-.65zM-20.1 14.0h.65v.65h-.65zM-16.0 12.8h.65v.65h-.65zM-20.6 16.2h.65v.65h-.65zM-22.9 11.5h.65v.65h-.65zM-1.3 -14.3h.65v.65h-.65zM-2.2 -14.1h.65v.65h-.65zM6.6 -6.7h.65v.65h-.65zM1.2 -9.9h.65v.65h-.65zM-1.7 -17.1h.65v.65h-.65zM0.4 -15.3h.65v.65h-.65zM-3.7 -16.5h.65v.65h-.65zM6.7 -11.1h.65v.65h-.65zM0.0 -14.8h.65v.65h-.65zM4.1 -10.6h.65v.65h-.65zM1.6 -13.4h.65v.65h-.65zM8.0 -6.6h.65v.65h-.65zM8.3 -8.2h.65v.65h-.65zM-2.8 -17.2h.65v.65h-.65zM8.4 -8.4h.65v.65h-.65zM0.8 -14.2h.65v.65h-.65zM12.5 -9.4h.65v.65h-.65zM10.8 -12.8h.65v.65h-.65zM16.6 -18.5h.65v.65h-.65zM12.0 -14.1h.65v.65h-.65zM11.0 -20.2h.65v.65h-.65zM11.6 -20.0h.65v.65h-.65zM13.1 -12.0h.65v.65h-.65zM11.8 -18.5h.65v.65h-.65zM16.9 -17.3h.65v.65h-.65zM9.8 -12.3h.65v.65h-.65zM12.3 -16.0h.65v.65h-.65zM14.4 -13.9h.65v.65h-.65zM16.1 -16.7h.65v.65h-.65zM11.6 -17.9h.65v.65h-.65zM12.3 -10.0h.65v.65h-.65zM11.4 -14.7h.65v.65h-.65zM13.5 -18.5h.65v.65h-.65zM7.2 -11.7h.65v.65h-.65zM15.3 -16.0h.65v.65h-.65zM12.9 -19.9h.65v.65h-.65zM12.7 -10.6h.65v.65h-.65zM9.9 -21.5h.65v.65h-.65zM15.2 0.7h.65v.65h-.65zM12.6 1.5h.65v.65h-.65zM14.7 -3.2h.65v.65h-.65zM10.1 2.3h.65v.65h-.65zM8.9 -5.8h.65v.65h-.65zM10.2 0.6h.65v.65h-.65zM12.3 -3.6h.65v.65h-.65zM14.2 -2.5h.65v.65h-.65zM15.3 1.6h.65v.65h-.65zM15.8 1.2h.65v.65h-.65zM7.2 0.5h.65v.65h-.65zM6.9 -1.2h.65v.65h-.65zM11.9 1.5h.65v.65h-.65zM10.1 -1.5h.65v.65h-.65zM13.5 3.0h.65v.65h-.65zM8.2 -5.7h.65v.65h-.65zM13.0 5.9h.65v.65h-.65zM6.8 -2.6h.65v.65h-.65zM13.3 -6.8h.65v.65h-.65zM14.1 -1.1h.65v.65h-.65zM12.6 -1.3h.65v.65h-.65zM13.7 -8.4h.65v.65h-.65zM14.4 8.1h.65v.65h-.65zM13.4 0.2h.65v.65h-.65zM10.3 -5.3h.65v.65h-.65zM9.2 -1.9h.65v.65h-.65zM13.1 3.4h.65v.65h-.65zM8.0 -0.1h.65v.65h-.65zM10.6 -3.5h.65v.65h-.65zM12.4 1.9h.65v.65h-.65zM8.4 -1.0h.65v.65h-.65zM15.1 15.4h.65v.65h-.65zM11.0 18.4h.65v.65h-.65zM14.7 8.9h.65v.65h-.65zM19.4 18.1h.65v.65h-.65zM16.0 21.8h.65v.65h-.65zM12.5 16.8h.65v.65h-.65zM12.0 19.2h.65v.65h-.65zM16.8 10.6h.65v.65h-.65zM14.2 10.5h.65v.65h-.65zM13.7 14.3h.65v.65h-.65zM10.5 13.3h.65v.65h-.65zM17.5 19.9h.65v.65h-.65zM14.3 20.4h.65v.65h-.65zM20.6 13.6h.65v.65h-.65zM18.2 19.8h.65v.65h-.65zM17.1 21.2h.65v.65h-.65zM11.5 17.5h.65v.65h-.65zM19.3 19.2h.65v.65h-.65zM16.7 10.0h.65v.65h-.65zM18.9 18.8h.65v.65h-.65zM18.4 9.9h.65v.65h-.65zM16.9 11.2h.65v.65h-.65zM19.9 13.4h.65v.65h-.65zM16.4 15.7h.65v.65h-.65zM13.3 18.9h.65v.65h-.65zM12.2 10.3h.65v.65h-.65zM17.7 20.2h.65v.65h-.65z" fill="#ffffff" fill-opacity="0.8"/><path d="M-17.2 -12.5h.65v.65h-.65zM-18.1 -8.1h.65v.65h-.65zM-19.0 -3.1h.65v.65h-.65zM-16.1 -4.8h.65v.65h-.65zM-16.5 -8.4h.65v.65h-.65zM-15.7 -4.8h.65v.65h-.65zM-17.7 -1.0h.65v.65h-.65zM-19.1 -7.3h.65v.65h-.65zM-21.4 12.4h.65v.65h-.65zM-23.2 16.8h.65v.65h-.65zM-17.1 14.2h.65v.65h-.65zM-21.5 15.5h.65v.65h-.65zM-20.0 16.1h.65v.65h-.65zM-17.3 15.2h.65v.65h-.65zM-21.6 9.0h.65v.65h-.65zM-21.7 17.1h.65v.65h-.65zM7.4 -9.1h.65v.65h-.65zM3.5 -9.3h.65v.65h-.65zM4.3 -11.5h.65v.65h-.65zM3.3 -11.2h.65v.65h-.65zM1.1 -9.3h.65v.65h-.65zM0.4 -9.9h.65v.65h-.65zM-0.6 -11.3h.65v.65h-.65zM2.9 -12.9h.65v.65h-.65zM-1.1 -17.8h.65v.65h-.65zM1.6 -9.9h.65v.65h-.65zM11.0 -19.7h.65v.65h-.65zM12.8 -13.5h.65v.65h-.65zM15.4 -14.3h.65v.65h-.65zM12.9 -16.7h.65v.65h-.65zM10.5 -18.6h.65v.65h-.65zM13.4 -13.0h.65v.65h-.65zM14.4 -12.1h.65v.65h-.65zM11.5 -11.0h.65v.65h-.65zM10.9 -17.8h.65v.65h-.65zM13.1 -13.0h.65v.65h-.65zM11.4 -3.3h.65v.65h-.65zM7.9 -2.5h.65v.65h-.65z" fill="#5058a7"/><path d="M-14.1 -14.3h.65v.65h-.65zM-19.3 -1.0h.65v.65h-.65zM-18.1 -8.8h.65v.65h-.65zM-21.0 9.9h.65v.65h-.65zM-23.6 11.3h.65v.65h-.65zM-17.6 11.2h.65v.65h-.65zM-19.1 10.8h.65v.65h-.65zM2.3 -8.8h.65v.65h-.65zM13.4 -12.5h.65v.65h-.65zM13.3 -14.6h.65v.65h-.65zM13.1 -18.1h.65v.65h-.65zM15.7 -15.0h.65v.65h-.65zM11.3 -16.6h.65v.65h-.65zM16.6 -16.9h.65v.65h-.65zM15.5 -13.2h.65v.65h-.65zM11.4 7.7h.65v.65h-.65zM10.1 -3.7h.65v.65h-.65zM13.7 -4.1h.65v.65h-.65zM13.5 -8.4h.65v.65h-.65zM11.7 -7.9h.65v.65h-.65zM7.2 0.4h.65v.65h-.65zM6.7 -4.1h.65v.65h-.65zM15.6 -0.1h.65v.65h-.65zM7.0 -3.7h.65v.65h-.65zM9.5 -1.4h.65v.65h-.65zM12.1 -6.7h.65v.65h-.65zM8.8 -8.8h.65v.65h-.65zM10.8 -4.5h.65v.65h-.65z" fill="#9196cd"/><path d="M-16.3 -15.1h.65v.65h-.65zM-18.5 -2.6h.65v.65h-.65zM-17.1 -10.2h.65v.65h-.65zM-21.4 11.8h.65v.65h-.65zM-24.8 11.7h.65v.65h-.65zM-21.7 11.1h.65v.65h-.65zM-3.2 -18.0h.65v.65h-.65zM0.1 -12.2h.65v.65h-.65zM-0.4 -14.2h.65v.65h-.65zM3.1 -8.5h.65v.65h-.65zM11.6 -18.2h.65v.65h-.65zM12.2 -21.3h.65v.65h-.65zM12.5 -11.4h.65v.65h-.65zM13.4 -10.0h.65v.65h-.65zM9.7 -14.3h.65v.65h-.65zM14.8 -13.2h.65v.65h-.65zM13.1 -16.5h.65v.65h-.65zM13.8 -22.0h.65v.65h-.65zM12.9 -23.2h.65v.65h-.65zM11.2 -12.5h.65v.65h-.65zM11.7 -1.7h.65v.65h-.65zM13.7 -4.4h.65v.65h-.65zM9.0 -9.5h.65v.65h-.65zM10.6 -2.5h.65v.65h-.65zM12.9 -6.0h.65v.65h-.65zM12.4 -8.4h.65v.65h-.65zM11.2 -7.9h.65v.65h-.65zM13.2 -5.5h.65v.65h-.65z" fill="#7078c0"/><path d="M-20.6 -8.6h.65v.65h-.65zM-20.0 -10.9h.65v.65h-.65zM-15.9 -3.9h.65v.65h-.65zM-17.8 -9.7h.65v.65h-.65zM-14.5 -14.6h.65v.65h-.65zM-20.4 -3.6h.65v.65h-.65zM-15.2 -15.6h.65v.65h-.65zM-22.9 9.9h.65v.65h-.65zM-18.5 14.2h.65v.65h-.65zM-17.5 14.3h.65v.65h-.65zM-22.2 12.8h.65v.65h-.65zM-19.6 16.5h.65v.65h-.65zM-16.3 14.1h.65v.65h-.65zM-22.2 14.6h.65v.65h-.65zM-18.3 11.6h.65v.65h-.65zM-20.5 7.9h.65v.65h-.65zM-1.3 -18.4h.65v.65h-.65zM3.5 -7.8h.65v.65h-.65zM7.1 -5.1h.65v.65h-.65zM6.7 -6.3h.65v.65h-.65zM-1.0 -16.4h.65v.65h-.65zM1.6 -10.4h.65v.65h-.65zM-0.1 -14.1h.65v.65h-.65zM7.6 -9.1h.65v.65h-.65zM-1.6 -13.2h.65v.65h-.65zM5.6 -7.7h.65v.65h-.65zM16.9 -16.9h.65v.65h-.65zM10.9 -18.7h.65v.65h-.65zM11.1 -16.6h.65v.65h-.65zM14.1 -16.5h.65v.65h-.65zM14.2 -14.5h.65v.65h-.65zM13.8 -11.2h.65v.65h-.65zM9.2 -11.4h.65v.65h-.65zM10.4 -14.4h.65v.65h-.65zM10.2 -21.9h.65v.65h-.65zM12.6 -11.5h.65v.65h-.65zM13.1 -11.4h.65v.65h-.65zM14.1 -12.4h.65v.65h-.65zM11.5 -19.4h.65v.65h-.65zM15.9 -18.2h.65v.65h-.65zM12.2 -14.0h.65v.65h-.65zM13.9 -13.7h.65v.65h-.65zM13.8 -14.9h.65v.65h-.65zM17.0 -17.2h.65v.65h-.65zM12.3 -5.3h.65v.65h-.65zM14.4 -5.0h.65v.65h-.65zM13.4 -6.4h.65v.65h-.65zM9.9 -2.1h.65v.65h-.65zM11.3 -6.7h.65v.65h-.65zM13.7 -7.5h.65v.65h-.65zM8.8 1.6h.65v.65h-.65z" fill="#6068b4"/><path d="M-20.2 -10.6h.65v.65h-.65zM5.5 -10.6h.65v.65h-.65zM1.3 -12.8h.65v.65h-.65zM9.7 -15.7h.65v.65h-.65zM12.0 -16.3h.65v.65h-.65zM9.5 -3.3h.65v.65h-.65zM9.9 -0.0h.65v.65h-.65zM9.2 1.3h.65v.65h-.65zM9.7 1.3h.65v.65h-.65zM6.5 -1.7h.65v.65h-.65zM9.8 -8.3h.65v.65h-.65zM9.3 -7.1h.65v.65h-.65zM10.9 3.1h.65v.65h-.65zM14.1 -8.3h.65v.65h-.65zM9.4 1.1h.65v.65h-.65zM9.3 0.2h.65v.65h-.65zM12.2 -4.2h.65v.65h-.65zM11.8 4.5h.65v.65h-.65zM10.6 -0.4h.65v.65h-.65zM14.7 1.3h.65v.65h-.65zM6.7 -1.1h.65v.65h-.65zM11.3 2.0h.65v.65h-.65zM10.8 -8.2h.65v.65h-.65z" fill="#b2b3da"/><path d="M-19.9 14.6h.65v.65h-.65zM8.1 -8.2h.65v.65h-.65zM8.0 -7.5h.65v.65h-.65zM-3.1 -15.3h.65v.65h-.65zM11.5 0.9h.65v.65h-.65zM14.8 -4.7h.65v.65h-.65zM11.3 -0.6h.65v.65h-.65zM13.1 -0.1h.65v.65h-.65zM13.8 7.2h.65v.65h-.65zM15.2 2.3h.65v.65h-.65zM13.3 2.1h.65v.65h-.65zM13.0 5.4h.65v.65h-.65zM15.4 -2.9h.65v.65h-.65zM13.0 1.2h.65v.65h-.65zM8.7 1.2h.65v.65h-.65zM16.3 1.3h.65v.65h-.65zM8.8 3.5h.65v.65h-.65zM12.3 -0.8h.65v.65h-.65z" fill="#d3d0e7"/><path d="M13.0 6.5h.65v.65h-.65zM10.6 7.7h.65v.65h-.65zM14.1 -3.4h.65v.65h-.65zM9.1 -3.2h.65v.65h-.65zM9.6 4.1h.65v.65h-.65zM20.2 17.0h.65v.65h-.65zM15.0 20.3h.65v.65h-.65zM15.1 10.6h.65v.65h-.65zM11.4 9.2h.65v.65h-.65zM13.0 17.2h.65v.65h-.65zM18.0 14.6h.65v.65h-.65zM16.5 20.0h.65v.65h-.65zM11.9 19.3h.65v.65h-.65z" fill="#f1b9b8"/><path d="M11.3 3.3h.65v.65h-.65zM8.9 3.5h.65v.65h-.65zM10.4 -3.5h.65v.65h-.65zM12.4 4.8h.65v.65h-.65zM13.4 -3.4h.65v.65h-.65zM16.0 -0.6h.65v.65h-.65zM12.3 0.2h.65v.65h-.65zM10.1 -5.1h.65v.65h-.65zM11.4 -0.4h.65v.65h-.65zM10.0 0.3h.65v.65h-.65z" fill="#f4eef4"/><path d="M14.9 -0.2h.65v.65h-.65zM14.5 12.3h.65v.65h-.65zM12.2 16.6h.65v.65h-.65zM12.4 15.3h.65v.65h-.65zM17.5 10.4h.65v.65h-.65zM11.7 13.4h.65v.65h-.65zM13.0 14.5h.65v.65h-.65zM12.9 13.3h.65v.65h-.65zM20.1 16.9h.65v.65h-.65zM15.2 17.0h.65v.65h-.65zM13.8 8.4h.65v.65h-.65zM14.1 11.3h.65v.65h-.65zM11.4 17.2h.65v.65h-.65zM15.6 20.5h.65v.65h-.65zM11.4 16.7h.65v.65h-.65zM11.4 10.9h.65v.65h-.65zM17.0 19.4h.65v.65h-.65zM17.9 18.9h.65v.65h-.65zM13.5 21.0h.65v.65h-.65zM19.0 19.5h.65v.65h-.65z" fill="#ec6f66"/><path d="M12.8 7.1h.65v.65h-.65zM13.5 7.7h.65v.65h-.65zM12.2 7.4h.65v.65h-.65zM8.0 -0.8h.65v.65h-.65zM14.2 -6.8h.65v.65h-.65zM12.9 -2.8h.65v.65h-.65zM14.3 3.8h.65v.65h-.65zM20.7 19.2h.65v.65h-.65z" fill="#f2d4d6"/><path d="M14.4 7.2h.65v.65h-.65zM16.8 21.7h.65v.65h-.65zM16.2 19.7h.65v.65h-.65zM11.5 11.8h.65v.65h-.65zM17.7 21.3h.65v.65h-.65zM12.1 16.3h.65v.65h-.65zM18.4 11.2h.65v.65h-.65zM18.6 18.2h.65v.65h-.65zM21.0 15.2h.65v.65h-.65zM19.1 16.2h.65v.65h-.65zM11.9 17.8h.65v.65h-.65zM17.0 15.8h.65v.65h-.65zM14.3 15.8h.65v.65h-.65zM20.5 18.8h.65v.65h-.65zM13.3 14.5h.65v.65h-.65zM18.0 21.1h.65v.65h-.65zM12.3 13.6h.65v.65h-.65zM17.1 18.1h.65v.65h-.65z" fill="#ee847c"/><path d="M17.5 13.7h.65v.65h-.65zM14.8 19.4h.65v.65h-.65zM16.5 20.7h.65v.65h-.65zM18.7 10.1h.65v.65h-.65zM13.9 13.3h.65v.65h-.65zM20.0 14.0h.65v.65h-.65zM13.0 8.6h.65v.65h-.65zM16.8 21.5h.65v.65h-.65zM20.0 14.6h.65v.65h-.65zM17.4 20.0h.65v.65h-.65zM11.0 12.7h.65v.65h-.65zM12.5 14.2h.65v.65h-.65zM18.4 10.6h.65v.65h-.65zM20.1 16.9h.65v.65h-.65zM17.6 13.4h.65v.65h-.65zM17.0 20.1h.65v.65h-.65zM12.6 8.9h.65v.65h-.65zM14.6 9.2h.65v.65h-.65z" fill="#ea5a50"/><path d="M17.0 17.9h.65v.65h-.65zM15.2 12.3h.65v.65h-.65zM15.0 8.3h.65v.65h-.65zM20.8 14.7h.65v.65h-.65zM11.9 17.7h.65v.65h-.65zM15.5 18.2h.65v.65h-.65zM15.3 13.0h.65v.65h-.65zM17.5 20.0h.65v.65h-.65zM17.8 20.8h.65v.65h-.65zM11.5 13.1h.65v.65h-.65zM14.2 21.3h.65v.65h-.65zM14.2 15.8h.65v.65h-.65z" fill="#f09e9a"/><path d="M17.7 18.0h.65v.65h-.65zM19.4 11.1h.65v.65h-.65zM14.2 18.9h.65v.65h-.65zM14.7 16.7h.65v.65h-.65zM20.8 19.1h.65v.65h-.65zM13.1 12.4h.65v.65h-.65zM12.8 9.0h.65v.65h-.65zM13.6 9.4h.65v.65h-.65zM17.2 14.2h.65v.65h-.65zM13.3 18.5h.65v.65h-.65zM17.8 11.4h.65v.65h-.65zM13.2 12.3h.65v.65h-.65zM18.5 21.1h.65v.65h-.65z" fill="#e63024"/><path d="M12.0 12.5h.65v.65h-.65zM18.9 13.0h.65v.65h-.65zM16.6 16.1h.65v.65h-.65zM13.6 16.8h.65v.65h-.65zM15.7 11.5h.65v.65h-.65zM21.6 15.0h.65v.65h-.65z" fill="#e8453a"/><path d="M-14.1 -17.7h.6v.6h-.6zM-13.9 -9.3h.6v.6h-.6zM-14.3 -9.3h.6v.6h-.6zM-15.4 -10.7h.6v.6h-.6zM-15.4 -6.4h.6v.6h-.6zM-14.5 -8.2h.6v.6h-.6zM-16.5 -3.3h.6v.6h-.6zM-17.0 -2.8h.6v.6h-.6zM-17.3 -1.9h.6v.6h-.6zM-20.1 -1.0h.6v.6h-.6zM-20.1 -1.8h.6v.6h-.6zM-20.1 -0.8h.6v.6h-.6zM-21.7 -11.1h.6v.6h-.6zM-21.5 -6.3h.6v.6h-.6zM-20.2 -12.3h.6v.6h-.6zM-21.3 -11.7h.6v.6h-.6zM-20.3 -10.5h.6v.6h-.6zM-17.4 -14.0h.6v.6h-.6zM-17.9 -15.0h.6v.6h-.6zM-15.1 -16.4h.6v.6h-.6zM-23.5 8.7h.6v.6h-.6zM-16.6 11.0h.6v.6h-.6zM-15.8 10.3h.6v.6h-.6zM-17.4 11.7h.6v.6h-.6zM-17.0 17.3h.6v.6h-.6zM-16.8 15.7h.6v.6h-.6zM-21.7 16.6h.6v.6h-.6zM-0.5 -19.6h.6v.6h-.6zM7.6 -13.0h.6v.6h-.6zM7.8 -13.0h.6v.6h-.6zM10.1 -19.7h.6v.6h-.6zM9.9 -23.8h.6v.6h-.6zM13.1 -24.2h.6v.6h-.6zM15.7 -21.4h.6v.6h-.6zM16.9 -18.1h.6v.6h-.6zM3.9 -7.6h.6v.6h-.6zM-3.0 -12.2h.6v.6h-.6z" fill="#30388e" fill-opacity="0.85"/><path d="M-14.3 -14.2h.6v.6h-.6zM-12.4 -14.0h.6v.6h-.6zM-14.2 -16.1h.6v.6h-.6zM-14.1 -9.5h.6v.6h-.6zM-13.6 -11.3h.6v.6h-.6zM-14.7 -11.1h.6v.6h-.6zM-14.6 -8.2h.6v.6h-.6zM-16.4 -3.6h.6v.6h-.6zM-17.4 -2.4h.6v.6h-.6zM-18.0 -1.8h.6v.6h-.6zM-17.9 -0.7h.6v.6h-.6zM-19.5 -0.2h.6v.6h-.6zM-22.1 -3.7h.6v.6h-.6zM-21.4 -5.5h.6v.6h-.6zM-22.7 -4.4h.6v.6h-.6zM-21.7 -8.3h.6v.6h-.6zM-17.8 -14.1h.6v.6h-.6zM-14.0 -16.5h.6v.6h-.6zM-14.7 -17.1h.6v.6h-.6zM-22.0 8.5h.6v.6h-.6zM-23.3 8.5h.6v.6h-.6zM-20.0 7.2h.6v.6h-.6zM-18.6 8.5h.6v.6h-.6zM-19.2 8.4h.6v.6h-.6zM-16.2 8.5h.6v.6h-.6zM-19.1 9.9h.6v.6h-.6zM-15.2 15.2h.6v.6h-.6zM-19.6 18.2h.6v.6h-.6zM-16.3 16.4h.6v.6h-.6zM-19.7 16.1h.6v.6h-.6zM-21.6 17.1h.6v.6h-.6zM-23.9 16.6h.6v.6h-.6zM-24.1 16.1h.6v.6h-.6zM-23.8 15.8h.6v.6h-.6zM-24.8 13.3h.6v.6h-.6zM-23.5 12.8h.6v.6h-.6zM-24.5 10.0h.6v.6h-.6zM-2.6 -17.3h.6v.6h-.6zM1.6 -15.6h.6v.6h-.6zM-0.9 -16.3h.6v.6h-.6zM5.8 -11.5h.6v.6h-.6zM4.5 -11.9h.6v.6h-.6zM4.3 -12.1h.6v.6h-.6zM9.3 -18.7h.6v.6h-.6zM10.7 -22.6h.6v.6h-.6zM12.9 -25.1h.6v.6h-.6zM14.7 -20.1h.6v.6h-.6zM17.4 -20.2h.6v.6h-.6zM14.5 -10.2h.6v.6h-.6zM5.5 -5.3h.6v.6h-.6zM-1.0 -9.8h.6v.6h-.6zM-3.2 -13.2h.6v.6h-.6zM-4.4 -15.9h.6v.6h-.6zM-4.4 -17.9h.6v.6h-.6z" fill="#40489a" fill-opacity="0.85"/><path d="M-13.5 -17.8h.6v.6h-.6zM-13.2 -15.2h.6v.6h-.6zM-14.8 -7.4h.6v.6h-.6zM-22.9 -4.7h.6v.6h-.6zM-22.9 -7.9h.6v.6h-.6zM-21.9 8.3h.6v.6h-.6zM-17.3 12.2h.6v.6h-.6zM-16.9 14.0h.6v.6h-.6zM-19.3 19.1h.6v.6h-.6zM-23.4 18.0h.6v.6h-.6zM-25.2 14.2h.6v.6h-.6zM-23.6 12.7h.6v.6h-.6zM-24.4 10.9h.6v.6h-.6zM-24.2 10.6h.6v.6h-.6zM-2.5 -18.8h.6v.6h-.6zM0.5 -17.8h.6v.6h-.6zM-1.3 -19.1h.6v.6h-.6zM2.1 -13.4h.6v.6h-.6zM1.4 -13.9h.6v.6h-.6zM3.1 -12.8h.6v.6h-.6zM5.3 -11.5h.6v.6h-.6zM7.7 -13.6h.6v.6h-.6zM9.5 -14.9h.6v.6h-.6zM9.9 -20.3h.6v.6h-.6zM9.0 -16.4h.6v.6h-.6zM12.5 -23.7h.6v.6h-.6zM15.9 -21.5h.6v.6h-.6zM12.8 -22.3h.6v.6h-.6zM17.8 -16.3h.6v.6h-.6zM17.1 -12.3h.6v.6h-.6zM16.7 -15.9h.6v.6h-.6zM16.3 -14.0h.6v.6h-.6zM15.9 -10.7h.6v.6h-.6zM14.9 -8.2h.6v.6h-.6zM6.0 -6.0h.6v.6h-.6zM4.4 -6.6h.6v.6h-.6zM5.3 -5.6h.6v.6h-.6zM1.9 -8.1h.6v.6h-.6zM0.4 -8.6h.6v.6h-.6zM1.5 -7.5h.6v.6h-.6zM-0.9 -11.3h.6v.6h-.6zM-1.2 -12.8h.6v.6h-.6zM-3.3 -15.9h.6v.6h-.6z" fill="#6068b4" fill-opacity="0.85"/><path d="M-14.0 -14.8h.6v.6h-.6zM-14.4 -6.7h.6v.6h-.6zM-14.4 -8.4h.6v.6h-.6zM-15.5 -6.1h.6v.6h-.6zM-18.2 0.1h.6v.6h-.6zM-21.3 -1.2h.6v.6h-.6zM-22.5 -2.9h.6v.6h-.6zM-21.9 -9.6h.6v.6h-.6zM-19.8 -11.4h.6v.6h-.6zM-18.4 -12.9h.6v.6h-.6zM-14.6 -15.5h.6v.6h-.6zM-15.8 -14.8h.6v.6h-.6zM-24.0 9.4h.6v.6h-.6zM-22.1 8.8h.6v.6h-.6zM-17.6 10.7h.6v.6h-.6zM-16.0 12.7h.6v.6h-.6zM-15.8 11.8h.6v.6h-.6zM-16.6 14.2h.6v.6h-.6zM-18.0 17.4h.6v.6h-.6zM-21.4 17.0h.6v.6h-.6zM-24.6 12.5h.6v.6h-.6zM-24.7 9.2h.6v.6h-.6zM-1.9 -18.2h.6v.6h-.6zM-2.2 -18.9h.6v.6h-.6zM1.4 -15.6h.6v.6h-.6zM0.7 -15.0h.6v.6h-.6zM3.3 -12.7h.6v.6h-.6zM4.5 -11.9h.6v.6h-.6zM8.0 -15.5h.6v.6h-.6zM8.2 -15.2h.6v.6h-.6zM10.5 -21.6h.6v.6h-.6zM9.8 -18.6h.6v.6h-.6zM13.8 -22.5h.6v.6h-.6zM16.2 -20.7h.6v.6h-.6zM16.7 -20.2h.6v.6h-.6zM17.6 -18.2h.6v.6h-.6zM16.2 -13.2h.6v.6h-.6zM15.1 -12.1h.6v.6h-.6zM15.1 -8.8h.6v.6h-.6zM14.7 -9.5h.6v.6h-.6zM3.8 -7.4h.6v.6h-.6zM4.7 -7.1h.6v.6h-.6zM-2.6 -13.0h.6v.6h-.6zM-3.8 -16.0h.6v.6h-.6z" fill="#5058a7" fill-opacity="0.85"/><path d="M-18.0 -14.8h.6v.6h-.6zM1.0 -15.9h.6v.6h-.6zM8.4 -15.5h.6v.6h-.6zM6.2 -13.7h.6v.6h-.6zM8.5 -15.8h.6v.6h-.6zM8.1 -21.9h.6v.6h-.6zM11.4 -24.5h.6v.6h-.6zM16.5 -20.2h.6v.6h-.6zM17.5 -19.9h.6v.6h-.6zM15.9 -12.7h.6v.6h-.6zM16.2 -12.8h.6v.6h-.6zM14.2 -8.0h.6v.6h-.6zM15.2 -7.7h.6v.6h-.6zM16.5 -3.5h.6v.6h-.6zM1.5 -8.7h.6v.6h-.6zM0.1 -9.8h.6v.6h-.6zM-0.8 -12.1h.6v.6h-.6zM-5.0 -15.0h.6v.6h-.6zM-1.9 -14.8h.6v.6h-.6z" fill="#7078c0" fill-opacity="0.85"/><path d="M14.5 -7.1h.6v.6h-.6zM14.4 -4.3h.6v.6h-.6zM15.9 -2.0h.6v.6h-.6zM16.5 -1.3h.6v.6h-.6zM7.4 3.6h.6v.6h-.6z" fill="#9196cd" fill-opacity="0.85"/><path d="M13.2 -7.7h.6v.6h-.6zM16.1 -2.8h.6v.6h-.6zM15.4 -2.5h.6v.6h-.6zM15.6 -0.8h.6v.6h-.6zM13.9 2.6h.6v.6h-.6zM7.2 -1.9h.6v.6h-.6zM6.2 0.3h.6v.6h-.6zM5.4 -3.6h.6v.6h-.6z" fill="#b2b3da" fill-opacity="0.85"/><path d="M14.9 -2.7h.6v.6h-.6zM15.9 -0.4h.6v.6h-.6zM16.9 3.3h.6v.6h-.6zM14.1 2.3h.6v.6h-.6zM13.5 5.5h.6v.6h-.6zM14.3 4.7h.6v.6h-.6zM6.3 2.8h.6v.6h-.6zM6.5 0.6h.6v.6h-.6zM6.1 -3.3h.6v.6h-.6z" fill="#d3d0e7" fill-opacity="0.85"/><path d="M16.3 -1.7h.6v.6h-.6zM17.5 10.2h.6v.6h-.6zM6.7 -1.1h.6v.6h-.6zM6.1 -3.1h.6v.6h-.6z" fill="#f4eef4" fill-opacity="0.85"/><path d="M15.6 2.3h.6v.6h-.6zM16.2 4.2h.6v.6h-.6zM13.9 7.0h.6v.6h-.6zM8.9 4.4h.6v.6h-.6zM7.7 2.9h.6v.6h-.6zM8.1 4.1h.6v.6h-.6zM6.9 3.6h.6v.6h-.6zM7.8 1.5h.6v.6h-.6z" fill="#f2d4d6" fill-opacity="0.85"/><path d="M15.3 4.9h.6v.6h-.6zM13.3 6.1h.6v.6h-.6zM9.2 7.5h.6v.6h-.6zM9.2 4.9h.6v.6h-.6zM9.5 7.3h.6v.6h-.6zM10.2 6.8h.6v.6h-.6zM10.2 7.5h.6v.6h-.6z" fill="#f1b9b8" fill-opacity="0.85"/><path d="M16.4 7.4h.6v.6h-.6zM21.0 11.4h.6v.6h-.6zM19.9 11.5h.6v.6h-.6zM19.8 10.7h.6v.6h-.6zM21.4 15.0h.6v.6h-.6zM22.4 18.1h.6v.6h-.6zM19.4 22.0h.6v.6h-.6zM13.3 22.3h.6v.6h-.6zM12.7 21.1h.6v.6h-.6zM13.5 21.5h.6v.6h-.6zM11.4 18.6h.6v.6h-.6zM11.2 16.3h.6v.6h-.6zM10.2 19.6h.6v.6h-.6zM9.4 16.7h.6v.6h-.6zM9.3 16.6h.6v.6h-.6zM8.7 14.5h.6v.6h-.6zM9.4 12.8h.6v.6h-.6zM10.2 10.7h.6v.6h-.6zM10.3 8.7h.6v.6h-.6z" fill="#ec6f66" fill-opacity="0.85"/><path d="M16.7 8.9h.6v.6h-.6zM15.0 7.9h.6v.6h-.6zM17.1 9.0h.6v.6h-.6zM19.4 10.5h.6v.6h-.6zM18.6 11.5h.6v.6h-.6zM21.3 14.3h.6v.6h-.6zM20.7 13.3h.6v.6h-.6zM20.5 10.0h.6v.6h-.6zM21.2 19.9h.6v.6h-.6zM20.7 20.6h.6v.6h-.6zM22.3 18.6h.6v.6h-.6zM21.0 20.3h.6v.6h-.6zM18.2 21.7h.6v.6h-.6zM13.3 22.1h.6v.6h-.6zM12.8 21.4h.6v.6h-.6zM10.3 15.7h.6v.6h-.6zM10.2 9.2h.6v.6h-.6zM11.4 10.1h.6v.6h-.6z" fill="#ea5a50" fill-opacity="0.85"/><path d="M16.7 7.4h.6v.6h-.6zM20.9 10.9h.6v.6h-.6zM21.0 12.3h.6v.6h-.6zM21.7 16.7h.6v.6h-.6zM21.1 14.8h.6v.6h-.6zM22.9 15.7h.6v.6h-.6zM20.6 19.3h.6v.6h-.6zM19.1 20.2h.6v.6h-.6zM19.5 21.1h.6v.6h-.6zM10.5 15.4h.6v.6h-.6zM10.2 9.0h.6v.6h-.6z" fill="#ee847c" fill-opacity="0.85"/><path d="M17.5 10.0h.6v.6h-.6zM23.1 17.6h.6v.6h-.6zM16.0 21.4h.6v.6h-.6zM11.0 7.4h.6v.6h-.6z" fill="#f09e9a" fill-opacity="0.85"/><path d="M18.7 20.4h.6v.6h-.6zM15.2 21.3h.6v.6h-.6zM11.6 21.2h.6v.6h-.6zM9.9 18.7h.6v.6h-.6zM9.7 14.9h.6v.6h-.6zM10.5 14.2h.6v.6h-.6z" fill="#e8453a" fill-opacity="0.85"/><path d="M-19.8 -3.8L-20.1 -5.1L-20.8 -6.2L-20.8 -7.5M-19.4 -3.0L-19.9 -4.3L-21.2 -4.0L-22.4 -3.8M-18.8 -2.8L-20.0 -2.3L-21.0 -1.5L-21.9 -0.6M-19.7 -2.7L-20.5 -3.7L-21.7 -4.3L-22.8 -4.9M-16.9 12.2L-15.7 12.8L-15.3 14.0L-14.6 15.0M-22.0 10.5L-20.7 10.9L-20.0 12.0L-19.1 12.9M-24.7 12.9L-24.5 11.7L-24.9 10.4L-24.2 9.3M7.5 -7.1L8.8 -7.1L9.4 -6.0L10.6 -6.3M3.8 -9.7L5.1 -9.8L5.7 -11.0L7.0 -11.2M-0.1 -10.4L-1.1 -9.6L-2.3 -9.0L-2.3 -7.7M7.9 -12.5L8.3 -11.2L7.2 -10.7L6.2 -9.8M13.6 -12.7L13.5 -11.4L13.6 -10.1L13.4 -8.9M11.3 -18.7L10.5 -19.6L9.6 -20.6L8.6 -21.5M12.9 -10.9L12.7 -12.1L11.8 -13.1L10.7 -13.8M9.6 -10.8L10.9 -10.9L12.2 -11.1L13.4 -11.5M9.9 6.1L10.7 7.1L11.3 8.3L12.3 9.1M9.6 4.4L9.6 5.7L9.6 7.0L9.3 8.3M9.1 -7.2L8.2 -6.3L7.1 -5.5L7.9 -4.6M11.9 -9.3L11.4 -10.5L12.6 -11.0L12.4 -12.3M13.6 2.7L12.3 2.7L11.7 1.6L10.4 1.2M10.7 4.5L10.1 3.3L9.2 2.3L7.9 2.4M14.2 17.9L15.4 18.4L15.7 19.7L16.9 20.1M15.9 17.1L14.8 16.5L13.6 15.9L12.4 15.6M13.3 12.0L12.8 13.2L12.3 14.4L11.4 15.3M19.6 14.9L18.3 15.1L17.0 15.4L15.9 15.9M15.2 14.6L14.6 15.7L13.9 16.9L13.2 18.0M18.5 15.7L17.8 14.6L16.7 14.0L15.9 13.0" fill="none" stroke="#fff" stroke-width="0.45" stroke-opacity="0.75"/><circle cx="-6.1" cy="-1.8" r="0.6" fill="#9aa0c8"/><circle cx="21.0" cy="-10.8" r="0.5" fill="#9aa0c8"/></g>
<text x="122.00" y="286.80" font-size="8.5" text-anchor="middle" fill="#222">CX3CR1</text>
<text x="38.90" y="308.60" font-size="6.2" text-anchor="end" fill="#333">4</text>
<text x="38.90" y="323.00" font-size="6.2" text-anchor="end" fill="#333">0</text>
<text x="38.90" y="337.40" font-size="6.2" text-anchor="end" fill="#333">–4</text>
<g transform="translate(176.1,320.8)"><polygon points="-13.6,-17.3 -14.2,-12.6 -15.0,-8.6 -15.7,-4.0 -17.1,-1.1 -19.4,-0.5 -21.7,-3.4 -22.3,-6.9 -21.4,-10.3 -19.4,-12.6 -17.1,-14.4 -15.0,-16.7" fill="#e95247" stroke="none" stroke-width="0.5"/><defs><linearGradient id="g8U2" x1="0" y1="0" x2="0" y2="1"><stop offset="0" stop-color="#eb6259"/><stop offset="1" stop-color="#565eac"/></linearGradient></defs><polygon points="-24.0,9.3 -20.5,7.9 -17.1,9.3 -15.7,12.7 -16.5,16.2 -19.4,17.9 -22.8,17.4 -24.9,14.5 -25.1,11.0" fill="url(#g8U2)" stroke="none" stroke-width="0.5"/><g clip-path="url(#mclip)"><polygon points="-3.8,-17.8 -1.5,-19.0 0.2,-17.3 1.4,-14.4 3.7,-12.6 6.4,-11.4 9.0,-16.3 9.7,-21.6 11.2,-24.2 12.9,-23.6 14.7,-21.3 17.0,-20.1 17.6,-16.1 16.4,-12.6 14.7,-11.5 14.1,-8.6 14.7,-5.7 15.8,-2.3 16.4,1.8 15.2,2.9 14.1,4.7 14.7,8.1 17.6,9.3 20.4,11.0 22.2,14.5 22.2,18.5 19.9,20.8 16.4,22.0 12.9,21.4 10.6,19.7 10.1,16.2 10.6,11.6 10.1,8.1 8.3,4.7 7.2,1.2 6.0,-2.3 4.9,-5.7 2.6,-8.0 -0.3,-10.3 -2.6,-12.6 -3.8,-15.0" fill="#f2ced0" stroke="none" stroke-width="0.5"/><defs><linearGradient id="g8TRUNK" x1="0" y1="0" x2="0" y2="1"><stop offset="0" stop-color="#bfbfdf"/><stop offset="1" stop-color="#ee847c"/></linearGradient></defs><g filter="url(#bb)"><polygon points="-3.8,-17.8 -1.5,-19.0 0.2,-17.3 1.4,-14.4 3.7,-12.6 6.4,-11.4 8.9,-10.3 7.9,-4.8 4.9,-5.7 2.6,-8.0 -0.3,-10.3 -2.6,-12.6 -3.8,-15.0" fill="#ec6c63" stroke="#ec6c63" stroke-width="1.2"/><polygon points="6.4,-11.4 9.0,-16.3 9.7,-21.6 11.2,-24.2 12.9,-23.6 14.7,-21.3 17.0,-20.1 17.6,-16.1 16.4,-12.6 14.7,-11.5 14.1,-8.6 8.9,-10.3" fill="#636bb6" stroke="#636bb6" stroke-width="1.2"/><polygon points="8.9,-10.3 14.1,-8.6 14.7,-5.7 15.8,-2.3 16.4,1.8 15.2,2.9 14.1,4.7 14.7,8.1 10.4,8.7 10.1,8.1 8.3,4.7 7.2,1.2 6.0,-2.3 4.9,-5.7 7.9,-4.8" fill="url(#g8TRUNK)" stroke="url(#g8TRUNK)" stroke-width="1.2"/><polygon points="14.7,8.1 17.6,9.3 20.4,11.0 22.2,14.5 22.2,18.5 19.9,20.8 16.4,22.0 12.9,21.4 10.6,19.7 10.1,16.2 10.6,11.6 10.4,8.7" fill="#ea5f55" stroke="#ea5f55" stroke-width="1.2"/></g></g><path d="M-21.6 -4.8h.65v.65h-.65zM-19.6 -3.9h.65v.65h-.65zM-20.0 -10.3h.65v.65h-.65zM-19.9 -4.0h.65v.65h-.65zM-17.8 -5.4h.65v.65h-.65zM-15.9 -11.9h.65v.65h-.65zM-21.5 -9.1h.65v.65h-.65zM-19.3 -4.0h.65v.65h-.65zM-15.5 -13.9h.65v.65h-.65zM-16.3 -6.6h.65v.65h-.65zM-19.3 -6.0h.65v.65h-.65zM1.1 -12.4h.65v.65h-.65zM4.9 -7.4h.65v.65h-.65zM0.8 -15.0h.65v.65h-.65zM8.3 -8.3h.65v.65h-.65zM4.7 -9.6h.65v.65h-.65zM4.2 -7.1h.65v.65h-.65zM7.5 -10.6h.65v.65h-.65zM7.0 -9.1h.65v.65h-.65zM8.5 -10.0h.65v.65h-.65zM19.0 18.5h.65v.65h-.65zM15.4 12.8h.65v.65h-.65zM13.0 20.7h.65v.65h-.65zM14.8 14.9h.65v.65h-.65zM19.8 18.1h.65v.65h-.65zM18.0 16.5h.65v.65h-.65zM13.2 20.3h.65v.65h-.65zM15.1 8.8h.65v.65h-.65zM18.8 18.7h.65v.65h-.65zM14.9 17.4h.65v.65h-.65zM14.7 20.0h.65v.65h-.65zM13.9 17.2h.65v.65h-.65zM19.6 12.9h.65v.65h-.65z" fill="#e8453a"/><path d="M-20.8 -3.3h.65v.65h-.65zM-15.5 -5.5h.65v.65h-.65zM-15.1 -11.5h.65v.65h-.65zM-14.9 -11.3h.65v.65h-.65zM-17.2 -2.8h.65v.65h-.65zM-19.5 -2.2h.65v.65h-.65zM-17.3 -4.4h.65v.65h-.65zM-17.1 -5.8h.65v.65h-.65zM-15.2 -13.1h.65v.65h-.65zM4.9 -10.5h.65v.65h-.65zM-2.2 -17.5h.65v.65h-.65zM-0.2 -12.6h.65v.65h-.65zM7.8 -6.5h.65v.65h-.65zM13.4 -1.2h.65v.65h-.65zM14.0 0.3h.65v.65h-.65zM10.8 3.4h.65v.65h-.65zM13.3 15.0h.65v.65h-.65zM17.4 19.4h.65v.65h-.65zM18.9 12.5h.65v.65h-.65zM17.2 13.7h.65v.65h-.65zM19.2 12.6h.65v.65h-.65zM16.1 14.3h.65v.65h-.65zM13.7 8.3h.65v.65h-.65zM17.2 13.4h.65v.65h-.65zM11.1 13.5h.65v.65h-.65zM17.6 17.2h.65v.65h-.65zM17.3 11.7h.65v.65h-.65zM11.8 9.2h.65v.65h-.65zM15.3 19.8h.65v.65h-.65zM12.5 16.5h.65v.65h-.65zM15.3 16.6h.65v.65h-.65zM17.6 17.2h.65v.65h-.65zM16.5 13.4h.65v.65h-.65z" fill="#ec6f66"/><path d="M-16.2 -8.0h.65v.65h-.65zM-20.4 -4.2h.65v.65h-.65zM-17.1 -9.4h.65v.65h-.65zM-17.7 -8.3h.65v.65h-.65zM-17.9 -6.9h.65v.65h-.65zM-17.6 -5.2h.65v.65h-.65zM-14.0 -14.9h.65v.65h-.65zM-17.7 -9.9h.65v.65h-.65zM-18.4 -5.3h.65v.65h-.65zM-19.3 -5.2h.65v.65h-.65zM-16.5 -3.7h.65v.65h-.65zM-21.9 -7.8h.65v.65h-.65zM-14.8 -16.0h.65v.65h-.65zM-15.8 -6.3h.65v.65h-.65zM-18.4 -11.0h.65v.65h-.65zM-16.2 -3.4h.65v.65h-.65zM-18.2 -12.5h.65v.65h-.65zM-13.9 -16.3h.65v.65h-.65zM-18.4 -8.9h.65v.65h-.65zM-18.3 -3.2h.65v.65h-.65zM-20.0 -2.2h.65v.65h-.65zM-23.3 14.6h.65v.65h-.65zM-18.4 12.1h.65v.65h-.65zM-17.7 15.8h.65v.65h-.65zM-17.0 14.9h.65v.65h-.65zM-22.0 9.7h.65v.65h-.65zM-22.8 11.6h.65v.65h-.65zM-23.3 11.7h.65v.65h-.65zM-17.3 14.7h.65v.65h-.65zM-20.7 17.0h.65v.65h-.65zM-20.1 11.0h.65v.65h-.65zM-18.9 11.2h.65v.65h-.65zM-23.3 10.3h.65v.65h-.65zM-23.4 13.8h.65v.65h-.65zM-20.6 8.8h.65v.65h-.65zM-22.3 15.9h.65v.65h-.65zM-21.1 17.3h.65v.65h-.65zM-17.8 10.8h.65v.65h-.65zM-19.5 9.8h.65v.65h-.65zM-21.6 11.9h.65v.65h-.65zM0.3 -16.9h.65v.65h-.65zM-0.8 -16.4h.65v.65h-.65zM-0.1 -11.3h.65v.65h-.65zM0.2 -12.4h.65v.65h-.65zM1.0 -10.6h.65v.65h-.65zM-0.5 -15.6h.65v.65h-.65zM4.2 -8.4h.65v.65h-.65zM6.0 -8.9h.65v.65h-.65zM-2.2 -14.8h.65v.65h-.65zM-1.9 -13.3h.65v.65h-.65zM-0.1 -16.4h.65v.65h-.65zM2.4 -11.5h.65v.65h-.65zM1.1 -14.3h.65v.65h-.65zM5.0 -5.7h.65v.65h-.65zM8.4 -9.5h.65v.65h-.65zM-0.3 -12.8h.65v.65h-.65zM2.7 -10.4h.65v.65h-.65zM-2.6 -14.2h.65v.65h-.65zM-1.1 -15.0h.65v.65h-.65zM16.9 -15.9h.65v.65h-.65zM16.6 -14.3h.65v.65h-.65zM11.1 -19.4h.65v.65h-.65zM14.5 -13.9h.65v.65h-.65zM11.0 -22.3h.65v.65h-.65zM9.1 -13.3h.65v.65h-.65zM7.6 -13.5h.65v.65h-.65zM15.3 -12.3h.65v.65h-.65zM10.1 -21.0h.65v.65h-.65zM8.9 -11.3h.65v.65h-.65zM15.4 -15.5h.65v.65h-.65zM14.0 -9.2h.65v.65h-.65zM13.0 -16.3h.65v.65h-.65zM8.3 -14.7h.65v.65h-.65zM10.0 -16.1h.65v.65h-.65zM8.1 -11.4h.65v.65h-.65zM16.1 -16.4h.65v.65h-.65zM16.4 -14.2h.65v.65h-.65zM9.2 -17.6h.65v.65h-.65zM15.8 -19.8h.65v.65h-.65zM11.0 -20.1h.65v.65h-.65zM14.4 -13.9h.65v.65h-.65zM16.9 -16.1h.65v.65h-.65zM10.2 -12.1h.65v.65h-.65zM17.1 -17.2h.65v.65h-.65zM13.1 -17.8h.65v.65h-.65zM14.9 0.6h.65v.65h-.65zM12.0 6.5h.65v.65h-.65zM15.5 2.0h.65v.65h-.65zM13.5 -7.9h.65v.65h-.65zM13.5 7.2h.65v.65h-.65zM8.6 -4.2h.65v.65h-.65zM13.5 -6.7h.65v.65h-.65zM11.7 -0.4h.65v.65h-.65zM9.1 -9.5h.65v.65h-.65zM12.2 2.6h.65v.65h-.65zM13.1 -0.9h.65v.65h-.65zM10.7 -0.3h.65v.65h-.65zM13.2 5.2h.65v.65h-.65zM7.5 0.2h.65v.65h-.65zM10.2 -4.0h.65v.65h-.65zM13.0 2.9h.65v.65h-.65zM14.9 -1.8h.65v.65h-.65zM11.5 -7.0h.65v.65h-.65zM11.4 -7.9h.65v.65h-.65zM13.3 2.9h.65v.65h-.65zM13.0 -8.3h.65v.65h-.65zM12.4 -0.4h.65v.65h-.65zM12.3 1.1h.65v.65h-.65zM10.2 3.3h.65v.65h-.65zM6.4 -4.1h.65v.65h-.65zM12.4 6.6h.65v.65h-.65zM12.6 -0.8h.65v.65h-.65zM13.0 -5.2h.65v.65h-.65zM13.9 0.4h.65v.65h-.65zM13.1 -6.2h.65v.65h-.65zM10.2 -1.2h.65v.65h-.65zM11.0 -7.1h.65v.65h-.65zM10.6 2.1h.65v.65h-.65zM12.1 11.6h.65v.65h-.65zM21.2 19.0h.65v.65h-.65zM16.2 18.8h.65v.65h-.65zM19.3 17.0h.65v.65h-.65zM16.5 9.4h.65v.65h-.65zM16.1 12.2h.65v.65h-.65zM17.5 19.1h.65v.65h-.65zM21.1 14.5h.65v.65h-.65zM11.7 14.2h.65v.65h-.65zM20.8 19.1h.65v.65h-.65zM14.3 17.0h.65v.65h-.65zM16.7 14.6h.65v.65h-.65zM12.8 12.3h.65v.65h-.65zM22.2 15.8h.65v.65h-.65zM13.5 21.2h.65v.65h-.65zM21.5 14.6h.65v.65h-.65zM18.1 17.2h.65v.65h-.65zM12.6 20.9h.65v.65h-.65zM15.2 14.4h.65v.65h-.65zM16.5 21.1h.65v.65h-.65zM21.4 14.4h.65v.65h-.65zM15.1 17.4h.65v.65h-.65zM12.4 16.6h.65v.65h-.65zM11.2 14.8h.65v.65h-.65zM12.7 12.1h.65v.65h-.65zM11.5 15.0h.65v.65h-.65zM12.5 15.2h.65v.65h-.65zM12.6 19.8h.65v.65h-.65z" fill="#ffffff" fill-opacity="0.8"/><path d="M-21.5 -6.5h.65v.65h-.65zM-16.4 -8.6h.65v.65h-.65zM-14.7 -11.4h.65v.65h-.65zM-18.4 -6.8h.65v.65h-.65zM-15.1 -14.7h.65v.65h-.65zM-19.7 -8.8h.65v.65h-.65zM-18.2 -8.7h.65v.65h-.65zM-16.3 -15.0h.65v.65h-.65zM-20.1 -3.4h.65v.65h-.65zM-14.9 -15.7h.65v.65h-.65zM-20.5 -2.1h.65v.65h-.65zM-20.9 -9.7h.65v.65h-.65zM-17.4 -1.2h.65v.65h-.65zM-1.0 -13.9h.65v.65h-.65zM-3.4 -18.0h.65v.65h-.65zM-0.9 -18.0h.65v.65h-.65zM8.6 -9.6h.65v.65h-.65zM3.0 -11.4h.65v.65h-.65zM15.9 14.0h.65v.65h-.65zM19.9 14.9h.65v.65h-.65zM15.9 17.6h.65v.65h-.65zM20.7 16.9h.65v.65h-.65zM22.0 15.5h.65v.65h-.65zM21.0 12.7h.65v.65h-.65zM16.2 13.7h.65v.65h-.65zM12.1 20.4h.65v.65h-.65zM18.1 13.9h.65v.65h-.65zM20.4 11.4h.65v.65h-.65zM12.4 11.6h.65v.65h-.65zM18.6 18.7h.65v.65h-.65zM15.8 17.6h.65v.65h-.65zM11.6 19.3h.65v.65h-.65zM12.0 14.4h.65v.65h-.65zM16.3 16.5h.65v.65h-.65zM12.5 16.1h.65v.65h-.65zM13.2 12.2h.65v.65h-.65zM13.2 18.5h.65v.65h-.65zM11.0 15.7h.65v.65h-.65zM14.8 15.2h.65v.65h-.65zM17.8 18.4h.65v.65h-.65zM18.4 12.7h.65v.65h-.65z" fill="#e63024"/><path d="M-16.9 -3.2h.65v.65h-.65zM-21.4 -3.3h.65v.65h-.65zM-18.1 -10.9h.65v.65h-.65zM-15.0 -16.2h.65v.65h-.65zM-19.6 -12.0h.65v.65h-.65zM-21.1 8.1h.65v.65h-.65zM-18.8 9.4h.65v.65h-.65zM-18.0 9.2h.65v.65h-.65zM-3.4 -14.6h.65v.65h-.65zM0.1 -10.7h.65v.65h-.65zM0.5 -12.9h.65v.65h-.65zM2.4 -9.5h.65v.65h-.65zM7.5 -5.5h.65v.65h-.65zM-1.5 -15.8h.65v.65h-.65zM-0.2 -12.2h.65v.65h-.65zM-1.8 -13.3h.65v.65h-.65zM8.8 4.3h.65v.65h-.65zM12.4 7.6h.65v.65h-.65zM11.3 6.8h.65v.65h-.65zM12.8 2.2h.65v.65h-.65zM9.8 7.2h.65v.65h-.65zM12.7 6.8h.65v.65h-.65zM11.6 0.2h.65v.65h-.65zM14.8 -4.4h.65v.65h-.65zM17.8 13.8h.65v.65h-.65zM18.7 17.9h.65v.65h-.65zM20.5 17.5h.65v.65h-.65zM20.8 18.4h.65v.65h-.65zM21.2 13.8h.65v.65h-.65zM16.1 11.0h.65v.65h-.65zM18.5 20.9h.65v.65h-.65zM21.2 14.2h.65v.65h-.65z" fill="#ee847c"/><path d="M-15.2 -16.1h.65v.65h-.65zM-17.5 -1.6h.65v.65h-.65zM-19.3 -0.8h.65v.65h-.65zM-18.6 -2.9h.65v.65h-.65zM-17.2 -7.7h.65v.65h-.65zM-16.2 -14.7h.65v.65h-.65zM-18.7 -1.9h.65v.65h-.65zM-20.4 -2.1h.65v.65h-.65zM-17.3 -1.6h.65v.65h-.65zM-19.4 -8.2h.65v.65h-.65zM8.1 -8.8h.65v.65h-.65zM-1.7 -15.0h.65v.65h-.65zM7.8 -10.1h.65v.65h-.65zM-1.9 -15.4h.65v.65h-.65zM4.0 -6.7h.65v.65h-.65zM6.4 -9.2h.65v.65h-.65zM-0.5 -16.6h.65v.65h-.65zM7.6 -7.4h.65v.65h-.65zM-0.9 -17.9h.65v.65h-.65zM4.6 -11.8h.65v.65h-.65zM2.0 -11.8h.65v.65h-.65zM11.3 8.3h.65v.65h-.65zM10.8 4.7h.65v.65h-.65zM12.7 9.1h.65v.65h-.65zM17.7 20.3h.65v.65h-.65zM16.3 19.7h.65v.65h-.65zM13.7 19.8h.65v.65h-.65zM18.8 16.6h.65v.65h-.65zM12.2 14.2h.65v.65h-.65zM21.4 18.7h.65v.65h-.65zM13.0 16.3h.65v.65h-.65zM16.4 19.5h.65v.65h-.65zM17.5 14.0h.65v.65h-.65zM16.5 11.0h.65v.65h-.65zM19.6 14.2h.65v.65h-.65zM18.8 11.9h.65v.65h-.65zM16.3 14.5h.65v.65h-.65zM12.8 15.2h.65v.65h-.65zM14.6 17.3h.65v.65h-.65zM13.9 8.9h.65v.65h-.65zM10.5 15.6h.65v.65h-.65z" fill="#ea5a50"/><path d="M-19.3 -2.6h.65v.65h-.65zM-16.7 -3.6h.65v.65h-.65zM-17.2 -8.8h.65v.65h-.65zM-16.5 -10.4h.65v.65h-.65zM-19.8 -5.6h.65v.65h-.65zM-22.8 10.9h.65v.65h-.65zM-17.9 9.4h.65v.65h-.65zM-17.3 12.4h.65v.65h-.65zM-23.6 11.9h.65v.65h-.65zM-0.7 -12.4h.65v.65h-.65zM-2.8 -15.1h.65v.65h-.65zM4.0 -7.5h.65v.65h-.65zM7.6 -5.2h.65v.65h-.65zM4.0 -12.3h.65v.65h-.65zM15.0 -1.5h.65v.65h-.65zM11.3 -7.0h.65v.65h-.65zM11.8 -1.7h.65v.65h-.65zM11.8 -0.3h.65v.65h-.65zM14.0 3.3h.65v.65h-.65zM8.1 -3.0h.65v.65h-.65zM9.5 2.6h.65v.65h-.65zM7.2 -0.9h.65v.65h-.65zM14.8 -2.3h.65v.65h-.65zM15.7 1.5h.65v.65h-.65zM8.5 1.7h.65v.65h-.65zM11.2 4.4h.65v.65h-.65zM12.3 8.3h.65v.65h-.65zM17.3 12.9h.65v.65h-.65zM14.4 18.0h.65v.65h-.65zM13.7 11.7h.65v.65h-.65zM15.4 19.0h.65v.65h-.65zM11.6 10.4h.65v.65h-.65zM13.5 19.1h.65v.65h-.65zM18.2 21.0h.65v.65h-.65z" fill="#f09e9a"/><path d="M-21.5 16.3h.65v.65h-.65zM-20.9 17.6h.65v.65h-.65zM-18.5 14.6h.65v.65h-.65zM-19.3 12.6h.65v.65h-.65zM-21.8 15.3h.65v.65h-.65zM-23.4 15.3h.65v.65h-.65zM-23.9 14.1h.65v.65h-.65zM14.4 -20.7h.65v.65h-.65zM10.8 -14.3h.65v.65h-.65zM13.0 -11.3h.65v.65h-.65zM12.1 -18.8h.65v.65h-.65zM14.3 -13.4h.65v.65h-.65zM11.8 -9.3h.65v.65h-.65zM13.2 -14.6h.65v.65h-.65zM14.4 -10.6h.65v.65h-.65zM8.8 -11.6h.65v.65h-.65zM11.4 -9.7h.65v.65h-.65zM11.2 -6.9h.65v.65h-.65zM12.2 -4.4h.65v.65h-.65zM11.4 -4.2h.65v.65h-.65z" fill="#9196cd"/><path d="M-21.6 11.9h.65v.65h-.65zM-20.0 12.3h.65v.65h-.65zM-19.9 12.3h.65v.65h-.65zM-20.8 11.5h.65v.65h-.65zM13.3 -21.6h.65v.65h-.65zM9.9 -4.4h.65v.65h-.65zM14.5 2.6h.65v.65h-.65zM16.1 1.9h.65v.65h-.65zM12.7 -2.3h.65v.65h-.65zM12.2 -4.5h.65v.65h-.65zM13.3 -2.9h.65v.65h-.65zM13.4 5.8h.65v.65h-.65zM15.1 -0.2h.65v.65h-.65zM10.0 -8.8h.65v.65h-.65zM9.7 -4.6h.65v.65h-.65zM6.6 -2.7h.65v.65h-.65zM13.6 -3.8h.65v.65h-.65zM11.4 0.5h.65v.65h-.65zM14.6 15.4h.65v.65h-.65z" fill="#f4eef4"/><path d="M-22.5 17.2h.65v.65h-.65zM-20.4 16.5h.65v.65h-.65zM14.5 -16.8h.65v.65h-.65zM9.7 -21.1h.65v.65h-.65zM16.2 -16.8h.65v.65h-.65zM14.1 -14.6h.65v.65h-.65zM15.5 -17.5h.65v.65h-.65zM13.3 -10.4h.65v.65h-.65zM12.9 -19.9h.65v.65h-.65zM11.9 -11.6h.65v.65h-.65zM13.9 -20.3h.65v.65h-.65z" fill="#6068b4"/><path d="M-16.5 12.0h.65v.65h-.65zM-22.5 16.0h.65v.65h-.65zM-23.5 13.7h.65v.65h-.65zM-17.0 14.8h.65v.65h-.65zM-22.0 14.7h.65v.65h-.65zM-23.5 12.1h.65v.65h-.65zM-17.4 15.8h.65v.65h-.65zM-20.4 10.3h.65v.65h-.65zM-16.3 14.7h.65v.65h-.65zM14.1 -12.0h.65v.65h-.65zM15.7 -14.0h.65v.65h-.65zM11.1 -14.6h.65v.65h-.65zM15.1 -17.3h.65v.65h-.65zM8.8 2.8h.65v.65h-.65zM11.4 -2.5h.65v.65h-.65zM12.3 1.5h.65v.65h-.65zM5.8 -5.1h.65v.65h-.65zM10.1 -3.6h.65v.65h-.65zM11.1 -5.6h.65v.65h-.65z" fill="#b2b3da"/><path d="M-18.8 15.9h.65v.65h-.65zM-19.5 15.0h.65v.65h-.65zM7.2 -11.8h.65v.65h-.65zM13.7 -16.7h.65v.65h-.65zM15.1 -18.4h.65v.65h-.65zM16.7 -13.8h.65v.65h-.65zM15.3 -19.3h.65v.65h-.65zM11.2 -18.9h.65v.65h-.65zM13.8 -9.6h.65v.65h-.65zM15.3 -17.9h.65v.65h-.65zM9.5 -16.3h.65v.65h-.65zM16.7 -19.2h.65v.65h-.65zM8.5 -11.6h.65v.65h-.65zM13.6 -11.8h.65v.65h-.65zM11.1 -11.3h.65v.65h-.65zM10.8 -13.7h.65v.65h-.65zM10.3 -14.0h.65v.65h-.65zM11.5 -12.5h.65v.65h-.65zM17.0 -19.0h.65v.65h-.65zM11.0 -10.4h.65v.65h-.65zM13.4 -7.1h.65v.65h-.65z" fill="#7078c0"/><path d="M-17.0 12.5h.65v.65h-.65zM-18.7 12.5h.65v.65h-.65zM-24.3 12.1h.65v.65h-.65zM-19.5 11.2h.65v.65h-.65zM-20.5 13.7h.65v.65h-.65zM-19.2 10.9h.65v.65h-.65zM5.2 -11.4h.65v.65h-.65zM7.0 -9.9h.65v.65h-.65zM-3.5 -14.8h.65v.65h-.65zM-2.0 -13.4h.65v.65h-.65zM8.3 4.8h.65v.65h-.65zM14.7 -0.6h.65v.65h-.65zM10.2 2.4h.65v.65h-.65zM12.6 3.7h.65v.65h-.65zM13.6 0.6h.65v.65h-.65zM5.4 -4.8h.65v.65h-.65zM14.1 4.4h.65v.65h-.65zM11.3 8.0h.65v.65h-.65zM14.1 7.9h.65v.65h-.65zM10.6 -5.0h.65v.65h-.65zM12.1 -8.6h.65v.65h-.65zM11.5 -4.2h.65v.65h-.65zM12.7 1.0h.65v.65h-.65zM19.6 14.2h.65v.65h-.65zM14.8 9.0h.65v.65h-.65zM18.6 19.1h.65v.65h-.65zM19.1 16.1h.65v.65h-.65zM11.6 11.3h.65v.65h-.65z" fill="#f1b9b8"/><path d="M-22.9 12.2h.65v.65h-.65zM-20.7 13.3h.65v.65h-.65zM-23.3 13.5h.65v.65h-.65zM-2.5 -15.1h.65v.65h-.65zM10.3 -12.5h.65v.65h-.65zM10.7 -6.8h.65v.65h-.65zM7.8 2.7h.65v.65h-.65zM10.9 2.8h.65v.65h-.65zM9.1 -6.6h.65v.65h-.65zM14.6 1.9h.65v.65h-.65zM9.7 -3.5h.65v.65h-.65zM8.4 -7.4h.65v.65h-.65zM11.3 -3.5h.65v.65h-.65zM13.0 -7.7h.65v.65h-.65zM9.1 1.3h.65v.65h-.65zM13.0 -0.7h.65v.65h-.65zM14.7 -4.4h.65v.65h-.65zM18.7 16.8h.65v.65h-.65z" fill="#f2d4d6"/><path d="M-17.2 14.8h.65v.65h-.65zM14.1 -9.8h.65v.65h-.65zM10.0 -18.0h.65v.65h-.65zM14.3 -18.5h.65v.65h-.65zM16.3 -18.5h.65v.65h-.65zM13.7 -20.7h.65v.65h-.65zM10.3 -20.4h.65v.65h-.65zM7.1 -12.6h.65v.65h-.65zM9.3 -14.5h.65v.65h-.65zM13.6 -21.9h.65v.65h-.65zM14.5 -19.4h.65v.65h-.65zM14.2 -9.5h.65v.65h-.65zM12.2 -11.0h.65v.65h-.65zM8.4 0.6h.65v.65h-.65z" fill="#5058a7"/><path d="M-20.3 16.7h.65v.65h-.65zM12.0 -11.4h.65v.65h-.65zM11.5 -13.0h.65v.65h-.65z" fill="#30388e"/><path d="M-16.8 14.3h.65v.65h-.65zM-19.8 12.1h.65v.65h-.65zM-17.9 14.7h.65v.65h-.65zM10.2 -12.2h.65v.65h-.65zM11.6 -8.3h.65v.65h-.65zM8.1 -0.2h.65v.65h-.65zM7.8 2.4h.65v.65h-.65zM9.3 -6.3h.65v.65h-.65zM9.5 -9.1h.65v.65h-.65zM12.6 1.7h.65v.65h-.65zM12.1 -0.1h.65v.65h-.65zM6.3 -4.0h.65v.65h-.65zM15.2 -0.3h.65v.65h-.65zM12.4 -1.3h.65v.65h-.65zM11.1 2.6h.65v.65h-.65z" fill="#d3d0e7"/><path d="M10.1 -16.4h.65v.65h-.65zM13.7 -17.8h.65v.65h-.65zM16.7 -17.0h.65v.65h-.65zM11.4 -15.5h.65v.65h-.65zM14.4 -15.7h.65v.65h-.65zM15.0 -17.3h.65v.65h-.65zM14.1 -16.4h.65v.65h-.65zM14.3 -10.5h.65v.65h-.65z" fill="#40489a"/><path d="M-13.8 -17.2h.6v.6h-.6zM-13.9 -12.5h.6v.6h-.6zM-15.6 -6.8h.6v.6h-.6zM-17.6 -1.3h.6v.6h-.6zM-22.5 -5.7h.6v.6h-.6zM-21.0 -7.9h.6v.6h-.6zM-22.0 -7.7h.6v.6h-.6zM-20.6 -9.9h.6v.6h-.6zM-15.3 -14.8h.6v.6h-.6zM-23.8 9.2h.6v.6h-.6zM-22.9 9.5h.6v.6h-.6zM-20.1 8.6h.6v.6h-.6zM-21.4 9.0h.6v.6h-.6zM-21.6 8.7h.6v.6h-.6zM-18.8 7.3h.6v.6h-.6zM-19.5 9.0h.6v.6h-.6zM-17.1 9.3h.6v.6h-.6zM-26.3 10.6h.6v.6h-.6zM-2.1 -18.7h.6v.6h-.6zM-1.5 -19.6h.6v.6h-.6zM-0.5 -18.4h.6v.6h-.6zM2.3 -13.2h.6v.6h-.6zM1.5 -14.4h.6v.6h-.6zM7.4 -12.1h.6v.6h-.6zM6.1 -12.4h.6v.6h-.6zM6.4 -12.0h.6v.6h-.6zM6.2 -11.9h.6v.6h-.6zM15.6 6.0h.6v.6h-.6zM17.3 10.3h.6v.6h-.6zM16.3 8.2h.6v.6h-.6zM16.7 8.3h.6v.6h-.6zM16.9 8.5h.6v.6h-.6zM20.8 12.1h.6v.6h-.6zM22.5 16.9h.6v.6h-.6zM23.5 19.4h.6v.6h-.6zM17.8 22.4h.6v.6h-.6zM18.8 20.8h.6v.6h-.6zM17.2 23.0h.6v.6h-.6zM12.9 21.3h.6v.6h-.6zM10.3 20.2h.6v.6h-.6zM10.9 21.5h.6v.6h-.6zM10.8 18.3h.6v.6h-.6zM9.4 19.2h.6v.6h-.6zM9.4 11.3h.6v.6h-.6zM9.9 14.5h.6v.6h-.6zM10.0 8.9h.6v.6h-.6zM11.3 12.2h.6v.6h-.6zM7.5 5.9h.6v.6h-.6zM0.9 -10.6h.6v.6h-.6zM-3.1 -11.6h.6v.6h-.6zM-2.7 -13.0h.6v.6h-.6zM-3.7 -14.1h.6v.6h-.6zM-4.4 -16.3h.6v.6h-.6z" fill="#ec6f66" fill-opacity="0.85"/><path d="M-14.7 -15.0h.6v.6h-.6zM-14.2 -16.4h.6v.6h-.6zM-13.7 -11.5h.6v.6h-.6zM-14.5 -3.2h.6v.6h-.6zM-15.6 -8.9h.6v.6h-.6zM-15.4 -5.9h.6v.6h-.6zM-18.0 -1.8h.6v.6h-.6zM-17.3 -0.7h.6v.6h-.6zM-22.7 -3.3h.6v.6h-.6zM-22.3 -3.3h.6v.6h-.6zM-20.9 -11.0h.6v.6h-.6zM-15.4 -16.2h.6v.6h-.6zM5.9 -10.7h.6v.6h-.6zM15.0 8.4h.6v.6h-.6zM18.5 9.8h.6v.6h-.6zM22.1 12.9h.6v.6h-.6zM22.2 13.1h.6v.6h-.6zM22.7 14.9h.6v.6h-.6zM20.9 18.3h.6v.6h-.6zM16.9 22.7h.6v.6h-.6zM20.2 21.6h.6v.6h-.6zM12.9 21.5h.6v.6h-.6zM10.2 20.9h.6v.6h-.6zM10.5 14.0h.6v.6h-.6zM8.3 17.5h.6v.6h-.6zM9.8 15.8h.6v.6h-.6zM11.0 11.6h.6v.6h-.6zM4.3 -6.5h.6v.6h-.6zM1.5 -8.6h.6v.6h-.6z" fill="#e8453a" fill-opacity="0.85"/><path d="M-14.9 -15.3h.6v.6h-.6zM-13.8 -17.0h.6v.6h-.6zM-13.5 -16.4h.6v.6h-.6zM-13.4 -18.0h.6v.6h-.6zM-14.3 -10.2h.6v.6h-.6zM-15.2 -8.1h.6v.6h-.6zM-13.8 -11.9h.6v.6h-.6zM-14.9 -5.1h.6v.6h-.6zM-15.3 -6.7h.6v.6h-.6zM-15.8 -2.3h.6v.6h-.6zM-20.8 -2.6h.6v.6h-.6zM-21.4 -2.0h.6v.6h-.6zM-21.4 -1.7h.6v.6h-.6zM-23.0 -5.6h.6v.6h-.6zM-21.5 -3.6h.6v.6h-.6zM-18.3 -12.7h.6v.6h-.6zM-19.5 -13.0h.6v.6h-.6zM-18.4 -14.2h.6v.6h-.6zM-16.3 -14.6h.6v.6h-.6zM-24.0 9.7h.6v.6h-.6zM-18.5 9.0h.6v.6h-.6zM-3.7 -18.4h.6v.6h-.6zM-2.0 -17.9h.6v.6h-.6zM0.0 -14.8h.6v.6h-.6zM6.0 -11.1h.6v.6h-.6zM6.7 -12.6h.6v.6h-.6zM16.8 9.4h.6v.6h-.6zM19.8 10.6h.6v.6h-.6zM21.0 11.6h.6v.6h-.6zM21.4 13.2h.6v.6h-.6zM23.6 13.9h.6v.6h-.6zM21.7 17.4h.6v.6h-.6zM22.5 19.2h.6v.6h-.6zM19.8 21.0h.6v.6h-.6zM22.4 18.3h.6v.6h-.6zM15.2 22.9h.6v.6h-.6zM12.0 20.2h.6v.6h-.6zM9.5 7.4h.6v.6h-.6zM3.4 -6.4h.6v.6h-.6zM2.7 -8.4h.6v.6h-.6zM-1.7 -11.3h.6v.6h-.6zM-2.8 -14.0h.6v.6h-.6zM-2.0 -12.4h.6v.6h-.6z" fill="#ea5a50" fill-opacity="0.85"/><path d="M-15.0 -10.0h.6v.6h-.6zM-16.6 -2.3h.6v.6h-.6zM-17.3 -0.2h.6v.6h-.6zM-19.6 -0.5h.6v.6h-.6zM-22.8 -8.2h.6v.6h-.6zM-21.8 -7.0h.6v.6h-.6zM-19.5 -12.3h.6v.6h-.6zM-20.9 -10.7h.6v.6h-.6zM-18.4 -15.0h.6v.6h-.6zM-13.7 -17.6h.6v.6h-.6zM-0.3 -17.2h.6v.6h-.6zM0.1 -15.2h.6v.6h-.6zM19.6 10.8h.6v.6h-.6zM19.1 9.8h.6v.6h-.6zM20.8 11.9h.6v.6h-.6zM17.7 21.2h.6v.6h-.6zM10.2 13.8h.6v.6h-.6zM10.3 12.5h.6v.6h-.6zM10.2 8.8h.6v.6h-.6z" fill="#e63024" fill-opacity="0.85"/><path d="M-14.7 -6.0h.6v.6h-.6zM-16.1 -4.8h.6v.6h-.6zM-21.7 -6.1h.6v.6h-.6zM-22.7 -8.1h.6v.6h-.6zM-18.5 -13.5h.6v.6h-.6zM-15.1 -17.5h.6v.6h-.6zM-17.5 9.8h.6v.6h-.6zM-24.3 9.9h.6v.6h-.6zM0.9 -18.2h.6v.6h-.6zM-0.1 -16.9h.6v.6h-.6zM5.9 -12.6h.6v.6h-.6zM14.7 1.7h.6v.6h-.6zM14.1 4.8h.6v.6h-.6zM23.4 14.9h.6v.6h-.6zM10.6 17.4h.6v.6h-.6zM10.0 17.6h.6v.6h-.6zM10.3 8.3h.6v.6h-.6zM7.0 1.0h.6v.6h-.6zM3.9 -6.4h.6v.6h-.6zM2.8 -7.7h.6v.6h-.6zM1.7 -8.5h.6v.6h-.6zM0.1 -11.5h.6v.6h-.6zM-1.1 -11.3h.6v.6h-.6zM-0.5 -10.8h.6v.6h-.6zM-2.6 -16.1h.6v.6h-.6zM-5.3 -16.1h.6v.6h-.6z" fill="#ee847c" fill-opacity="0.85"/><path d="M-15.6 -3.2h.6v.6h-.6zM-18.7 9.4h.6v.6h-.6zM-16.4 11.3h.6v.6h-.6zM-25.6 10.4h.6v.6h-.6zM-25.4 11.2h.6v.6h-.6zM0.2 -15.1h.6v.6h-.6zM1.6 -14.3h.6v.6h-.6zM2.1 -14.6h.6v.6h-.6zM6.6 -12.1h.6v.6h-.6zM13.6 -6.5h.6v.6h-.6zM15.8 -2.5h.6v.6h-.6zM15.7 -2.3h.6v.6h-.6zM16.3 1.4h.6v.6h-.6zM14.6 3.6h.6v.6h-.6zM13.4 4.3h.6v.6h-.6zM14.9 5.5h.6v.6h-.6zM15.7 6.5h.6v.6h-.6zM17.5 9.3h.6v.6h-.6zM15.0 20.9h.6v.6h-.6zM10.9 18.2h.6v.6h-.6zM9.2 6.9h.6v.6h-.6zM9.6 5.8h.6v.6h-.6zM8.2 5.3h.6v.6h-.6zM6.4 3.4h.6v.6h-.6zM8.0 2.6h.6v.6h-.6zM4.3 -5.5h.6v.6h-.6zM1.0 -8.1h.6v.6h-.6zM-4.2 -14.7h.6v.6h-.6z" fill="#f09e9a" fill-opacity="0.85"/><path d="M-17.0 12.6h.6v.6h-.6zM-3.0 -18.2h.6v.6h-.6zM14.9 -6.5h.6v.6h-.6zM14.7 -4.1h.6v.6h-.6zM15.7 2.7h.6v.6h-.6zM14.3 2.5h.6v.6h-.6zM22.7 19.4h.6v.6h-.6zM10.2 5.5h.6v.6h-.6zM7.3 3.8h.6v.6h-.6zM6.3 -0.3h.6v.6h-.6zM6.5 1.1h.6v.6h-.6z" fill="#f1b9b8" fill-opacity="0.85"/><path d="M-16.0 12.6h.6v.6h-.6zM-17.0 13.0h.6v.6h-.6zM-16.8 16.7h.6v.6h-.6zM14.6 -7.7h.6v.6h-.6zM6.5 -2.2h.6v.6h-.6zM5.6 -0.8h.6v.6h-.6zM5.8 -2.9h.6v.6h-.6zM4.4 -2.9h.6v.6h-.6zM5.8 -4.6h.6v.6h-.6z" fill="#d3d0e7" fill-opacity="0.85"/><path d="M-15.9 11.5h.6v.6h-.6zM-16.5 14.5h.6v.6h-.6zM15.6 -3.8h.6v.6h-.6zM17.0 -0.1h.6v.6h-.6zM9.1 4.1h.6v.6h-.6zM5.2 -1.3h.6v.6h-.6zM4.6 -4.5h.6v.6h-.6z" fill="#f4eef4" fill-opacity="0.85"/><path d="M-16.8 16.3h.6v.6h-.6zM-20.0 17.1h.6v.6h-.6zM-23.6 17.5h.6v.6h-.6zM-23.6 15.7h.6v.6h-.6zM8.3 -12.9h.6v.6h-.6zM8.3 -13.6h.6v.6h-.6zM10.7 -20.4h.6v.6h-.6zM9.6 -16.2h.6v.6h-.6zM10.1 -21.7h.6v.6h-.6zM12.2 -23.3h.6v.6h-.6zM17.7 -19.1h.6v.6h-.6zM16.2 -20.9h.6v.6h-.6zM17.7 -17.8h.6v.6h-.6zM16.8 -21.2h.6v.6h-.6zM17.5 -20.1h.6v.6h-.6zM18.1 -14.6h.6v.6h-.6zM17.3 -15.1h.6v.6h-.6zM14.4 -11.3h.6v.6h-.6zM13.3 -11.1h.6v.6h-.6z" fill="#6068b4" fill-opacity="0.85"/><path d="M-16.0 14.3h.6v.6h-.6zM-15.9 15.0h.6v.6h-.6zM-23.3 16.3h.6v.6h-.6zM-23.5 12.3h.6v.6h-.6zM16.3 -13.9h.6v.6h-.6z" fill="#b2b3da" fill-opacity="0.85"/><path d="M-17.1 17.1h.6v.6h-.6zM-21.3 17.6h.6v.6h-.6zM-20.5 19.0h.6v.6h-.6zM9.5 -18.5h.6v.6h-.6zM8.5 -23.4h.6v.6h-.6zM14.7 -22.6h.6v.6h-.6zM17.0 -20.0h.6v.6h-.6zM18.5 -15.8h.6v.6h-.6zM17.5 -17.7h.6v.6h-.6zM17.0 -18.9h.6v.6h-.6zM17.0 -15.1h.6v.6h-.6zM14.1 -9.8h.6v.6h-.6zM14.3 -11.1h.6v.6h-.6z" fill="#5058a7" fill-opacity="0.85"/><path d="M-16.9 16.4h.6v.6h-.6zM-20.4 16.2h.6v.6h-.6zM-24.7 16.4h.6v.6h-.6zM-24.1 15.4h.6v.6h-.6zM-24.4 16.0h.6v.6h-.6zM-26.1 12.9h.6v.6h-.6zM7.6 -15.3h.6v.6h-.6zM8.9 -20.1h.6v.6h-.6zM13.5 -20.7h.6v.6h-.6zM16.6 -13.5h.6v.6h-.6zM12.8 -8.5h.6v.6h-.6z" fill="#9196cd" fill-opacity="0.85"/><path d="M-20.8 18.8h.6v.6h-.6zM-25.2 14.8h.6v.6h-.6zM9.3 -17.7h.6v.6h-.6zM9.1 -16.5h.6v.6h-.6zM8.4 -16.2h.6v.6h-.6zM9.2 -17.8h.6v.6h-.6zM10.8 -23.4h.6v.6h-.6zM10.9 -23.6h.6v.6h-.6zM12.7 -24.7h.6v.6h-.6zM14.4 -10.9h.6v.6h-.6zM14.8 -11.2h.6v.6h-.6z" fill="#7078c0" fill-opacity="0.85"/><path d="M-20.8 18.7h.6v.6h-.6z" fill="#30388e" fill-opacity="0.85"/><path d="M-24.3 13.0h.6v.6h-.6zM15.2 -7.7h.6v.6h-.6zM14.7 -5.2h.6v.6h-.6zM17.1 -2.8h.6v.6h-.6zM17.2 -1.6h.6v.6h-.6zM15.6 0.3h.6v.6h-.6zM15.8 -0.4h.6v.6h-.6zM5.1 -7.9h.6v.6h-.6z" fill="#f2d4d6" fill-opacity="0.85"/><path d="M12.0 -24.1h.6v.6h-.6zM12.4 -23.4h.6v.6h-.6zM14.0 -23.1h.6v.6h-.6z" fill="#40489a" fill-opacity="0.85"/><path d="M-17.2 -12.3L-17.4 -13.6L-18.4 -14.5L-18.4 -15.8M-19.6 -5.5L-20.7 -6.3L-21.9 -6.7L-23.2 -6.9M-21.0 -8.8L-20.3 -7.6L-21.1 -6.6L-22.3 -6.0M-16.0 -14.9L-14.7 -14.9L-13.5 -14.5L-13.5 -13.2M-20.7 14.8L-22.0 15.1L-22.7 16.2L-23.3 17.3M-19.5 12.3L-20.7 12.8L-21.9 13.4L-23.2 13.0M-23.6 10.6L-23.2 9.3L-22.3 8.4L-21.3 9.3M1.4 -12.9L1.1 -11.6L1.6 -10.4L1.5 -9.1M4.1 -11.0L3.8 -12.2L3.5 -13.5L3.2 -14.8M6.3 -9.8L5.0 -9.7L3.7 -9.3L2.4 -9.2M15.0 -13.0L14.3 -11.9L14.3 -10.6L13.4 -9.7M13.4 -20.2L14.7 -20.3L15.5 -19.2L16.6 -19.9M8.9 -13.2L7.8 -14.0L6.5 -14.0L5.2 -13.9M15.0 -14.5L13.8 -14.1L12.7 -14.9L11.5 -15.3M14.8 -18.4L15.4 -17.2L15.1 -15.9L14.1 -15.2M10.7 -4.7L9.7 -3.8L9.1 -2.7L9.5 -1.4M13.5 2.9L13.2 4.2L12.1 4.7L11.3 5.8M15.8 -1.2L16.4 -2.3L16.8 -3.6L16.8 -4.9M15.9 1.7L15.5 0.5L14.3 0.1L13.1 0.8M13.8 5.6L14.9 4.9L15.3 3.6L15.5 2.4M11.6 -5.1L10.3 -5.4L9.5 -6.4L8.5 -7.3M15.6 13.3L16.8 13.7L18.1 13.6L19.2 12.9M10.5 17.8L11.6 17.1L12.6 17.9L12.2 19.1M13.7 15.3L13.9 14.0L14.9 13.3L16.2 13.5M10.5 17.3L11.8 17.4L12.5 18.5L13.7 18.8M12.4 15.0L12.8 16.2L12.3 17.5L11.4 18.3M15.6 14.3L14.8 15.4L13.9 16.2L13.5 17.5" fill="none" stroke="#fff" stroke-width="0.45" stroke-opacity="0.75"/><circle cx="-6.1" cy="-1.8" r="0.6" fill="#9aa0c8"/><circle cx="21.0" cy="-10.8" r="0.5" fill="#9aa0c8"/></g>
<text x="175.60" y="286.80" font-size="8.5" text-anchor="middle" fill="#222">DNAM1</text>
<text x="38.90" y="308.60" font-size="6.2" text-anchor="end" fill="#333">4</text>
<text x="38.90" y="323.00" font-size="6.2" text-anchor="end" fill="#333">0</text>
<text x="38.90" y="337.40" font-size="6.2" text-anchor="end" fill="#333">–4</text>
<text x="54.30" y="354.70" font-size="6.4" text-anchor="middle" fill="#333">–5</text>
<text x="69.10" y="354.70" font-size="6.4" text-anchor="middle" fill="#333">0</text>
<text x="83.40" y="354.70" font-size="6.4" text-anchor="middle" fill="#333">5</text>
<text x="108.20" y="354.70" font-size="6.4" text-anchor="middle" fill="#333">–5</text>
<text x="123.00" y="354.70" font-size="6.4" text-anchor="middle" fill="#333">0</text>
<text x="137.30" y="354.70" font-size="6.4" text-anchor="middle" fill="#333">5</text>
<text x="161.80" y="354.70" font-size="6.4" text-anchor="middle" fill="#333">–5</text>
<text x="176.60" y="354.70" font-size="6.4" text-anchor="middle" fill="#333">0</text>
<text x="190.90" y="354.70" font-size="6.4" text-anchor="middle" fill="#333">5</text>
<text x="120.60" y="366.00" font-size="7.0" text-anchor="middle" fill="#333" textLength="27" lengthAdjust="spacingAndGlyphs">UMAP_1</text>
<text x="25.60" y="254.30" font-size="7.0" text-anchor="middle" fill="#333" transform="rotate(-90 25.6 254.3)" textLength="27" lengthAdjust="spacingAndGlyphs">UMAP_2</text>
<text x="206.40" y="227.10" font-size="6.6" fill="#333">scaled</text>
<text x="206.40" y="235.20" font-size="6.6" fill="#333" textLength="31.4" lengthAdjust="spacingAndGlyphs">expression</text>
<defs><linearGradient id="bg" x1="0" y1="0" x2="0" y2="1"><stop offset="0" stop-color="#e2231c"/><stop offset="0.25" stop-color="#f08a84"/><stop offset="0.5" stop-color="#f7f2f6"/><stop offset="0.75" stop-color="#7d84c0"/><stop offset="1" stop-color="#1f2a7c"/></linearGradient></defs>
<rect x="206.20" y="241.00" width="7.80" height="40.70" fill="url(#bg)"/>
<text x="218.00" y="243.70" font-size="6.6" fill="#333">1.00</text>
<text x="218.00" y="253.85" font-size="6.6" fill="#333">0.75</text>
<text x="218.00" y="264.00" font-size="6.6" fill="#333">0.50</text>
<text x="218.00" y="274.15" font-size="6.6" fill="#333">0.25</text>
<text x="218.00" y="284.30" font-size="6.6" fill="#333">0.00</text>
<text x="314.00" y="160.20" font-size="8.2" text-anchor="middle" fill="#222" textLength="48.7" lengthAdjust="spacingAndGlyphs">NonRes_bas</text>
<g transform="translate(0,0)"><path d="M308.3,176.0C309.2,175.4 310.9,179.5 313.1,181.9C315.3,184.3 318.4,188.4 321.4,190.2C324.4,192.0 328.4,191.4 331.0,192.6C333.6,193.8 335.2,195.4 336.9,197.4C338.6,199.4 340.0,201.7 341.1,204.5C342.2,207.3 344.0,212.0 343.5,214.0C343.0,216.0 339.2,215.0 338.1,216.4C337.0,217.8 336.7,220.8 336.9,222.4C337.1,224.0 337.7,225.4 339.3,226.0C340.9,226.6 344.2,225.0 346.4,226.0C348.6,227.0 351.1,229.7 352.4,231.9C353.7,234.1 354.2,236.6 354.2,239.0C354.2,241.4 353.5,244.0 352.4,246.2C351.3,248.4 349.8,250.9 347.6,252.1C345.4,253.3 341.9,253.7 339.3,253.3C336.7,252.9 333.8,251.6 332.1,249.8C330.4,248.0 329.4,244.8 329.2,242.6C329.0,240.4 330.4,238.5 331.0,236.7C331.6,234.9 332.5,233.7 332.7,231.9C332.9,230.1 332.6,228.0 332.1,226.0C331.6,224.0 330.4,222.0 329.8,220.0C329.2,218.0 329.2,216.0 328.6,214.0C328.0,212.0 327.0,209.9 326.2,208.1C325.4,206.3 325.2,205.1 323.8,203.3C322.4,201.5 320.1,199.2 317.9,197.4C315.7,195.6 312.4,194.6 310.7,192.6C309.0,190.6 308.1,188.3 307.7,185.5C307.3,182.7 307.4,176.6 308.3,176.0Z" stroke="#b9b3b0" stroke-width="0.45" fill="#f3fafc"/>
<path d="M317.0 189.0h1.3v1.3h-1.3zM309.8 185.2h1.3v1.3h-1.3zM321.3 196.0h1.9v1.9h-1.9zM324.8 192.4h1.9v1.9h-1.9zM312.9 185.9h1.0v1.0h-1.0zM309.5 184.5h1.7v1.7h-1.7zM318.2 191.4h1.9v1.9h-1.9zM325.6 193.9h1.1v1.1h-1.1zM316.7 194.2h1.4v1.4h-1.4z" fill="#7fd0ea"/>
<path d="M318.6 195.8h1.5v1.5h-1.5zM320.1 194.5h0.9v0.9h-0.9zM312.3 182.5h1.7v1.7h-1.7zM313.0 183.4h1.5v1.5h-1.5zM311.2 190.7h1.3v1.3h-1.3zM313.7 186.6h0.9v0.9h-0.9zM321.6 197.2h1.5v1.5h-1.5zM310.1 179.4h2.0v2.0h-2.0zM311.2 184.7h1.6v1.6h-1.6zM314.4 193.7h1.6v1.6h-1.6zM323.0 193.8h1.3v1.3h-1.3zM317.1 190.3h1.3v1.3h-1.3zM321.9 194.3h1.1v1.1h-1.1zM315.7 188.5h1.4v1.4h-1.4zM310.8 186.1h1.9v1.9h-1.9z" fill="#2ab1dc"/>
<path d="M316.0 186.8h1.6v1.6h-1.6zM324.5 197.5h1.2v1.2h-1.2zM310.1 179.3h1.6v1.6h-1.6zM311.7 190.4h1.1v1.1h-1.1zM326.1 195.6h0.9v0.9h-0.9zM309.7 179.7h1.9v1.9h-1.9zM317.5 190.9h1.5v1.5h-1.5zM317.2 188.6h1.7v1.7h-1.7zM318.3 191.3h1.3v1.3h-1.3zM313.8 184.6h1.4v1.4h-1.4zM310.4 182.0h1.5v1.5h-1.5zM311.8 188.0h1.1v1.1h-1.1zM321.0 197.1h1.1v1.1h-1.1zM324.3 197.4h1.1v1.1h-1.1zM316.1 193.9h1.0v1.0h-1.0zM310.5 180.9h1.4v1.4h-1.4z" fill="#a8def0"/>
<path d="M314.7 189.6h1.4v1.4h-1.4zM317.7 191.5h1.3v1.3h-1.3zM319.5 194.6h1.8v1.8h-1.8zM325.3 194.3h1.7v1.7h-1.7zM313.9 188.4h0.9v0.9h-0.9zM325.2 192.6h1.7v1.7h-1.7zM316.6 194.0h1.8v1.8h-1.8zM314.9 193.7h1.4v1.4h-1.4zM309.2 181.5h0.9v0.9h-0.9zM314.0 192.3h1.5v1.5h-1.5z" fill="#48bfe3"/>
<path d="M313.1 191.9h1.3v1.3h-1.3zM311.3 186.7h1.6v1.6h-1.6zM310.1 186.8h1.7v1.7h-1.7zM320.0 196.4h1.8v1.8h-1.8zM313.2 185.8h1.1v1.1h-1.1zM315.8 189.5h1.1v1.1h-1.1zM311.9 186.7h1.9v1.9h-1.9zM320.3 190.9h1.9v1.9h-1.9zM319.2 195.5h1.4v1.4h-1.4zM325.2 197.6h1.4v1.4h-1.4zM325.4 195.0h1.4v1.4h-1.4zM311.0 188.0h1.6v1.6h-1.6z" fill="#1b9fd0"/>
<path d="M335.9 222.9h1.3v1.3h-1.3zM336.0 199.8h0.9v0.9h-0.9zM337.1 226.3h1.0v1.0h-1.0zM334.6 220.5h1.5v1.5h-1.5zM330.3 197.0h1.2v1.2h-1.2zM326.4 202.5h1.9v1.9h-1.9zM335.0 204.1h1.2v1.2h-1.2zM325.1 203.1h1.6v1.6h-1.6zM332.8 219.8h1.2v1.2h-1.2zM334.7 210.8h1.7v1.7h-1.7zM333.6 223.9h1.2v1.2h-1.2zM331.6 200.5h1.1v1.1h-1.1zM325.7 199.6h1.7v1.7h-1.7zM328.2 203.6h1.5v1.5h-1.5zM335.4 218.4h1.6v1.6h-1.6zM336.9 211.9h1.1v1.1h-1.1zM334.4 199.7h1.0v1.0h-1.0zM333.3 211.6h1.5v1.5h-1.5zM333.9 197.2h1.2v1.2h-1.2zM333.2 204.3h1.6v1.6h-1.6zM330.3 193.8h1.2v1.2h-1.2zM336.8 212.3h1.0v1.0h-1.0zM327.9 204.0h1.3v1.3h-1.3zM334.5 199.5h1.6v1.6h-1.6zM340.1 212.9h1.9v1.9h-1.9z" fill="#1e95c8"/>
<path d="M330.2 211.0h1.4v1.4h-1.4zM339.1 211.2h1.4v1.4h-1.4zM338.9 213.8h1.1v1.1h-1.1zM335.9 221.7h1.3v1.3h-1.3zM329.1 205.6h1.5v1.5h-1.5zM327.5 197.0h1.8v1.8h-1.8zM332.2 209.9h1.6v1.6h-1.6zM337.3 212.9h1.3v1.3h-1.3zM325.8 202.5h1.1v1.1h-1.1zM334.3 219.1h1.3v1.3h-1.3zM336.8 206.3h1.3v1.3h-1.3zM337.1 204.2h1.1v1.1h-1.1zM335.4 212.9h1.7v1.7h-1.7zM329.3 206.3h1.8v1.8h-1.8zM338.0 204.3h1.4v1.4h-1.4zM330.3 207.3h1.1v1.1h-1.1zM339.9 208.3h1.6v1.6h-1.6zM334.0 198.3h1.7v1.7h-1.7zM335.4 217.1h1.1v1.1h-1.1zM331.2 197.2h1.1v1.1h-1.1zM333.4 221.2h1.5v1.5h-1.5zM334.7 219.0h1.1v1.1h-1.1zM330.0 204.4h1.1v1.1h-1.1zM332.8 215.3h1.8v1.8h-1.8zM330.9 211.0h1.2v1.2h-1.2zM337.4 207.1h1.1v1.1h-1.1zM325.9 199.2h1.4v1.4h-1.4zM325.6 200.7h1.6v1.6h-1.6z" fill="#2ab1dc"/>
<path d="M327.1 196.3h1.4v1.4h-1.4zM337.1 204.1h1.3v1.3h-1.3zM328.4 195.9h1.5v1.5h-1.5zM324.1 201.1h1.3v1.3h-1.3zM323.0 199.6h0.9v0.9h-0.9zM335.2 225.5h1.9v1.9h-1.9zM339.9 207.6h1.1v1.1h-1.1zM333.9 214.7h1.2v1.2h-1.2zM329.0 204.5h1.7v1.7h-1.7zM333.1 199.0h1.8v1.8h-1.8zM334.6 197.9h1.1v1.1h-1.1zM332.3 219.0h1.2v1.2h-1.2zM335.2 222.0h1.8v1.8h-1.8zM335.5 203.9h1.3v1.3h-1.3zM333.6 213.4h1.5v1.5h-1.5zM330.7 194.3h1.4v1.4h-1.4zM326.1 198.0h1.4v1.4h-1.4zM328.6 204.6h1.0v1.0h-1.0zM338.1 208.4h1.0v1.0h-1.0zM335.0 203.5h1.5v1.5h-1.5zM331.3 197.9h1.0v1.0h-1.0zM337.6 206.7h1.5v1.5h-1.5zM338.9 206.9h1.0v1.0h-1.0zM334.2 207.7h1.5v1.5h-1.5z" fill="#5ac0e0"/>
<path d="M333.3 205.2h1.0v1.0h-1.0zM325.4 198.4h1.9v1.9h-1.9zM329.0 200.1h0.9v0.9h-0.9zM334.4 200.9h1.2v1.2h-1.2zM327.1 202.4h1.5v1.5h-1.5zM332.4 213.3h1.4v1.4h-1.4zM331.6 202.2h1.6v1.6h-1.6zM325.2 201.0h1.4v1.4h-1.4zM334.9 226.6h1.2v1.2h-1.2zM333.5 208.7h0.9v0.9h-0.9zM331.6 216.3h1.8v1.8h-1.8zM340.0 213.5h1.4v1.4h-1.4zM330.7 213.2h1.3v1.3h-1.3zM337.9 203.4h1.1v1.1h-1.1zM332.2 195.9h0.9v0.9h-0.9zM327.4 196.6h0.9v0.9h-0.9zM326.4 199.3h1.3v1.3h-1.3zM334.4 224.9h1.9v1.9h-1.9zM333.1 217.6h1.3v1.3h-1.3zM336.4 213.8h1.9v1.9h-1.9zM329.5 210.3h1.8v1.8h-1.8zM331.5 207.2h1.2v1.2h-1.2zM333.2 206.8h1.4v1.4h-1.4zM331.4 200.0h1.8v1.8h-1.8zM333.7 200.8h1.8v1.8h-1.8z" fill="#1679b0"/>
<path d="M332.0 218.8h2.0v2.0h-2.0zM337.1 213.9h1.4v1.4h-1.4zM335.1 212.4h0.9v0.9h-0.9zM328.2 206.5h1.9v1.9h-1.9zM332.0 203.5h1.5v1.5h-1.5zM329.1 202.2h1.6v1.6h-1.6zM327.4 207.5h0.9v0.9h-0.9zM327.6 193.8h0.9v0.9h-0.9zM332.6 217.5h1.9v1.9h-1.9zM334.4 225.0h1.4v1.4h-1.4zM336.7 214.1h1.4v1.4h-1.4zM331.5 208.9h1.4v1.4h-1.4zM336.1 201.1h1.0v1.0h-1.0zM329.6 196.5h0.9v0.9h-0.9zM334.1 198.4h1.9v1.9h-1.9zM332.9 205.0h1.4v1.4h-1.4zM333.4 199.7h2.0v2.0h-2.0zM336.0 224.8h1.9v1.9h-1.9zM331.3 207.0h1.9v1.9h-1.9zM336.9 203.4h1.8v1.8h-1.8zM339.3 205.5h1.3v1.3h-1.3zM334.6 216.7h1.1v1.1h-1.1zM327.9 202.3h1.8v1.8h-1.8zM330.7 211.0h1.9v1.9h-1.9zM332.6 207.4h0.9v0.9h-0.9zM326.9 202.5h0.9v0.9h-0.9zM331.9 199.1h1.7v1.7h-1.7z" fill="#a8def0"/>
<path d="M351.0 236.7h2.0v2.0h-2.0zM348.0 232.4h1.3v1.3h-1.3zM344.4 242.8h1.6v1.6h-1.6zM346.2 247.4h1.0v1.0h-1.0zM350.0 234.3h1.5v1.5h-1.5zM337.6 242.8h1.0v1.0h-1.0zM348.6 232.5h1.0v1.0h-1.0zM339.4 236.9h1.9v1.9h-1.9zM351.1 235.7h1.6v1.6h-1.6zM345.7 233.9h1.5v1.5h-1.5zM344.8 243.0h1.7v1.7h-1.7zM341.2 239.4h1.0v1.0h-1.0zM341.6 233.4h2.1v2.1h-2.1zM342.2 246.7h1.3v1.3h-1.3zM343.5 235.7h1.3v1.3h-1.3zM334.1 246.6h1.6v1.6h-1.6zM340.1 246.9h1.7v1.7h-1.7zM348.4 245.4h1.4v1.4h-1.4zM341.6 247.6h1.3v1.3h-1.3zM343.7 234.8h1.9v1.9h-1.9zM344.6 237.2h2.1v2.1h-2.1zM345.6 238.8h1.6v1.6h-1.6zM331.7 243.2h1.3v1.3h-1.3zM333.4 239.3h2.1v2.1h-2.1zM335.8 236.1h1.2v1.2h-1.2zM341.0 249.6h1.2v1.2h-1.2zM340.2 235.9h1.8v1.8h-1.8zM342.4 242.3h1.4v1.4h-1.4zM348.1 235.2h1.6v1.6h-1.6zM345.5 238.8h1.2v1.2h-1.2zM339.1 239.0h1.5v1.5h-1.5zM342.6 241.5h2.0v2.0h-2.0zM344.0 247.0h1.8v1.8h-1.8z" fill="#3bb39a"/>
<path d="M342.4 240.6h1.8v1.8h-1.8zM340.7 246.2h2.0v2.0h-2.0zM346.3 247.2h1.6v1.6h-1.6zM346.0 245.1h1.7v1.7h-1.7zM337.8 239.4h1.8v1.8h-1.8zM340.0 240.1h1.1v1.1h-1.1zM346.5 235.5h1.5v1.5h-1.5zM334.1 247.8h1.8v1.8h-1.8zM343.5 247.0h1.3v1.3h-1.3zM335.8 244.5h1.1v1.1h-1.1zM348.0 237.9h1.3v1.3h-1.3zM337.9 245.0h1.5v1.5h-1.5zM340.1 237.7h1.6v1.6h-1.6zM345.0 237.7h1.4v1.4h-1.4zM343.5 238.8h1.1v1.1h-1.1zM337.0 235.3h1.5v1.5h-1.5zM334.1 242.1h1.8v1.8h-1.8zM340.8 247.5h1.0v1.0h-1.0zM345.0 237.9h1.0v1.0h-1.0zM333.7 245.5h1.5v1.5h-1.5zM347.2 236.6h1.6v1.6h-1.6zM341.8 231.9h1.2v1.2h-1.2zM344.8 248.4h2.2v2.2h-2.2zM339.3 247.1h1.4v1.4h-1.4zM340.1 234.6h1.0v1.0h-1.0zM341.2 236.6h1.8v1.8h-1.8zM341.2 238.4h2.2v2.2h-2.2zM334.1 238.3h2.0v2.0h-2.0zM348.5 232.3h1.9v1.9h-1.9zM341.6 234.8h1.6v1.6h-1.6z" fill="#a8e6d6"/>
<path d="M342.5 250.0h1.7v1.7h-1.7zM336.2 240.3h2.1v2.1h-2.1zM344.3 235.5h1.7v1.7h-1.7zM346.7 242.0h1.4v1.4h-1.4zM342.2 238.0h1.2v1.2h-1.2zM340.0 237.7h1.9v1.9h-1.9zM347.6 242.6h1.1v1.1h-1.1zM337.5 232.5h1.5v1.5h-1.5zM336.9 237.6h1.9v1.9h-1.9zM348.1 232.9h1.9v1.9h-1.9zM335.9 249.4h1.6v1.6h-1.6zM334.7 244.0h1.6v1.6h-1.6zM336.0 244.3h1.6v1.6h-1.6zM334.4 234.0h1.2v1.2h-1.2zM347.3 235.6h1.1v1.1h-1.1zM339.3 244.1h1.8v1.8h-1.8zM346.3 246.6h1.3v1.3h-1.3zM343.0 246.8h1.5v1.5h-1.5zM337.8 231.6h1.4v1.4h-1.4zM335.1 236.1h2.2v2.2h-2.2zM333.9 236.4h1.2v1.2h-1.2zM340.0 244.8h2.0v2.0h-2.0zM343.1 231.1h1.9v1.9h-1.9zM342.8 248.2h1.6v1.6h-1.6zM343.1 249.0h2.0v2.0h-2.0zM335.6 246.1h1.8v1.8h-1.8zM336.4 238.6h1.7v1.7h-1.7zM350.4 239.1h1.0v1.0h-1.0zM348.8 240.6h2.2v2.2h-2.2z" fill="#13a585"/>
<path d="M334.9 243.4h2.0v2.0h-2.0zM338.6 233.9h2.0v2.0h-2.0zM341.6 238.4h1.6v1.6h-1.6zM342.4 245.6h1.5v1.5h-1.5zM339.4 235.4h1.8v1.8h-1.8zM340.9 232.9h2.1v2.1h-2.1zM341.4 230.4h1.2v1.2h-1.2zM344.7 240.3h1.3v1.3h-1.3zM337.8 247.8h1.9v1.9h-1.9zM338.3 245.9h2.0v2.0h-2.0zM337.2 238.2h1.5v1.5h-1.5zM335.7 243.0h1.3v1.3h-1.3zM347.6 236.5h1.6v1.6h-1.6zM344.8 240.6h2.1v2.1h-2.1zM339.5 247.8h1.6v1.6h-1.6zM344.9 235.8h1.2v1.2h-1.2zM336.8 237.9h1.5v1.5h-1.5zM346.5 234.9h1.1v1.1h-1.1zM340.5 234.8h1.9v1.9h-1.9zM338.7 241.3h2.2v2.2h-2.2zM348.1 232.0h1.7v1.7h-1.7zM342.5 238.5h2.2v2.2h-2.2zM341.9 249.2h1.8v1.8h-1.8zM344.8 235.6h1.3v1.3h-1.3zM347.1 237.8h2.2v2.2h-2.2zM352.1 237.7h1.8v1.8h-1.8zM349.5 234.4h1.0v1.0h-1.0zM339.2 231.9h1.8v1.8h-1.8z" fill="#7fd6c0"/>
<path d="M336.2 233.1h1.5v1.5h-1.5zM332.9 234.8h1.4v1.4h-1.4zM345.3 231.2h1.7v1.7h-1.7zM339.3 248.5h1.6v1.6h-1.6zM336.0 236.1h1.7v1.7h-1.7zM348.7 240.0h1.9v1.9h-1.9zM343.9 239.8h2.1v2.1h-2.1zM338.1 237.8h1.3v1.3h-1.3zM334.0 240.6h1.6v1.6h-1.6zM336.2 235.2h1.9v1.9h-1.9zM349.3 241.7h2.1v2.1h-2.1zM336.0 240.1h1.7v1.7h-1.7zM342.9 244.2h1.4v1.4h-1.4zM339.0 246.1h2.0v2.0h-2.0zM342.1 235.8h1.8v1.8h-1.8zM338.1 232.0h1.2v1.2h-1.2zM344.0 242.2h1.5v1.5h-1.5zM332.5 238.2h2.1v2.1h-2.1zM338.1 241.3h2.2v2.2h-2.2zM346.7 235.3h1.5v1.5h-1.5zM334.9 237.0h2.2v2.2h-2.2zM338.6 243.1h1.2v1.2h-1.2zM347.2 237.6h1.9v1.9h-1.9zM350.1 238.1h1.4v1.4h-1.4zM346.9 244.1h2.2v2.2h-2.2zM346.3 246.5h1.8v1.8h-1.8zM345.6 240.7h1.3v1.3h-1.3zM340.2 231.6h1.6v1.6h-1.6zM349.3 236.9h1.2v1.2h-1.2zM334.4 236.0h1.0v1.0h-1.0zM344.7 241.6h1.8v1.8h-1.8z" fill="#0c8466"/>
<path d="M336.8 242.4h1.8v1.8h-1.8zM341.0 245.6h1.0v1.0h-1.0zM340.0 241.0h1.5v1.5h-1.5zM337.6 238.9h2.2v2.2h-2.2zM335.7 238.0h1.2v1.2h-1.2zM338.1 238.1h2.1v2.1h-2.1zM334.3 242.5h1.2v1.2h-1.2zM343.2 244.7h2.1v2.1h-2.1zM338.5 248.9h1.7v1.7h-1.7zM348.5 235.5h2.1v2.1h-2.1zM337.3 245.4h1.5v1.5h-1.5zM349.8 233.6h1.4v1.4h-1.4zM340.5 233.2h1.3v1.3h-1.3zM343.3 233.2h2.1v2.1h-2.1zM342.7 244.0h2.2v2.2h-2.2zM340.9 236.6h2.1v2.1h-2.1zM338.7 239.0h1.5v1.5h-1.5zM348.1 241.0h1.1v1.1h-1.1zM339.3 241.4h1.6v1.6h-1.6zM348.4 233.0h2.0v2.0h-2.0zM332.6 240.4h1.9v1.9h-1.9zM341.3 232.7h1.3v1.3h-1.3zM341.0 240.6h1.4v1.4h-1.4zM333.7 248.4h1.8v1.8h-1.8zM336.9 243.9h1.8v1.8h-1.8zM344.0 241.5h1.5v1.5h-1.5zM335.6 246.6h1.4v1.4h-1.4zM345.7 233.3h1.4v1.4h-1.4zM346.7 232.5h1.3v1.3h-1.3zM334.4 241.2h1.5v1.5h-1.5zM345.3 237.0h1.0v1.0h-1.0zM345.9 245.0h1.4v1.4h-1.4zM347.7 237.2h1.2v1.2h-1.2zM347.6 242.2h2.0v2.0h-2.0z" fill="#0f9a7a"/>
<path d="M327.2,193.2C327.9,192.6 329.4,193.2 330.8,194.1C332.3,194.9 334.3,196.5 335.8,198.4C337.2,200.2 338.6,202.7 339.5,205.1C340.5,207.5 341.9,211.4 341.5,212.9C341.1,214.5 338.3,213.1 337.4,214.4C336.4,215.8 335.7,219.0 335.7,221.0C335.7,223.0 337.5,225.4 337.2,226.4C336.9,227.4 335.0,227.9 334.0,226.8C333.1,225.7 332.1,222.1 331.5,219.9C330.9,217.8 330.9,215.9 330.3,213.9C329.7,211.9 328.7,209.8 327.9,208.0C327.0,206.2 326.2,204.8 325.3,203.2C324.3,201.5 322.0,199.0 322.3,198.1C322.5,197.2 325.9,198.5 326.7,197.7C327.5,196.9 326.5,193.8 327.2,193.2Z" stroke="#d3c6cc" stroke-width="0.35" fill="none"/>
<path d="M332.5,233.7C333.7,231.7 335.9,230.6 337.8,229.9C339.7,229.2 342.1,229.1 344.1,229.4C346.1,229.8 348.3,230.7 349.9,232.0C351.5,233.4 353.3,235.4 353.6,237.4C353.9,239.5 352.9,242.2 351.5,244.3C350.1,246.4 347.5,248.8 345.3,250.0C343.1,251.2 340.5,251.8 338.4,251.6C336.4,251.4 334.4,250.5 333.0,248.9C331.7,247.3 330.5,244.6 330.4,242.0C330.3,239.5 331.3,235.7 332.5,233.7Z" stroke="#d3c6cc" stroke-width="0.35" fill="none"/>
<ellipse cx="336" cy="176.6" rx="10.4" ry="11.3" fill="none" stroke="#b9b09a" stroke-width="0.45"/>
<ellipse cx="336" cy="177.2" rx="7.2" ry="8.0" fill="#faf2c4" stroke="#e8cc48" stroke-width="0.8"/>
<ellipse cx="336" cy="178.0" rx="4.0" ry="4.6" fill="none" stroke="#e0c23a" stroke-width="0.5"/>
<path d="M334.8,166.2 l1.8,-0.8 l0.6,1.6 l-1.6,0.8z" fill="#1a9fcf"/>
<text x="336.00" y="180.60" font-size="4.6" text-anchor="middle" fill="#222">Act</text>
<ellipse cx="279.2" cy="196.3" rx="10.2" ry="10.6" transform="rotate(25 279.2 196.3)" fill="none" stroke="#b8b0b8" stroke-width="0.45"/>
<path d="M279.6,188.4 C284.2,188.2 286.6,191.8 286.2,196.2 C285.8,200.6 282.6,205.4 279.2,205.6 C275.6,205.8 273.4,201.2 273.6,197.0 C273.8,192.4 275.6,188.6 279.6,188.4 Z" fill="#f3a722"/>
<path d="M279.6,191.0 C282.6,191.0 284.0,193.6 283.6,196.6 C283.2,199.6 281.4,202.6 279.4,202.8 C277.2,203.0 276.0,200.0 276.2,197.2 C276.4,194.0 277.4,191.0 279.6,191.0 Z" fill="#f6b844" stroke="#e0900e" stroke-width="0.5"/>
<ellipse cx="279.6" cy="196.8" rx="1.6" ry="2.6" fill="none" stroke="#e0900e" stroke-width="0.5"/>
<path d="M283.4,185.6 L288.6,180.2" stroke="#f2b640" stroke-width="1.1" stroke-linecap="round"/>
<ellipse cx="276.4" cy="233.2" rx="9.0" ry="8.8" transform="rotate(20 276.4 233.2)" fill="none" stroke="#d8c8b0" stroke-width="0.45"/>
<ellipse cx="276.4" cy="233.2" rx="7.6" ry="7.2" transform="rotate(20 276.4 233.2)" fill="#f8cf78" stroke="#eeae3c" stroke-width="0.7"/>
<ellipse cx="276.4" cy="233.2" rx="5.4" ry="5.0" transform="rotate(20 276.4 233.2)" fill="#f5bd55" stroke="#e89a1c" stroke-width="0.6"/>
<ellipse cx="276.4" cy="233.2" rx="3.0" ry="2.6" transform="rotate(20 276.4 233.2)" fill="none" stroke="#e89a1c" stroke-width="0.6"/>
<text x="279.20" y="210.60" font-size="4.6" text-anchor="middle" fill="#222">Naive</text>
<text x="315.80" y="192.40" font-size="4.6" text-anchor="middle" fill="#222">Early Tm</text>
<text x="332.50" y="207.40" font-size="4.6" text-anchor="middle" fill="#222">Int</text>
<text x="340.50" y="241.20" font-size="4.6" text-anchor="middle" fill="#222">Term/SenL</text>
<circle cx="303" cy="203" r="0.5" fill="#e8d9a0"/></g>
<text x="420.30" y="160.20" font-size="8.2" text-anchor="middle" fill="#222" textLength="31.7" lengthAdjust="spacingAndGlyphs">Res_bas</text>
<g transform="translate(107.5,0)"><path d="M308.3,176.0C309.2,175.4 310.9,179.5 313.1,181.9C315.3,184.3 318.4,188.4 321.4,190.2C324.4,192.0 328.4,191.4 331.0,192.6C333.6,193.8 335.2,195.4 336.9,197.4C338.6,199.4 340.0,201.7 341.1,204.5C342.2,207.3 344.0,212.0 343.5,214.0C343.0,216.0 339.2,215.0 338.1,216.4C337.0,217.8 336.7,220.8 336.9,222.4C337.1,224.0 337.7,225.4 339.3,226.0C340.9,226.6 344.2,225.0 346.4,226.0C348.6,227.0 351.1,229.7 352.4,231.9C353.7,234.1 354.2,236.6 354.2,239.0C354.2,241.4 353.5,244.0 352.4,246.2C351.3,248.4 349.8,250.9 347.6,252.1C345.4,253.3 341.9,253.7 339.3,253.3C336.7,252.9 333.8,251.6 332.1,249.8C330.4,248.0 329.4,244.8 329.2,242.6C329.0,240.4 330.4,238.5 331.0,236.7C331.6,234.9 332.5,233.7 332.7,231.9C332.9,230.1 332.6,228.0 332.1,226.0C331.6,224.0 330.4,222.0 329.8,220.0C329.2,218.0 329.2,216.0 328.6,214.0C328.0,212.0 327.0,209.9 326.2,208.1C325.4,206.3 325.2,205.1 323.8,203.3C322.4,201.5 320.1,199.2 317.9,197.4C315.7,195.6 312.4,194.6 310.7,192.6C309.0,190.6 308.1,188.3 307.7,185.5C307.3,182.7 307.4,176.6 308.3,176.0Z" stroke="#b9b3b0" stroke-width="0.45" fill="#f3fafc"/>
<path d="M320.2 196.2h1.0v1.0h-1.0zM322.0 195.7h1.9v1.9h-1.9zM316.7 191.4h1.4v1.4h-1.4zM319.4 193.0h0.8v0.8h-0.8zM311.5 187.1h1.3v1.3h-1.3zM316.1 194.4h0.9v0.9h-0.9zM325.4 196.6h1.9v1.9h-1.9z" fill="#2ab1dc"/>
<path d="M321.1 193.9h1.2v1.2h-1.2zM313.8 185.9h1.9v1.9h-1.9zM312.4 191.9h1.4v1.4h-1.4zM317.0 189.6h1.2v1.2h-1.2zM326.6 196.1h1.3v1.3h-1.3zM313.9 187.9h1.0v1.0h-1.0zM326.1 196.5h1.9v1.9h-1.9zM326.6 194.6h1.2v1.2h-1.2zM314.9 191.3h1.6v1.6h-1.6zM310.0 180.8h1.9v1.9h-1.9zM324.3 195.7h1.3v1.3h-1.3zM319.8 194.8h0.9v0.9h-0.9zM314.5 188.9h1.0v1.0h-1.0zM315.1 189.0h1.7v1.7h-1.7zM310.4 187.7h0.9v0.9h-0.9z" fill="#7fd0ea"/>
<path d="M319.0 196.4h0.9v0.9h-0.9zM311.8 181.4h1.8v1.8h-1.8zM315.2 187.7h1.8v1.8h-1.8zM310.7 180.4h0.9v0.9h-0.9zM312.8 183.1h1.9v1.9h-1.9zM312.8 185.5h1.1v1.1h-1.1zM318.1 192.7h1.6v1.6h-1.6zM321.8 196.9h1.1v1.1h-1.1zM322.0 196.4h1.9v1.9h-1.9zM309.2 184.5h1.2v1.2h-1.2zM324.3 195.6h1.4v1.4h-1.4zM319.0 196.3h1.9v1.9h-1.9zM314.2 191.2h1.6v1.6h-1.6z" fill="#48bfe3"/>
<path d="M315.2 189.6h1.6v1.6h-1.6zM313.6 192.5h0.9v0.9h-0.9zM310.9 181.3h1.0v1.0h-1.0zM312.4 188.5h1.2v1.2h-1.2zM324.4 195.0h0.9v0.9h-0.9zM322.5 191.9h1.7v1.7h-1.7zM322.1 196.8h1.1v1.1h-1.1zM324.4 193.6h1.4v1.4h-1.4zM317.7 188.9h0.9v0.9h-0.9zM319.5 191.6h1.8v1.8h-1.8zM311.5 181.3h1.4v1.4h-1.4zM311.0 184.1h1.0v1.0h-1.0zM318.4 188.6h1.3v1.3h-1.3zM326.6 196.6h1.0v1.0h-1.0zM310.7 187.4h1.4v1.4h-1.4zM309.6 182.8h1.5v1.5h-1.5zM311.4 189.4h1.3v1.3h-1.3zM316.1 187.7h1.4v1.4h-1.4zM309.6 181.5h1.0v1.0h-1.0zM311.6 184.0h1.4v1.4h-1.4z" fill="#a8def0"/>
<path d="M325.6 194.0h1.3v1.3h-1.3zM326.1 193.2h0.9v0.9h-0.9zM324.4 192.4h1.0v1.0h-1.0zM314.0 189.0h1.4v1.4h-1.4zM323.2 193.5h2.0v2.0h-2.0zM310.1 181.3h1.6v1.6h-1.6zM323.3 192.1h1.7v1.7h-1.7z" fill="#1b9fd0"/>
<path d="M325.2 201.8h1.8v1.8h-1.8zM328.2 199.3h1.9v1.9h-1.9zM331.7 206.1h0.9v0.9h-0.9zM332.6 212.7h1.9v1.9h-1.9zM337.3 204.3h1.1v1.1h-1.1zM330.6 206.5h0.9v0.9h-0.9zM340.3 210.0h1.5v1.5h-1.5zM337.6 212.9h1.1v1.1h-1.1zM333.5 215.6h1.8v1.8h-1.8zM335.8 199.0h0.9v0.9h-0.9zM337.8 214.1h1.4v1.4h-1.4zM333.0 208.7h1.7v1.7h-1.7zM332.8 210.5h0.9v0.9h-0.9zM330.8 211.5h1.9v1.9h-1.9zM325.7 201.1h1.9v1.9h-1.9zM334.3 218.4h1.6v1.6h-1.6zM334.9 202.0h1.2v1.2h-1.2zM339.1 204.6h1.0v1.0h-1.0zM333.4 222.9h2.0v2.0h-2.0zM335.6 214.3h1.4v1.4h-1.4zM335.4 201.7h1.5v1.5h-1.5zM328.5 208.1h1.5v1.5h-1.5zM334.0 216.2h0.9v0.9h-0.9zM334.0 207.3h1.3v1.3h-1.3zM330.8 203.0h1.3v1.3h-1.3zM328.3 198.7h1.7v1.7h-1.7zM331.8 214.9h1.1v1.1h-1.1zM329.4 207.0h1.0v1.0h-1.0zM331.4 199.9h1.9v1.9h-1.9z" fill="#1679b0"/>
<path d="M334.3 197.3h1.3v1.3h-1.3zM330.1 206.4h1.5v1.5h-1.5zM323.7 199.2h1.5v1.5h-1.5zM325.8 201.6h1.5v1.5h-1.5zM329.7 208.9h1.1v1.1h-1.1zM334.9 200.7h1.4v1.4h-1.4zM333.0 207.9h1.9v1.9h-1.9zM329.2 200.8h1.8v1.8h-1.8zM335.5 225.0h0.9v0.9h-0.9zM327.7 205.1h1.4v1.4h-1.4zM324.8 199.9h1.7v1.7h-1.7zM328.3 196.9h1.9v1.9h-1.9zM330.1 213.0h1.4v1.4h-1.4zM334.0 199.9h1.4v1.4h-1.4zM324.9 198.5h1.8v1.8h-1.8zM333.0 204.5h1.0v1.0h-1.0zM333.3 215.9h1.3v1.3h-1.3zM339.0 205.7h0.9v0.9h-0.9zM334.8 209.2h0.9v0.9h-0.9zM324.8 198.5h1.8v1.8h-1.8zM327.0 203.7h1.9v1.9h-1.9zM337.0 200.7h1.2v1.2h-1.2z" fill="#1e95c8"/>
<path d="M339.5 210.0h1.1v1.1h-1.1zM334.2 197.0h1.4v1.4h-1.4zM328.3 202.3h0.9v0.9h-0.9zM337.5 201.3h1.6v1.6h-1.6zM332.5 209.8h1.9v1.9h-1.9zM338.0 207.3h0.9v0.9h-0.9zM335.7 216.5h1.3v1.3h-1.3zM335.8 204.5h1.8v1.8h-1.8zM330.2 198.9h1.0v1.0h-1.0zM330.8 217.4h1.3v1.3h-1.3zM333.5 215.3h0.9v0.9h-0.9zM340.3 213.5h1.7v1.7h-1.7zM333.1 196.4h1.1v1.1h-1.1zM337.2 212.2h1.3v1.3h-1.3zM333.7 200.8h1.1v1.1h-1.1zM327.7 202.7h1.0v1.0h-1.0zM335.8 224.4h1.5v1.5h-1.5zM330.0 212.2h1.7v1.7h-1.7zM334.3 224.1h1.0v1.0h-1.0zM333.3 196.3h1.7v1.7h-1.7zM334.9 209.0h1.8v1.8h-1.8zM332.8 202.6h1.5v1.5h-1.5zM328.7 207.3h1.4v1.4h-1.4zM337.5 207.7h1.6v1.6h-1.6zM333.1 202.1h1.8v1.8h-1.8zM333.7 214.6h1.9v1.9h-1.9z" fill="#2ab1dc"/>
<path d="M332.4 202.8h1.2v1.2h-1.2zM329.0 210.9h1.3v1.3h-1.3zM331.4 207.1h1.7v1.7h-1.7zM328.6 193.7h1.5v1.5h-1.5zM336.0 212.1h1.0v1.0h-1.0zM333.6 220.5h1.9v1.9h-1.9zM327.4 205.2h1.4v1.4h-1.4zM329.1 211.7h1.5v1.5h-1.5zM337.1 209.1h1.6v1.6h-1.6zM338.8 208.9h1.1v1.1h-1.1zM332.8 222.9h1.7v1.7h-1.7zM331.0 206.5h1.1v1.1h-1.1zM328.5 198.0h1.6v1.6h-1.6zM331.6 194.5h1.8v1.8h-1.8zM324.2 199.8h1.0v1.0h-1.0zM329.4 198.1h1.7v1.7h-1.7zM339.1 205.3h1.6v1.6h-1.6zM335.0 207.8h1.2v1.2h-1.2zM327.2 205.4h1.1v1.1h-1.1zM332.5 197.4h1.6v1.6h-1.6zM329.4 207.5h1.1v1.1h-1.1zM331.4 202.0h1.9v1.9h-1.9zM325.1 202.0h1.0v1.0h-1.0zM330.4 195.6h0.9v0.9h-0.9zM332.0 197.8h1.4v1.4h-1.4zM323.5 200.7h1.5v1.5h-1.5zM333.8 213.9h1.7v1.7h-1.7zM332.5 214.4h1.1v1.1h-1.1z" fill="#a8def0"/>
<path d="M330.1 201.0h1.9v1.9h-1.9zM334.2 222.5h1.4v1.4h-1.4zM334.4 211.7h1.6v1.6h-1.6zM332.0 220.2h1.8v1.8h-1.8zM333.8 226.9h1.3v1.3h-1.3zM333.5 220.9h0.9v0.9h-0.9zM328.7 205.4h1.1v1.1h-1.1zM337.7 209.8h1.2v1.2h-1.2zM332.7 206.5h1.0v1.0h-1.0zM336.6 202.0h0.9v0.9h-0.9zM328.8 208.0h1.0v1.0h-1.0zM329.7 210.1h1.3v1.3h-1.3zM327.6 203.1h0.9v0.9h-0.9zM336.9 208.2h1.5v1.5h-1.5zM336.7 201.2h1.1v1.1h-1.1zM334.5 215.1h1.9v1.9h-1.9zM331.2 209.1h1.1v1.1h-1.1zM333.1 201.2h1.4v1.4h-1.4zM333.9 216.3h1.3v1.3h-1.3zM340.2 209.5h1.6v1.6h-1.6zM335.4 200.3h1.0v1.0h-1.0zM331.8 203.4h1.1v1.1h-1.1zM334.2 203.9h1.9v1.9h-1.9zM338.0 203.4h0.9v0.9h-0.9z" fill="#5ac0e0"/>
<path d="M345.1 246.9h1.6v1.6h-1.6zM341.0 242.6h1.4v1.4h-1.4zM342.4 239.2h2.2v2.2h-2.2zM345.2 239.9h1.8v1.8h-1.8zM340.4 249.8h1.0v1.0h-1.0zM338.0 237.7h2.0v2.0h-2.0zM337.7 239.5h1.1v1.1h-1.1zM336.4 245.4h1.5v1.5h-1.5zM342.0 246.3h1.5v1.5h-1.5zM341.8 237.9h1.8v1.8h-1.8zM343.2 240.4h1.5v1.5h-1.5zM343.8 248.8h1.1v1.1h-1.1zM349.0 239.1h1.2v1.2h-1.2zM333.7 239.4h1.7v1.7h-1.7zM343.1 239.3h2.2v2.2h-2.2zM346.5 233.6h1.7v1.7h-1.7zM334.7 247.6h1.4v1.4h-1.4zM340.2 244.5h1.6v1.6h-1.6zM341.2 238.0h1.6v1.6h-1.6zM339.1 250.0h1.4v1.4h-1.4zM338.8 231.7h1.0v1.0h-1.0zM349.8 234.7h1.6v1.6h-1.6zM340.5 248.2h1.9v1.9h-1.9zM340.8 244.3h2.1v2.1h-2.1zM336.7 243.6h1.9v1.9h-1.9zM348.3 242.5h1.1v1.1h-1.1zM340.7 248.6h1.0v1.0h-1.0zM351.5 236.3h1.7v1.7h-1.7zM347.9 236.1h1.9v1.9h-1.9zM345.3 240.2h1.6v1.6h-1.6z" fill="#0c8466"/>
<path d="M332.8 245.7h1.0v1.0h-1.0zM343.6 243.2h1.4v1.4h-1.4zM344.1 241.9h1.7v1.7h-1.7zM337.3 247.8h2.0v2.0h-2.0zM334.4 241.0h1.4v1.4h-1.4zM332.3 244.4h1.4v1.4h-1.4zM337.6 237.2h2.2v2.2h-2.2zM343.0 238.4h1.6v1.6h-1.6zM349.2 241.3h2.1v2.1h-2.1zM341.2 249.5h2.2v2.2h-2.2zM341.4 239.1h1.4v1.4h-1.4zM341.1 243.5h1.9v1.9h-1.9zM332.3 238.3h1.9v1.9h-1.9zM341.1 230.3h1.7v1.7h-1.7zM344.1 247.9h2.2v2.2h-2.2zM342.5 235.6h1.4v1.4h-1.4zM333.9 245.7h2.0v2.0h-2.0zM334.5 241.9h1.5v1.5h-1.5zM348.8 240.1h2.2v2.2h-2.2zM333.8 245.1h1.7v1.7h-1.7zM332.1 242.9h1.5v1.5h-1.5zM349.6 233.4h1.5v1.5h-1.5zM338.6 248.1h1.1v1.1h-1.1zM336.6 249.0h1.1v1.1h-1.1zM350.5 242.0h1.1v1.1h-1.1zM343.3 238.6h1.2v1.2h-1.2zM342.6 245.3h1.3v1.3h-1.3zM343.1 233.5h1.7v1.7h-1.7zM344.3 249.6h1.3v1.3h-1.3zM344.6 232.1h1.7v1.7h-1.7zM339.1 239.1h1.3v1.3h-1.3zM345.1 242.6h2.0v2.0h-2.0zM341.4 233.0h1.6v1.6h-1.6zM341.8 248.7h1.2v1.2h-1.2zM338.0 245.8h1.3v1.3h-1.3zM341.6 233.5h1.8v1.8h-1.8zM337.0 241.5h1.0v1.0h-1.0zM344.2 235.7h1.8v1.8h-1.8zM340.6 238.4h1.1v1.1h-1.1z" fill="#7fd6c0"/>
<path d="M338.9 249.4h1.7v1.7h-1.7zM347.9 242.4h1.2v1.2h-1.2zM345.5 239.2h1.9v1.9h-1.9zM348.5 240.6h2.1v2.1h-2.1zM336.9 238.2h2.1v2.1h-2.1zM347.6 240.3h1.8v1.8h-1.8zM349.9 241.1h1.3v1.3h-1.3zM345.4 236.2h1.0v1.0h-1.0zM333.0 234.4h2.2v2.2h-2.2zM346.8 239.9h1.4v1.4h-1.4zM341.7 248.8h1.5v1.5h-1.5zM345.9 244.0h1.5v1.5h-1.5zM347.7 238.0h2.0v2.0h-2.0zM339.7 235.8h2.1v2.1h-2.1zM343.7 245.6h1.1v1.1h-1.1zM340.0 248.8h2.2v2.2h-2.2zM339.5 231.5h1.0v1.0h-1.0zM341.0 239.0h2.2v2.2h-2.2zM343.4 234.4h2.1v2.1h-2.1zM349.2 232.8h1.6v1.6h-1.6zM340.8 230.6h1.3v1.3h-1.3zM333.8 236.8h1.2v1.2h-1.2zM332.2 239.3h1.3v1.3h-1.3zM344.9 233.4h1.6v1.6h-1.6zM344.7 247.3h1.5v1.5h-1.5zM347.7 235.4h1.2v1.2h-1.2zM345.5 233.8h1.2v1.2h-1.2zM346.1 234.5h1.1v1.1h-1.1zM341.7 247.6h1.7v1.7h-1.7zM351.0 239.4h2.0v2.0h-2.0zM334.9 243.0h1.7v1.7h-1.7zM338.4 235.3h2.2v2.2h-2.2z" fill="#a8e6d6"/>
<path d="M333.8 247.0h1.2v1.2h-1.2zM343.7 248.8h1.9v1.9h-1.9zM336.7 244.2h1.7v1.7h-1.7zM336.1 245.2h1.2v1.2h-1.2zM339.3 239.9h1.9v1.9h-1.9zM335.4 246.9h1.5v1.5h-1.5zM343.9 236.7h2.1v2.1h-2.1zM350.0 240.7h1.3v1.3h-1.3zM339.1 239.6h1.4v1.4h-1.4zM348.1 235.8h1.5v1.5h-1.5zM349.1 241.9h2.1v2.1h-2.1zM344.0 232.8h1.8v1.8h-1.8zM338.8 237.1h1.4v1.4h-1.4zM343.2 249.3h2.2v2.2h-2.2zM344.2 238.9h1.4v1.4h-1.4zM342.7 234.8h1.6v1.6h-1.6zM336.6 247.3h1.7v1.7h-1.7zM346.1 236.2h1.9v1.9h-1.9zM339.1 234.0h1.1v1.1h-1.1zM344.4 248.4h1.3v1.3h-1.3zM351.3 241.4h2.0v2.0h-2.0zM349.7 234.7h1.6v1.6h-1.6zM335.8 237.3h1.5v1.5h-1.5zM337.0 243.0h2.2v2.2h-2.2zM343.6 241.4h1.2v1.2h-1.2zM341.3 234.0h2.0v2.0h-2.0zM344.7 238.1h1.1v1.1h-1.1zM345.7 241.8h2.1v2.1h-2.1zM339.1 236.0h1.7v1.7h-1.7zM347.3 231.9h1.0v1.0h-1.0z" fill="#0f9a7a"/>
<path d="M345.4 240.6h1.5v1.5h-1.5zM349.4 238.0h1.6v1.6h-1.6zM335.6 232.5h1.5v1.5h-1.5zM346.4 245.6h1.1v1.1h-1.1zM349.1 245.0h1.0v1.0h-1.0zM339.8 235.1h1.1v1.1h-1.1zM349.7 234.5h1.3v1.3h-1.3zM346.3 234.7h1.1v1.1h-1.1zM350.4 238.2h1.2v1.2h-1.2zM341.1 239.2h1.3v1.3h-1.3zM347.6 240.1h1.9v1.9h-1.9zM332.7 238.9h1.1v1.1h-1.1zM340.5 247.7h1.7v1.7h-1.7zM331.3 242.1h1.2v1.2h-1.2zM348.0 242.2h1.3v1.3h-1.3zM333.2 246.3h2.1v2.1h-2.1zM336.4 243.5h1.9v1.9h-1.9zM336.0 235.9h1.0v1.0h-1.0zM334.4 247.0h1.2v1.2h-1.2zM340.7 234.4h1.5v1.5h-1.5zM351.1 239.1h2.2v2.2h-2.2z" fill="#13a585"/>
<path d="M334.5 241.1h2.0v2.0h-2.0zM344.4 247.3h1.1v1.1h-1.1zM337.8 239.2h1.2v1.2h-1.2zM338.2 243.7h1.6v1.6h-1.6zM340.6 239.6h2.0v2.0h-2.0zM339.8 231.6h1.1v1.1h-1.1zM334.5 235.0h1.7v1.7h-1.7zM334.6 238.8h2.0v2.0h-2.0zM347.0 244.2h2.2v2.2h-2.2zM332.1 240.0h1.0v1.0h-1.0zM342.6 230.7h1.3v1.3h-1.3zM334.8 242.2h2.2v2.2h-2.2zM342.0 233.8h1.5v1.5h-1.5zM341.2 234.3h1.5v1.5h-1.5zM343.1 231.1h1.7v1.7h-1.7zM341.2 248.8h1.9v1.9h-1.9zM333.9 236.5h1.0v1.0h-1.0zM338.2 233.7h1.4v1.4h-1.4zM348.0 242.2h1.6v1.6h-1.6zM348.1 240.2h1.2v1.2h-1.2zM335.1 239.0h1.0v1.0h-1.0zM337.5 240.6h2.1v2.1h-2.1zM349.1 235.1h2.0v2.0h-2.0zM336.8 241.4h1.6v1.6h-1.6zM348.7 242.7h1.5v1.5h-1.5zM337.7 233.0h1.6v1.6h-1.6zM343.5 231.4h2.2v2.2h-2.2zM349.8 239.6h2.0v2.0h-2.0zM339.7 249.5h1.2v1.2h-1.2zM343.1 231.0h2.2v2.2h-2.2zM331.1 241.9h1.4v1.4h-1.4zM344.4 243.1h2.1v2.1h-2.1zM334.9 240.4h1.0v1.0h-1.0z" fill="#3bb39a"/>
<path d="M327.2,193.2C327.9,192.6 329.4,193.2 330.8,194.1C332.3,194.9 334.3,196.5 335.8,198.4C337.2,200.2 338.6,202.7 339.5,205.1C340.5,207.5 341.9,211.4 341.5,212.9C341.1,214.5 338.3,213.1 337.4,214.4C336.4,215.8 335.7,219.0 335.7,221.0C335.7,223.0 337.5,225.4 337.2,226.4C336.9,227.4 335.0,227.9 334.0,226.8C333.1,225.7 332.1,222.1 331.5,219.9C330.9,217.8 330.9,215.9 330.3,213.9C329.7,211.9 328.7,209.8 327.9,208.0C327.0,206.2 326.2,204.8 325.3,203.2C324.3,201.5 322.0,199.0 322.3,198.1C322.5,197.2 325.9,198.5 326.7,197.7C327.5,196.9 326.5,193.8 327.2,193.2Z" stroke="#d3c6cc" stroke-width="0.35" fill="none"/>
<path d="M332.5,233.7C333.7,231.7 335.9,230.6 337.8,229.9C339.7,229.2 342.1,229.1 344.1,229.4C346.1,229.8 348.3,230.7 349.9,232.0C351.5,233.4 353.3,235.4 353.6,237.4C353.9,239.5 352.9,242.2 351.5,244.3C350.1,246.4 347.5,248.8 345.3,250.0C343.1,251.2 340.5,251.8 338.4,251.6C336.4,251.4 334.4,250.5 333.0,248.9C331.7,247.3 330.5,244.6 330.4,242.0C330.3,239.5 331.3,235.7 332.5,233.7Z" stroke="#d3c6cc" stroke-width="0.35" fill="none"/>
<ellipse cx="336" cy="176.8" rx="8.6" ry="9.4" fill="#faf2c4" stroke="#b9b09a" stroke-width="0.45"/>
<ellipse cx="336" cy="177.4" rx="6.2" ry="7.0" fill="none" stroke="#e6c93c" stroke-width="0.8"/>
<ellipse cx="336" cy="178.0" rx="4.0" ry="4.6" fill="none" stroke="#e0c23a" stroke-width="0.5"/>
<path d="M334.8,166.2 l1.8,-0.8 l0.6,1.6 l-1.6,0.8z" fill="#1a9fcf"/>
<text x="336.00" y="180.60" font-size="4.6" text-anchor="middle" fill="#222">Act</text>
<ellipse cx="279.2" cy="196.3" rx="10.2" ry="10.6" transform="rotate(25 279.2 196.3)" fill="none" stroke="#b8b0b8" stroke-width="0.45"/>
<path d="M279.6,188.4 C284.2,188.2 286.6,191.8 286.2,196.2 C285.8,200.6 282.6,205.4 279.2,205.6 C275.6,205.8 273.4,201.2 273.6,197.0 C273.8,192.4 275.6,188.6 279.6,188.4 Z" fill="#f3a722"/>
<path d="M279.6,191.0 C282.6,191.0 284.0,193.6 283.6,196.6 C283.2,199.6 281.4,202.6 279.4,202.8 C277.2,203.0 276.0,200.0 276.2,197.2 C276.4,194.0 277.4,191.0 279.6,191.0 Z" fill="#f6b844" stroke="#e0900e" stroke-width="0.5"/>
<ellipse cx="279.6" cy="196.8" rx="1.6" ry="2.6" fill="none" stroke="#e0900e" stroke-width="0.5"/>
<path d="M283.4,185.6 L288.6,180.2" stroke="#f2b640" stroke-width="1.1" stroke-linecap="round"/>
<ellipse cx="276.4" cy="233.2" rx="9.0" ry="8.8" transform="rotate(20 276.4 233.2)" fill="none" stroke="#d8c8b0" stroke-width="0.45"/>
<ellipse cx="276.4" cy="233.2" rx="7.6" ry="7.2" transform="rotate(20 276.4 233.2)" fill="#f8cf78" stroke="#eeae3c" stroke-width="0.7"/>
<ellipse cx="276.4" cy="233.2" rx="5.4" ry="5.0" transform="rotate(20 276.4 233.2)" fill="#f5bd55" stroke="#e89a1c" stroke-width="0.6"/>
<ellipse cx="276.4" cy="233.2" rx="3.0" ry="2.6" transform="rotate(20 276.4 233.2)" fill="none" stroke="#e89a1c" stroke-width="0.6"/>
<text x="279.20" y="219.00" font-size="4.6" text-anchor="middle" fill="#222">Naive</text>
<text x="315.80" y="192.40" font-size="4.6" text-anchor="middle" fill="#222">Early Tm</text>
<text x="332.50" y="207.40" font-size="4.6" text-anchor="middle" fill="#222">Int</text>
<text x="340.50" y="241.20" font-size="4.6" text-anchor="middle" fill="#222">Term/SenL</text>
<circle cx="303" cy="203" r="0.5" fill="#e8d9a0"/></g>
<text x="315.40" y="268.80" font-size="8.2" text-anchor="middle" fill="#222" textLength="56.5" lengthAdjust="spacingAndGlyphs">NonRes_post</text>
<g transform="translate(0.5,108.8)"><path d="M308.3,176.0C309.2,175.4 310.9,179.5 313.1,181.9C315.3,184.3 318.4,188.4 321.4,190.2C324.4,192.0 328.4,191.4 331.0,192.6C333.6,193.8 335.2,195.4 336.9,197.4C338.6,199.4 340.0,201.7 341.1,204.5C342.2,207.3 344.0,212.0 343.5,214.0C343.0,216.0 339.2,215.0 338.1,216.4C337.0,217.8 336.7,220.8 336.9,222.4C337.1,224.0 337.7,225.4 339.3,226.0C340.9,226.6 344.2,225.0 346.4,226.0C348.6,227.0 351.1,229.7 352.4,231.9C353.7,234.1 354.2,236.6 354.2,239.0C354.2,241.4 353.5,244.0 352.4,246.2C351.3,248.4 349.8,250.9 347.6,252.1C345.4,253.3 341.9,253.7 339.3,253.3C336.7,252.9 333.8,251.6 332.1,249.8C330.4,248.0 329.4,244.8 329.2,242.6C329.0,240.4 330.4,238.5 331.0,236.7C331.6,234.9 332.5,233.7 332.7,231.9C332.9,230.1 332.6,228.0 332.1,226.0C331.6,224.0 330.4,222.0 329.8,220.0C329.2,218.0 329.2,216.0 328.6,214.0C328.0,212.0 327.0,209.9 326.2,208.1C325.4,206.3 325.2,205.1 323.8,203.3C322.4,201.5 320.1,199.2 317.9,197.4C315.7,195.6 312.4,194.6 310.7,192.6C309.0,190.6 308.1,188.3 307.7,185.5C307.3,182.7 307.4,176.6 308.3,176.0Z" stroke="#b9b3b0" stroke-width="0.45" fill="#f3fafc"/>
<path d="M309.8 184.0h1.8v1.8h-1.8zM313.2 185.1h1.6v1.6h-1.6zM316.9 188.5h1.7v1.7h-1.7zM325.6 192.5h1.1v1.1h-1.1zM312.8 184.8h1.2v1.2h-1.2zM322.0 197.4h1.6v1.6h-1.6zM311.6 185.4h1.1v1.1h-1.1zM315.2 192.1h1.9v1.9h-1.9zM311.6 189.3h1.1v1.1h-1.1zM319.2 193.8h1.4v1.4h-1.4zM317.0 191.3h1.4v1.4h-1.4zM326.2 194.8h1.6v1.6h-1.6zM312.1 187.9h1.1v1.1h-1.1z" fill="#7fd0ea"/>
<path d="M320.0 192.4h1.5v1.5h-1.5zM324.2 192.9h1.9v1.9h-1.9zM314.0 190.5h1.5v1.5h-1.5zM312.6 183.0h1.5v1.5h-1.5zM314.9 192.7h1.3v1.3h-1.3zM319.1 195.4h1.4v1.4h-1.4zM315.2 189.4h1.7v1.7h-1.7zM321.6 194.3h1.5v1.5h-1.5zM315.8 186.8h1.5v1.5h-1.5zM311.5 191.2h1.6v1.6h-1.6zM321.1 193.0h1.6v1.6h-1.6zM318.5 191.4h1.2v1.2h-1.2z" fill="#48bfe3"/>
<path d="M314.8 185.7h1.1v1.1h-1.1zM322.3 197.8h1.0v1.0h-1.0zM319.4 195.6h1.1v1.1h-1.1zM316.6 189.7h1.7v1.7h-1.7zM311.6 190.4h1.3v1.3h-1.3zM313.2 183.7h1.8v1.8h-1.8zM317.7 193.8h1.4v1.4h-1.4zM313.2 188.5h1.8v1.8h-1.8zM320.3 193.5h1.5v1.5h-1.5zM313.0 186.1h1.3v1.3h-1.3zM315.9 194.5h1.6v1.6h-1.6zM318.4 195.4h1.4v1.4h-1.4zM318.9 192.5h1.4v1.4h-1.4z" fill="#2ab1dc"/>
<path d="M322.5 197.9h1.1v1.1h-1.1zM313.6 185.8h1.6v1.6h-1.6zM314.6 188.3h1.8v1.8h-1.8zM310.7 187.6h1.7v1.7h-1.7zM326.5 193.7h1.7v1.7h-1.7zM311.3 189.8h1.1v1.1h-1.1zM311.7 191.0h1.7v1.7h-1.7zM310.1 185.0h1.3v1.3h-1.3zM318.4 195.0h1.2v1.2h-1.2z" fill="#1b9fd0"/>
<path d="M325.1 193.8h1.3v1.3h-1.3zM311.5 191.4h1.5v1.5h-1.5zM310.7 180.1h1.1v1.1h-1.1zM318.1 193.9h1.0v1.0h-1.0zM316.4 190.5h1.6v1.6h-1.6zM316.3 194.8h1.3v1.3h-1.3zM324.5 195.8h1.4v1.4h-1.4zM320.3 193.0h1.7v1.7h-1.7zM320.1 197.0h1.9v1.9h-1.9zM322.8 197.7h1.5v1.5h-1.5zM312.3 185.5h1.3v1.3h-1.3zM326.3 195.5h2.0v2.0h-2.0zM321.6 192.7h1.0v1.0h-1.0zM319.9 192.5h1.9v1.9h-1.9zM320.8 196.6h1.7v1.7h-1.7z" fill="#a8def0"/>
<path d="M331.1 209.8h1.2v1.2h-1.2zM335.2 224.5h1.9v1.9h-1.9zM322.7 198.5h1.7v1.7h-1.7zM340.7 210.9h1.0v1.0h-1.0zM335.2 207.9h1.8v1.8h-1.8zM335.2 224.7h1.7v1.7h-1.7zM331.2 203.1h1.5v1.5h-1.5zM329.1 207.8h0.9v0.9h-0.9zM330.6 205.7h1.9v1.9h-1.9zM332.1 211.3h1.4v1.4h-1.4zM335.8 222.5h1.7v1.7h-1.7zM333.0 200.9h1.4v1.4h-1.4zM328.7 196.9h1.7v1.7h-1.7zM329.3 210.9h1.1v1.1h-1.1zM332.0 203.4h1.7v1.7h-1.7zM327.5 196.4h1.2v1.2h-1.2zM332.1 210.3h1.5v1.5h-1.5zM330.2 204.3h1.5v1.5h-1.5zM338.2 213.5h1.4v1.4h-1.4zM335.4 200.8h0.9v0.9h-0.9zM333.2 205.9h1.8v1.8h-1.8zM330.7 200.5h0.9v0.9h-0.9zM341.1 212.7h1.4v1.4h-1.4zM329.3 205.5h1.9v1.9h-1.9zM333.6 212.5h1.8v1.8h-1.8zM335.5 224.3h1.7v1.7h-1.7zM330.7 194.3h1.3v1.3h-1.3zM334.7 200.0h1.7v1.7h-1.7z" fill="#2ab1dc"/>
<path d="M334.9 208.8h1.9v1.9h-1.9zM330.8 214.7h1.5v1.5h-1.5zM337.1 203.2h1.2v1.2h-1.2zM333.6 206.6h1.7v1.7h-1.7zM329.6 205.3h1.7v1.7h-1.7zM331.9 220.3h1.9v1.9h-1.9zM331.9 203.6h1.6v1.6h-1.6zM335.5 213.8h1.0v1.0h-1.0zM333.1 200.6h1.6v1.6h-1.6zM328.9 200.1h0.9v0.9h-0.9zM331.3 212.8h1.8v1.8h-1.8zM329.6 200.4h1.6v1.6h-1.6zM328.3 198.9h1.0v1.0h-1.0zM330.0 196.7h1.8v1.8h-1.8zM337.8 208.0h1.6v1.6h-1.6zM332.5 220.1h1.5v1.5h-1.5zM327.9 202.0h1.5v1.5h-1.5zM325.5 201.4h1.9v1.9h-1.9zM337.7 203.7h0.9v0.9h-0.9zM329.4 201.6h1.9v1.9h-1.9z" fill="#1679b0"/>
<path d="M327.6 195.9h0.9v0.9h-0.9zM328.9 194.0h1.4v1.4h-1.4zM334.0 213.5h1.9v1.9h-1.9zM332.0 205.8h1.5v1.5h-1.5zM330.5 203.4h1.7v1.7h-1.7zM339.2 213.3h0.9v0.9h-0.9zM330.6 202.8h0.9v0.9h-0.9zM334.1 209.4h1.1v1.1h-1.1zM335.5 212.1h1.5v1.5h-1.5zM333.8 215.5h1.4v1.4h-1.4zM333.7 219.5h1.4v1.4h-1.4zM334.4 218.1h1.7v1.7h-1.7zM326.7 203.0h0.9v0.9h-0.9zM335.8 199.4h1.8v1.8h-1.8zM331.6 214.8h1.8v1.8h-1.8zM328.9 197.3h1.1v1.1h-1.1zM334.3 210.1h1.2v1.2h-1.2zM335.4 201.4h1.4v1.4h-1.4zM331.2 194.3h1.9v1.9h-1.9zM331.3 203.0h1.8v1.8h-1.8zM340.8 212.0h1.8v1.8h-1.8zM336.7 200.0h0.9v0.9h-0.9zM334.7 218.8h1.1v1.1h-1.1zM338.7 203.8h1.9v1.9h-1.9zM335.9 207.4h1.9v1.9h-1.9zM339.3 211.0h1.6v1.6h-1.6z" fill="#a8def0"/>
<path d="M325.6 203.1h1.7v1.7h-1.7zM334.3 214.6h1.9v1.9h-1.9zM336.4 212.2h1.3v1.3h-1.3zM327.3 195.6h1.9v1.9h-1.9zM340.0 212.2h1.5v1.5h-1.5zM327.7 195.8h1.9v1.9h-1.9zM331.7 207.9h1.2v1.2h-1.2zM324.5 199.0h1.6v1.6h-1.6zM328.3 194.8h1.3v1.3h-1.3zM340.1 211.0h1.2v1.2h-1.2zM337.4 206.3h1.4v1.4h-1.4zM334.5 212.5h1.5v1.5h-1.5zM338.6 209.3h1.3v1.3h-1.3zM338.0 213.3h1.7v1.7h-1.7zM338.9 209.1h1.9v1.9h-1.9zM333.6 223.4h0.9v0.9h-0.9zM329.1 211.2h0.9v0.9h-0.9zM330.3 212.6h1.1v1.1h-1.1zM336.0 200.4h0.9v0.9h-0.9zM330.1 209.6h1.9v1.9h-1.9zM326.1 205.1h1.6v1.6h-1.6zM330.5 198.4h0.9v0.9h-0.9zM336.1 210.2h1.2v1.2h-1.2zM334.5 204.6h1.9v1.9h-1.9zM333.9 215.3h1.6v1.6h-1.6zM338.4 208.5h1.2v1.2h-1.2zM331.4 200.4h0.9v0.9h-0.9zM337.0 200.6h1.3v1.3h-1.3zM334.9 223.9h1.7v1.7h-1.7z" fill="#1e95c8"/>
<path d="M335.9 201.8h1.6v1.6h-1.6zM336.8 212.2h1.4v1.4h-1.4zM326.4 198.3h1.1v1.1h-1.1zM332.5 221.8h1.2v1.2h-1.2zM333.6 208.0h1.4v1.4h-1.4zM333.8 197.9h1.2v1.2h-1.2zM330.1 195.5h1.0v1.0h-1.0zM327.0 202.7h0.9v0.9h-0.9zM331.5 200.9h1.8v1.8h-1.8zM329.0 198.9h1.3v1.3h-1.3zM327.8 194.1h1.4v1.4h-1.4zM335.7 218.2h1.9v1.9h-1.9zM334.3 206.5h1.2v1.2h-1.2zM336.6 204.7h1.9v1.9h-1.9zM330.9 211.5h1.2v1.2h-1.2zM330.8 201.6h1.1v1.1h-1.1zM337.3 211.3h0.9v0.9h-0.9zM336.4 217.9h1.5v1.5h-1.5zM336.3 207.5h1.0v1.0h-1.0zM336.3 212.3h1.6v1.6h-1.6zM328.3 196.1h1.1v1.1h-1.1zM330.1 202.9h1.6v1.6h-1.6zM326.6 198.6h1.5v1.5h-1.5zM325.3 198.4h1.6v1.6h-1.6zM338.9 204.2h1.0v1.0h-1.0zM339.1 211.7h1.9v1.9h-1.9z" fill="#5ac0e0"/>
<path d="M338.5 250.5h1.9v1.9h-1.9zM342.4 247.4h1.5v1.5h-1.5zM343.4 249.0h2.1v2.1h-2.1zM344.0 239.6h1.4v1.4h-1.4zM343.1 243.2h1.3v1.3h-1.3zM339.5 245.0h1.1v1.1h-1.1zM345.2 241.0h1.1v1.1h-1.1zM349.2 239.9h1.3v1.3h-1.3zM335.5 237.4h1.7v1.7h-1.7zM334.5 239.8h1.5v1.5h-1.5zM336.1 247.5h2.0v2.0h-2.0zM332.5 238.2h1.2v1.2h-1.2zM340.3 232.1h1.9v1.9h-1.9zM336.3 245.5h1.0v1.0h-1.0zM343.6 241.2h1.4v1.4h-1.4zM350.8 243.3h1.9v1.9h-1.9zM337.8 235.4h1.8v1.8h-1.8zM335.8 236.0h1.5v1.5h-1.5zM343.2 231.1h1.6v1.6h-1.6zM336.8 244.2h1.5v1.5h-1.5zM346.1 235.5h2.0v2.0h-2.0zM333.5 235.2h2.0v2.0h-2.0zM336.6 232.8h2.0v2.0h-2.0zM346.6 239.9h2.1v2.1h-2.1zM342.0 232.5h1.7v1.7h-1.7zM342.0 243.4h1.8v1.8h-1.8zM339.8 243.3h2.0v2.0h-2.0zM346.8 234.4h1.4v1.4h-1.4zM344.8 235.9h2.2v2.2h-2.2z" fill="#a8e6d6"/>
<path d="M336.4 233.9h1.2v1.2h-1.2zM343.3 240.0h1.0v1.0h-1.0zM336.7 239.7h1.5v1.5h-1.5zM335.5 237.8h1.7v1.7h-1.7zM342.1 232.7h1.5v1.5h-1.5zM338.4 231.9h1.2v1.2h-1.2zM351.4 240.6h1.7v1.7h-1.7zM332.1 240.4h2.0v2.0h-2.0zM339.8 236.4h1.6v1.6h-1.6zM334.7 236.3h1.1v1.1h-1.1zM341.0 246.0h1.8v1.8h-1.8zM343.7 235.2h1.1v1.1h-1.1zM343.9 239.5h2.1v2.1h-2.1zM345.9 240.0h2.2v2.2h-2.2zM339.0 239.6h2.1v2.1h-2.1zM344.0 236.3h1.8v1.8h-1.8zM345.3 247.8h1.7v1.7h-1.7zM348.0 245.1h1.2v1.2h-1.2zM342.7 234.0h1.6v1.6h-1.6zM338.7 246.6h1.4v1.4h-1.4zM348.9 238.9h1.1v1.1h-1.1zM336.4 242.8h1.9v1.9h-1.9zM349.8 234.3h2.1v2.1h-2.1zM350.1 238.5h2.0v2.0h-2.0zM345.3 232.5h1.2v1.2h-1.2zM335.6 237.8h1.9v1.9h-1.9zM333.9 236.6h2.0v2.0h-2.0zM335.1 243.4h1.9v1.9h-1.9zM342.2 245.2h1.6v1.6h-1.6zM339.1 234.5h1.6v1.6h-1.6zM339.5 240.7h1.6v1.6h-1.6zM347.4 232.8h1.8v1.8h-1.8zM344.8 231.6h1.7v1.7h-1.7zM338.3 237.1h1.8v1.8h-1.8zM337.5 248.7h1.7v1.7h-1.7z" fill="#0c8466"/>
<path d="M334.4 243.8h2.2v2.2h-2.2zM339.1 245.6h1.9v1.9h-1.9zM335.6 241.4h2.0v2.0h-2.0zM333.8 245.5h2.2v2.2h-2.2zM347.3 243.0h1.1v1.1h-1.1zM343.8 235.6h1.7v1.7h-1.7zM341.2 236.8h1.1v1.1h-1.1zM349.0 242.8h1.8v1.8h-1.8zM348.6 241.4h1.7v1.7h-1.7zM350.0 240.4h1.9v1.9h-1.9zM340.3 244.6h1.6v1.6h-1.6zM348.4 235.6h1.2v1.2h-1.2zM346.3 231.4h1.3v1.3h-1.3zM334.8 243.9h1.3v1.3h-1.3zM350.6 234.9h1.0v1.0h-1.0zM342.0 236.4h2.1v2.1h-2.1zM336.9 232.5h2.2v2.2h-2.2zM336.7 236.2h1.9v1.9h-1.9zM343.5 249.2h1.9v1.9h-1.9zM338.4 248.6h1.3v1.3h-1.3zM345.1 231.5h2.2v2.2h-2.2zM350.5 241.5h1.4v1.4h-1.4zM342.3 232.5h1.7v1.7h-1.7zM340.0 238.5h1.7v1.7h-1.7zM342.7 246.3h1.5v1.5h-1.5zM338.4 248.6h1.8v1.8h-1.8zM340.8 230.8h1.1v1.1h-1.1zM351.1 237.2h1.7v1.7h-1.7zM337.9 233.5h1.6v1.6h-1.6zM335.8 233.2h1.4v1.4h-1.4zM343.7 245.8h1.7v1.7h-1.7zM345.9 248.2h1.9v1.9h-1.9zM347.9 237.2h2.0v2.0h-2.0zM340.9 247.1h1.6v1.6h-1.6zM341.9 250.1h1.9v1.9h-1.9zM347.3 244.6h1.0v1.0h-1.0zM347.2 236.8h1.4v1.4h-1.4zM339.0 244.7h1.8v1.8h-1.8zM345.6 245.9h1.8v1.8h-1.8zM351.9 236.7h2.2v2.2h-2.2zM336.0 235.1h2.2v2.2h-2.2zM348.9 241.3h2.0v2.0h-2.0zM338.6 231.9h1.0v1.0h-1.0zM340.1 232.4h2.0v2.0h-2.0zM345.5 240.2h1.0v1.0h-1.0zM336.8 232.2h1.9v1.9h-1.9zM350.6 238.1h1.7v1.7h-1.7z" fill="#7fd6c0"/>
<path d="M341.9 243.5h1.1v1.1h-1.1zM346.4 241.5h1.5v1.5h-1.5zM340.1 234.9h1.4v1.4h-1.4zM332.6 241.3h2.1v2.1h-2.1zM341.7 231.5h1.8v1.8h-1.8zM352.7 237.8h1.4v1.4h-1.4zM333.3 243.6h1.4v1.4h-1.4zM344.0 240.2h2.2v2.2h-2.2zM344.5 237.3h1.3v1.3h-1.3zM334.0 244.8h1.1v1.1h-1.1zM347.8 236.1h1.3v1.3h-1.3zM332.9 234.7h1.6v1.6h-1.6zM339.3 248.5h2.0v2.0h-2.0zM341.0 244.4h1.4v1.4h-1.4zM338.1 236.9h1.6v1.6h-1.6zM341.3 242.2h1.0v1.0h-1.0zM347.3 237.5h2.0v2.0h-2.0zM345.7 239.2h2.1v2.1h-2.1zM348.9 235.8h1.2v1.2h-1.2zM335.2 241.3h2.1v2.1h-2.1zM341.2 235.4h2.0v2.0h-2.0zM335.0 240.5h1.9v1.9h-1.9z" fill="#0f9a7a"/>
<path d="M338.1 242.4h2.1v2.1h-2.1zM347.3 237.5h1.8v1.8h-1.8zM332.5 239.9h1.8v1.8h-1.8zM339.5 248.5h1.9v1.9h-1.9zM341.8 230.6h1.5v1.5h-1.5zM346.0 240.8h2.0v2.0h-2.0zM351.3 239.7h1.0v1.0h-1.0zM342.7 245.2h1.8v1.8h-1.8zM345.2 246.0h1.5v1.5h-1.5zM341.4 249.7h1.9v1.9h-1.9zM337.4 240.3h1.6v1.6h-1.6zM335.0 245.4h1.2v1.2h-1.2zM342.4 232.4h2.0v2.0h-2.0zM351.4 241.8h1.7v1.7h-1.7zM346.9 245.8h1.0v1.0h-1.0zM337.7 243.8h2.1v2.1h-2.1zM340.1 234.7h1.2v1.2h-1.2zM348.2 232.7h1.5v1.5h-1.5zM347.6 233.5h1.1v1.1h-1.1zM331.4 241.0h2.1v2.1h-2.1zM340.9 247.7h1.2v1.2h-1.2zM347.0 235.0h1.2v1.2h-1.2zM333.6 241.8h1.5v1.5h-1.5zM338.3 236.2h1.1v1.1h-1.1zM339.3 237.7h1.4v1.4h-1.4zM345.9 237.9h1.5v1.5h-1.5zM331.1 241.8h2.1v2.1h-2.1zM334.2 244.7h1.6v1.6h-1.6zM334.3 244.6h1.2v1.2h-1.2zM349.8 237.8h2.1v2.1h-2.1z" fill="#3bb39a"/>
<path d="M334.6 234.8h1.0v1.0h-1.0zM339.5 247.8h1.3v1.3h-1.3zM340.6 230.3h2.2v2.2h-2.2zM337.5 248.7h2.1v2.1h-2.1zM338.2 236.6h2.2v2.2h-2.2zM338.6 246.1h1.9v1.9h-1.9zM344.6 237.3h1.1v1.1h-1.1zM343.0 242.8h1.0v1.0h-1.0zM337.1 233.2h1.9v1.9h-1.9zM345.5 235.8h1.6v1.6h-1.6zM343.9 238.0h1.4v1.4h-1.4zM333.6 237.2h1.3v1.3h-1.3zM348.8 238.5h1.7v1.7h-1.7zM336.8 243.7h1.7v1.7h-1.7zM340.8 233.7h2.0v2.0h-2.0zM350.4 240.9h1.6v1.6h-1.6zM333.6 244.1h1.5v1.5h-1.5zM342.2 237.4h1.9v1.9h-1.9zM339.0 240.2h2.0v2.0h-2.0zM334.9 236.3h2.2v2.2h-2.2zM334.9 236.2h1.2v1.2h-1.2zM346.0 246.8h1.2v1.2h-1.2z" fill="#13a585"/>
<path d="M327.2,193.2C327.9,192.6 329.4,193.2 330.8,194.1C332.3,194.9 334.3,196.5 335.8,198.4C337.2,200.2 338.6,202.7 339.5,205.1C340.5,207.5 341.9,211.4 341.5,212.9C341.1,214.5 338.3,213.1 337.4,214.4C336.4,215.8 335.7,219.0 335.7,221.0C335.7,223.0 337.5,225.4 337.2,226.4C336.9,227.4 335.0,227.9 334.0,226.8C333.1,225.7 332.1,222.1 331.5,219.9C330.9,217.8 330.9,215.9 330.3,213.9C329.7,211.9 328.7,209.8 327.9,208.0C327.0,206.2 326.2,204.8 325.3,203.2C324.3,201.5 322.0,199.0 322.3,198.1C322.5,197.2 325.9,198.5 326.7,197.7C327.5,196.9 326.5,193.8 327.2,193.2Z" stroke="#d3c6cc" stroke-width="0.35" fill="none"/>
<path d="M332.5,233.7C333.7,231.7 335.9,230.6 337.8,229.9C339.7,229.2 342.1,229.1 344.1,229.4C346.1,229.8 348.3,230.7 349.9,232.0C351.5,233.4 353.3,235.4 353.6,237.4C353.9,239.5 352.9,242.2 351.5,244.3C350.1,246.4 347.5,248.8 345.3,250.0C343.1,251.2 340.5,251.8 338.4,251.6C336.4,251.4 334.4,250.5 333.0,248.9C331.7,247.3 330.5,244.6 330.4,242.0C330.3,239.5 331.3,235.7 332.5,233.7Z" stroke="#d3c6cc" stroke-width="0.35" fill="none"/>
<ellipse cx="336" cy="176.6" rx="10.4" ry="11.3" fill="none" stroke="#b9b09a" stroke-width="0.45"/>
<ellipse cx="336" cy="177.2" rx="7.2" ry="8.0" fill="#faf2c4" stroke="#e8cc48" stroke-width="0.8"/>
<ellipse cx="336" cy="178.0" rx="4.0" ry="4.6" fill="none" stroke="#e0c23a" stroke-width="0.5"/>
<path d="M334.8,166.2 l1.8,-0.8 l0.6,1.6 l-1.6,0.8z" fill="#1a9fcf"/>
<text x="336.00" y="180.60" font-size="4.6" text-anchor="middle" fill="#222">Act</text>
<ellipse cx="279.2" cy="196.3" rx="10.2" ry="10.6" transform="rotate(25 279.2 196.3)" fill="none" stroke="#b8b0b8" stroke-width="0.45"/>
<path d="M279.6,188.4 C284.2,188.2 286.6,191.8 286.2,196.2 C285.8,200.6 282.6,205.4 279.2,205.6 C275.6,205.8 273.4,201.2 273.6,197.0 C273.8,192.4 275.6,188.6 279.6,188.4 Z" fill="#f3a722"/>
<path d="M279.6,191.0 C282.6,191.0 284.0,193.6 283.6,196.6 C283.2,199.6 281.4,202.6 279.4,202.8 C277.2,203.0 276.0,200.0 276.2,197.2 C276.4,194.0 277.4,191.0 279.6,191.0 Z" fill="#f6b844" stroke="#e0900e" stroke-width="0.5"/>
<ellipse cx="279.6" cy="196.8" rx="1.6" ry="2.6" fill="none" stroke="#e0900e" stroke-width="0.5"/>
<path d="M283.4,185.6 L288.6,180.2" stroke="#f2b640" stroke-width="1.1" stroke-linecap="round"/>
<ellipse cx="276.4" cy="233.2" rx="9.0" ry="8.8" transform="rotate(20 276.4 233.2)" fill="none" stroke="#d8c8b0" stroke-width="0.45"/>
<ellipse cx="276.4" cy="233.2" rx="7.6" ry="7.2" transform="rotate(20 276.4 233.2)" fill="#f8cf78" stroke="#eeae3c" stroke-width="0.7"/>
<ellipse cx="276.4" cy="233.2" rx="5.4" ry="5.0" transform="rotate(20 276.4 233.2)" fill="#f5bd55" stroke="#e89a1c" stroke-width="0.6"/>
<ellipse cx="276.4" cy="233.2" rx="3.0" ry="2.6" transform="rotate(20 276.4 233.2)" fill="none" stroke="#e89a1c" stroke-width="0.6"/>
<text x="279.20" y="216.00" font-size="4.6" text-anchor="middle" fill="#222">Naive</text>
<text x="315.80" y="192.40" font-size="4.6" text-anchor="middle" fill="#222">Early Tm</text>
<text x="332.50" y="207.40" font-size="4.6" text-anchor="middle" fill="#222">Int</text>
<text x="340.50" y="241.20" font-size="4.6" text-anchor="middle" fill="#222">Term/SenL</text>
<circle cx="303" cy="203" r="0.5" fill="#e8d9a0"/></g>
<text x="420.40" y="268.80" font-size="8.2" text-anchor="middle" fill="#222" textLength="36.7" lengthAdjust="spacingAndGlyphs">Res_post</text>
<g transform="translate(107.5,108.8)"><path d="M308.3,176.0C309.2,175.4 310.9,179.5 313.1,181.9C315.3,184.3 318.4,188.4 321.4,190.2C324.4,192.0 328.4,191.4 331.0,192.6C333.6,193.8 335.2,195.4 336.9,197.4C338.6,199.4 340.0,201.7 341.1,204.5C342.2,207.3 344.0,212.0 343.5,214.0C343.0,216.0 339.2,215.0 338.1,216.4C337.0,217.8 336.7,220.8 336.9,222.4C337.1,224.0 337.7,225.4 339.3,226.0C340.9,226.6 344.2,225.0 346.4,226.0C348.6,227.0 351.1,229.7 352.4,231.9C353.7,234.1 354.2,236.6 354.2,239.0C354.2,241.4 353.5,244.0 352.4,246.2C351.3,248.4 349.8,250.9 347.6,252.1C345.4,253.3 341.9,253.7 339.3,253.3C336.7,252.9 333.8,251.6 332.1,249.8C330.4,248.0 329.4,244.8 329.2,242.6C329.0,240.4 330.4,238.5 331.0,236.7C331.6,234.9 332.5,233.7 332.7,231.9C332.9,230.1 332.6,228.0 332.1,226.0C331.6,224.0 330.4,222.0 329.8,220.0C329.2,218.0 329.2,216.0 328.6,214.0C328.0,212.0 327.0,209.9 326.2,208.1C325.4,206.3 325.2,205.1 323.8,203.3C322.4,201.5 320.1,199.2 317.9,197.4C315.7,195.6 312.4,194.6 310.7,192.6C309.0,190.6 308.1,188.3 307.7,185.5C307.3,182.7 307.4,176.6 308.3,176.0Z" stroke="#b9b3b0" stroke-width="0.45" fill="#f3fafc"/>
<path d="M315.3 190.4h0.9v0.9h-0.9zM319.1 190.9h1.0v1.0h-1.0zM324.2 197.3h1.6v1.6h-1.6zM325.8 192.6h1.0v1.0h-1.0zM316.8 189.6h1.1v1.1h-1.1zM312.7 184.1h1.0v1.0h-1.0zM323.5 196.0h1.5v1.5h-1.5zM310.4 184.6h1.6v1.6h-1.6zM318.5 188.6h1.4v1.4h-1.4zM316.3 190.9h1.7v1.7h-1.7zM312.3 184.7h1.4v1.4h-1.4z" fill="#48bfe3"/>
<path d="M315.8 188.3h1.1v1.1h-1.1zM311.8 184.9h1.4v1.4h-1.4zM325.3 194.5h1.3v1.3h-1.3zM310.8 181.7h1.9v1.9h-1.9zM309.1 180.8h1.1v1.1h-1.1zM317.2 187.8h0.9v0.9h-0.9zM319.4 192.6h1.1v1.1h-1.1zM312.0 190.3h1.4v1.4h-1.4zM311.0 188.6h1.6v1.6h-1.6zM310.0 183.5h1.7v1.7h-1.7zM326.0 196.5h1.0v1.0h-1.0zM314.2 192.0h1.8v1.8h-1.8zM310.1 185.9h1.8v1.8h-1.8z" fill="#1b9fd0"/>
<path d="M325.7 194.2h0.9v0.9h-0.9zM314.6 188.0h1.5v1.5h-1.5zM311.2 186.4h1.4v1.4h-1.4zM326.3 197.1h1.7v1.7h-1.7zM312.7 191.1h1.8v1.8h-1.8zM320.9 191.6h1.9v1.9h-1.9zM312.0 191.8h1.8v1.8h-1.8zM326.6 194.0h1.8v1.8h-1.8zM324.5 192.9h1.0v1.0h-1.0zM311.0 185.3h1.7v1.7h-1.7zM321.4 191.5h1.3v1.3h-1.3zM314.2 186.0h1.9v1.9h-1.9zM312.6 186.3h0.9v0.9h-0.9z" fill="#2ab1dc"/>
<path d="M317.8 193.1h1.6v1.6h-1.6zM311.2 190.0h1.7v1.7h-1.7zM322.0 194.8h1.0v1.0h-1.0zM317.8 195.6h0.9v0.9h-0.9zM320.6 197.3h1.2v1.2h-1.2zM317.5 188.4h1.8v1.8h-1.8zM314.6 191.1h1.6v1.6h-1.6zM325.7 197.4h0.9v0.9h-0.9zM312.4 184.1h1.8v1.8h-1.8zM319.4 194.1h1.0v1.0h-1.0z" fill="#a8def0"/>
<path d="M325.8 195.1h1.7v1.7h-1.7zM311.8 182.8h1.3v1.3h-1.3zM311.4 186.1h1.2v1.2h-1.2zM312.1 191.7h1.6v1.6h-1.6zM322.6 191.9h2.0v2.0h-2.0zM314.6 187.0h0.9v0.9h-0.9zM320.9 193.0h1.0v1.0h-1.0zM316.1 188.9h1.6v1.6h-1.6zM324.0 193.7h1.0v1.0h-1.0zM309.6 183.4h1.2v1.2h-1.2zM314.1 187.6h1.1v1.1h-1.1zM317.5 192.4h1.1v1.1h-1.1zM315.6 193.4h1.7v1.7h-1.7zM324.6 196.6h0.9v0.9h-0.9zM310.2 180.9h1.7v1.7h-1.7z" fill="#7fd0ea"/>
<path d="M333.8 218.3h1.1v1.1h-1.1zM330.7 202.6h1.0v1.0h-1.0zM334.5 224.7h1.5v1.5h-1.5zM333.0 219.9h0.9v0.9h-0.9zM329.9 207.0h1.2v1.2h-1.2zM333.5 211.1h1.6v1.6h-1.6zM338.8 207.4h0.9v0.9h-0.9zM335.9 226.4h1.6v1.6h-1.6zM330.4 209.6h1.9v1.9h-1.9zM332.7 204.0h1.6v1.6h-1.6zM328.4 203.3h1.1v1.1h-1.1zM327.1 193.5h0.9v0.9h-0.9zM334.1 202.2h1.5v1.5h-1.5zM330.8 196.1h1.8v1.8h-1.8zM334.0 223.8h1.1v1.1h-1.1zM328.5 197.5h1.2v1.2h-1.2zM334.7 214.5h0.9v0.9h-0.9zM337.7 212.7h1.5v1.5h-1.5zM334.5 223.5h1.8v1.8h-1.8zM339.7 210.5h1.9v1.9h-1.9zM329.5 205.5h1.2v1.2h-1.2zM330.2 202.9h1.3v1.3h-1.3zM330.7 195.1h1.0v1.0h-1.0zM330.9 207.7h1.1v1.1h-1.1zM332.7 199.8h1.8v1.8h-1.8zM332.9 198.4h1.0v1.0h-1.0zM333.4 217.4h1.2v1.2h-1.2zM328.6 203.1h1.2v1.2h-1.2z" fill="#1e95c8"/>
<path d="M330.2 204.4h1.4v1.4h-1.4zM335.5 201.9h1.5v1.5h-1.5zM336.5 217.4h1.6v1.6h-1.6zM333.8 209.1h1.0v1.0h-1.0zM332.0 195.6h1.3v1.3h-1.3zM326.7 197.3h1.2v1.2h-1.2zM334.8 200.9h1.3v1.3h-1.3zM327.8 198.7h1.0v1.0h-1.0zM330.8 207.7h1.1v1.1h-1.1zM330.3 213.8h1.8v1.8h-1.8zM333.2 214.3h1.6v1.6h-1.6zM333.9 206.1h1.7v1.7h-1.7zM332.2 214.4h1.5v1.5h-1.5zM336.7 214.1h1.2v1.2h-1.2zM327.1 199.4h1.2v1.2h-1.2zM329.5 193.8h1.3v1.3h-1.3zM337.5 213.4h0.9v0.9h-0.9zM332.6 202.3h1.4v1.4h-1.4zM326.4 200.6h1.4v1.4h-1.4zM335.5 200.4h1.7v1.7h-1.7zM333.0 208.3h1.1v1.1h-1.1zM329.4 209.1h1.2v1.2h-1.2zM330.6 211.8h1.3v1.3h-1.3z" fill="#5ac0e0"/>
<path d="M336.5 211.6h0.9v0.9h-0.9zM331.6 202.0h1.4v1.4h-1.4zM336.4 226.3h1.1v1.1h-1.1zM329.9 205.2h1.8v1.8h-1.8zM330.8 197.1h1.6v1.6h-1.6zM334.8 221.0h1.2v1.2h-1.2zM327.4 202.3h1.0v1.0h-1.0zM335.5 216.6h1.1v1.1h-1.1zM327.5 201.6h1.9v1.9h-1.9zM332.0 209.9h1.1v1.1h-1.1zM328.9 193.8h1.5v1.5h-1.5zM326.1 202.5h1.1v1.1h-1.1zM330.3 196.4h1.6v1.6h-1.6zM329.2 204.3h0.9v0.9h-0.9zM331.3 205.0h1.3v1.3h-1.3zM335.6 209.9h1.9v1.9h-1.9zM337.3 206.5h1.3v1.3h-1.3zM333.7 223.4h1.9v1.9h-1.9zM333.0 211.2h1.3v1.3h-1.3zM332.7 206.8h1.7v1.7h-1.7zM324.5 202.2h1.8v1.8h-1.8zM334.0 197.1h1.6v1.6h-1.6zM326.9 202.4h1.8v1.8h-1.8zM329.9 212.3h1.2v1.2h-1.2zM335.9 217.9h1.2v1.2h-1.2zM328.9 206.6h1.1v1.1h-1.1zM328.2 201.2h1.8v1.8h-1.8z" fill="#2ab1dc"/>
<path d="M331.1 199.8h1.4v1.4h-1.4zM336.0 224.6h1.2v1.2h-1.2zM335.1 222.3h0.9v0.9h-0.9zM339.1 206.7h1.6v1.6h-1.6zM326.8 200.4h0.9v0.9h-0.9zM327.3 195.4h1.4v1.4h-1.4zM335.0 205.4h1.0v1.0h-1.0zM338.3 212.0h1.8v1.8h-1.8zM333.5 216.5h1.0v1.0h-1.0zM331.3 206.2h1.5v1.5h-1.5zM332.9 208.8h1.7v1.7h-1.7zM334.7 220.3h1.5v1.5h-1.5zM340.8 209.1h1.6v1.6h-1.6zM334.9 203.1h1.6v1.6h-1.6zM330.5 216.3h1.2v1.2h-1.2zM327.7 205.2h1.3v1.3h-1.3zM332.7 219.1h0.9v0.9h-0.9zM334.5 203.8h1.3v1.3h-1.3zM335.4 223.3h1.8v1.8h-1.8zM337.2 210.3h1.8v1.8h-1.8zM335.0 211.8h0.9v0.9h-0.9zM328.6 203.3h1.4v1.4h-1.4zM338.8 212.9h1.0v1.0h-1.0zM327.3 197.5h1.9v1.9h-1.9z" fill="#1679b0"/>
<path d="M336.0 221.4h1.6v1.6h-1.6zM335.8 200.4h1.9v1.9h-1.9zM333.5 215.6h1.3v1.3h-1.3zM334.1 213.1h1.1v1.1h-1.1zM331.3 214.3h1.8v1.8h-1.8zM335.3 218.4h1.5v1.5h-1.5zM326.8 199.4h1.0v1.0h-1.0zM340.8 212.1h2.0v2.0h-2.0zM335.4 209.7h1.7v1.7h-1.7zM331.9 214.2h1.7v1.7h-1.7zM340.3 209.0h1.3v1.3h-1.3zM334.6 220.0h1.8v1.8h-1.8zM329.5 196.0h1.8v1.8h-1.8zM334.1 212.2h1.0v1.0h-1.0zM335.6 217.5h1.4v1.4h-1.4zM333.7 198.8h1.9v1.9h-1.9zM333.6 208.9h1.8v1.8h-1.8zM335.1 222.1h1.7v1.7h-1.7zM326.4 200.2h0.9v0.9h-0.9zM338.1 208.7h1.6v1.6h-1.6zM327.2 207.3h1.2v1.2h-1.2zM329.2 198.2h1.6v1.6h-1.6zM327.4 205.1h1.3v1.3h-1.3zM329.3 198.3h1.8v1.8h-1.8zM323.8 198.3h1.9v1.9h-1.9zM330.9 209.1h1.2v1.2h-1.2zM329.4 198.0h1.9v1.9h-1.9z" fill="#a8def0"/>
<path d="M344.7 237.6h1.7v1.7h-1.7zM334.9 246.4h2.2v2.2h-2.2zM335.6 234.0h1.8v1.8h-1.8zM346.6 244.2h1.9v1.9h-1.9zM334.7 245.9h1.4v1.4h-1.4zM336.4 242.6h1.7v1.7h-1.7zM341.5 233.6h1.2v1.2h-1.2zM339.5 242.4h1.5v1.5h-1.5zM342.6 235.2h2.1v2.1h-2.1zM343.8 243.0h1.2v1.2h-1.2zM342.2 249.1h1.3v1.3h-1.3zM344.0 245.2h1.7v1.7h-1.7zM342.4 234.3h1.5v1.5h-1.5zM345.1 241.1h1.9v1.9h-1.9zM336.4 244.1h1.3v1.3h-1.3zM331.4 242.3h1.8v1.8h-1.8zM345.4 233.5h1.7v1.7h-1.7zM334.8 237.3h1.4v1.4h-1.4zM349.8 236.6h1.5v1.5h-1.5zM337.9 246.0h1.2v1.2h-1.2zM350.9 238.1h2.0v2.0h-2.0zM350.5 243.8h1.8v1.8h-1.8zM339.8 233.3h1.6v1.6h-1.6zM343.2 231.5h1.6v1.6h-1.6zM333.3 247.2h1.1v1.1h-1.1zM344.8 234.4h1.6v1.6h-1.6zM339.6 238.5h2.1v2.1h-2.1z" fill="#0c8466"/>
<path d="M338.9 248.0h1.6v1.6h-1.6zM349.1 241.1h1.2v1.2h-1.2zM342.6 248.4h1.9v1.9h-1.9zM335.5 248.2h1.2v1.2h-1.2zM349.4 240.7h1.0v1.0h-1.0zM332.7 244.0h1.6v1.6h-1.6zM337.8 232.5h2.0v2.0h-2.0zM345.6 245.6h2.0v2.0h-2.0zM333.3 241.7h1.7v1.7h-1.7zM344.5 230.7h2.0v2.0h-2.0zM336.8 234.1h1.8v1.8h-1.8zM342.4 232.8h2.1v2.1h-2.1zM340.3 244.3h1.3v1.3h-1.3zM338.5 232.7h1.3v1.3h-1.3zM338.9 236.7h1.7v1.7h-1.7zM341.5 234.4h1.2v1.2h-1.2zM340.8 244.4h1.6v1.6h-1.6zM340.9 247.6h1.8v1.8h-1.8zM338.9 250.6h1.0v1.0h-1.0zM343.8 232.3h1.7v1.7h-1.7zM347.5 238.9h1.3v1.3h-1.3zM344.9 246.0h2.1v2.1h-2.1zM345.1 236.2h1.6v1.6h-1.6zM337.9 250.0h1.4v1.4h-1.4zM344.4 240.7h1.7v1.7h-1.7zM338.6 243.4h1.1v1.1h-1.1zM346.3 234.5h1.2v1.2h-1.2zM351.4 238.6h1.6v1.6h-1.6zM337.5 249.2h1.6v1.6h-1.6zM344.5 233.4h2.2v2.2h-2.2zM346.6 231.5h1.6v1.6h-1.6zM340.1 242.8h1.1v1.1h-1.1z" fill="#3bb39a"/>
<path d="M338.9 245.2h1.3v1.3h-1.3zM345.5 241.3h1.9v1.9h-1.9zM337.0 240.6h2.2v2.2h-2.2zM347.9 242.9h2.2v2.2h-2.2zM339.8 239.0h2.1v2.1h-2.1zM344.3 234.3h2.0v2.0h-2.0zM342.9 231.9h1.8v1.8h-1.8zM344.6 242.9h1.0v1.0h-1.0zM350.0 236.8h1.5v1.5h-1.5zM336.0 241.8h1.6v1.6h-1.6zM342.8 242.9h1.6v1.6h-1.6zM337.7 232.9h2.1v2.1h-2.1zM344.5 246.7h1.1v1.1h-1.1zM343.3 243.1h2.1v2.1h-2.1zM342.4 237.3h1.4v1.4h-1.4zM334.2 234.0h1.5v1.5h-1.5zM335.7 237.8h1.8v1.8h-1.8zM339.6 246.9h1.4v1.4h-1.4zM352.6 238.9h1.5v1.5h-1.5zM338.6 245.5h1.6v1.6h-1.6zM338.7 232.9h1.5v1.5h-1.5zM339.6 246.0h1.9v1.9h-1.9zM332.1 242.7h1.1v1.1h-1.1zM335.9 241.9h1.1v1.1h-1.1zM336.8 234.1h1.6v1.6h-1.6zM336.4 241.7h1.3v1.3h-1.3zM335.3 246.1h1.6v1.6h-1.6zM333.5 241.5h1.3v1.3h-1.3zM334.0 233.4h1.1v1.1h-1.1zM333.8 244.7h1.0v1.0h-1.0zM350.2 239.1h1.5v1.5h-1.5zM336.8 248.8h1.3v1.3h-1.3zM339.9 249.7h1.2v1.2h-1.2zM341.2 243.3h1.9v1.9h-1.9zM331.9 242.8h1.1v1.1h-1.1z" fill="#7fd6c0"/>
<path d="M349.0 232.5h1.5v1.5h-1.5zM338.6 240.4h1.5v1.5h-1.5zM332.6 236.2h1.5v1.5h-1.5zM345.8 244.1h1.3v1.3h-1.3zM335.0 245.4h2.1v2.1h-2.1zM337.4 237.5h1.5v1.5h-1.5zM348.3 241.8h1.5v1.5h-1.5zM342.2 233.0h1.3v1.3h-1.3zM344.1 232.7h2.2v2.2h-2.2zM347.8 242.6h1.7v1.7h-1.7zM333.4 243.8h1.4v1.4h-1.4zM341.5 249.0h1.6v1.6h-1.6zM344.3 242.8h1.8v1.8h-1.8zM352.3 238.5h1.4v1.4h-1.4zM346.3 232.7h1.8v1.8h-1.8zM336.9 249.1h1.1v1.1h-1.1zM333.4 241.1h1.6v1.6h-1.6zM344.1 242.7h2.0v2.0h-2.0zM338.1 243.5h1.5v1.5h-1.5zM341.2 245.9h1.1v1.1h-1.1zM350.1 234.2h1.5v1.5h-1.5zM348.3 242.1h1.8v1.8h-1.8zM335.4 245.0h1.4v1.4h-1.4zM336.3 245.9h1.7v1.7h-1.7zM343.1 232.1h2.1v2.1h-2.1zM338.5 237.5h1.0v1.0h-1.0zM338.6 231.8h1.1v1.1h-1.1z" fill="#0f9a7a"/>
<path d="M341.4 242.0h1.9v1.9h-1.9zM346.8 246.0h1.1v1.1h-1.1zM335.5 240.6h1.0v1.0h-1.0zM343.7 241.6h2.2v2.2h-2.2zM346.6 244.7h2.0v2.0h-2.0zM347.6 240.4h1.1v1.1h-1.1zM346.5 231.8h2.2v2.2h-2.2zM342.9 244.3h1.5v1.5h-1.5zM343.1 236.9h1.5v1.5h-1.5zM332.3 244.0h2.2v2.2h-2.2zM341.7 245.0h1.2v1.2h-1.2zM336.8 242.4h2.1v2.1h-2.1zM342.0 236.4h1.1v1.1h-1.1zM343.7 242.1h2.2v2.2h-2.2zM340.3 245.4h1.0v1.0h-1.0zM334.4 242.1h1.8v1.8h-1.8zM335.2 237.8h1.2v1.2h-1.2zM341.9 241.8h1.4v1.4h-1.4zM349.4 235.2h1.1v1.1h-1.1zM348.5 240.2h1.1v1.1h-1.1zM341.8 244.2h2.1v2.1h-2.1zM339.5 247.5h1.5v1.5h-1.5zM344.9 239.0h1.3v1.3h-1.3zM345.3 242.8h1.1v1.1h-1.1zM337.2 243.1h1.3v1.3h-1.3zM348.4 236.4h1.9v1.9h-1.9zM347.8 240.1h1.8v1.8h-1.8zM351.5 237.6h1.5v1.5h-1.5zM346.5 238.3h1.2v1.2h-1.2zM342.3 245.2h1.2v1.2h-1.2zM342.3 235.5h1.2v1.2h-1.2zM349.7 245.0h1.4v1.4h-1.4zM343.1 248.3h1.5v1.5h-1.5zM343.2 245.1h2.1v2.1h-2.1zM336.4 245.1h2.0v2.0h-2.0zM348.7 244.3h1.4v1.4h-1.4z" fill="#13a585"/>
<path d="M349.3 234.0h2.1v2.1h-2.1zM348.3 237.0h1.2v1.2h-1.2zM340.2 237.4h2.2v2.2h-2.2zM352.3 237.8h1.2v1.2h-1.2zM346.7 245.3h1.5v1.5h-1.5zM334.4 239.9h1.0v1.0h-1.0zM340.5 234.3h1.0v1.0h-1.0zM348.9 242.4h1.2v1.2h-1.2zM332.4 238.8h1.9v1.9h-1.9zM348.8 237.1h1.5v1.5h-1.5zM335.6 237.8h1.3v1.3h-1.3zM347.7 242.1h2.0v2.0h-2.0zM339.9 248.0h1.3v1.3h-1.3zM342.7 235.8h1.4v1.4h-1.4zM338.7 235.6h1.9v1.9h-1.9zM348.8 239.7h1.7v1.7h-1.7zM337.7 237.3h1.0v1.0h-1.0zM340.5 237.6h1.0v1.0h-1.0zM342.0 232.6h1.6v1.6h-1.6zM343.5 236.7h2.0v2.0h-2.0zM343.2 246.4h2.0v2.0h-2.0zM337.8 238.7h1.7v1.7h-1.7zM347.7 240.7h1.5v1.5h-1.5zM340.2 239.9h1.4v1.4h-1.4zM343.0 248.3h2.1v2.1h-2.1zM349.7 240.9h1.7v1.7h-1.7zM337.6 241.1h1.5v1.5h-1.5zM343.7 242.7h1.6v1.6h-1.6z" fill="#a8e6d6"/>
<path d="M327.2,193.2C327.9,192.6 329.4,193.2 330.8,194.1C332.3,194.9 334.3,196.5 335.8,198.4C337.2,200.2 338.6,202.7 339.5,205.1C340.5,207.5 341.9,211.4 341.5,212.9C341.1,214.5 338.3,213.1 337.4,214.4C336.4,215.8 335.7,219.0 335.7,221.0C335.7,223.0 337.5,225.4 337.2,226.4C336.9,227.4 335.0,227.9 334.0,226.8C333.1,225.7 332.1,222.1 331.5,219.9C330.9,217.8 330.9,215.9 330.3,213.9C329.7,211.9 328.7,209.8 327.9,208.0C327.0,206.2 326.2,204.8 325.3,203.2C324.3,201.5 322.0,199.0 322.3,198.1C322.5,197.2 325.9,198.5 326.7,197.7C327.5,196.9 326.5,193.8 327.2,193.2Z" stroke="#d3c6cc" stroke-width="0.35" fill="none"/>
<path d="M332.5,233.7C333.7,231.7 335.9,230.6 337.8,229.9C339.7,229.2 342.1,229.1 344.1,229.4C346.1,229.8 348.3,230.7 349.9,232.0C351.5,233.4 353.3,235.4 353.6,237.4C353.9,239.5 352.9,242.2 351.5,244.3C350.1,246.4 347.5,248.8 345.3,250.0C343.1,251.2 340.5,251.8 338.4,251.6C336.4,251.4 334.4,250.5 333.0,248.9C331.7,247.3 330.5,244.6 330.4,242.0C330.3,239.5 331.3,235.7 332.5,233.7Z" stroke="#d3c6cc" stroke-width="0.35" fill="none"/>
<ellipse cx="336" cy="176.8" rx="8.6" ry="9.4" fill="#faf2c4" stroke="#b9b09a" stroke-width="0.45"/>
<ellipse cx="336" cy="177.4" rx="6.2" ry="7.0" fill="none" stroke="#e6c93c" stroke-width="0.8"/>
<ellipse cx="336" cy="178.0" rx="4.0" ry="4.6" fill="none" stroke="#e0c23a" stroke-width="0.5"/>
<path d="M334.8,166.2 l1.8,-0.8 l0.6,1.6 l-1.6,0.8z" fill="#1a9fcf"/>
<text x="336.00" y="180.60" font-size="4.6" text-anchor="middle" fill="#222">Act</text>
<ellipse cx="279.2" cy="196.3" rx="10.2" ry="10.6" transform="rotate(25 279.2 196.3)" fill="none" stroke="#b8b0b8" stroke-width="0.45"/>
<path d="M279.6,188.4 C284.2,188.2 286.6,191.8 286.2,196.2 C285.8,200.6 282.6,205.4 279.2,205.6 C275.6,205.8 273.4,201.2 273.6,197.0 C273.8,192.4 275.6,188.6 279.6,188.4 Z" fill="#f3a722"/>
<path d="M279.6,191.0 C282.6,191.0 284.0,193.6 283.6,196.6 C283.2,199.6 281.4,202.6 279.4,202.8 C277.2,203.0 276.0,200.0 276.2,197.2 C276.4,194.0 277.4,191.0 279.6,191.0 Z" fill="#f6b844" stroke="#e0900e" stroke-width="0.5"/>
<ellipse cx="279.6" cy="196.8" rx="1.6" ry="2.6" fill="none" stroke="#e0900e" stroke-width="0.5"/>
<path d="M283.4,185.6 L288.6,180.2" stroke="#f2b640" stroke-width="1.1" stroke-linecap="round"/>
<ellipse cx="276.4" cy="233.2" rx="9.0" ry="8.8" transform="rotate(20 276.4 233.2)" fill="none" stroke="#d8c8b0" stroke-width="0.45"/>
<ellipse cx="276.4" cy="233.2" rx="7.6" ry="7.2" transform="rotate(20 276.4 233.2)" fill="#f8cf78" stroke="#eeae3c" stroke-width="0.7"/>
<ellipse cx="276.4" cy="233.2" rx="5.4" ry="5.0" transform="rotate(20 276.4 233.2)" fill="#f5bd55" stroke="#e89a1c" stroke-width="0.6"/>
<ellipse cx="276.4" cy="233.2" rx="3.0" ry="2.6" transform="rotate(20 276.4 233.2)" fill="none" stroke="#e89a1c" stroke-width="0.6"/>
<text x="279.20" y="221.80" font-size="4.6" text-anchor="middle" fill="#222">Naive</text>
<text x="315.80" y="192.40" font-size="4.6" text-anchor="middle" fill="#222">Early Tm</text>
<text x="332.50" y="207.40" font-size="4.6" text-anchor="middle" fill="#222">Int</text>
<text x="340.50" y="241.20" font-size="4.6" text-anchor="middle" fill="#222">Term/SenL</text>
<circle cx="303" cy="203" r="0.5" fill="#e8d9a0"/></g>
<defs><filter id="db" x="-10%" y="-10%" width="120%" height="120%"><feGaussianBlur stdDeviation="0.8"/></filter></defs>
<g filter="url(#db)"><polygon points="69.0,404.0 76.0,398.0 84.0,395.0 92.0,395.5 96.5,400.0 97.0,410.0 94.0,420.0 88.0,428.0 80.0,431.0 72.0,426.0 68.0,415.0" fill="#14a081" stroke="none" stroke-width="0.5"/><polygon points="64.0,416.0 72.0,419.0 82.0,422.0 91.0,424.0 90.0,434.0 85.0,442.0 77.0,447.0 68.0,447.0 61.0,440.0 60.0,428.0" fill="#1f8ec2" stroke="none" stroke-width="0.5"/><polygon points="51.0,424.0 58.0,426.0 66.0,432.0 71.0,440.0 70.0,446.0 62.0,448.0 55.0,444.0 50.0,435.0" fill="#3db5d9" stroke="none" stroke-width="0.5"/><polygon points="58.0,439.0 66.0,442.0 73.0,444.0 74.0,448.5 67.0,451.0 60.0,449.5 56.0,445.0" fill="#d9d94a" stroke="none" stroke-width="0.5"/><polygon points="57.0,412.0 63.0,416.0 67.0,424.0 62.0,430.0 56.0,427.0" fill="#c8cf57" stroke="none" stroke-width="0.5"/><polygon points="48.5,402.0 54.0,399.5 59.5,403.0 62.5,413.0 61.5,423.0 56.0,427.0 50.5,424.0 47.5,414.0" fill="#f5a31a" stroke="none" stroke-width="0.5"/></g>
<path d="M73.2 397.6h.7v.7h-.7zM75.4 395.0h.7v.7h-.7zM65.7 404.6h.7v.7h-.7zM74.1 399.7h.7v.7h-.7zM72.3 403.1h.7v.7h-.7zM74.1 400.6h.7v.7h-.7zM73.2 401.0h.7v.7h-.7zM70.4 402.3h.7v.7h-.7zM73.4 400.4h.7v.7h-.7zM75.4 399.8h.7v.7h-.7zM84.7 394.2h.7v.7h-.7zM81.5 394.6h.7v.7h-.7zM79.8 396.6h.7v.7h-.7zM84.7 394.3h.7v.7h-.7zM79.3 397.6h.7v.7h-.7zM75.9 399.7h.7v.7h-.7zM75.4 396.8h.7v.7h-.7zM79.2 395.5h.7v.7h-.7zM76.2 397.3h.7v.7h-.7zM84.8 395.0h.7v.7h-.7zM90.2 395.1h.7v.7h-.7zM89.0 396.9h.7v.7h-.7zM85.0 395.3h.7v.7h-.7zM92.5 397.9h.7v.7h-.7zM92.7 395.0h.7v.7h-.7zM84.3 394.8h.7v.7h-.7zM84.8 392.4h.7v.7h-.7zM99.4 400.2h.7v.7h-.7zM91.3 397.6h.7v.7h-.7zM94.3 402.5h.7v.7h-.7zM94.0 399.2h.7v.7h-.7zM93.5 396.7h.7v.7h-.7zM96.0 398.6h.7v.7h-.7zM94.1 395.6h.7v.7h-.7zM96.9 406.1h.7v.7h-.7zM95.4 408.7h.7v.7h-.7zM96.9 400.4h.7v.7h-.7zM97.2 404.3h.7v.7h-.7zM98.9 406.7h.7v.7h-.7zM98.1 408.9h.7v.7h-.7zM97.3 400.5h.7v.7h-.7zM99.7 404.5h.7v.7h-.7zM95.3 410.3h.7v.7h-.7zM95.6 407.5h.7v.7h-.7zM97.6 405.2h.7v.7h-.7zM96.1 419.4h.7v.7h-.7zM95.2 415.5h.7v.7h-.7zM96.8 409.8h.7v.7h-.7zM96.5 411.1h.7v.7h-.7zM93.6 414.8h.7v.7h-.7zM95.6 412.5h.7v.7h-.7zM95.8 412.6h.7v.7h-.7zM98.2 412.2h.7v.7h-.7zM97.1 415.9h.7v.7h-.7zM95.5 411.0h.7v.7h-.7zM92.9 416.0h.7v.7h-.7zM90.4 420.9h.7v.7h-.7zM87.3 429.0h.7v.7h-.7zM87.2 423.2h.7v.7h-.7zM86.4 427.4h.7v.7h-.7zM94.8 418.3h.7v.7h-.7zM90.3 421.6h.7v.7h-.7zM90.8 428.1h.7v.7h-.7zM89.7 423.3h.7v.7h-.7zM90.6 422.9h.7v.7h-.7zM90.6 425.9h.7v.7h-.7zM90.7 422.7h.7v.7h-.7zM82.2 429.7h.7v.7h-.7zM84.3 429.9h.7v.7h-.7zM86.5 429.3h.7v.7h-.7zM88.1 429.0h.7v.7h-.7zM83.4 427.8h.7v.7h-.7zM86.1 428.7h.7v.7h-.7zM84.5 430.7h.7v.7h-.7zM87.8 427.1h.7v.7h-.7zM87.2 427.7h.7v.7h-.7zM74.6 429.9h.7v.7h-.7zM73.0 424.8h.7v.7h-.7zM72.6 425.8h.7v.7h-.7zM77.3 429.2h.7v.7h-.7zM74.4 425.8h.7v.7h-.7zM77.2 429.2h.7v.7h-.7zM77.2 429.6h.7v.7h-.7zM76.7 428.0h.7v.7h-.7zM76.0 429.6h.7v.7h-.7zM79.1 429.3h.7v.7h-.7zM69.9 414.4h.7v.7h-.7zM72.7 422.9h.7v.7h-.7zM68.5 425.4h.7v.7h-.7zM69.6 422.3h.7v.7h-.7zM70.3 423.5h.7v.7h-.7zM71.4 420.0h.7v.7h-.7zM70.8 425.6h.7v.7h-.7zM68.5 414.6h.7v.7h-.7zM73.5 426.8h.7v.7h-.7zM69.5 421.7h.7v.7h-.7zM67.5 417.4h.7v.7h-.7zM71.6 423.4h.7v.7h-.7zM67.9 410.2h.7v.7h-.7zM67.1 409.5h.7v.7h-.7zM68.4 406.6h.7v.7h-.7zM65.0 413.1h.7v.7h-.7zM68.6 405.2h.7v.7h-.7zM67.0 407.3h.7v.7h-.7zM67.5 405.9h.7v.7h-.7zM67.8 406.0h.7v.7h-.7zM69.3 406.8h.7v.7h-.7zM71.4 407.0h.7v.7h-.7zM67.6 407.9h.7v.7h-.7zM69.5 406.0h.7v.7h-.7z" fill="#14a081" fill-opacity="0.8"/>
<path d="M66.2 416.9h.7v.7h-.7zM67.8 418.6h.7v.7h-.7zM71.5 418.9h.7v.7h-.7zM71.1 416.3h.7v.7h-.7zM63.5 412.0h.7v.7h-.7zM71.8 418.5h.7v.7h-.7zM71.2 420.6h.7v.7h-.7zM71.4 418.1h.7v.7h-.7zM67.1 416.5h.7v.7h-.7zM77.3 421.3h.7v.7h-.7zM78.9 421.1h.7v.7h-.7zM76.3 420.4h.7v.7h-.7zM77.6 417.6h.7v.7h-.7zM72.2 419.9h.7v.7h-.7zM74.5 421.0h.7v.7h-.7zM77.9 420.9h.7v.7h-.7zM72.3 418.1h.7v.7h-.7zM79.1 421.0h.7v.7h-.7zM73.5 419.4h.7v.7h-.7zM78.7 421.2h.7v.7h-.7zM82.4 424.2h.7v.7h-.7zM83.1 420.2h.7v.7h-.7zM82.4 421.6h.7v.7h-.7zM82.2 421.6h.7v.7h-.7zM88.6 423.9h.7v.7h-.7zM91.5 424.0h.7v.7h-.7zM84.6 425.1h.7v.7h-.7zM88.3 424.1h.7v.7h-.7zM89.3 421.6h.7v.7h-.7zM82.3 421.3h.7v.7h-.7zM89.7 428.1h.7v.7h-.7zM90.0 428.0h.7v.7h-.7zM88.5 430.1h.7v.7h-.7zM91.6 426.9h.7v.7h-.7zM88.2 428.8h.7v.7h-.7zM90.9 428.2h.7v.7h-.7zM93.8 426.8h.7v.7h-.7zM90.5 428.8h.7v.7h-.7zM92.1 427.4h.7v.7h-.7zM89.9 428.4h.7v.7h-.7zM91.6 426.8h.7v.7h-.7zM88.7 436.5h.7v.7h-.7zM88.6 436.9h.7v.7h-.7zM88.7 438.0h.7v.7h-.7zM91.1 433.6h.7v.7h-.7zM84.5 439.4h.7v.7h-.7zM88.3 437.5h.7v.7h-.7zM86.1 441.5h.7v.7h-.7zM86.9 440.7h.7v.7h-.7zM89.9 434.8h.7v.7h-.7zM89.4 437.0h.7v.7h-.7zM81.3 443.8h.7v.7h-.7zM79.0 444.8h.7v.7h-.7zM81.4 440.1h.7v.7h-.7zM76.1 447.0h.7v.7h-.7zM87.4 443.0h.7v.7h-.7zM83.5 444.6h.7v.7h-.7zM75.7 446.8h.7v.7h-.7zM87.1 443.9h.7v.7h-.7zM81.5 444.3h.7v.7h-.7zM84.5 443.7h.7v.7h-.7zM76.4 448.5h.7v.7h-.7zM74.6 447.1h.7v.7h-.7zM69.0 448.6h.7v.7h-.7zM72.8 446.9h.7v.7h-.7zM75.6 448.2h.7v.7h-.7zM66.3 445.3h.7v.7h-.7zM76.9 447.2h.7v.7h-.7zM71.3 446.4h.7v.7h-.7zM70.9 443.7h.7v.7h-.7zM63.2 445.7h.7v.7h-.7zM67.4 446.3h.7v.7h-.7zM67.8 443.6h.7v.7h-.7zM66.2 445.3h.7v.7h-.7zM67.7 446.1h.7v.7h-.7zM64.0 443.5h.7v.7h-.7zM64.1 442.4h.7v.7h-.7zM65.5 445.5h.7v.7h-.7zM64.1 446.4h.7v.7h-.7zM65.8 441.8h.7v.7h-.7zM58.8 430.2h.7v.7h-.7zM58.1 427.1h.7v.7h-.7zM59.9 430.1h.7v.7h-.7zM59.6 430.8h.7v.7h-.7zM61.5 440.2h.7v.7h-.7zM60.2 432.4h.7v.7h-.7zM59.9 430.7h.7v.7h-.7zM61.9 440.4h.7v.7h-.7zM62.1 429.0h.7v.7h-.7zM59.5 437.8h.7v.7h-.7zM62.7 436.2h.7v.7h-.7zM60.1 429.4h.7v.7h-.7zM61.6 435.7h.7v.7h-.7zM64.3 421.6h.7v.7h-.7zM59.1 429.6h.7v.7h-.7zM60.4 423.1h.7v.7h-.7zM64.8 418.1h.7v.7h-.7zM63.3 416.0h.7v.7h-.7zM62.8 418.5h.7v.7h-.7zM65.8 416.7h.7v.7h-.7zM63.0 421.2h.7v.7h-.7zM60.7 426.4h.7v.7h-.7zM60.7 423.2h.7v.7h-.7zM60.3 426.0h.7v.7h-.7zM65.5 413.7h.7v.7h-.7zM61.8 421.1h.7v.7h-.7z" fill="#1f8ec2" fill-opacity="0.8"/>
<path d="M56.4 425.7h.7v.7h-.7zM54.1 425.7h.7v.7h-.7zM58.1 428.3h.7v.7h-.7zM52.0 421.9h.7v.7h-.7zM55.8 423.9h.7v.7h-.7zM49.1 423.9h.7v.7h-.7zM51.3 425.2h.7v.7h-.7zM50.6 425.4h.7v.7h-.7zM61.4 427.4h.7v.7h-.7zM67.2 428.8h.7v.7h-.7zM62.6 428.5h.7v.7h-.7zM63.1 432.3h.7v.7h-.7zM62.2 429.9h.7v.7h-.7zM59.8 427.2h.7v.7h-.7zM62.8 427.1h.7v.7h-.7zM61.5 427.3h.7v.7h-.7zM66.0 431.4h.7v.7h-.7zM66.4 429.2h.7v.7h-.7zM64.8 428.0h.7v.7h-.7zM69.5 438.6h.7v.7h-.7zM70.8 443.2h.7v.7h-.7zM68.6 436.4h.7v.7h-.7zM68.9 437.1h.7v.7h-.7zM72.2 438.1h.7v.7h-.7zM69.7 436.5h.7v.7h-.7zM68.5 435.0h.7v.7h-.7zM70.7 440.3h.7v.7h-.7zM65.0 431.9h.7v.7h-.7zM65.1 431.4h.7v.7h-.7zM72.6 442.1h.7v.7h-.7zM71.9 443.3h.7v.7h-.7zM68.9 443.3h.7v.7h-.7zM69.7 446.6h.7v.7h-.7zM71.3 443.4h.7v.7h-.7zM72.4 441.5h.7v.7h-.7zM65.6 448.1h.7v.7h-.7zM63.9 445.4h.7v.7h-.7zM65.8 448.1h.7v.7h-.7zM64.6 447.3h.7v.7h-.7zM61.1 445.0h.7v.7h-.7zM67.2 443.7h.7v.7h-.7zM67.0 447.5h.7v.7h-.7zM69.5 446.8h.7v.7h-.7zM67.1 448.8h.7v.7h-.7zM57.9 442.6h.7v.7h-.7zM60.3 443.4h.7v.7h-.7zM58.3 445.3h.7v.7h-.7zM62.2 448.0h.7v.7h-.7zM57.2 447.1h.7v.7h-.7zM58.1 445.8h.7v.7h-.7zM57.7 446.4h.7v.7h-.7zM56.2 447.2h.7v.7h-.7zM56.0 438.7h.7v.7h-.7zM54.8 441.0h.7v.7h-.7zM54.8 442.5h.7v.7h-.7zM53.0 437.5h.7v.7h-.7zM52.6 442.3h.7v.7h-.7zM52.0 435.8h.7v.7h-.7zM52.0 443.8h.7v.7h-.7zM53.9 439.8h.7v.7h-.7zM53.5 441.4h.7v.7h-.7zM55.1 442.5h.7v.7h-.7zM48.6 434.8h.7v.7h-.7zM52.1 425.5h.7v.7h-.7zM53.4 426.2h.7v.7h-.7zM51.5 431.1h.7v.7h-.7zM49.1 431.2h.7v.7h-.7zM50.8 438.4h.7v.7h-.7zM49.8 430.2h.7v.7h-.7zM52.5 431.3h.7v.7h-.7zM51.9 429.9h.7v.7h-.7zM48.9 427.2h.7v.7h-.7zM49.6 423.4h.7v.7h-.7zM52.6 435.0h.7v.7h-.7zM52.4 428.5h.7v.7h-.7z" fill="#3db5d9" fill-opacity="0.8"/>
<path d="M61.3 445.6h.7v.7h-.7zM64.7 440.7h.7v.7h-.7zM60.7 443.2h.7v.7h-.7zM66.3 443.5h.7v.7h-.7zM59.0 440.0h.7v.7h-.7zM64.0 441.6h.7v.7h-.7zM63.0 441.0h.7v.7h-.7zM65.9 441.0h.7v.7h-.7zM60.0 435.7h.7v.7h-.7zM70.9 444.0h.7v.7h-.7zM72.8 443.7h.7v.7h-.7zM66.2 442.9h.7v.7h-.7zM69.5 445.4h.7v.7h-.7zM63.0 441.8h.7v.7h-.7zM71.5 443.8h.7v.7h-.7zM69.5 444.3h.7v.7h-.7zM65.9 441.0h.7v.7h-.7zM72.2 444.6h.7v.7h-.7zM73.5 445.7h.7v.7h-.7zM73.4 446.0h.7v.7h-.7zM72.2 448.3h.7v.7h-.7zM73.7 446.3h.7v.7h-.7zM71.9 450.1h.7v.7h-.7zM72.8 449.5h.7v.7h-.7zM68.9 446.8h.7v.7h-.7zM69.1 449.0h.7v.7h-.7zM71.7 449.5h.7v.7h-.7zM73.6 452.3h.7v.7h-.7zM71.1 449.5h.7v.7h-.7zM67.7 452.0h.7v.7h-.7zM62.2 449.7h.7v.7h-.7zM65.0 452.2h.7v.7h-.7zM63.5 451.7h.7v.7h-.7zM67.7 451.6h.7v.7h-.7zM67.1 450.5h.7v.7h-.7zM65.6 448.2h.7v.7h-.7zM66.2 448.8h.7v.7h-.7zM57.7 446.9h.7v.7h-.7zM60.1 447.2h.7v.7h-.7zM56.8 446.2h.7v.7h-.7zM59.7 447.3h.7v.7h-.7zM62.7 450.2h.7v.7h-.7zM58.3 447.0h.7v.7h-.7zM59.0 443.1h.7v.7h-.7zM56.4 440.6h.7v.7h-.7zM58.3 439.7h.7v.7h-.7zM57.8 441.2h.7v.7h-.7zM55.0 439.7h.7v.7h-.7zM59.4 441.6h.7v.7h-.7z" fill="#d9d94a" fill-opacity="0.8"/>
<path d="M63.9 417.1h.7v.7h-.7zM58.5 413.1h.7v.7h-.7zM58.3 414.7h.7v.7h-.7zM60.4 414.7h.7v.7h-.7zM59.5 412.7h.7v.7h-.7zM57.2 412.8h.7v.7h-.7zM58.0 412.2h.7v.7h-.7zM64.8 418.7h.7v.7h-.7zM63.9 422.1h.7v.7h-.7zM67.4 424.2h.7v.7h-.7zM61.8 419.2h.7v.7h-.7zM64.4 419.1h.7v.7h-.7zM66.8 421.2h.7v.7h-.7zM63.3 418.3h.7v.7h-.7zM66.4 425.2h.7v.7h-.7zM66.3 420.9h.7v.7h-.7zM62.8 429.2h.7v.7h-.7zM64.9 426.1h.7v.7h-.7zM68.2 424.0h.7v.7h-.7zM63.6 426.7h.7v.7h-.7zM64.6 427.0h.7v.7h-.7zM66.4 422.9h.7v.7h-.7zM63.8 429.7h.7v.7h-.7zM68.6 424.2h.7v.7h-.7zM55.9 427.3h.7v.7h-.7zM59.6 429.1h.7v.7h-.7zM58.4 429.0h.7v.7h-.7zM62.2 427.0h.7v.7h-.7zM61.3 430.1h.7v.7h-.7zM60.7 429.5h.7v.7h-.7zM54.5 426.6h.7v.7h-.7zM52.4 421.6h.7v.7h-.7zM56.9 422.3h.7v.7h-.7zM55.4 414.7h.7v.7h-.7zM55.7 415.7h.7v.7h-.7zM56.8 419.4h.7v.7h-.7zM55.4 413.3h.7v.7h-.7zM55.3 412.4h.7v.7h-.7zM56.2 421.6h.7v.7h-.7zM56.6 417.9h.7v.7h-.7zM56.8 427.2h.7v.7h-.7zM60.9 419.2h.7v.7h-.7zM56.5 425.6h.7v.7h-.7zM54.3 418.3h.7v.7h-.7zM55.9 423.9h.7v.7h-.7zM56.6 419.7h.7v.7h-.7zM55.9 425.5h.7v.7h-.7z" fill="#c8cf57" fill-opacity="0.8"/>
<path d="M51.7 401.8h.7v.7h-.7zM49.0 400.6h.7v.7h-.7zM53.3 401.0h.7v.7h-.7zM54.4 401.0h.7v.7h-.7zM51.6 400.8h.7v.7h-.7zM52.2 397.9h.7v.7h-.7zM55.2 399.1h.7v.7h-.7zM57.9 401.2h.7v.7h-.7zM58.0 401.2h.7v.7h-.7zM55.7 402.0h.7v.7h-.7zM57.6 400.8h.7v.7h-.7zM59.4 401.3h.7v.7h-.7zM58.5 401.8h.7v.7h-.7zM60.4 408.5h.7v.7h-.7zM63.0 404.6h.7v.7h-.7zM61.3 403.5h.7v.7h-.7zM60.0 406.0h.7v.7h-.7zM62.5 405.9h.7v.7h-.7zM61.2 407.0h.7v.7h-.7zM60.0 409.6h.7v.7h-.7zM58.5 405.3h.7v.7h-.7zM60.6 407.0h.7v.7h-.7zM60.7 404.9h.7v.7h-.7zM62.2 403.8h.7v.7h-.7zM60.8 414.5h.7v.7h-.7zM59.9 421.3h.7v.7h-.7zM63.2 410.8h.7v.7h-.7zM62.9 417.5h.7v.7h-.7zM63.0 418.5h.7v.7h-.7zM65.9 410.2h.7v.7h-.7zM63.5 415.6h.7v.7h-.7zM62.0 414.5h.7v.7h-.7zM63.9 415.2h.7v.7h-.7zM62.0 414.5h.7v.7h-.7zM65.4 413.7h.7v.7h-.7zM58.0 427.2h.7v.7h-.7zM58.7 425.0h.7v.7h-.7zM59.2 422.5h.7v.7h-.7zM55.7 424.1h.7v.7h-.7zM59.0 425.2h.7v.7h-.7zM58.0 422.8h.7v.7h-.7zM56.3 424.9h.7v.7h-.7zM54.4 427.4h.7v.7h-.7zM52.4 424.0h.7v.7h-.7zM53.8 424.2h.7v.7h-.7zM54.4 425.8h.7v.7h-.7zM55.2 426.7h.7v.7h-.7zM54.6 426.9h.7v.7h-.7zM46.9 422.8h.7v.7h-.7zM46.4 418.7h.7v.7h-.7zM50.4 423.3h.7v.7h-.7zM48.3 421.9h.7v.7h-.7zM49.6 417.7h.7v.7h-.7zM46.3 413.6h.7v.7h-.7zM48.5 423.0h.7v.7h-.7zM48.2 417.0h.7v.7h-.7zM49.7 416.6h.7v.7h-.7zM48.8 420.1h.7v.7h-.7zM50.0 421.5h.7v.7h-.7zM49.4 408.1h.7v.7h-.7zM47.5 409.6h.7v.7h-.7zM49.9 408.8h.7v.7h-.7zM48.1 402.7h.7v.7h-.7zM46.4 408.2h.7v.7h-.7zM47.4 413.8h.7v.7h-.7zM47.1 412.1h.7v.7h-.7zM48.9 411.2h.7v.7h-.7zM48.3 403.5h.7v.7h-.7zM48.5 409.6h.7v.7h-.7zM48.4 412.1h.7v.7h-.7zM50.4 410.2h.7v.7h-.7zM47.2 408.5h.7v.7h-.7z" fill="#f5a31a" fill-opacity="0.8"/>
<line x1="39.70" y1="388.50" x2="39.70" y2="457.30" stroke="#222" stroke-width="0.9"/>
<line x1="39.25" y1="456.90" x2="102.30" y2="456.90" stroke="#222" stroke-width="0.9"/>
<line x1="37.50" y1="401.00" x2="39.70" y2="401.00" stroke="#222" stroke-width="0.7"/>
<text x="34.00" y="403.20" font-size="6.2" text-anchor="end" fill="#333">400</text>
<line x1="37.50" y1="420.50" x2="39.70" y2="420.50" stroke="#222" stroke-width="0.7"/>
<text x="34.00" y="422.70" font-size="6.2" text-anchor="end" fill="#333">0</text>
<line x1="37.50" y1="439.20" x2="39.70" y2="439.20" stroke="#222" stroke-width="0.7"/>
<text x="34.00" y="441.40" font-size="6.2" text-anchor="end" fill="#333">–400</text>
<line x1="46.90" y1="456.90" x2="46.90" y2="459.20" stroke="#222" stroke-width="0.7"/>
<text x="46.90" y="468.80" font-size="6.2" text-anchor="middle" fill="#333">–500</text>
<line x1="66.20" y1="456.90" x2="66.20" y2="459.20" stroke="#222" stroke-width="0.7"/>
<text x="66.20" y="468.80" font-size="6.2" text-anchor="middle" fill="#333">0</text>
<line x1="85.40" y1="456.90" x2="85.40" y2="459.20" stroke="#222" stroke-width="0.7"/>
<text x="85.40" y="468.80" font-size="6.2" text-anchor="middle" fill="#333">500</text>
<text x="13.70" y="423.00" font-size="7.6" text-anchor="middle" fill="#333" transform="rotate(-90 13.700000000000003 423.0)" textLength="20" lengthAdjust="spacingAndGlyphs">PCA_2</text>
<text x="70.80" y="480.70" font-size="7.8" text-anchor="middle" fill="#333" textLength="19.5" lengthAdjust="spacingAndGlyphs">PCA_1</text>
<path d="M52.8,402.6 C54,425 60,437 69,437 C77.5,437 84,418 88.3,399.2" stroke="#111" stroke-width="1.1" fill="none"/>
<path d="M90.0,403.3 L88.3,399.2 L85.2,402.3" fill="none" stroke="#111" stroke-width="1.0" stroke-linejoin="miter"/>
<path d="M68.7,436.5 L68.9,421.6" stroke="#111" stroke-width="1.0" fill="none"/>
<path d="M71.4,425.2 L68.9,421.6 L66.4,425.2" fill="none" stroke="#111" stroke-width="1.0" stroke-linejoin="miter"/>
<text x="67.20" y="422.60" font-size="7.4" text-anchor="middle" fill="#222">Act</text>
<text x="83.80" y="394.80" font-size="7.8" text-anchor="middle" fill="#222" textLength="36.4" lengthAdjust="spacingAndGlyphs">Term/SenL</text>
<g filter="url(#db)"><polygon points="174.0,402.0 182.0,399.0 190.0,400.0 193.5,408.0 193.0,420.0 191.0,432.0 186.0,440.0 178.0,441.0 173.0,432.0 172.0,415.0" fill="#14a081" stroke="none" stroke-width="0.5"/><polygon points="161.0,405.0 168.0,402.0 176.0,402.0 183.0,405.0 184.0,418.0 182.0,430.0 175.0,433.0 167.0,430.0 160.0,422.0" fill="#1f8ec2" stroke="none" stroke-width="0.5"/><polygon points="155.0,418.0 163.0,418.0 172.0,425.0 176.0,433.0 175.0,442.0 168.0,446.0 160.0,444.0 155.0,432.0" fill="#3db5d9" stroke="none" stroke-width="0.5"/><polygon points="157.0,425.0 164.0,428.0 172.0,432.0 172.5,442.0 168.0,449.0 161.0,447.0 157.0,438.0" fill="#e9dc3c" stroke="none" stroke-width="0.5"/><polygon points="146.5,404.0 151.0,401.5 157.0,402.0 159.0,410.0 158.5,425.0 157.5,437.0 152.0,439.5 147.0,436.0 146.0,420.0" fill="#f5a31a" stroke="none" stroke-width="0.5"/></g>
<path d="M182.0 399.8h.7v.7h-.7zM176.0 403.9h.7v.7h-.7zM177.0 402.0h.7v.7h-.7zM179.3 398.8h.7v.7h-.7zM178.1 399.0h.7v.7h-.7zM178.5 401.9h.7v.7h-.7zM180.5 400.7h.7v.7h-.7zM178.0 399.7h.7v.7h-.7zM177.5 400.2h.7v.7h-.7zM183.0 395.9h.7v.7h-.7zM184.4 400.1h.7v.7h-.7zM184.1 399.0h.7v.7h-.7zM186.4 400.6h.7v.7h-.7zM184.6 399.5h.7v.7h-.7zM186.6 397.9h.7v.7h-.7zM182.1 399.4h.7v.7h-.7zM189.4 401.6h.7v.7h-.7zM192.1 399.5h.7v.7h-.7zM191.0 409.4h.7v.7h-.7zM195.2 409.8h.7v.7h-.7zM191.4 406.1h.7v.7h-.7zM187.7 403.2h.7v.7h-.7zM191.3 405.3h.7v.7h-.7zM190.3 402.4h.7v.7h-.7zM193.7 402.9h.7v.7h-.7zM192.4 407.0h.7v.7h-.7zM190.0 414.9h.7v.7h-.7zM192.6 418.6h.7v.7h-.7zM195.0 418.3h.7v.7h-.7zM192.3 408.5h.7v.7h-.7zM194.3 414.6h.7v.7h-.7zM193.3 418.8h.7v.7h-.7zM194.0 413.6h.7v.7h-.7zM194.7 410.2h.7v.7h-.7zM194.0 411.3h.7v.7h-.7zM192.8 416.6h.7v.7h-.7zM193.3 416.9h.7v.7h-.7zM193.3 410.6h.7v.7h-.7zM193.1 408.4h.7v.7h-.7zM192.0 422.9h.7v.7h-.7zM191.0 427.8h.7v.7h-.7zM189.8 430.4h.7v.7h-.7zM191.8 427.3h.7v.7h-.7zM191.7 423.3h.7v.7h-.7zM192.9 422.4h.7v.7h-.7zM188.2 431.7h.7v.7h-.7zM190.4 428.2h.7v.7h-.7zM191.3 426.7h.7v.7h-.7zM191.6 429.0h.7v.7h-.7zM194.7 421.9h.7v.7h-.7zM193.8 422.8h.7v.7h-.7zM193.2 424.9h.7v.7h-.7zM187.6 439.1h.7v.7h-.7zM190.6 433.3h.7v.7h-.7zM187.4 434.4h.7v.7h-.7zM190.0 434.4h.7v.7h-.7zM188.4 438.0h.7v.7h-.7zM188.0 435.5h.7v.7h-.7zM186.3 439.3h.7v.7h-.7zM189.1 435.1h.7v.7h-.7zM186.5 435.1h.7v.7h-.7zM189.1 436.2h.7v.7h-.7zM180.7 440.0h.7v.7h-.7zM181.5 440.1h.7v.7h-.7zM185.5 440.0h.7v.7h-.7zM181.9 440.9h.7v.7h-.7zM184.6 441.6h.7v.7h-.7zM179.9 441.6h.7v.7h-.7zM180.2 440.5h.7v.7h-.7zM183.6 443.4h.7v.7h-.7zM175.7 438.7h.7v.7h-.7zM176.9 438.4h.7v.7h-.7zM172.6 434.8h.7v.7h-.7zM176.1 433.5h.7v.7h-.7zM175.6 440.5h.7v.7h-.7zM175.8 436.7h.7v.7h-.7zM173.2 434.0h.7v.7h-.7zM172.8 430.4h.7v.7h-.7zM174.7 436.7h.7v.7h-.7zM177.2 436.4h.7v.7h-.7zM175.0 439.0h.7v.7h-.7zM172.4 418.0h.7v.7h-.7zM170.2 416.7h.7v.7h-.7zM170.9 417.3h.7v.7h-.7zM174.3 417.1h.7v.7h-.7zM169.8 420.3h.7v.7h-.7zM173.2 418.8h.7v.7h-.7zM171.2 417.9h.7v.7h-.7zM172.5 417.9h.7v.7h-.7zM175.7 422.9h.7v.7h-.7zM171.0 421.4h.7v.7h-.7zM171.4 421.1h.7v.7h-.7zM171.2 413.4h.7v.7h-.7zM170.3 423.7h.7v.7h-.7zM176.1 423.6h.7v.7h-.7zM172.2 426.6h.7v.7h-.7zM173.9 428.2h.7v.7h-.7zM173.1 425.9h.7v.7h-.7zM169.4 419.3h.7v.7h-.7zM172.4 409.8h.7v.7h-.7zM173.5 410.3h.7v.7h-.7zM171.3 415.4h.7v.7h-.7zM173.2 403.7h.7v.7h-.7zM171.4 409.9h.7v.7h-.7zM171.1 413.3h.7v.7h-.7zM172.4 412.4h.7v.7h-.7zM173.1 407.4h.7v.7h-.7zM172.3 407.0h.7v.7h-.7zM173.3 413.5h.7v.7h-.7zM171.7 419.4h.7v.7h-.7zM173.2 403.0h.7v.7h-.7zM171.4 416.5h.7v.7h-.7zM174.5 402.7h.7v.7h-.7z" fill="#14a081" fill-opacity="0.8"/>
<path d="M166.7 401.6h.7v.7h-.7zM159.9 405.6h.7v.7h-.7zM162.8 407.0h.7v.7h-.7zM163.4 406.0h.7v.7h-.7zM162.1 404.6h.7v.7h-.7zM164.8 404.2h.7v.7h-.7zM163.6 401.4h.7v.7h-.7zM164.1 404.1h.7v.7h-.7zM169.3 403.1h.7v.7h-.7zM167.5 400.8h.7v.7h-.7zM169.2 403.6h.7v.7h-.7zM170.7 400.6h.7v.7h-.7zM171.3 403.6h.7v.7h-.7zM172.0 404.3h.7v.7h-.7zM171.1 399.7h.7v.7h-.7zM174.8 402.5h.7v.7h-.7zM181.0 403.9h.7v.7h-.7zM179.3 403.4h.7v.7h-.7zM174.3 403.6h.7v.7h-.7zM179.7 404.8h.7v.7h-.7zM179.8 401.4h.7v.7h-.7zM180.3 402.6h.7v.7h-.7zM181.4 408.0h.7v.7h-.7zM184.1 403.5h.7v.7h-.7zM182.7 408.1h.7v.7h-.7zM183.7 416.4h.7v.7h-.7zM182.8 410.3h.7v.7h-.7zM181.8 407.8h.7v.7h-.7zM180.2 410.4h.7v.7h-.7zM183.6 409.3h.7v.7h-.7zM183.5 404.9h.7v.7h-.7zM183.0 405.0h.7v.7h-.7zM181.2 413.4h.7v.7h-.7zM183.8 411.6h.7v.7h-.7zM186.7 407.3h.7v.7h-.7zM183.1 418.6h.7v.7h-.7zM183.6 406.9h.7v.7h-.7zM185.7 404.9h.7v.7h-.7zM182.9 418.8h.7v.7h-.7zM181.9 426.6h.7v.7h-.7zM182.0 420.5h.7v.7h-.7zM182.3 422.3h.7v.7h-.7zM179.6 430.4h.7v.7h-.7zM180.7 427.8h.7v.7h-.7zM182.2 426.5h.7v.7h-.7zM183.3 423.3h.7v.7h-.7zM182.1 427.3h.7v.7h-.7zM186.2 418.6h.7v.7h-.7zM181.2 423.2h.7v.7h-.7zM181.9 427.9h.7v.7h-.7zM182.8 431.7h.7v.7h-.7zM176.8 435.0h.7v.7h-.7zM177.5 431.0h.7v.7h-.7zM175.7 434.5h.7v.7h-.7zM176.3 433.3h.7v.7h-.7zM181.9 430.7h.7v.7h-.7zM176.7 430.6h.7v.7h-.7zM180.8 431.1h.7v.7h-.7zM174.6 429.3h.7v.7h-.7zM172.7 427.6h.7v.7h-.7zM169.5 432.3h.7v.7h-.7zM172.2 429.9h.7v.7h-.7zM175.8 432.1h.7v.7h-.7zM167.1 430.2h.7v.7h-.7zM171.0 431.8h.7v.7h-.7zM168.7 431.4h.7v.7h-.7zM168.4 428.0h.7v.7h-.7zM173.6 433.7h.7v.7h-.7zM164.4 426.3h.7v.7h-.7zM167.1 427.8h.7v.7h-.7zM157.8 421.4h.7v.7h-.7zM165.2 426.6h.7v.7h-.7zM162.6 426.4h.7v.7h-.7zM160.6 423.6h.7v.7h-.7zM160.6 425.2h.7v.7h-.7zM161.6 425.6h.7v.7h-.7zM161.9 424.8h.7v.7h-.7zM164.4 430.4h.7v.7h-.7zM159.7 424.9h.7v.7h-.7zM158.8 418.5h.7v.7h-.7zM157.9 411.9h.7v.7h-.7zM157.1 420.9h.7v.7h-.7zM161.8 409.6h.7v.7h-.7zM161.8 412.4h.7v.7h-.7zM157.8 407.1h.7v.7h-.7zM159.7 416.7h.7v.7h-.7zM163.3 411.6h.7v.7h-.7zM161.5 422.9h.7v.7h-.7zM160.5 412.1h.7v.7h-.7zM157.3 421.0h.7v.7h-.7zM162.8 417.0h.7v.7h-.7zM160.4 412.8h.7v.7h-.7zM160.0 406.0h.7v.7h-.7zM162.5 411.1h.7v.7h-.7zM160.8 421.5h.7v.7h-.7zM161.5 421.2h.7v.7h-.7zM159.7 417.6h.7v.7h-.7z" fill="#1f8ec2" fill-opacity="0.8"/>
<path d="M158.9 416.8h.7v.7h-.7zM157.0 417.6h.7v.7h-.7zM158.4 416.5h.7v.7h-.7zM162.2 418.4h.7v.7h-.7zM162.0 417.8h.7v.7h-.7zM159.9 416.1h.7v.7h-.7zM160.1 418.5h.7v.7h-.7zM160.7 416.4h.7v.7h-.7zM163.1 422.5h.7v.7h-.7zM168.3 425.5h.7v.7h-.7zM172.2 425.7h.7v.7h-.7zM168.3 424.2h.7v.7h-.7zM168.9 424.8h.7v.7h-.7zM165.2 421.3h.7v.7h-.7zM167.5 420.5h.7v.7h-.7zM171.1 425.8h.7v.7h-.7zM162.3 422.6h.7v.7h-.7zM168.4 417.0h.7v.7h-.7zM169.9 424.3h.7v.7h-.7zM164.5 420.5h.7v.7h-.7zM171.9 424.7h.7v.7h-.7zM173.1 428.2h.7v.7h-.7zM171.9 426.1h.7v.7h-.7zM174.0 431.8h.7v.7h-.7zM175.3 424.3h.7v.7h-.7zM176.2 435.9h.7v.7h-.7zM175.1 427.7h.7v.7h-.7zM174.0 431.8h.7v.7h-.7zM175.2 426.4h.7v.7h-.7zM176.7 437.1h.7v.7h-.7zM174.2 438.2h.7v.7h-.7zM172.9 433.7h.7v.7h-.7zM174.2 439.5h.7v.7h-.7zM178.0 438.4h.7v.7h-.7zM172.0 437.2h.7v.7h-.7zM174.4 437.2h.7v.7h-.7zM171.7 439.2h.7v.7h-.7zM178.7 441.9h.7v.7h-.7zM175.9 442.8h.7v.7h-.7zM168.1 444.9h.7v.7h-.7zM174.3 443.2h.7v.7h-.7zM174.0 441.6h.7v.7h-.7zM173.3 442.1h.7v.7h-.7zM167.4 442.8h.7v.7h-.7zM169.8 443.7h.7v.7h-.7zM171.0 444.7h.7v.7h-.7zM158.2 445.2h.7v.7h-.7zM163.8 445.3h.7v.7h-.7zM163.6 443.8h.7v.7h-.7zM164.8 446.7h.7v.7h-.7zM166.5 444.2h.7v.7h-.7zM164.8 446.9h.7v.7h-.7zM166.3 446.0h.7v.7h-.7zM164.9 442.3h.7v.7h-.7zM161.8 446.1h.7v.7h-.7zM158.1 439.0h.7v.7h-.7zM158.0 439.6h.7v.7h-.7zM155.0 432.9h.7v.7h-.7zM157.5 439.7h.7v.7h-.7zM157.0 440.7h.7v.7h-.7zM157.9 435.5h.7v.7h-.7zM155.3 436.7h.7v.7h-.7zM158.8 444.5h.7v.7h-.7zM158.8 441.2h.7v.7h-.7zM156.5 438.4h.7v.7h-.7zM159.5 441.8h.7v.7h-.7zM159.2 440.8h.7v.7h-.7zM159.7 437.5h.7v.7h-.7zM158.6 440.1h.7v.7h-.7zM152.4 416.2h.7v.7h-.7zM156.1 423.9h.7v.7h-.7zM155.4 422.7h.7v.7h-.7zM156.9 417.1h.7v.7h-.7zM153.6 426.8h.7v.7h-.7zM154.7 419.5h.7v.7h-.7zM156.6 422.4h.7v.7h-.7zM157.3 433.9h.7v.7h-.7zM155.8 421.7h.7v.7h-.7zM154.4 429.1h.7v.7h-.7zM155.3 428.1h.7v.7h-.7zM154.8 419.5h.7v.7h-.7zM153.7 426.2h.7v.7h-.7zM151.2 428.2h.7v.7h-.7zM156.5 422.5h.7v.7h-.7z" fill="#3db5d9" fill-opacity="0.8"/>
<path d="M161.0 430.1h.7v.7h-.7zM165.5 428.7h.7v.7h-.7zM157.8 426.5h.7v.7h-.7zM160.9 425.3h.7v.7h-.7zM159.2 424.3h.7v.7h-.7zM158.9 423.7h.7v.7h-.7zM159.9 424.6h.7v.7h-.7zM163.0 426.9h.7v.7h-.7zM167.2 429.8h.7v.7h-.7zM170.5 429.6h.7v.7h-.7zM165.3 427.2h.7v.7h-.7zM166.3 428.2h.7v.7h-.7zM168.1 432.9h.7v.7h-.7zM167.0 430.4h.7v.7h-.7zM168.5 425.0h.7v.7h-.7zM167.5 432.8h.7v.7h-.7zM170.9 432.7h.7v.7h-.7zM172.9 437.7h.7v.7h-.7zM172.8 436.5h.7v.7h-.7zM171.3 441.2h.7v.7h-.7zM171.9 440.6h.7v.7h-.7zM170.8 442.2h.7v.7h-.7zM171.3 433.9h.7v.7h-.7zM172.4 437.7h.7v.7h-.7zM169.5 436.3h.7v.7h-.7zM171.8 433.6h.7v.7h-.7zM172.9 435.7h.7v.7h-.7zM173.4 433.2h.7v.7h-.7zM167.2 447.7h.7v.7h-.7zM169.2 446.8h.7v.7h-.7zM174.6 441.6h.7v.7h-.7zM172.8 445.2h.7v.7h-.7zM170.2 443.0h.7v.7h-.7zM172.3 442.1h.7v.7h-.7zM171.8 440.2h.7v.7h-.7zM169.3 445.7h.7v.7h-.7zM166.8 445.6h.7v.7h-.7zM170.0 447.6h.7v.7h-.7zM161.1 448.0h.7v.7h-.7zM166.6 451.1h.7v.7h-.7zM165.0 446.4h.7v.7h-.7zM165.3 447.8h.7v.7h-.7zM167.7 447.0h.7v.7h-.7zM165.1 447.4h.7v.7h-.7zM163.7 445.9h.7v.7h-.7zM158.6 448.1h.7v.7h-.7zM161.0 442.7h.7v.7h-.7zM155.8 436.8h.7v.7h-.7zM157.8 441.4h.7v.7h-.7zM161.6 440.8h.7v.7h-.7zM157.5 437.6h.7v.7h-.7zM159.0 445.3h.7v.7h-.7zM161.2 444.8h.7v.7h-.7zM158.5 438.3h.7v.7h-.7zM161.9 448.7h.7v.7h-.7zM155.8 430.4h.7v.7h-.7zM155.6 433.7h.7v.7h-.7zM155.2 427.1h.7v.7h-.7zM156.8 439.5h.7v.7h-.7zM160.4 438.7h.7v.7h-.7zM154.9 428.2h.7v.7h-.7zM156.0 425.5h.7v.7h-.7zM160.7 432.2h.7v.7h-.7zM157.9 434.1h.7v.7h-.7zM156.6 432.4h.7v.7h-.7zM155.1 427.6h.7v.7h-.7zM160.1 435.1h.7v.7h-.7zM156.4 430.4h.7v.7h-.7zM155.7 436.1h.7v.7h-.7z" fill="#e9dc3c" fill-opacity="0.8"/>
<path d="M148.5 403.4h.7v.7h-.7zM148.5 403.8h.7v.7h-.7zM148.2 403.4h.7v.7h-.7zM153.9 402.6h.7v.7h-.7zM149.5 404.0h.7v.7h-.7zM155.8 402.4h.7v.7h-.7zM150.3 403.8h.7v.7h-.7zM156.7 403.3h.7v.7h-.7zM156.4 402.7h.7v.7h-.7zM153.4 400.6h.7v.7h-.7zM156.9 401.0h.7v.7h-.7zM156.1 403.7h.7v.7h-.7zM154.9 403.1h.7v.7h-.7zM155.6 407.4h.7v.7h-.7zM158.8 408.2h.7v.7h-.7zM157.9 405.6h.7v.7h-.7zM159.4 406.2h.7v.7h-.7zM157.5 409.6h.7v.7h-.7zM157.3 404.0h.7v.7h-.7zM156.8 404.7h.7v.7h-.7zM156.6 421.3h.7v.7h-.7zM158.2 414.5h.7v.7h-.7zM158.5 417.3h.7v.7h-.7zM156.5 412.5h.7v.7h-.7zM160.1 419.9h.7v.7h-.7zM158.8 425.3h.7v.7h-.7zM159.2 411.1h.7v.7h-.7zM161.0 417.3h.7v.7h-.7zM159.1 415.1h.7v.7h-.7zM160.6 421.0h.7v.7h-.7zM157.0 417.3h.7v.7h-.7zM159.9 419.3h.7v.7h-.7zM160.5 415.4h.7v.7h-.7zM157.9 409.1h.7v.7h-.7zM159.8 419.1h.7v.7h-.7zM157.5 422.5h.7v.7h-.7zM158.4 435.6h.7v.7h-.7zM157.1 430.5h.7v.7h-.7zM155.2 435.4h.7v.7h-.7zM155.7 434.9h.7v.7h-.7zM158.2 433.2h.7v.7h-.7zM158.0 436.1h.7v.7h-.7zM159.4 431.4h.7v.7h-.7zM158.3 431.7h.7v.7h-.7zM158.8 431.5h.7v.7h-.7zM156.2 427.8h.7v.7h-.7zM158.7 431.5h.7v.7h-.7zM160.1 431.4h.7v.7h-.7zM158.5 433.8h.7v.7h-.7zM155.9 436.2h.7v.7h-.7zM156.2 440.3h.7v.7h-.7zM155.8 438.9h.7v.7h-.7zM151.6 435.9h.7v.7h-.7zM151.2 438.8h.7v.7h-.7zM153.0 435.0h.7v.7h-.7zM150.8 438.9h.7v.7h-.7zM151.7 437.9h.7v.7h-.7zM148.1 436.3h.7v.7h-.7zM150.4 439.6h.7v.7h-.7zM151.8 440.8h.7v.7h-.7zM145.5 437.1h.7v.7h-.7zM149.0 436.7h.7v.7h-.7zM145.5 431.1h.7v.7h-.7zM147.9 420.9h.7v.7h-.7zM145.3 436.2h.7v.7h-.7zM146.1 428.4h.7v.7h-.7zM144.6 436.6h.7v.7h-.7zM145.7 430.0h.7v.7h-.7zM145.0 425.3h.7v.7h-.7zM146.1 424.2h.7v.7h-.7zM146.3 425.2h.7v.7h-.7zM148.0 429.3h.7v.7h-.7zM147.4 430.4h.7v.7h-.7zM148.3 425.5h.7v.7h-.7zM145.6 420.8h.7v.7h-.7zM146.3 430.9h.7v.7h-.7zM149.6 433.0h.7v.7h-.7zM150.5 435.9h.7v.7h-.7zM145.7 418.3h.7v.7h-.7zM147.7 417.0h.7v.7h-.7zM148.0 408.3h.7v.7h-.7zM146.8 414.7h.7v.7h-.7zM145.6 405.8h.7v.7h-.7zM148.7 409.6h.7v.7h-.7zM147.1 414.4h.7v.7h-.7zM145.3 408.2h.7v.7h-.7zM145.5 412.5h.7v.7h-.7zM144.0 410.8h.7v.7h-.7zM145.4 413.9h.7v.7h-.7zM146.4 414.3h.7v.7h-.7zM146.0 417.5h.7v.7h-.7zM145.1 414.9h.7v.7h-.7zM147.1 417.3h.7v.7h-.7zM143.8 418.2h.7v.7h-.7zM147.9 407.0h.7v.7h-.7z" fill="#f5a31a" fill-opacity="0.8"/>
<line x1="139.25" y1="388.50" x2="139.25" y2="457.30" stroke="#222" stroke-width="0.9"/>
<line x1="138.80" y1="456.90" x2="201.60" y2="456.90" stroke="#222" stroke-width="0.9"/>
<line x1="137.05" y1="401.00" x2="139.25" y2="401.00" stroke="#222" stroke-width="0.7"/>
<text x="133.55" y="403.20" font-size="6.2" text-anchor="end" fill="#333">400</text>
<line x1="137.05" y1="420.50" x2="139.25" y2="420.50" stroke="#222" stroke-width="0.7"/>
<text x="133.55" y="422.70" font-size="6.2" text-anchor="end" fill="#333">0</text>
<line x1="137.05" y1="439.20" x2="139.25" y2="439.20" stroke="#222" stroke-width="0.7"/>
<text x="133.55" y="441.40" font-size="6.2" text-anchor="end" fill="#333">–400</text>
<line x1="146.45" y1="456.90" x2="146.45" y2="459.20" stroke="#222" stroke-width="0.7"/>
<text x="146.45" y="468.80" font-size="6.2" text-anchor="middle" fill="#333">–500</text>
<line x1="165.75" y1="456.90" x2="165.75" y2="459.20" stroke="#222" stroke-width="0.7"/>
<text x="165.75" y="468.80" font-size="6.2" text-anchor="middle" fill="#333">0</text>
<line x1="184.95" y1="456.90" x2="184.95" y2="459.20" stroke="#222" stroke-width="0.7"/>
<text x="184.95" y="468.80" font-size="6.2" text-anchor="middle" fill="#333">500</text>
<text x="113.25" y="423.00" font-size="7.6" text-anchor="middle" fill="#333" transform="rotate(-90 113.25 423.0)" textLength="20" lengthAdjust="spacingAndGlyphs">PCA_3</text>
<text x="170.40" y="480.70" font-size="7.8" text-anchor="middle" fill="#333" textLength="19.5" lengthAdjust="spacingAndGlyphs">PCA_1</text>
<path d="M152.4,438.8 L153.1,414.2 L175.8,426.2 C179.5,425.8 183.5,417 186.8,407.0" stroke="#111" stroke-width="1.1" fill="none" stroke-linejoin="round"/>
<path d="M188.0,411.2 L186.8,407.0 L183.3,409.7" fill="none" stroke="#111" stroke-width="1.0" stroke-linejoin="miter"/>
<path d="M169.3,423.6 L168.2,444.6" stroke="#111" stroke-width="1.0" fill="none"/>
<path d="M165.9,441.0 L168.2,444.8 L170.8,441.3" fill="none" stroke="#111" stroke-width="1.0" stroke-linejoin="miter"/>
<text x="166.40" y="456.00" font-size="7.8" text-anchor="middle" fill="#222">Act</text>
<text x="182.40" y="400.30" font-size="7.8" text-anchor="middle" fill="#222" textLength="35" lengthAdjust="spacingAndGlyphs">Term/SenL</text>
<g filter="url(#db)"><polygon points="246.0,410.0 252.0,405.0 262.0,403.0 270.0,405.0 271.0,416.0 268.0,426.0 258.0,427.0 248.0,424.0" fill="#1f8ec2" stroke="none" stroke-width="0.5"/><polygon points="244.0,422.0 252.0,424.0 262.0,430.0 267.0,440.0 264.0,447.0 255.0,448.0 248.0,441.0" fill="#e3dc52" stroke="none" stroke-width="0.5"/><polygon points="255.0,416.0 265.0,418.0 276.0,420.0 281.0,428.0 279.0,440.0 271.0,445.0 262.0,443.0 256.0,432.0" fill="#3db5d9" stroke="none" stroke-width="0.5"/><polygon points="275.0,403.0 283.0,402.0 291.0,404.0 294.0,412.0 293.0,422.0 288.0,426.0 280.0,423.0 276.0,414.0" fill="#14a081" stroke="none" stroke-width="0.5"/><polygon points="268.5,403.5 274.5,403.0 280.5,416.0 285.5,426.0 289.5,437.0 286.0,440.5 281.0,436.0 276.0,425.0 271.0,414.0" fill="#f5a31a" stroke="none" stroke-width="0.5"/></g>
<path d="M247.5 408.3h.7v.7h-.7zM251.9 403.8h.7v.7h-.7zM249.4 403.7h.7v.7h-.7zM246.9 408.2h.7v.7h-.7zM250.7 405.2h.7v.7h-.7zM251.2 404.4h.7v.7h-.7zM249.6 404.3h.7v.7h-.7zM250.8 406.7h.7v.7h-.7zM258.4 406.1h.7v.7h-.7zM257.0 404.8h.7v.7h-.7zM250.7 403.1h.7v.7h-.7zM261.1 401.8h.7v.7h-.7zM259.3 404.7h.7v.7h-.7zM260.9 405.3h.7v.7h-.7zM259.5 404.5h.7v.7h-.7zM261.2 402.4h.7v.7h-.7zM264.2 404.0h.7v.7h-.7zM259.4 402.1h.7v.7h-.7zM258.4 402.9h.7v.7h-.7zM263.5 400.3h.7v.7h-.7zM262.1 402.9h.7v.7h-.7zM265.2 402.6h.7v.7h-.7zM267.5 405.0h.7v.7h-.7zM270.1 405.5h.7v.7h-.7zM262.0 403.3h.7v.7h-.7zM264.3 402.9h.7v.7h-.7zM267.8 404.7h.7v.7h-.7zM264.7 405.6h.7v.7h-.7zM270.5 410.5h.7v.7h-.7zM270.3 412.9h.7v.7h-.7zM270.1 408.5h.7v.7h-.7zM271.3 413.0h.7v.7h-.7zM273.1 403.9h.7v.7h-.7zM269.1 411.6h.7v.7h-.7zM268.7 412.1h.7v.7h-.7zM268.5 411.3h.7v.7h-.7zM269.6 407.9h.7v.7h-.7zM271.1 406.3h.7v.7h-.7zM274.0 414.1h.7v.7h-.7zM270.4 409.4h.7v.7h-.7zM269.7 420.9h.7v.7h-.7zM268.8 418.7h.7v.7h-.7zM269.9 424.1h.7v.7h-.7zM268.1 425.8h.7v.7h-.7zM269.1 423.2h.7v.7h-.7zM268.9 420.1h.7v.7h-.7zM270.0 414.5h.7v.7h-.7zM267.1 423.7h.7v.7h-.7zM270.8 425.7h.7v.7h-.7zM271.9 419.2h.7v.7h-.7zM270.9 422.6h.7v.7h-.7zM265.7 427.8h.7v.7h-.7zM261.3 424.3h.7v.7h-.7zM257.1 430.4h.7v.7h-.7zM263.3 428.4h.7v.7h-.7zM255.6 426.9h.7v.7h-.7zM258.9 428.7h.7v.7h-.7zM259.4 427.0h.7v.7h-.7zM257.8 426.2h.7v.7h-.7zM259.3 427.1h.7v.7h-.7zM264.6 424.2h.7v.7h-.7zM268.1 426.9h.7v.7h-.7zM256.7 429.4h.7v.7h-.7zM248.1 422.8h.7v.7h-.7zM249.6 423.0h.7v.7h-.7zM248.4 424.0h.7v.7h-.7zM255.5 425.5h.7v.7h-.7zM256.7 426.4h.7v.7h-.7zM249.8 426.0h.7v.7h-.7zM253.3 426.5h.7v.7h-.7zM252.2 425.3h.7v.7h-.7zM256.7 427.5h.7v.7h-.7zM260.7 427.0h.7v.7h-.7zM248.8 411.2h.7v.7h-.7zM247.7 418.9h.7v.7h-.7zM246.3 420.6h.7v.7h-.7zM246.7 415.1h.7v.7h-.7zM246.2 417.1h.7v.7h-.7zM248.9 414.1h.7v.7h-.7zM244.4 411.4h.7v.7h-.7zM248.1 418.7h.7v.7h-.7zM246.2 422.6h.7v.7h-.7zM247.8 419.3h.7v.7h-.7zM245.0 418.1h.7v.7h-.7zM250.4 422.1h.7v.7h-.7zM247.1 420.5h.7v.7h-.7zM248.4 412.6h.7v.7h-.7zM243.1 410.8h.7v.7h-.7z" fill="#1f8ec2" fill-opacity="0.8"/>
<path d="M252.2 422.9h.7v.7h-.7zM251.7 423.8h.7v.7h-.7zM242.9 421.2h.7v.7h-.7zM244.6 423.4h.7v.7h-.7zM242.9 422.9h.7v.7h-.7zM248.6 420.0h.7v.7h-.7zM250.9 425.8h.7v.7h-.7zM249.7 422.6h.7v.7h-.7zM245.7 421.8h.7v.7h-.7zM259.1 430.7h.7v.7h-.7zM255.9 422.0h.7v.7h-.7zM260.1 432.2h.7v.7h-.7zM262.3 430.3h.7v.7h-.7zM259.0 428.0h.7v.7h-.7zM259.5 427.6h.7v.7h-.7zM251.7 424.8h.7v.7h-.7zM256.0 423.8h.7v.7h-.7zM252.2 423.6h.7v.7h-.7zM264.5 429.3h.7v.7h-.7zM251.8 424.7h.7v.7h-.7zM262.0 429.9h.7v.7h-.7zM262.8 433.3h.7v.7h-.7zM266.1 436.6h.7v.7h-.7zM264.4 435.4h.7v.7h-.7zM262.4 430.5h.7v.7h-.7zM265.1 433.3h.7v.7h-.7zM266.6 434.6h.7v.7h-.7zM261.9 431.3h.7v.7h-.7zM265.8 436.4h.7v.7h-.7zM263.8 429.9h.7v.7h-.7zM262.6 432.8h.7v.7h-.7zM264.5 436.7h.7v.7h-.7zM267.4 439.1h.7v.7h-.7zM267.7 439.6h.7v.7h-.7zM263.5 443.2h.7v.7h-.7zM266.0 448.8h.7v.7h-.7zM267.3 442.4h.7v.7h-.7zM266.1 441.7h.7v.7h-.7zM264.6 448.1h.7v.7h-.7zM263.3 442.8h.7v.7h-.7zM267.6 445.1h.7v.7h-.7zM259.3 449.0h.7v.7h-.7zM263.1 445.1h.7v.7h-.7zM262.3 447.9h.7v.7h-.7zM255.7 447.0h.7v.7h-.7zM261.5 446.3h.7v.7h-.7zM263.9 447.7h.7v.7h-.7zM266.5 448.1h.7v.7h-.7zM260.8 445.8h.7v.7h-.7zM259.4 451.1h.7v.7h-.7zM256.0 445.9h.7v.7h-.7zM252.6 444.5h.7v.7h-.7zM248.7 442.5h.7v.7h-.7zM255.9 443.7h.7v.7h-.7zM249.5 442.8h.7v.7h-.7zM251.4 446.0h.7v.7h-.7zM250.6 443.6h.7v.7h-.7zM254.2 439.6h.7v.7h-.7zM254.1 444.4h.7v.7h-.7zM252.5 446.2h.7v.7h-.7zM247.2 440.7h.7v.7h-.7zM246.8 437.9h.7v.7h-.7zM247.0 441.2h.7v.7h-.7zM244.9 431.7h.7v.7h-.7zM245.7 419.7h.7v.7h-.7zM244.3 421.4h.7v.7h-.7zM245.6 433.8h.7v.7h-.7zM243.6 429.4h.7v.7h-.7zM245.7 438.6h.7v.7h-.7zM245.9 430.9h.7v.7h-.7zM245.0 426.1h.7v.7h-.7zM243.0 425.2h.7v.7h-.7zM249.2 437.1h.7v.7h-.7zM243.5 429.8h.7v.7h-.7zM247.1 435.1h.7v.7h-.7zM246.1 425.2h.7v.7h-.7zM247.4 427.6h.7v.7h-.7zM244.0 425.5h.7v.7h-.7zM243.2 425.9h.7v.7h-.7zM247.7 437.8h.7v.7h-.7zM242.8 425.3h.7v.7h-.7z" fill="#e3dc52" fill-opacity="0.8"/>
<path d="M261.2 415.2h.7v.7h-.7zM258.1 416.0h.7v.7h-.7zM266.2 420.7h.7v.7h-.7zM262.9 420.5h.7v.7h-.7zM256.5 415.4h.7v.7h-.7zM257.1 413.2h.7v.7h-.7zM262.9 415.9h.7v.7h-.7zM257.9 416.3h.7v.7h-.7zM262.7 417.5h.7v.7h-.7zM258.7 417.3h.7v.7h-.7zM261.0 417.0h.7v.7h-.7zM270.0 419.6h.7v.7h-.7zM272.3 417.8h.7v.7h-.7zM264.9 416.8h.7v.7h-.7zM271.7 418.7h.7v.7h-.7zM271.5 419.2h.7v.7h-.7zM267.5 419.2h.7v.7h-.7zM267.9 417.2h.7v.7h-.7zM269.3 418.5h.7v.7h-.7zM274.4 418.2h.7v.7h-.7zM265.6 418.0h.7v.7h-.7zM274.6 419.8h.7v.7h-.7zM269.8 420.0h.7v.7h-.7zM283.1 426.8h.7v.7h-.7zM280.9 423.6h.7v.7h-.7zM277.7 422.5h.7v.7h-.7zM274.9 422.1h.7v.7h-.7zM278.2 422.3h.7v.7h-.7zM280.6 421.5h.7v.7h-.7zM279.9 429.4h.7v.7h-.7zM275.8 421.3h.7v.7h-.7zM276.0 421.6h.7v.7h-.7zM280.2 429.0h.7v.7h-.7zM282.2 430.3h.7v.7h-.7zM278.5 437.7h.7v.7h-.7zM278.9 436.0h.7v.7h-.7zM283.2 436.3h.7v.7h-.7zM281.8 429.5h.7v.7h-.7zM278.7 431.4h.7v.7h-.7zM281.8 427.8h.7v.7h-.7zM281.0 430.8h.7v.7h-.7zM278.4 432.3h.7v.7h-.7zM282.7 428.4h.7v.7h-.7zM280.7 434.3h.7v.7h-.7zM281.5 437.5h.7v.7h-.7zM280.4 436.7h.7v.7h-.7zM274.4 442.3h.7v.7h-.7zM272.4 444.1h.7v.7h-.7zM275.1 443.9h.7v.7h-.7zM271.2 446.1h.7v.7h-.7zM274.1 443.1h.7v.7h-.7zM273.9 442.3h.7v.7h-.7zM277.5 441.7h.7v.7h-.7zM275.6 443.1h.7v.7h-.7zM279.1 442.1h.7v.7h-.7zM273.7 442.5h.7v.7h-.7zM268.6 442.9h.7v.7h-.7zM263.9 442.4h.7v.7h-.7zM264.2 440.9h.7v.7h-.7zM260.8 444.5h.7v.7h-.7zM268.3 446.3h.7v.7h-.7zM271.1 443.2h.7v.7h-.7zM263.3 444.5h.7v.7h-.7zM269.9 445.2h.7v.7h-.7zM270.3 443.0h.7v.7h-.7zM264.9 443.1h.7v.7h-.7zM261.5 440.6h.7v.7h-.7zM259.4 436.7h.7v.7h-.7zM260.0 439.5h.7v.7h-.7zM256.8 431.6h.7v.7h-.7zM259.2 436.7h.7v.7h-.7zM256.7 438.9h.7v.7h-.7zM261.5 438.6h.7v.7h-.7zM260.8 442.2h.7v.7h-.7zM257.5 439.6h.7v.7h-.7zM257.5 436.9h.7v.7h-.7zM259.2 435.2h.7v.7h-.7zM257.4 434.8h.7v.7h-.7zM259.9 440.0h.7v.7h-.7zM257.7 421.6h.7v.7h-.7zM256.6 424.9h.7v.7h-.7zM255.6 430.4h.7v.7h-.7zM254.5 422.7h.7v.7h-.7zM253.1 422.7h.7v.7h-.7zM255.9 417.2h.7v.7h-.7zM253.9 429.4h.7v.7h-.7zM254.5 430.2h.7v.7h-.7zM256.8 428.3h.7v.7h-.7zM256.2 421.0h.7v.7h-.7zM258.5 415.8h.7v.7h-.7zM255.2 423.6h.7v.7h-.7zM256.0 419.3h.7v.7h-.7zM258.3 424.3h.7v.7h-.7zM254.5 425.4h.7v.7h-.7zM256.6 417.6h.7v.7h-.7zM254.9 425.9h.7v.7h-.7z" fill="#3db5d9" fill-opacity="0.8"/>
<path d="M280.1 402.1h.7v.7h-.7zM279.4 402.4h.7v.7h-.7zM279.5 402.9h.7v.7h-.7zM278.4 402.5h.7v.7h-.7zM279.3 402.0h.7v.7h-.7zM273.5 401.7h.7v.7h-.7zM276.6 400.8h.7v.7h-.7zM279.9 405.8h.7v.7h-.7zM286.7 402.4h.7v.7h-.7zM288.3 403.2h.7v.7h-.7zM289.3 404.4h.7v.7h-.7zM291.5 403.9h.7v.7h-.7zM289.9 402.7h.7v.7h-.7zM287.5 403.5h.7v.7h-.7zM285.0 399.9h.7v.7h-.7zM293.0 405.7h.7v.7h-.7zM285.9 404.0h.7v.7h-.7zM291.1 400.7h.7v.7h-.7zM289.6 409.4h.7v.7h-.7zM295.2 408.9h.7v.7h-.7zM295.4 408.5h.7v.7h-.7zM294.7 411.8h.7v.7h-.7zM291.0 406.5h.7v.7h-.7zM288.9 405.1h.7v.7h-.7zM295.1 407.0h.7v.7h-.7zM293.2 412.6h.7v.7h-.7zM293.5 419.5h.7v.7h-.7zM294.5 423.8h.7v.7h-.7zM291.4 422.4h.7v.7h-.7zM296.5 414.1h.7v.7h-.7zM293.3 419.2h.7v.7h-.7zM294.0 411.6h.7v.7h-.7zM294.5 411.4h.7v.7h-.7zM292.5 413.1h.7v.7h-.7zM291.7 417.7h.7v.7h-.7zM290.0 414.6h.7v.7h-.7zM292.3 414.9h.7v.7h-.7zM289.6 425.6h.7v.7h-.7zM289.3 427.1h.7v.7h-.7zM290.4 425.9h.7v.7h-.7zM288.7 423.4h.7v.7h-.7zM293.7 423.9h.7v.7h-.7zM284.7 426.9h.7v.7h-.7zM289.5 422.1h.7v.7h-.7zM280.5 421.8h.7v.7h-.7zM282.3 427.0h.7v.7h-.7zM281.0 424.2h.7v.7h-.7zM285.4 428.3h.7v.7h-.7zM285.0 426.9h.7v.7h-.7zM285.0 425.2h.7v.7h-.7zM283.0 425.0h.7v.7h-.7zM290.8 427.6h.7v.7h-.7zM283.9 424.8h.7v.7h-.7zM275.9 421.2h.7v.7h-.7zM274.8 415.6h.7v.7h-.7zM279.5 420.3h.7v.7h-.7zM279.7 422.5h.7v.7h-.7zM275.3 415.7h.7v.7h-.7zM278.4 416.2h.7v.7h-.7zM279.7 419.5h.7v.7h-.7zM277.3 414.1h.7v.7h-.7zM278.8 420.7h.7v.7h-.7zM276.9 419.9h.7v.7h-.7zM275.5 411.7h.7v.7h-.7zM275.3 406.8h.7v.7h-.7zM275.2 408.2h.7v.7h-.7zM276.6 404.5h.7v.7h-.7zM277.0 409.0h.7v.7h-.7zM276.5 411.8h.7v.7h-.7zM277.8 410.5h.7v.7h-.7zM273.7 405.1h.7v.7h-.7zM278.8 403.3h.7v.7h-.7zM275.8 407.1h.7v.7h-.7zM276.5 407.8h.7v.7h-.7zM275.8 405.9h.7v.7h-.7z" fill="#14a081" fill-opacity="0.8"/>
<path d="M273.4 404.7h.7v.7h-.7zM271.0 403.1h.7v.7h-.7zM275.3 401.8h.7v.7h-.7zM270.2 402.4h.7v.7h-.7zM273.7 401.2h.7v.7h-.7zM272.1 400.7h.7v.7h-.7zM280.1 411.4h.7v.7h-.7zM279.6 412.8h.7v.7h-.7zM282.5 416.4h.7v.7h-.7zM280.8 414.7h.7v.7h-.7zM279.1 413.7h.7v.7h-.7zM277.2 410.4h.7v.7h-.7zM278.4 416.8h.7v.7h-.7zM281.2 414.2h.7v.7h-.7zM274.5 406.2h.7v.7h-.7zM279.6 412.3h.7v.7h-.7zM276.0 405.1h.7v.7h-.7zM278.1 408.6h.7v.7h-.7zM276.1 414.6h.7v.7h-.7zM276.1 408.1h.7v.7h-.7zM276.2 411.3h.7v.7h-.7zM283.1 420.1h.7v.7h-.7zM286.0 425.7h.7v.7h-.7zM288.9 427.5h.7v.7h-.7zM286.9 426.6h.7v.7h-.7zM286.3 423.6h.7v.7h-.7zM282.8 426.2h.7v.7h-.7zM280.3 415.8h.7v.7h-.7zM284.0 423.6h.7v.7h-.7zM283.0 422.3h.7v.7h-.7zM279.6 416.5h.7v.7h-.7zM280.4 418.0h.7v.7h-.7zM281.8 421.4h.7v.7h-.7zM287.9 431.6h.7v.7h-.7zM285.7 426.3h.7v.7h-.7zM287.9 434.1h.7v.7h-.7zM289.5 428.6h.7v.7h-.7zM292.8 433.1h.7v.7h-.7zM289.9 433.4h.7v.7h-.7zM288.3 439.3h.7v.7h-.7zM291.0 433.3h.7v.7h-.7zM287.9 432.8h.7v.7h-.7zM291.2 435.7h.7v.7h-.7zM290.5 433.1h.7v.7h-.7zM285.2 428.0h.7v.7h-.7zM285.2 439.2h.7v.7h-.7zM287.4 437.4h.7v.7h-.7zM287.2 436.6h.7v.7h-.7zM289.0 438.2h.7v.7h-.7zM289.7 440.4h.7v.7h-.7zM284.6 439.6h.7v.7h-.7zM284.5 437.5h.7v.7h-.7zM286.3 436.4h.7v.7h-.7zM283.2 436.8h.7v.7h-.7zM281.5 434.8h.7v.7h-.7zM283.9 439.9h.7v.7h-.7zM284.0 437.8h.7v.7h-.7zM278.2 428.0h.7v.7h-.7zM278.6 427.3h.7v.7h-.7zM279.8 435.3h.7v.7h-.7zM278.9 431.2h.7v.7h-.7zM281.8 433.1h.7v.7h-.7zM275.8 426.3h.7v.7h-.7zM280.9 435.0h.7v.7h-.7zM279.4 434.3h.7v.7h-.7zM279.7 437.3h.7v.7h-.7zM279.4 435.0h.7v.7h-.7zM280.0 429.1h.7v.7h-.7zM277.3 427.5h.7v.7h-.7zM281.2 433.3h.7v.7h-.7zM274.7 419.6h.7v.7h-.7zM274.3 417.5h.7v.7h-.7zM275.5 427.2h.7v.7h-.7zM270.4 420.2h.7v.7h-.7zM274.2 418.4h.7v.7h-.7zM272.8 418.3h.7v.7h-.7zM271.4 417.6h.7v.7h-.7zM272.6 422.6h.7v.7h-.7zM270.7 410.8h.7v.7h-.7zM275.3 421.8h.7v.7h-.7zM273.8 417.3h.7v.7h-.7zM271.4 412.4h.7v.7h-.7zM275.5 421.9h.7v.7h-.7zM267.6 414.4h.7v.7h-.7zM268.1 403.5h.7v.7h-.7zM267.8 409.9h.7v.7h-.7zM267.6 411.7h.7v.7h-.7zM269.0 407.5h.7v.7h-.7zM270.6 413.5h.7v.7h-.7zM266.8 409.6h.7v.7h-.7zM271.0 410.9h.7v.7h-.7zM267.8 409.1h.7v.7h-.7zM269.5 409.7h.7v.7h-.7zM271.8 411.5h.7v.7h-.7z" fill="#f5a31a" fill-opacity="0.8"/>
<line x1="238.25" y1="388.50" x2="238.25" y2="457.30" stroke="#222" stroke-width="0.9"/>
<line x1="237.80" y1="456.90" x2="296.20" y2="456.90" stroke="#222" stroke-width="0.9"/>
<line x1="236.05" y1="401.00" x2="238.25" y2="401.00" stroke="#222" stroke-width="0.7"/>
<text x="232.55" y="403.20" font-size="6.2" text-anchor="end" fill="#333">400</text>
<line x1="236.05" y1="420.50" x2="238.25" y2="420.50" stroke="#222" stroke-width="0.7"/>
<text x="232.55" y="422.70" font-size="6.2" text-anchor="end" fill="#333">0</text>
<line x1="236.05" y1="439.20" x2="238.25" y2="439.20" stroke="#222" stroke-width="0.7"/>
<text x="232.55" y="441.40" font-size="6.2" text-anchor="end" fill="#333">–400</text>
<line x1="254.10" y1="456.90" x2="254.10" y2="459.20" stroke="#222" stroke-width="0.7"/>
<text x="254.10" y="468.80" font-size="6.2" text-anchor="middle" fill="#333">–400</text>
<line x1="271.60" y1="456.90" x2="271.60" y2="459.20" stroke="#222" stroke-width="0.7"/>
<text x="271.60" y="468.80" font-size="6.2" text-anchor="middle" fill="#333">0</text>
<line x1="289.10" y1="456.90" x2="289.10" y2="459.20" stroke="#222" stroke-width="0.7"/>
<text x="289.10" y="468.80" font-size="6.2" text-anchor="middle" fill="#333">400</text>
<text x="212.25" y="423.00" font-size="7.6" text-anchor="middle" fill="#333" transform="rotate(-90 212.25 423.0)" textLength="20" lengthAdjust="spacingAndGlyphs">PCA_3</text>
<text x="271.00" y="480.70" font-size="7.8" text-anchor="middle" fill="#333" textLength="19.5" lengthAdjust="spacingAndGlyphs">PCA_2</text>
<path d="M287.2,438.8 C284,428 281,419 276,414.5 C270,409.5 262,411.5 257.2,419.8 C260,428.5 268,429.5 276,425.5 C282,421.5 285,414.5 290.6,408.2" stroke="#111" stroke-width="1.1" fill="none"/>
<path d="M290.0,412.6 L290.6,408.2 L286.3,409.3" fill="none" stroke="#111" stroke-width="1.0" stroke-linejoin="miter"/>
<path d="M257.2,419.8 C256.8,430 261,439 268.6,444.8" stroke="#111" stroke-width="1.0" fill="none"/>
<path d="M264.2,444.7 L268.6,444.8 L267.1,440.7" fill="none" stroke="#111" stroke-width="1.0" stroke-linejoin="miter"/>
<text x="272.90" y="453.60" font-size="7.8" text-anchor="middle" fill="#222">Act</text>
<text x="280.70" y="402.90" font-size="7.8" text-anchor="middle" fill="#222" textLength="36.3" lengthAdjust="spacingAndGlyphs">Term/SenL</text>
<line x1="77.10" y1="514.80" x2="77.10" y2="571.00" stroke="#222" stroke-width="0.9"/>
<line x1="76.65" y1="570.60" x2="160.70" y2="570.60" stroke="#222" stroke-width="0.9"/>
<line x1="74.60" y1="522.10" x2="77.10" y2="522.10" stroke="#222" stroke-width="0.6"/>
<text x="71.40" y="524.40" font-size="6.6" text-anchor="end" fill="#333">Term/SenL</text>
<line x1="74.60" y1="532.50" x2="77.10" y2="532.50" stroke="#222" stroke-width="0.6"/>
<text x="71.40" y="534.80" font-size="6.6" text-anchor="end" fill="#333">Int</text>
<line x1="74.60" y1="542.90" x2="77.10" y2="542.90" stroke="#222" stroke-width="0.6"/>
<text x="71.40" y="545.20" font-size="6.6" text-anchor="end" fill="#333">Act</text>
<line x1="74.60" y1="553.60" x2="77.10" y2="553.60" stroke="#222" stroke-width="0.6"/>
<text x="71.40" y="555.90" font-size="6.6" text-anchor="end" fill="#333">Early Tm</text>
<line x1="74.60" y1="564.50" x2="77.10" y2="564.50" stroke="#222" stroke-width="0.6"/>
<text x="71.40" y="566.80" font-size="6.6" text-anchor="end" fill="#333">Naive</text>
<line x1="81.10" y1="570.60" x2="81.10" y2="572.80" stroke="#222" stroke-width="0.6"/>
<text x="81.10" y="582.40" font-size="6.2" text-anchor="middle" fill="#333">0</text>
<line x1="96.60" y1="570.60" x2="96.60" y2="572.80" stroke="#222" stroke-width="0.6"/>
<text x="96.60" y="582.40" font-size="6.2" text-anchor="middle" fill="#333">500</text>
<line x1="112.70" y1="570.60" x2="112.70" y2="572.80" stroke="#222" stroke-width="0.6"/>
<text x="112.70" y="582.40" font-size="6.2" text-anchor="middle" fill="#333">1000</text>
<line x1="128.70" y1="570.60" x2="128.70" y2="572.80" stroke="#222" stroke-width="0.6"/>
<text x="128.70" y="582.40" font-size="6.2" text-anchor="middle" fill="#333">1500</text>
<line x1="144.70" y1="570.60" x2="144.70" y2="572.80" stroke="#222" stroke-width="0.6"/>
<text x="144.70" y="582.40" font-size="6.2" text-anchor="middle" fill="#333">2000</text>
<line x1="164.30" y1="570.60" x2="245.70" y2="570.60" stroke="#222" stroke-width="0.9"/>
<line x1="167.80" y1="570.60" x2="167.80" y2="572.80" stroke="#222" stroke-width="0.6"/>
<text x="167.80" y="582.40" font-size="6.2" text-anchor="middle" fill="#333">0</text>
<line x1="186.80" y1="570.60" x2="186.80" y2="572.80" stroke="#222" stroke-width="0.6"/>
<text x="186.80" y="582.40" font-size="6.2" text-anchor="middle" fill="#333">500</text>
<line x1="206.40" y1="570.60" x2="206.40" y2="572.80" stroke="#222" stroke-width="0.6"/>
<text x="206.40" y="582.40" font-size="6.2" text-anchor="middle" fill="#333">1000</text>
<line x1="225.80" y1="570.60" x2="225.80" y2="572.80" stroke="#222" stroke-width="0.6"/>
<text x="225.80" y="582.40" font-size="6.2" text-anchor="middle" fill="#333">1500</text>
<line x1="244.80" y1="570.60" x2="244.80" y2="572.80" stroke="#222" stroke-width="0.6"/>
<text x="244.80" y="582.40" font-size="6.2" text-anchor="middle" fill="#333">2000</text>
<text x="118.80" y="512.00" font-size="9.2" text-anchor="middle" fill="#222" textLength="37" lengthAdjust="spacingAndGlyphs">Lineage 1</text>
<text x="205.80" y="512.00" font-size="9.2" text-anchor="middle" fill="#222" textLength="37" lengthAdjust="spacingAndGlyphs">Lineage 2</text>
<text x="162.60" y="594.60" font-size="8.2" text-anchor="middle" fill="#333" textLength="37" lengthAdjust="spacingAndGlyphs">Pseudotime</text>
<circle cx="92.0" cy="522.1" r="0.8" fill="#111"/>
<path d="M101.3 521.4h1.5v1.5h-1.5zM105.0 521.4h1.5v1.5h-1.5zM102.9 521.4h1.5v1.5h-1.5zM105.7 521.4h1.5v1.5h-1.5zM106.0 521.4h1.5v1.5h-1.5zM99.2 521.4h1.5v1.5h-1.5zM98.6 521.4h1.5v1.5h-1.5zM108.5 521.4h1.5v1.5h-1.5zM101.5 521.4h1.5v1.5h-1.5zM101.2 521.4h1.5v1.5h-1.5zM110.4 521.4h1.5v1.5h-1.5zM104.1 521.4h1.5v1.5h-1.5zM108.5 521.4h1.5v1.5h-1.5zM104.2 521.4h1.5v1.5h-1.5zM106.1 521.4h1.5v1.5h-1.5zM100.2 521.4h1.5v1.5h-1.5zM106.1 521.4h1.5v1.5h-1.5zM108.9 521.4h1.5v1.5h-1.5zM104.7 521.4h1.5v1.5h-1.5zM107.4 521.4h1.5v1.5h-1.5zM106.5 521.4h1.5v1.5h-1.5z" fill="#111"/>
<circle cx="122.6" cy="522.1" r="0.8" fill="#111"/>
<path d="M126.4 521.4h1.5v1.5h-1.5zM131.3 521.4h1.5v1.5h-1.5zM130.1 521.4h1.5v1.5h-1.5zM128.1 521.4h1.5v1.5h-1.5zM126.2 521.4h1.5v1.5h-1.5zM132.1 521.4h1.5v1.5h-1.5zM129.3 521.4h1.5v1.5h-1.5zM131.0 521.4h1.5v1.5h-1.5zM132.2 521.4h1.5v1.5h-1.5zM131.0 521.4h1.5v1.5h-1.5zM132.4 521.4h1.5v1.5h-1.5zM128.8 521.4h1.5v1.5h-1.5z" fill="#111"/>
<line x1="133.00" y1="522.10" x2="143.40" y2="522.10" stroke="#444" stroke-width="0.5"/>
<line x1="150.30" y1="522.10" x2="157.20" y2="522.10" stroke="#444" stroke-width="0.5"/>
<rect x="143.40" y="518.50" width="6.90" height="7.20" fill="#2aa33c" stroke="#333" stroke-width="0.3"/>
<line x1="146.80" y1="518.50" x2="146.80" y2="525.70" stroke="#111" stroke-width="1.1"/>
<circle cx="81.1" cy="532.5" r="0.8" fill="#111"/>
<path d="M103.1 531.8h1.5v1.5h-1.5zM99.0 531.8h1.5v1.5h-1.5zM104.6 531.8h1.5v1.5h-1.5zM103.9 531.8h1.5v1.5h-1.5zM95.1 531.8h1.5v1.5h-1.5zM95.5 531.8h1.5v1.5h-1.5zM96.5 531.8h1.5v1.5h-1.5zM104.9 531.8h1.5v1.5h-1.5zM98.9 531.8h1.5v1.5h-1.5zM101.1 531.8h1.5v1.5h-1.5zM97.4 531.8h1.5v1.5h-1.5zM99.7 531.8h1.5v1.5h-1.5zM98.4 531.8h1.5v1.5h-1.5zM98.0 531.8h1.5v1.5h-1.5zM100.6 531.8h1.5v1.5h-1.5zM100.6 531.8h1.5v1.5h-1.5zM104.2 531.8h1.5v1.5h-1.5zM101.7 531.8h1.5v1.5h-1.5zM104.5 531.8h1.5v1.5h-1.5zM103.7 531.8h1.5v1.5h-1.5z" fill="#111"/>
<path d="M154.6 531.8h1.5v1.5h-1.5zM152.9 531.8h1.5v1.5h-1.5zM150.2 531.8h1.5v1.5h-1.5zM153.9 531.8h1.5v1.5h-1.5zM154.4 531.8h1.5v1.5h-1.5zM154.1 531.8h1.5v1.5h-1.5zM152.4 531.8h1.5v1.5h-1.5zM153.1 531.8h1.5v1.5h-1.5zM150.5 531.8h1.5v1.5h-1.5z" fill="#111"/>
<line x1="105.30" y1="532.50" x2="121.70" y2="532.50" stroke="#444" stroke-width="0.5"/>
<line x1="133.50" y1="532.50" x2="149.40" y2="532.50" stroke="#444" stroke-width="0.5"/>
<rect x="121.70" y="528.90" width="11.80" height="7.20" fill="#1c4f8c" stroke="#333" stroke-width="0.3"/>
<line x1="126.00" y1="528.90" x2="126.00" y2="536.10" stroke="#111" stroke-width="1.1"/>
<line x1="81.10" y1="539.40" x2="81.10" y2="546.40" stroke="#666" stroke-width="0.9"/>
<circle cx="89.7" cy="542.9" r="0.8" fill="#111"/>
<circle cx="95.8" cy="542.9" r="0.8" fill="#111"/>
<path d="M133.1 542.1h1.5v1.5h-1.5zM125.3 542.1h1.5v1.5h-1.5zM116.5 542.1h1.5v1.5h-1.5zM109.8 542.1h1.5v1.5h-1.5zM133.8 542.1h1.5v1.5h-1.5zM137.9 542.1h1.5v1.5h-1.5zM110.6 542.1h1.5v1.5h-1.5zM132.2 542.1h1.5v1.5h-1.5zM120.3 542.1h1.5v1.5h-1.5zM112.5 542.1h1.5v1.5h-1.5zM116.8 542.1h1.5v1.5h-1.5zM131.2 542.1h1.5v1.5h-1.5zM134.3 542.1h1.5v1.5h-1.5zM109.2 542.1h1.5v1.5h-1.5zM126.5 542.1h1.5v1.5h-1.5zM109.3 542.1h1.5v1.5h-1.5zM129.7 542.1h1.5v1.5h-1.5zM117.9 542.1h1.5v1.5h-1.5zM134.6 542.1h1.5v1.5h-1.5zM137.6 542.1h1.5v1.5h-1.5zM123.2 542.1h1.5v1.5h-1.5zM138.2 542.1h1.5v1.5h-1.5zM117.3 542.1h1.5v1.5h-1.5zM110.2 542.1h1.5v1.5h-1.5zM126.1 542.1h1.5v1.5h-1.5zM108.9 542.1h1.5v1.5h-1.5zM113.9 542.1h1.5v1.5h-1.5zM120.3 542.1h1.5v1.5h-1.5zM126.4 542.1h1.5v1.5h-1.5zM112.6 542.1h1.5v1.5h-1.5zM109.2 542.1h1.5v1.5h-1.5zM134.2 542.1h1.5v1.5h-1.5zM117.4 542.1h1.5v1.5h-1.5zM136.9 542.1h1.5v1.5h-1.5zM135.1 542.1h1.5v1.5h-1.5zM119.3 542.1h1.5v1.5h-1.5zM121.9 542.1h1.5v1.5h-1.5zM123.7 542.1h1.5v1.5h-1.5zM127.4 542.1h1.5v1.5h-1.5zM125.9 542.1h1.5v1.5h-1.5zM124.8 542.1h1.5v1.5h-1.5zM126.7 542.1h1.5v1.5h-1.5zM136.4 542.1h1.5v1.5h-1.5zM123.3 542.1h1.5v1.5h-1.5zM121.0 542.1h1.5v1.5h-1.5zM129.7 542.1h1.5v1.5h-1.5zM115.1 542.1h1.5v1.5h-1.5zM117.0 542.1h1.5v1.5h-1.5zM137.5 542.1h1.5v1.5h-1.5zM123.7 542.1h1.5v1.5h-1.5zM124.5 542.1h1.5v1.5h-1.5zM108.2 542.1h1.5v1.5h-1.5zM120.5 542.1h1.5v1.5h-1.5zM125.5 542.1h1.5v1.5h-1.5zM108.5 542.1h1.5v1.5h-1.5zM126.6 542.1h1.5v1.5h-1.5zM127.1 542.1h1.5v1.5h-1.5zM109.7 542.1h1.5v1.5h-1.5zM126.9 542.1h1.5v1.5h-1.5zM122.0 542.1h1.5v1.5h-1.5zM128.5 542.1h1.5v1.5h-1.5zM118.6 542.1h1.5v1.5h-1.5zM129.3 542.1h1.5v1.5h-1.5zM130.3 542.1h1.5v1.5h-1.5zM108.6 542.1h1.5v1.5h-1.5zM109.7 542.1h1.5v1.5h-1.5zM128.4 542.1h1.5v1.5h-1.5zM137.1 542.1h1.5v1.5h-1.5zM115.5 542.1h1.5v1.5h-1.5zM121.7 542.1h1.5v1.5h-1.5z" fill="#111"/>
<circle cx="81.1" cy="553.6" r="0.8" fill="#111"/>
<path d="M95.8 552.9h1.5v1.5h-1.5zM90.6 552.9h1.5v1.5h-1.5zM91.5 552.9h1.5v1.5h-1.5zM90.5 552.9h1.5v1.5h-1.5zM91.6 552.9h1.5v1.5h-1.5zM95.9 552.9h1.5v1.5h-1.5zM90.2 552.9h1.5v1.5h-1.5zM91.7 552.9h1.5v1.5h-1.5zM99.3 552.9h1.5v1.5h-1.5zM85.0 552.9h1.5v1.5h-1.5zM95.4 552.9h1.5v1.5h-1.5zM98.5 552.9h1.5v1.5h-1.5zM90.4 552.9h1.5v1.5h-1.5zM88.8 552.9h1.5v1.5h-1.5zM99.9 552.9h1.5v1.5h-1.5zM89.1 552.9h1.5v1.5h-1.5zM88.1 552.9h1.5v1.5h-1.5zM92.8 552.9h1.5v1.5h-1.5zM97.8 552.9h1.5v1.5h-1.5zM86.4 552.9h1.5v1.5h-1.5zM90.6 552.9h1.5v1.5h-1.5zM90.9 552.9h1.5v1.5h-1.5zM100.4 552.9h1.5v1.5h-1.5zM92.9 552.9h1.5v1.5h-1.5zM100.8 552.9h1.5v1.5h-1.5zM87.7 552.9h1.5v1.5h-1.5zM90.9 552.9h1.5v1.5h-1.5zM96.9 552.9h1.5v1.5h-1.5zM101.4 552.9h1.5v1.5h-1.5zM93.1 552.9h1.5v1.5h-1.5zM88.8 552.9h1.5v1.5h-1.5zM86.8 552.9h1.5v1.5h-1.5zM94.6 552.9h1.5v1.5h-1.5zM88.1 552.9h1.5v1.5h-1.5zM99.9 552.9h1.5v1.5h-1.5zM100.5 552.9h1.5v1.5h-1.5zM88.0 552.9h1.5v1.5h-1.5zM89.8 552.9h1.5v1.5h-1.5zM99.9 552.9h1.5v1.5h-1.5zM96.8 552.9h1.5v1.5h-1.5zM99.9 552.9h1.5v1.5h-1.5zM91.1 552.9h1.5v1.5h-1.5zM87.0 552.9h1.5v1.5h-1.5zM90.1 552.9h1.5v1.5h-1.5z" fill="#111"/>
<path d="M132.9 552.9h1.5v1.5h-1.5zM126.1 552.9h1.5v1.5h-1.5zM127.1 552.9h1.5v1.5h-1.5zM128.0 552.9h1.5v1.5h-1.5zM128.1 552.9h1.5v1.5h-1.5zM127.9 552.9h1.5v1.5h-1.5zM134.6 552.9h1.5v1.5h-1.5zM124.6 552.9h1.5v1.5h-1.5zM122.7 552.9h1.5v1.5h-1.5zM134.9 552.9h1.5v1.5h-1.5zM134.0 552.9h1.5v1.5h-1.5zM135.4 552.9h1.5v1.5h-1.5zM128.2 552.9h1.5v1.5h-1.5zM135.0 552.9h1.5v1.5h-1.5zM134.7 552.9h1.5v1.5h-1.5zM125.5 552.9h1.5v1.5h-1.5zM132.3 552.9h1.5v1.5h-1.5zM133.5 552.9h1.5v1.5h-1.5zM131.2 552.9h1.5v1.5h-1.5zM129.3 552.9h1.5v1.5h-1.5zM126.4 552.9h1.5v1.5h-1.5zM127.0 552.9h1.5v1.5h-1.5zM125.6 552.9h1.5v1.5h-1.5z" fill="#111"/>
<line x1="103.60" y1="553.60" x2="111.30" y2="553.60" stroke="#444" stroke-width="0.5"/>
<line x1="115.70" y1="553.60" x2="122.60" y2="553.60" stroke="#444" stroke-width="0.5"/>
<rect x="111.30" y="550.00" width="4.40" height="7.20" fill="#3a9fd8" stroke="#333" stroke-width="0.3"/>
<line x1="113.40" y1="550.00" x2="113.40" y2="557.20" stroke="#111" stroke-width="1.1"/>
<line x1="81.10" y1="564.50" x2="88.00" y2="564.50" stroke="#444" stroke-width="0.5"/>
<line x1="101.00" y1="564.50" x2="120.90" y2="564.50" stroke="#444" stroke-width="0.5"/>
<rect x="88.00" y="560.90" width="13.00" height="7.20" fill="#f5941d" stroke="#333" stroke-width="0.3"/>
<line x1="93.20" y1="560.90" x2="93.20" y2="568.10" stroke="#111" stroke-width="1.1"/>
<path d="M121.5 563.8h1.5v1.5h-1.5zM126.0 563.8h1.5v1.5h-1.5zM123.4 563.8h1.5v1.5h-1.5zM127.9 563.8h1.5v1.5h-1.5zM121.3 563.8h1.5v1.5h-1.5zM128.7 563.8h1.5v1.5h-1.5zM126.9 563.8h1.5v1.5h-1.5zM128.8 563.8h1.5v1.5h-1.5zM128.6 563.8h1.5v1.5h-1.5zM128.6 563.8h1.5v1.5h-1.5zM125.9 563.8h1.5v1.5h-1.5zM121.0 563.8h1.5v1.5h-1.5zM127.3 563.8h1.5v1.5h-1.5zM122.4 563.8h1.5v1.5h-1.5zM123.5 563.8h1.5v1.5h-1.5z" fill="#111"/>
<circle cx="135.6" cy="564.5" r="0.8" fill="#111"/>
<line x1="167.80" y1="517.90" x2="167.80" y2="525.70" stroke="#111" stroke-width="1.0"/>
<line x1="218.80" y1="521.80" x2="222.30" y2="521.80" stroke="#111" stroke-width="1.3"/>
<circle cx="167.8" cy="532.5" r="0.8" fill="#111"/>
<path d="M192.0 531.8h1.5v1.5h-1.5zM189.1 531.8h1.5v1.5h-1.5zM186.8 531.8h1.5v1.5h-1.5zM197.7 531.8h1.5v1.5h-1.5zM190.9 531.8h1.5v1.5h-1.5zM185.3 531.8h1.5v1.5h-1.5zM183.5 531.8h1.5v1.5h-1.5zM196.1 531.8h1.5v1.5h-1.5zM188.1 531.8h1.5v1.5h-1.5zM194.5 531.8h1.5v1.5h-1.5zM185.5 531.8h1.5v1.5h-1.5zM182.3 531.8h1.5v1.5h-1.5zM189.3 531.8h1.5v1.5h-1.5zM195.2 531.8h1.5v1.5h-1.5zM181.8 531.8h1.5v1.5h-1.5zM194.7 531.8h1.5v1.5h-1.5zM197.4 531.8h1.5v1.5h-1.5zM195.0 531.8h1.5v1.5h-1.5zM195.3 531.8h1.5v1.5h-1.5zM178.4 531.8h1.5v1.5h-1.5zM191.3 531.8h1.5v1.5h-1.5zM196.1 531.8h1.5v1.5h-1.5zM179.2 531.8h1.5v1.5h-1.5zM183.8 531.8h1.5v1.5h-1.5zM183.8 531.8h1.5v1.5h-1.5zM189.2 531.8h1.5v1.5h-1.5zM187.0 531.8h1.5v1.5h-1.5zM188.0 531.8h1.5v1.5h-1.5zM194.4 531.8h1.5v1.5h-1.5zM178.2 531.8h1.5v1.5h-1.5zM179.3 531.8h1.5v1.5h-1.5zM180.8 531.8h1.5v1.5h-1.5zM180.8 531.8h1.5v1.5h-1.5zM179.6 531.8h1.5v1.5h-1.5zM198.5 531.8h1.5v1.5h-1.5zM196.0 531.8h1.5v1.5h-1.5zM180.0 531.8h1.5v1.5h-1.5zM188.6 531.8h1.5v1.5h-1.5zM184.8 531.8h1.5v1.5h-1.5zM184.7 531.8h1.5v1.5h-1.5zM185.5 531.8h1.5v1.5h-1.5zM191.7 531.8h1.5v1.5h-1.5zM190.4 531.8h1.5v1.5h-1.5zM185.7 531.8h1.5v1.5h-1.5zM182.2 531.8h1.5v1.5h-1.5zM185.0 531.8h1.5v1.5h-1.5zM180.8 531.8h1.5v1.5h-1.5zM189.8 531.8h1.5v1.5h-1.5z" fill="#111"/>
<path d="M241.6 531.8h1.5v1.5h-1.5zM237.9 531.8h1.5v1.5h-1.5zM234.5 531.8h1.5v1.5h-1.5zM235.6 531.8h1.5v1.5h-1.5zM237.8 531.8h1.5v1.5h-1.5zM240.4 531.8h1.5v1.5h-1.5zM242.4 531.8h1.5v1.5h-1.5zM237.9 531.8h1.5v1.5h-1.5zM242.6 531.8h1.5v1.5h-1.5zM240.6 531.8h1.5v1.5h-1.5zM238.4 531.8h1.5v1.5h-1.5zM237.8 531.8h1.5v1.5h-1.5zM239.2 531.8h1.5v1.5h-1.5zM241.5 531.8h1.5v1.5h-1.5zM238.3 531.8h1.5v1.5h-1.5zM241.4 531.8h1.5v1.5h-1.5zM238.8 531.8h1.5v1.5h-1.5zM236.3 531.8h1.5v1.5h-1.5zM239.6 531.8h1.5v1.5h-1.5zM241.4 531.8h1.5v1.5h-1.5zM234.4 531.8h1.5v1.5h-1.5zM238.4 531.8h1.5v1.5h-1.5zM238.4 531.8h1.5v1.5h-1.5zM243.5 531.8h1.5v1.5h-1.5zM244.1 531.8h1.5v1.5h-1.5zM237.8 531.8h1.5v1.5h-1.5z" fill="#111"/>
<line x1="199.00" y1="532.50" x2="211.90" y2="532.50" stroke="#444" stroke-width="0.5"/>
<line x1="220.60" y1="532.50" x2="233.60" y2="532.50" stroke="#444" stroke-width="0.5"/>
<rect x="211.90" y="528.90" width="8.70" height="7.20" fill="#1c4f8c" stroke="#333" stroke-width="0.3"/>
<line x1="216.20" y1="528.90" x2="216.20" y2="536.10" stroke="#111" stroke-width="1.1"/>
<path d="M188.6 542.1h1.5v1.5h-1.5zM187.2 542.1h1.5v1.5h-1.5zM180.0 542.1h1.5v1.5h-1.5zM182.7 542.1h1.5v1.5h-1.5zM178.1 542.1h1.5v1.5h-1.5zM187.5 542.1h1.5v1.5h-1.5zM185.4 542.1h1.5v1.5h-1.5zM188.5 542.1h1.5v1.5h-1.5zM187.2 542.1h1.5v1.5h-1.5zM185.5 542.1h1.5v1.5h-1.5zM186.4 542.1h1.5v1.5h-1.5zM184.1 542.1h1.5v1.5h-1.5zM177.8 542.1h1.5v1.5h-1.5zM184.4 542.1h1.5v1.5h-1.5zM176.5 542.1h1.5v1.5h-1.5zM178.4 542.1h1.5v1.5h-1.5zM186.9 542.1h1.5v1.5h-1.5zM177.0 542.1h1.5v1.5h-1.5zM177.6 542.1h1.5v1.5h-1.5zM177.8 542.1h1.5v1.5h-1.5zM188.4 542.1h1.5v1.5h-1.5zM178.8 542.1h1.5v1.5h-1.5zM176.7 542.1h1.5v1.5h-1.5zM187.8 542.1h1.5v1.5h-1.5z" fill="#111"/>
<path d="M192.5 542.1h1.5v1.5h-1.5zM195.4 542.1h1.5v1.5h-1.5zM194.7 542.1h1.5v1.5h-1.5zM195.3 542.1h1.5v1.5h-1.5zM195.8 542.1h1.5v1.5h-1.5zM194.3 542.1h1.5v1.5h-1.5zM195.2 542.1h1.5v1.5h-1.5z" fill="#111"/>
<path d="M197.6 542.1h1.5v1.5h-1.5zM200.6 542.1h1.5v1.5h-1.5zM199.5 542.1h1.5v1.5h-1.5zM200.4 542.1h1.5v1.5h-1.5zM197.9 542.1h1.5v1.5h-1.5zM200.5 542.1h1.5v1.5h-1.5zM201.2 542.1h1.5v1.5h-1.5z" fill="#111"/>
<line x1="201.50" y1="542.90" x2="222.30" y2="542.90" stroke="#444" stroke-width="0.5"/>
<line x1="235.60" y1="542.90" x2="244.80" y2="542.90" stroke="#444" stroke-width="0.5"/>
<rect x="222.30" y="539.30" width="13.30" height="7.20" fill="#f7c11b" stroke="#333" stroke-width="0.3"/>
<line x1="228.90" y1="539.30" x2="228.90" y2="546.50" stroke="#111" stroke-width="1.1"/>
<path d="M173.5 552.9h1.5v1.5h-1.5zM179.4 552.9h1.5v1.5h-1.5zM184.8 552.9h1.5v1.5h-1.5zM190.7 552.9h1.5v1.5h-1.5zM177.5 552.9h1.5v1.5h-1.5zM176.1 552.9h1.5v1.5h-1.5zM177.7 552.9h1.5v1.5h-1.5zM186.0 552.9h1.5v1.5h-1.5zM189.1 552.9h1.5v1.5h-1.5zM181.0 552.9h1.5v1.5h-1.5zM180.4 552.9h1.5v1.5h-1.5zM181.0 552.9h1.5v1.5h-1.5zM180.0 552.9h1.5v1.5h-1.5zM181.5 552.9h1.5v1.5h-1.5zM174.0 552.9h1.5v1.5h-1.5zM183.4 552.9h1.5v1.5h-1.5zM194.0 552.9h1.5v1.5h-1.5zM181.4 552.9h1.5v1.5h-1.5zM188.9 552.9h1.5v1.5h-1.5zM175.7 552.9h1.5v1.5h-1.5zM187.6 552.9h1.5v1.5h-1.5zM189.1 552.9h1.5v1.5h-1.5zM187.3 552.9h1.5v1.5h-1.5zM183.7 552.9h1.5v1.5h-1.5zM183.0 552.9h1.5v1.5h-1.5zM186.6 552.9h1.5v1.5h-1.5zM192.3 552.9h1.5v1.5h-1.5zM175.5 552.9h1.5v1.5h-1.5zM174.3 552.9h1.5v1.5h-1.5zM188.9 552.9h1.5v1.5h-1.5zM192.7 552.9h1.5v1.5h-1.5zM183.7 552.9h1.5v1.5h-1.5zM182.1 552.9h1.5v1.5h-1.5zM188.3 552.9h1.5v1.5h-1.5zM176.3 552.9h1.5v1.5h-1.5zM178.1 552.9h1.5v1.5h-1.5zM176.6 552.9h1.5v1.5h-1.5zM185.3 552.9h1.5v1.5h-1.5zM179.2 552.9h1.5v1.5h-1.5zM177.3 552.9h1.5v1.5h-1.5zM187.7 552.9h1.5v1.5h-1.5zM193.6 552.9h1.5v1.5h-1.5zM178.8 552.9h1.5v1.5h-1.5zM188.0 552.9h1.5v1.5h-1.5zM181.4 552.9h1.5v1.5h-1.5zM191.3 552.9h1.5v1.5h-1.5zM185.3 552.9h1.5v1.5h-1.5zM178.1 552.9h1.5v1.5h-1.5zM177.0 552.9h1.5v1.5h-1.5zM172.6 552.9h1.5v1.5h-1.5zM182.9 552.9h1.5v1.5h-1.5zM180.7 552.9h1.5v1.5h-1.5z" fill="#111"/>
<path d="M224.0 552.9h1.5v1.5h-1.5zM228.7 552.9h1.5v1.5h-1.5zM227.8 552.9h1.5v1.5h-1.5zM239.1 552.9h1.5v1.5h-1.5zM223.3 552.9h1.5v1.5h-1.5zM244.6 552.9h1.5v1.5h-1.5zM231.7 552.9h1.5v1.5h-1.5zM234.7 552.9h1.5v1.5h-1.5zM231.4 552.9h1.5v1.5h-1.5zM240.6 552.9h1.5v1.5h-1.5zM240.3 552.9h1.5v1.5h-1.5zM233.7 552.9h1.5v1.5h-1.5zM231.8 552.9h1.5v1.5h-1.5zM237.8 552.9h1.5v1.5h-1.5zM241.2 552.9h1.5v1.5h-1.5zM229.7 552.9h1.5v1.5h-1.5zM238.1 552.9h1.5v1.5h-1.5zM243.8 552.9h1.5v1.5h-1.5zM231.4 552.9h1.5v1.5h-1.5zM225.5 552.9h1.5v1.5h-1.5zM225.6 552.9h1.5v1.5h-1.5zM237.7 552.9h1.5v1.5h-1.5zM236.7 552.9h1.5v1.5h-1.5zM243.8 552.9h1.5v1.5h-1.5zM241.1 552.9h1.5v1.5h-1.5zM225.8 552.9h1.5v1.5h-1.5zM224.5 552.9h1.5v1.5h-1.5zM226.2 552.9h1.5v1.5h-1.5zM224.4 552.9h1.5v1.5h-1.5zM237.4 552.9h1.5v1.5h-1.5zM241.3 552.9h1.5v1.5h-1.5zM242.3 552.9h1.5v1.5h-1.5zM226.1 552.9h1.5v1.5h-1.5zM241.4 552.9h1.5v1.5h-1.5zM227.6 552.9h1.5v1.5h-1.5zM230.3 552.9h1.5v1.5h-1.5zM238.0 552.9h1.5v1.5h-1.5zM221.9 552.9h1.5v1.5h-1.5zM222.0 552.9h1.5v1.5h-1.5zM240.6 552.9h1.5v1.5h-1.5zM227.0 552.9h1.5v1.5h-1.5zM228.7 552.9h1.5v1.5h-1.5zM234.3 552.9h1.5v1.5h-1.5zM236.7 552.9h1.5v1.5h-1.5zM219.9 552.9h1.5v1.5h-1.5zM228.1 552.9h1.5v1.5h-1.5zM230.6 552.9h1.5v1.5h-1.5zM231.9 552.9h1.5v1.5h-1.5zM225.0 552.9h1.5v1.5h-1.5zM234.4 552.9h1.5v1.5h-1.5zM243.7 552.9h1.5v1.5h-1.5zM229.5 552.9h1.5v1.5h-1.5zM233.4 552.9h1.5v1.5h-1.5zM222.7 552.9h1.5v1.5h-1.5zM226.6 552.9h1.5v1.5h-1.5zM236.4 552.9h1.5v1.5h-1.5zM222.5 552.9h1.5v1.5h-1.5zM242.0 552.9h1.5v1.5h-1.5z" fill="#111"/>
<line x1="194.60" y1="553.60" x2="204.10" y2="553.60" stroke="#444" stroke-width="0.5"/>
<line x1="209.30" y1="553.60" x2="219.70" y2="553.60" stroke="#444" stroke-width="0.5"/>
<rect x="204.10" y="550.00" width="5.20" height="7.20" fill="#3a9fd8" stroke="#333" stroke-width="0.3"/>
<line x1="206.70" y1="550.00" x2="206.70" y2="557.20" stroke="#111" stroke-width="1.1"/>
<line x1="167.80" y1="564.50" x2="175.60" y2="564.50" stroke="#444" stroke-width="0.5"/>
<line x1="192.00" y1="564.50" x2="217.10" y2="564.50" stroke="#444" stroke-width="0.5"/>
<rect x="175.60" y="560.90" width="16.40" height="7.20" fill="#f5941d" stroke="#333" stroke-width="0.3"/>
<line x1="182.50" y1="560.90" x2="182.50" y2="568.10" stroke="#111" stroke-width="1.1"/>
<path d="M242.3 563.8h1.5v1.5h-1.5zM219.8 563.8h1.5v1.5h-1.5zM243.2 563.8h1.5v1.5h-1.5zM227.5 563.8h1.5v1.5h-1.5zM238.5 563.8h1.5v1.5h-1.5zM238.1 563.8h1.5v1.5h-1.5zM225.3 563.8h1.5v1.5h-1.5zM235.8 563.8h1.5v1.5h-1.5zM235.2 563.8h1.5v1.5h-1.5zM239.4 563.8h1.5v1.5h-1.5zM224.5 563.8h1.5v1.5h-1.5zM238.0 563.8h1.5v1.5h-1.5zM243.7 563.8h1.5v1.5h-1.5zM235.7 563.8h1.5v1.5h-1.5zM232.0 563.8h1.5v1.5h-1.5zM220.2 563.8h1.5v1.5h-1.5zM230.8 563.8h1.5v1.5h-1.5zM226.9 563.8h1.5v1.5h-1.5zM237.0 563.8h1.5v1.5h-1.5zM235.9 563.8h1.5v1.5h-1.5zM232.8 563.8h1.5v1.5h-1.5zM222.1 563.8h1.5v1.5h-1.5zM235.0 563.8h1.5v1.5h-1.5zM234.6 563.8h1.5v1.5h-1.5zM222.1 563.8h1.5v1.5h-1.5zM241.8 563.8h1.5v1.5h-1.5zM235.3 563.8h1.5v1.5h-1.5zM220.5 563.8h1.5v1.5h-1.5zM242.9 563.8h1.5v1.5h-1.5zM221.0 563.8h1.5v1.5h-1.5zM226.3 563.8h1.5v1.5h-1.5zM237.1 563.8h1.5v1.5h-1.5zM233.6 563.8h1.5v1.5h-1.5zM232.5 563.8h1.5v1.5h-1.5zM235.0 563.8h1.5v1.5h-1.5zM229.8 563.8h1.5v1.5h-1.5zM225.8 563.8h1.5v1.5h-1.5zM222.0 563.8h1.5v1.5h-1.5zM219.0 563.8h1.5v1.5h-1.5zM236.9 563.8h1.5v1.5h-1.5zM238.0 563.8h1.5v1.5h-1.5zM232.1 563.8h1.5v1.5h-1.5zM237.6 563.8h1.5v1.5h-1.5zM227.1 563.8h1.5v1.5h-1.5zM224.5 563.8h1.5v1.5h-1.5zM227.7 563.8h1.5v1.5h-1.5zM241.3 563.8h1.5v1.5h-1.5zM218.3 563.8h1.5v1.5h-1.5zM231.1 563.8h1.5v1.5h-1.5zM223.9 563.8h1.5v1.5h-1.5zM238.4 563.8h1.5v1.5h-1.5zM226.9 563.8h1.5v1.5h-1.5zM226.3 563.8h1.5v1.5h-1.5zM228.3 563.8h1.5v1.5h-1.5z" fill="#111"/>
<defs><filter id="fb" x="-30%" y="-30%" width="160%" height="160%"><feGaussianBlur stdDeviation="0.5"/></filter></defs>
<text x="79.20" y="617.30" font-size="6.6" text-anchor="middle" fill="#222" textLength="66" lengthAdjust="spacingAndGlyphs">Gated on CD8+ T cells</text>
<rect x="49.4" y="621.5" width="59.1" height="60.5" fill="none" stroke="#c8c8c8" stroke-width="0.5"/>
<line x1="49.40" y1="621.50" x2="49.40" y2="682.40" stroke="#222" stroke-width="0.8"/>
<line x1="49.00" y1="682.00" x2="108.50" y2="682.00" stroke="#222" stroke-width="0.8"/>
<line x1="47.60" y1="622.00" x2="49.40" y2="622.00" stroke="#222" stroke-width="0.7"/>
<line x1="47.60" y1="631.60" x2="49.40" y2="631.60" stroke="#222" stroke-width="0.7"/>
<line x1="47.60" y1="641.40" x2="49.40" y2="641.40" stroke="#222" stroke-width="0.7"/>
<line x1="47.60" y1="653.80" x2="49.40" y2="653.80" stroke="#222" stroke-width="0.7"/>
<line x1="47.60" y1="666.60" x2="49.40" y2="666.60" stroke="#222" stroke-width="0.7"/>
<line x1="47.60" y1="678.00" x2="49.40" y2="678.00" stroke="#222" stroke-width="0.7"/>
<line x1="48.40" y1="624.90" x2="49.40" y2="624.90" stroke="#444" stroke-width="0.5"/>
<line x1="48.40" y1="626.80" x2="49.40" y2="626.80" stroke="#444" stroke-width="0.5"/>
<line x1="48.40" y1="628.30" x2="49.40" y2="628.30" stroke="#444" stroke-width="0.5"/>
<line x1="48.40" y1="634.50" x2="49.40" y2="634.50" stroke="#444" stroke-width="0.5"/>
<line x1="48.40" y1="636.40" x2="49.40" y2="636.40" stroke="#444" stroke-width="0.5"/>
<line x1="48.40" y1="637.90" x2="49.40" y2="637.90" stroke="#444" stroke-width="0.5"/>
<line x1="48.40" y1="644.30" x2="49.40" y2="644.30" stroke="#444" stroke-width="0.5"/>
<line x1="48.40" y1="646.20" x2="49.40" y2="646.20" stroke="#444" stroke-width="0.5"/>
<line x1="48.40" y1="647.70" x2="49.40" y2="647.70" stroke="#444" stroke-width="0.5"/>
<line x1="48.40" y1="657.00" x2="49.40" y2="657.00" stroke="#444" stroke-width="0.5"/>
<line x1="48.40" y1="660.00" x2="49.40" y2="660.00" stroke="#444" stroke-width="0.5"/>
<line x1="48.40" y1="663.00" x2="49.40" y2="663.00" stroke="#444" stroke-width="0.5"/>
<line x1="48.40" y1="670.00" x2="49.40" y2="670.00" stroke="#444" stroke-width="0.5"/>
<line x1="48.40" y1="673.50" x2="49.40" y2="673.50" stroke="#444" stroke-width="0.5"/>
<line x1="48.40" y1="675.50" x2="49.40" y2="675.50" stroke="#444" stroke-width="0.5"/>
<rect x="47.80" y="665.20" width="1.60" height="2.80" fill="#111"/>
<text x="42.20" y="624.20" font-size="6.2" text-anchor="end" fill="#333">10<tspan font-size="3.84" dy="-2.4">7</tspan></text>
<text x="42.20" y="633.80" font-size="6.2" text-anchor="end" fill="#333">10<tspan font-size="3.84" dy="-2.4">6</tspan></text>
<text x="42.20" y="643.60" font-size="6.2" text-anchor="end" fill="#333">10<tspan font-size="3.84" dy="-2.4">5</tspan></text>
<text x="42.20" y="656.00" font-size="6.2" text-anchor="end" fill="#333">10<tspan font-size="3.84" dy="-2.4">4</tspan></text>
<text x="43.20" y="668.80" font-size="6.2" text-anchor="end" fill="#333">0</text>
<text x="42.20" y="680.20" font-size="6.2" text-anchor="end" fill="#333">–10<tspan font-size="3.84" dy="-2.4">4</tspan></text>
<line x1="63.00" y1="682.00" x2="63.00" y2="683.80" stroke="#222" stroke-width="0.7"/>
<line x1="86.50" y1="682.00" x2="86.50" y2="683.80" stroke="#222" stroke-width="0.7"/>
<line x1="101.40" y1="682.00" x2="101.40" y2="683.80" stroke="#222" stroke-width="0.7"/>
<text x="63.00" y="692.30" font-size="6.4" text-anchor="middle" fill="#333">0</text>
<text x="85.70" y="692.30" font-size="6.2" text-anchor="middle" fill="#333">10<tspan font-size="3.84" dy="-2.4">5</tspan></text>
<text x="103.40" y="692.30" font-size="6.2" text-anchor="middle" fill="#333">10<tspan font-size="3.84" dy="-2.4">7</tspan></text>
<text x="78.80" y="705.40" font-size="8.7" text-anchor="middle" fill="#333" textLength="44" lengthAdjust="spacingAndGlyphs">CD95 (BV650)</text>
<text x="26.40" y="652.50" font-size="8.2" text-anchor="middle" fill="#333" transform="rotate(-90 26.4 652.5)" textLength="58.4" lengthAdjust="spacingAndGlyphs">CCR7 (Pacific Blue)</text>
<g filter="url(#fb)"><ellipse cx="72.2" cy="664.8" rx="7.2" ry="2.8" fill="#8fd0b8" fill-opacity="0.5" stroke="#3aa885" stroke-width="0.6"/><ellipse cx="72.0" cy="664.9" rx="5.0" ry="1.7" fill="none" stroke="#3aa885" stroke-width="0.6"/><path d="M66.5,663.5 C67.5,656 69.5,648.5 71.5,648.5 C74,648.5 76.8,656 78.5,663.5" fill="#8fd0b8" fill-opacity="0.35" stroke="#3aa885" stroke-width="0.5"/><path d="M68.5,663.2 C69.2,657 70.5,652 71.8,652 C73.2,652 74.8,657 76.0,663.2" fill="none" stroke="#8fd0b8" stroke-width="0.5"/><path d="M70.3,663 C70.6,659 71.2,656 72,656 C72.8,656 73.4,659 73.8,663" fill="none" stroke="#3aa885" stroke-width="0.4"/><ellipse cx="64.2" cy="650.0" rx="1.9" ry="3.3" fill="#8fd0b8" fill-opacity="0.5" stroke="#3aa885" stroke-width="0.6"/><ellipse cx="64.2" cy="650.2" rx="0.9" ry="1.8" fill="none" stroke="#3aa885" stroke-width="0.4"/><path d="M75,651 C77,652 79,656 80,660" fill="none" stroke="#8fd0b8" stroke-width="0.4"/></g>
<rect x="59.4" y="644.9" width="8.2" height="10.3" fill="none" stroke="#333" stroke-width="0.5"/>
<path d="M67.6,644.9 H82 V668.5 H63.75 V662.2 H67.6 Z" fill="none" stroke="#333" stroke-width="0.5"/>
<text x="70.40" y="638.20" font-size="3.2" text-anchor="middle" fill="#555" textLength="22" lengthAdjust="spacingAndGlyphs">Naive Memory</text>
<text x="63.30" y="642.40" font-size="3.2" text-anchor="middle" fill="#a05050">11.2</text>
<text x="74.80" y="642.40" font-size="3.2" text-anchor="middle" fill="#a05050">81.4</text>
<text x="188.70" y="617.30" font-size="6.6" text-anchor="middle" fill="#222" textLength="70" lengthAdjust="spacingAndGlyphs">Gated on Memory cells</text>
<rect x="159.8" y="621.5" width="59.79999999999998" height="59.299999999999955" fill="none" stroke="#c8c8c8" stroke-width="0.5"/>
<line x1="159.80" y1="621.50" x2="159.80" y2="681.20" stroke="#222" stroke-width="0.8"/>
<line x1="159.40" y1="680.80" x2="219.60" y2="680.80" stroke="#222" stroke-width="0.8"/>
<line x1="158.00" y1="622.00" x2="159.80" y2="622.00" stroke="#222" stroke-width="0.7"/>
<line x1="158.00" y1="631.60" x2="159.80" y2="631.60" stroke="#222" stroke-width="0.7"/>
<line x1="158.00" y1="641.40" x2="159.80" y2="641.40" stroke="#222" stroke-width="0.7"/>
<line x1="158.00" y1="653.80" x2="159.80" y2="653.80" stroke="#222" stroke-width="0.7"/>
<line x1="158.00" y1="666.60" x2="159.80" y2="666.60" stroke="#222" stroke-width="0.7"/>
<line x1="158.00" y1="678.00" x2="159.80" y2="678.00" stroke="#222" stroke-width="0.7"/>
<line x1="158.80" y1="624.90" x2="159.80" y2="624.90" stroke="#444" stroke-width="0.5"/>
<line x1="158.80" y1="626.80" x2="159.80" y2="626.80" stroke="#444" stroke-width="0.5"/>
<line x1="158.80" y1="628.30" x2="159.80" y2="628.30" stroke="#444" stroke-width="0.5"/>
<line x1="158.80" y1="634.50" x2="159.80" y2="634.50" stroke="#444" stroke-width="0.5"/>
<line x1="158.80" y1="636.40" x2="159.80" y2="636.40" stroke="#444" stroke-width="0.5"/>
<line x1="158.80" y1="637.90" x2="159.80" y2="637.90" stroke="#444" stroke-width="0.5"/>
<line x1="158.80" y1="644.30" x2="159.80" y2="644.30" stroke="#444" stroke-width="0.5"/>
<line x1="158.80" y1="646.20" x2="159.80" y2="646.20" stroke="#444" stroke-width="0.5"/>
<line x1="158.80" y1="647.70" x2="159.80" y2="647.70" stroke="#444" stroke-width="0.5"/>
<line x1="158.80" y1="657.00" x2="159.80" y2="657.00" stroke="#444" stroke-width="0.5"/>
<line x1="158.80" y1="660.00" x2="159.80" y2="660.00" stroke="#444" stroke-width="0.5"/>
<line x1="158.80" y1="663.00" x2="159.80" y2="663.00" stroke="#444" stroke-width="0.5"/>
<line x1="158.80" y1="670.00" x2="159.80" y2="670.00" stroke="#444" stroke-width="0.5"/>
<line x1="158.80" y1="673.50" x2="159.80" y2="673.50" stroke="#444" stroke-width="0.5"/>
<line x1="158.80" y1="675.50" x2="159.80" y2="675.50" stroke="#444" stroke-width="0.5"/>
<rect x="158.20" y="665.20" width="1.60" height="2.80" fill="#111"/>
<text x="152.60" y="624.20" font-size="6.2" text-anchor="end" fill="#333">10<tspan font-size="3.84" dy="-2.4">7</tspan></text>
<text x="152.60" y="633.80" font-size="6.2" text-anchor="end" fill="#333">10<tspan font-size="3.84" dy="-2.4">6</tspan></text>
<text x="152.60" y="643.60" font-size="6.2" text-anchor="end" fill="#333">10<tspan font-size="3.84" dy="-2.4">5</tspan></text>
<text x="152.60" y="656.00" font-size="6.2" text-anchor="end" fill="#333">10<tspan font-size="3.84" dy="-2.4">4</tspan></text>
<text x="153.60" y="668.80" font-size="6.2" text-anchor="end" fill="#333">0</text>
<text x="152.60" y="680.20" font-size="6.2" text-anchor="end" fill="#333">–10<tspan font-size="3.84" dy="-2.4">4</tspan></text>
<line x1="165.80" y1="680.80" x2="165.80" y2="682.60" stroke="#222" stroke-width="0.7"/>
<line x1="182.50" y1="680.80" x2="182.50" y2="682.60" stroke="#222" stroke-width="0.7"/>
<line x1="200.20" y1="680.80" x2="200.20" y2="682.60" stroke="#222" stroke-width="0.7"/>
<line x1="214.00" y1="680.80" x2="214.00" y2="682.60" stroke="#222" stroke-width="0.7"/>
<text x="167.30" y="691.00" font-size="6.2" text-anchor="middle" fill="#333">–10<tspan font-size="3.84" dy="-2.4">4</tspan></text>
<text x="182.50" y="691.00" font-size="6.2" text-anchor="middle" fill="#333">0</text>
<text x="198.60" y="691.00" font-size="6.2" text-anchor="middle" fill="#333">10<tspan font-size="3.84" dy="-2.4">4</tspan></text>
<text x="212.40" y="691.00" font-size="6.2" text-anchor="middle" fill="#333">10<tspan font-size="3.84" dy="-2.4">5</tspan></text>
<text x="189.10" y="705.50" font-size="9.0" text-anchor="middle" fill="#333" textLength="52.5" lengthAdjust="spacingAndGlyphs">CX3CR1 (BV750)</text>
<text x="136.40" y="652.50" font-size="8.0" text-anchor="middle" fill="#333" transform="rotate(-90 136.4 652.5)" textLength="48" lengthAdjust="spacingAndGlyphs">CD127 (BV711)</text>
<g filter="url(#fb)"><path d="M186,662.5 C192,660 200,659.5 208,662 C209,665 204,667.5 196,667 C191,666.8 188,666 186,665" fill="#9fd4ee" fill-opacity="0.18" stroke="#9fd4ee" stroke-width="0.5"/><path d="M187,663.5 C193,662 199,662 205,663.5 M187,665.5 C193,665 199,665.5 203,665.8" fill="none" stroke="#9fd4ee" stroke-width="0.4"/><ellipse cx="182.4" cy="664.6" rx="3.6" ry="2.6" fill="#9fd4ee" fill-opacity="0.6" stroke="#3aa6d8" stroke-width="0.7"/><ellipse cx="182.4" cy="664.6" rx="1.6" ry="1.1" fill="none" stroke="#3aa6d8" stroke-width="0.5"/><path d="M177.6,649 C177.6,645 180,644 182.4,644 C185.5,644 187.5,646 187.2,650 C187,653 185,654 184.5,657 L180.3,657 C179.8,654 177.6,653 177.6,649 Z" fill="#9fd4ee" fill-opacity="0.55" stroke="#3aa6d8" stroke-width="0.7"/><path d="M180,649.5 C180,647 181,646.3 182.4,646.3 C184,646.3 185,647.5 184.8,649.8 C184.6,651.5 183.5,652.5 183.3,655 L181.5,655 C181.3,652.5 180,651.5 180,649.5 Z" fill="none" stroke="#3aa6d8" stroke-width="0.6"/><path d="M175.5,647 C175,652 176,656 179,658 M186,646 C189,648 190,652 188,657" fill="none" stroke="#9fd4ee" stroke-width="0.5"/></g>
<rect x="173.5" y="638.5" width="17.9" height="21.5" fill="none" stroke="#333" stroke-width="0.5"/>
<text x="182.40" y="631.00" font-size="3.0" text-anchor="middle" fill="#777">CX3CR1–</text>
<text x="182.40" y="635.60" font-size="3.2" text-anchor="middle" fill="#555">44.9</text>
<text x="265.90" y="617.30" font-size="6.6" text-anchor="middle" fill="#222" textLength="69" lengthAdjust="spacingAndGlyphs">Gated on CD127+ cells</text>
<rect x="235.4" y="621.5" width="60.599999999999994" height="59.799999999999955" fill="none" stroke="#c8c8c8" stroke-width="0.5"/>
<line x1="235.40" y1="621.50" x2="235.40" y2="681.70" stroke="#222" stroke-width="0.8"/>
<line x1="235.00" y1="681.30" x2="296.00" y2="681.30" stroke="#222" stroke-width="0.8"/>
<line x1="233.60" y1="622.00" x2="235.40" y2="622.00" stroke="#222" stroke-width="0.7"/>
<line x1="233.60" y1="631.60" x2="235.40" y2="631.60" stroke="#222" stroke-width="0.7"/>
<line x1="233.60" y1="641.40" x2="235.40" y2="641.40" stroke="#222" stroke-width="0.7"/>
<line x1="233.60" y1="653.80" x2="235.40" y2="653.80" stroke="#222" stroke-width="0.7"/>
<line x1="233.60" y1="666.60" x2="235.40" y2="666.60" stroke="#222" stroke-width="0.7"/>
<line x1="233.60" y1="678.00" x2="235.40" y2="678.00" stroke="#222" stroke-width="0.7"/>
<line x1="234.40" y1="624.90" x2="235.40" y2="624.90" stroke="#444" stroke-width="0.5"/>
<line x1="234.40" y1="626.80" x2="235.40" y2="626.80" stroke="#444" stroke-width="0.5"/>
<line x1="234.40" y1="628.30" x2="235.40" y2="628.30" stroke="#444" stroke-width="0.5"/>
<line x1="234.40" y1="634.50" x2="235.40" y2="634.50" stroke="#444" stroke-width="0.5"/>
<line x1="234.40" y1="636.40" x2="235.40" y2="636.40" stroke="#444" stroke-width="0.5"/>
<line x1="234.40" y1="637.90" x2="235.40" y2="637.90" stroke="#444" stroke-width="0.5"/>
<line x1="234.40" y1="644.30" x2="235.40" y2="644.30" stroke="#444" stroke-width="0.5"/>
<line x1="234.40" y1="646.20" x2="235.40" y2="646.20" stroke="#444" stroke-width="0.5"/>
<line x1="234.40" y1="647.70" x2="235.40" y2="647.70" stroke="#444" stroke-width="0.5"/>
<line x1="234.40" y1="657.00" x2="235.40" y2="657.00" stroke="#444" stroke-width="0.5"/>
<line x1="234.40" y1="660.00" x2="235.40" y2="660.00" stroke="#444" stroke-width="0.5"/>
<line x1="234.40" y1="663.00" x2="235.40" y2="663.00" stroke="#444" stroke-width="0.5"/>
<line x1="234.40" y1="670.00" x2="235.40" y2="670.00" stroke="#444" stroke-width="0.5"/>
<line x1="234.40" y1="673.50" x2="235.40" y2="673.50" stroke="#444" stroke-width="0.5"/>
<line x1="234.40" y1="675.50" x2="235.40" y2="675.50" stroke="#444" stroke-width="0.5"/>
<rect x="233.80" y="665.20" width="1.60" height="2.80" fill="#111"/>
<line x1="250.20" y1="681.30" x2="250.20" y2="683.10" stroke="#222" stroke-width="0.7"/>
<line x1="271.70" y1="681.30" x2="271.70" y2="683.10" stroke="#222" stroke-width="0.7"/>
<line x1="291.40" y1="681.30" x2="291.40" y2="683.10" stroke="#222" stroke-width="0.7"/>
<text x="250.20" y="691.20" font-size="6.2" text-anchor="middle" fill="#333">0</text>
<text x="270.00" y="691.20" font-size="6.2" text-anchor="middle" fill="#333">10<tspan font-size="3.84" dy="-2.4">5</tspan></text>
<text x="289.70" y="691.20" font-size="6.2" text-anchor="middle" fill="#333">10<tspan font-size="3.84" dy="-2.4">7</tspan></text>
<text x="265.60" y="705.50" font-size="9.0" text-anchor="middle" fill="#333" textLength="72" lengthAdjust="spacingAndGlyphs">GZMK (Alexa Fluor 647)</text>
<g filter="url(#fb)"><ellipse cx="255.5" cy="650.6" rx="4.0" ry="6.6" fill="#f2a4a8" fill-opacity="0.55" stroke="#e0505a" stroke-width="0.6"/><ellipse cx="255.3" cy="650.4" rx="2.4" ry="3.8" fill="none" stroke="#e0505a" stroke-width="0.6"/><ellipse cx="255.1" cy="650.0" rx="1.0" ry="1.6" fill="#fde8ea" stroke="#e0505a" stroke-width="0.5"/><ellipse cx="270.9" cy="653.0" rx="8.5" ry="7.0" fill="#f2a4a8" fill-opacity="0.45" stroke="#e0505a" stroke-width="0.6"/><ellipse cx="271.0" cy="653.0" rx="5.8" ry="4.8" fill="none" stroke="#e0505a" stroke-width="0.6"/><ellipse cx="271.2" cy="653.2" rx="3.2" ry="2.8" fill="none" stroke="#f2a4a8" stroke-width="0.6"/><path d="M259,648 L262.5,647.5 M259,655 L262.5,656" stroke="#f2a4a8" stroke-width="0.5"/></g>
<rect x="260.8" y="641.3" width="21.7" height="23.9" fill="none" stroke="#5f7380" stroke-width="0.6"/>
<text x="271.20" y="637.60" font-size="3.2" text-anchor="middle" fill="#555">60.7</text>
<line x1="376.90" y1="398.90" x2="376.90" y2="438.40" stroke="#222" stroke-width="0.9"/>
<line x1="376.45" y1="438.00" x2="437.70" y2="438.00" stroke="#222" stroke-width="0.9"/>
<line x1="374.00" y1="406.50" x2="376.90" y2="406.50" stroke="#222" stroke-width="0.7"/>
<text x="370.40" y="408.70" font-size="6.2" text-anchor="end" fill="#333">40</text>
<line x1="374.00" y1="415.20" x2="376.90" y2="415.20" stroke="#222" stroke-width="0.7"/>
<text x="370.40" y="417.40" font-size="6.2" text-anchor="end" fill="#333">30</text>
<line x1="374.00" y1="424.20" x2="376.90" y2="424.20" stroke="#222" stroke-width="0.7"/>
<text x="370.40" y="426.40" font-size="6.2" text-anchor="end" fill="#333">20</text>
<line x1="374.00" y1="432.90" x2="376.90" y2="432.90" stroke="#222" stroke-width="0.7"/>
<text x="370.40" y="435.10" font-size="6.2" text-anchor="end" fill="#333">10</text>
<line x1="393.40" y1="438.00" x2="393.40" y2="440.20" stroke="#222" stroke-width="0.7"/>
<line x1="420.90" y1="438.00" x2="420.90" y2="440.20" stroke="#222" stroke-width="0.7"/>
<text x="358.40" y="417.80" font-size="8.4" text-anchor="middle" fill="#333" transform="rotate(-90 358.4 417.8)" textLength="43.9" lengthAdjust="spacingAndGlyphs">Proportion [%]</text>
<line x1="394.20" y1="417.70" x2="394.20" y2="436.30" stroke="#333" stroke-width="0.5"/>
<rect x="383.10" y="424.60" width="20.60" height="3.80" fill="#d98c2b" stroke="#4a3010" stroke-width="0.5"/>
<line x1="383.10" y1="426.50" x2="403.70" y2="426.50" stroke="#222" stroke-width="1.0"/>
<line x1="420.90" y1="399.80" x2="420.90" y2="435.40" stroke="#333" stroke-width="0.5"/>
<rect x="410.80" y="406.50" width="20.20" height="13.10" fill="#1f7a5e" stroke="#333" stroke-width="0.5"/>
<line x1="410.80" y1="414.80" x2="431.00" y2="414.80" stroke="#111" stroke-width="0.9"/>
<circle cx="394" cy="417.7" r="1.25" fill="#111"/>
<circle cx="390.8" cy="424.2" r="1.25" fill="#111"/>
<circle cx="397.9" cy="424.2" r="1.25" fill="#111"/>
<circle cx="393.1" cy="426.7" r="1.25" fill="#111"/>
<circle cx="387.3" cy="426.7" r="1.25" fill="#111"/>
<circle cx="396" cy="428.1" r="1.25" fill="#111"/>
<circle cx="396" cy="432.5" r="1.25" fill="#111"/>
<circle cx="394.6" cy="436.3" r="1.25" fill="#111"/>
<circle cx="399.5" cy="426.0" r="1.25" fill="#111"/>
<circle cx="417.7" cy="399.8" r="1.25" fill="#111"/>
<circle cx="421.5" cy="402.3" r="1.25" fill="#111"/>
<circle cx="418.5" cy="406.9" r="1.25" fill="#111"/>
<circle cx="420" cy="411.9" r="1.25" fill="#111"/>
<circle cx="416.5" cy="417.7" r="1.25" fill="#111"/>
<circle cx="419" cy="418.1" r="1.25" fill="#111"/>
<circle cx="420" cy="422.3" r="1.25" fill="#111"/>
<circle cx="420.4" cy="427.3" r="1.25" fill="#111"/>
<circle cx="421" cy="434.4" r="1.25" fill="#111"/>
<circle cx="423" cy="414.5" r="1.25" fill="#111"/>
<text x="407.00" y="403.80" font-size="7.0" text-anchor="middle" fill="#333">**</text>
<text x="395.60" y="446.80" font-size="6.6" text-anchor="end" fill="#333" transform="rotate(-42 395.6 446.8)" textLength="36.5" lengthAdjust="spacingAndGlyphs">NonRes_bas</text>
<text x="423.00" y="446.80" font-size="6.6" text-anchor="end" fill="#333" transform="rotate(-42 423.0 446.8)" textLength="24.5" lengthAdjust="spacingAndGlyphs">Res_bas</text>
<text x="445.50" y="414.30" font-size="6.8" fill="#333">condition</text>
<circle cx="447.5" cy="420.2" r="1.3" fill="#1a1208"/>
<circle cx="447.5" cy="427.7" r="1.3" fill="#08140f"/>
<text x="452.90" y="422.40" font-size="6.6" fill="#333" textLength="36.1" lengthAdjust="spacingAndGlyphs">NonRes_bas</text>
<text x="452.90" y="429.90" font-size="6.6" fill="#333" textLength="23.8" lengthAdjust="spacingAndGlyphs">Res_bas</text>
<path d="M361.0,507.8 H384.2 V514.3 H388.0 V516.5 H421.8 V558.8 H388.0 V552.4 H384.2 V545.3 H364.8 V524.6 H361.0 Z" fill="#7f8fc9" fill-opacity="0.42"/>
<path d="M361.0,507.8 H476.5 V524.9 H361.0 Z" fill="#e8806f" fill-opacity="0.46"/>
<line x1="349.20" y1="505.00" x2="349.20" y2="575.80" stroke="#222" stroke-width="0.9"/>
<line x1="348.75" y1="575.40" x2="513.00" y2="575.40" stroke="#222" stroke-width="0.9"/>
<line x1="347.00" y1="507.80" x2="349.20" y2="507.80" stroke="#222" stroke-width="0.6"/>
<text x="342.60" y="510.10" font-size="6.4" text-anchor="end" fill="#333">1.00</text>
<line x1="347.00" y1="523.95" x2="349.20" y2="523.95" stroke="#222" stroke-width="0.6"/>
<text x="342.60" y="526.25" font-size="6.4" text-anchor="end" fill="#333">0.75</text>
<line x1="347.00" y1="540.10" x2="349.20" y2="540.10" stroke="#222" stroke-width="0.6"/>
<text x="342.60" y="542.40" font-size="6.4" text-anchor="end" fill="#333">0.50</text>
<line x1="347.00" y1="556.25" x2="349.20" y2="556.25" stroke="#222" stroke-width="0.6"/>
<text x="342.60" y="558.55" font-size="6.4" text-anchor="end" fill="#333">0.25</text>
<line x1="347.00" y1="572.40" x2="349.20" y2="572.40" stroke="#222" stroke-width="0.6"/>
<text x="342.60" y="574.70" font-size="6.4" text-anchor="end" fill="#333">0.00</text>
<line x1="356.50" y1="575.40" x2="356.50" y2="577.60" stroke="#222" stroke-width="0.6"/>
<text x="356.50" y="588.00" font-size="7.2" text-anchor="middle" fill="#333">0</text>
<line x1="371.50" y1="575.40" x2="371.50" y2="577.60" stroke="#222" stroke-width="0.6"/>
<text x="371.50" y="588.00" font-size="7.2" text-anchor="middle" fill="#333">1</text>
<line x1="386.50" y1="575.40" x2="386.50" y2="577.60" stroke="#222" stroke-width="0.6"/>
<text x="386.50" y="588.00" font-size="7.2" text-anchor="middle" fill="#333">2</text>
<line x1="401.50" y1="575.40" x2="401.50" y2="577.60" stroke="#222" stroke-width="0.6"/>
<text x="401.50" y="588.00" font-size="7.2" text-anchor="middle" fill="#333">3</text>
<line x1="416.50" y1="575.40" x2="416.50" y2="577.60" stroke="#222" stroke-width="0.6"/>
<text x="416.50" y="588.00" font-size="7.2" text-anchor="middle" fill="#333">4</text>
<line x1="431.50" y1="575.40" x2="431.50" y2="577.60" stroke="#222" stroke-width="0.6"/>
<text x="431.50" y="588.00" font-size="7.2" text-anchor="middle" fill="#333">5</text>
<line x1="446.50" y1="575.40" x2="446.50" y2="577.60" stroke="#222" stroke-width="0.6"/>
<text x="446.50" y="588.00" font-size="7.2" text-anchor="middle" fill="#333">6</text>
<line x1="461.50" y1="575.40" x2="461.50" y2="577.60" stroke="#222" stroke-width="0.6"/>
<text x="461.50" y="588.00" font-size="7.2" text-anchor="middle" fill="#333">7</text>
<line x1="476.50" y1="575.40" x2="476.50" y2="577.60" stroke="#222" stroke-width="0.6"/>
<text x="476.50" y="588.00" font-size="7.2" text-anchor="middle" fill="#333">8</text>
<line x1="491.50" y1="575.40" x2="491.50" y2="577.60" stroke="#222" stroke-width="0.6"/>
<text x="491.50" y="588.00" font-size="7.2" text-anchor="middle" fill="#333">9</text>
<line x1="506.50" y1="575.40" x2="506.50" y2="577.60" stroke="#222" stroke-width="0.6"/>
<text x="506.50" y="588.00" font-size="7.2" text-anchor="middle" fill="#333">10</text>
<text x="324.40" y="540.30" font-size="7.8" text-anchor="middle" fill="#333" transform="rotate(-90 324.4 540.3)" textLength="59.4" lengthAdjust="spacingAndGlyphs">Survival probability</text>
<text x="431.85" y="599.70" font-size="8.0" text-anchor="middle" fill="#333" textLength="85.9" lengthAdjust="spacingAndGlyphs">Overall survival time (years)</text>
<path d="M356.5,540.1 H388.0 V572.4" fill="none" stroke="#333" stroke-width="0.6" stroke-dasharray="1.6,1.2"/>
<path d="M356.5,507.8 H361.0 V514.3 H476.5" fill="none" stroke="#c21c48" stroke-width="1.3"/>
<line x1="375.25" y1="512.06" x2="375.25" y2="516.46" stroke="#c21c48" stroke-width="0.7"/>
<line x1="388.00" y1="512.06" x2="388.00" y2="516.46" stroke="#c21c48" stroke-width="0.7"/>
<line x1="394.00" y1="512.06" x2="394.00" y2="516.46" stroke="#c21c48" stroke-width="0.7"/>
<line x1="397.00" y1="512.06" x2="397.00" y2="516.46" stroke="#c21c48" stroke-width="0.7"/>
<line x1="397.75" y1="512.06" x2="397.75" y2="516.46" stroke="#c21c48" stroke-width="0.7"/>
<line x1="399.25" y1="512.06" x2="399.25" y2="516.46" stroke="#c21c48" stroke-width="0.7"/>
<line x1="401.50" y1="512.06" x2="401.50" y2="516.46" stroke="#c21c48" stroke-width="0.7"/>
<line x1="431.50" y1="512.06" x2="431.50" y2="516.46" stroke="#c21c48" stroke-width="0.7"/>
<line x1="445.75" y1="512.06" x2="445.75" y2="516.46" stroke="#c21c48" stroke-width="0.7"/>
<line x1="476.50" y1="512.06" x2="476.50" y2="516.46" stroke="#c21c48" stroke-width="0.7"/>
<path d="M356.5,507.8 H361.0 V513.6 H364.8 V531.3 H384.2 V538.2 H388.0 V545.0 H421.8 V572.4" fill="none" stroke="#1f4a7c" stroke-width="1.3"/>
<line x1="374.50" y1="529.11" x2="374.50" y2="533.51" stroke="#1f4a7c" stroke-width="0.7"/>
<line x1="400.00" y1="542.81" x2="400.00" y2="547.21" stroke="#1f4a7c" stroke-width="0.7"/>
<line x1="414.25" y1="542.81" x2="414.25" y2="547.21" stroke="#1f4a7c" stroke-width="0.7"/>
<text x="433.00" y="536.00" font-size="6.6" fill="#333" textLength="25.4" lengthAdjust="spacingAndGlyphs">Log-rank</text>
<text x="433.0" y="543.6" font-size="6.6" fill="#333"><tspan font-style="italic">P</tspan> = .014</text>
<text x="442.00" y="553.60" font-size="6.7" fill="#333" textLength="57.8" lengthAdjust="spacingAndGlyphs">Early Tm/Term ratio</text>
<path d="M439.4,560.6 h4.2 M441.5,558.5 v4.2" stroke="#c21c48" stroke-width="1.3"/>
<path d="M439.4,569.2 h4.2 M441.5,567.1 v4.2" stroke="#2a7ab0" stroke-width="1.3"/>
<text x="447.30" y="562.80" font-size="6.7" fill="#333" textLength="63.5" lengthAdjust="spacingAndGlyphs">Early Tm/Term = high</text>
<text x="447.30" y="571.50" font-size="6.7" fill="#333" textLength="61.2" lengthAdjust="spacingAndGlyphs">Early Tm/Term = low</text>
<text x="349.40" y="610.80" font-size="5.9" fill="#333" textLength="43.1" lengthAdjust="spacingAndGlyphs">Number at risk</text>
<line x1="343.50" y1="618.70" x2="347.70" y2="618.70" stroke="#c83c64" stroke-width="1.4"/>
<line x1="343.50" y1="628.40" x2="347.70" y2="628.40" stroke="#333" stroke-width="1.4"/>
<text x="356.50" y="621.40" font-size="7.2" text-anchor="middle" fill="#c83c64">10</text>
<text x="356.50" y="631.00" font-size="7.2" text-anchor="middle" fill="#3a6a9a">11</text>
<text x="371.50" y="621.40" font-size="7.2" text-anchor="middle" fill="#c83c64">9</text>
<text x="371.50" y="631.00" font-size="7.2" text-anchor="middle" fill="#3a6a9a">7</text>
<text x="386.50" y="621.40" font-size="7.2" text-anchor="middle" fill="#c83c64">8</text>
<text x="386.50" y="631.00" font-size="7.2" text-anchor="middle" fill="#3a6a9a">5</text>
<text x="401.50" y="621.40" font-size="7.2" text-anchor="middle" fill="#c83c64">4</text>
<text x="401.50" y="631.00" font-size="7.2" text-anchor="middle" fill="#3a6a9a">2</text>
<text x="416.50" y="621.40" font-size="7.2" text-anchor="middle" fill="#c83c64">3</text>
<text x="416.50" y="631.00" font-size="7.2" text-anchor="middle" fill="#3a6a9a">1</text>
<text x="431.50" y="621.40" font-size="7.2" text-anchor="middle" fill="#c83c64">3</text>
<text x="431.50" y="631.00" font-size="7.2" text-anchor="middle" fill="#3a6a9a">0</text>
<text x="446.50" y="621.40" font-size="7.2" text-anchor="middle" fill="#c83c64">1</text>
<text x="446.50" y="631.00" font-size="7.2" text-anchor="middle" fill="#3a6a9a">0</text>
<text x="461.50" y="621.40" font-size="7.2" text-anchor="middle" fill="#c83c64">1</text>
<text x="461.50" y="631.00" font-size="7.2" text-anchor="middle" fill="#3a6a9a">0</text>
<text x="476.50" y="621.40" font-size="7.2" text-anchor="middle" fill="#c83c64">0</text>
<text x="476.50" y="631.00" font-size="7.2" text-anchor="middle" fill="#3a6a9a">0</text>
<text x="491.50" y="621.40" font-size="7.2" text-anchor="middle" fill="#c83c64">0</text>
<text x="491.50" y="631.00" font-size="7.2" text-anchor="middle" fill="#3a6a9a">0</text>
<text x="506.50" y="621.40" font-size="7.2" text-anchor="middle" fill="#c83c64">0</text>
<text x="506.50" y="631.00" font-size="7.2" text-anchor="middle" fill="#3a6a9a">0</text>
<text x="87.70" y="17.00" font-size="11.6" font-weight="bold" fill="#111">A</text>
<text x="6.80" y="158.20" font-size="11.6" font-weight="bold" fill="#111">B</text>
<text x="253.50" y="158.20" font-size="11.6" font-weight="bold" fill="#111">C</text>
<text x="6.80" y="388.20" font-size="11.6" font-weight="bold" fill="#111">D</text>
<text x="6.80" y="502.20" font-size="11.6" font-weight="bold" fill="#111">E</text>
<text x="6.80" y="610.20" font-size="11.6" font-weight="bold" fill="#111">F</text>
<text x="331.80" y="388.50" font-size="11.6" font-weight="bold" fill="#111">G</text>
<text x="305.60" y="502.20" font-size="11.6" font-weight="bold" fill="#111">H</text>
<rect x="0.5" y="0.5" width="519" height="713" fill="none" stroke="#4a4a4a" stroke-width="1"/>
</svg></body></html>
